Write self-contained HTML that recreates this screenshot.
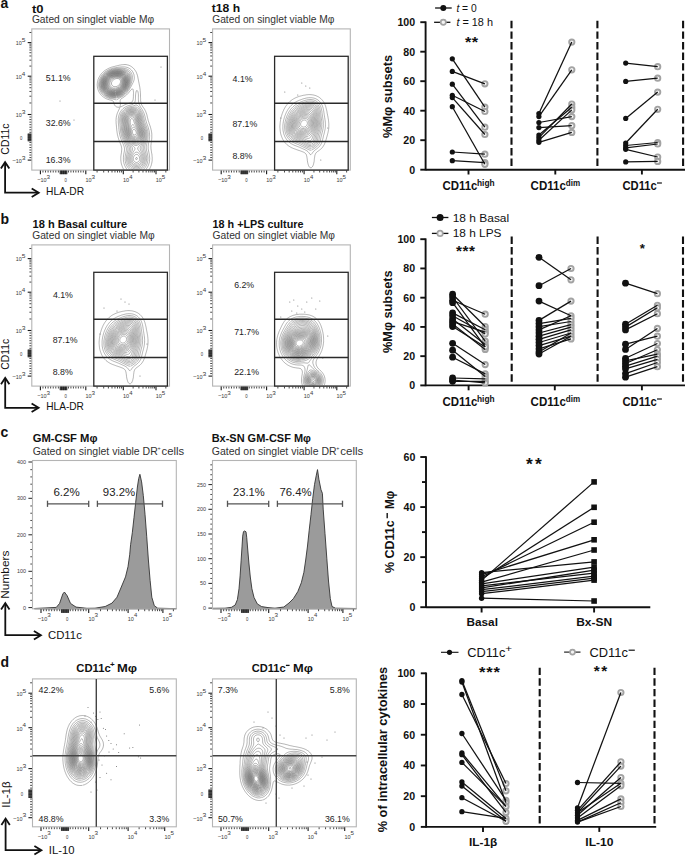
<!DOCTYPE html>
<html><head><meta charset="utf-8"><style>
html,body{margin:0;padding:0;background:#fff;}
body{width:685px;height:856px;overflow:hidden;}
svg{display:block;font-family:"Liberation Sans",sans-serif;}
</style></head><body>
<svg width="685" height="856" viewBox="0 0 685 856">
<rect width="685" height="856" fill="#fff"/>
<line x1="425.6" y1="21.4" x2="425.6" y2="170.5" stroke="#111" stroke-width="1.9"/>
<line x1="420.3" y1="22.2" x2="425.6" y2="22.2" stroke="#111" stroke-width="1.9"/>
<text x="397.41" y="26.2" font-size="11.2" font-weight="bold" fill="#111" textLength="17.75" lengthAdjust="spacingAndGlyphs">100</text>
<line x1="420.3" y1="51.7" x2="425.6" y2="51.7" stroke="#111" stroke-width="1.9"/>
<text x="403.3" y="55.7" font-size="11.2" font-weight="bold" fill="#111" textLength="11.83" lengthAdjust="spacingAndGlyphs">80</text>
<line x1="420.3" y1="81.2" x2="425.6" y2="81.2" stroke="#111" stroke-width="1.9"/>
<text x="403.3" y="85.2" font-size="11.2" font-weight="bold" fill="#111" textLength="11.83" lengthAdjust="spacingAndGlyphs">60</text>
<line x1="420.3" y1="110.7" x2="425.6" y2="110.7" stroke="#111" stroke-width="1.9"/>
<text x="403.3" y="114.7" font-size="11.2" font-weight="bold" fill="#111" textLength="11.83" lengthAdjust="spacingAndGlyphs">40</text>
<line x1="420.3" y1="140.2" x2="425.6" y2="140.2" stroke="#111" stroke-width="1.9"/>
<text x="403.3" y="144.2" font-size="11.2" font-weight="bold" fill="#111" textLength="11.83" lengthAdjust="spacingAndGlyphs">20</text>
<line x1="420.3" y1="169.7" x2="425.6" y2="169.7" stroke="#111" stroke-width="1.9"/>
<text x="409.24" y="173.7" font-size="11.2" font-weight="bold" fill="#111" textLength="5.92" lengthAdjust="spacingAndGlyphs">0</text>
<line x1="425.6" y1="169.7" x2="685" y2="169.7" stroke="#111" stroke-width="1.9"/>
<line x1="468.5" y1="169.7" x2="468.5" y2="174.5" stroke="#111" stroke-width="1.9"/>
<line x1="555.3" y1="169.7" x2="555.3" y2="174.5" stroke="#111" stroke-width="1.9"/>
<line x1="641.9" y1="169.7" x2="641.9" y2="174.5" stroke="#111" stroke-width="1.9"/>
<line x1="511.5" y1="20.8" x2="511.5" y2="169.7" stroke="#111" stroke-width="2.1" stroke-dasharray="7.4 3.2"/>
<line x1="597.4" y1="20.8" x2="597.4" y2="169.7" stroke="#111" stroke-width="2.1" stroke-dasharray="7.4 3.2"/>
<line x1="683.1" y1="20.8" x2="683.1" y2="169.7" stroke="#111" stroke-width="2.1" stroke-dasharray="7.4 3.2"/>
<circle cx="484.9" cy="83.8" r="2.65" fill="#f4f4f4" stroke="#a3a3a3" stroke-width="1.9"/>
<circle cx="484.9" cy="107.1" r="2.65" fill="#f4f4f4" stroke="#a3a3a3" stroke-width="1.9"/>
<circle cx="484.9" cy="111.5" r="2.65" fill="#f4f4f4" stroke="#a3a3a3" stroke-width="1.9"/>
<circle cx="484.9" cy="127.2" r="2.65" fill="#f4f4f4" stroke="#a3a3a3" stroke-width="1.9"/>
<circle cx="484.9" cy="134.5" r="2.65" fill="#f4f4f4" stroke="#a3a3a3" stroke-width="1.9"/>
<circle cx="484.9" cy="154.2" r="2.65" fill="#f4f4f4" stroke="#a3a3a3" stroke-width="1.9"/>
<circle cx="484.9" cy="162.7" r="2.65" fill="#f4f4f4" stroke="#a3a3a3" stroke-width="1.9"/>
<circle cx="484.9" cy="164.3" r="2.65" fill="#f4f4f4" stroke="#a3a3a3" stroke-width="1.9"/>
<line x1="452.3" y1="58.8" x2="484.9" y2="107.1" stroke="#111" stroke-width="1.25"/>
<line x1="452.3" y1="71.4" x2="484.9" y2="83.8" stroke="#111" stroke-width="1.25"/>
<line x1="452.3" y1="84.2" x2="484.9" y2="127.2" stroke="#111" stroke-width="1.25"/>
<line x1="452.3" y1="95.3" x2="484.9" y2="111.5" stroke="#111" stroke-width="1.25"/>
<line x1="452.3" y1="97.6" x2="484.9" y2="134.5" stroke="#111" stroke-width="1.25"/>
<line x1="452.3" y1="106.7" x2="484.9" y2="164.3" stroke="#111" stroke-width="1.25"/>
<line x1="452.3" y1="152" x2="484.9" y2="154.2" stroke="#111" stroke-width="1.25"/>
<line x1="452.3" y1="160.7" x2="484.9" y2="162.7" stroke="#111" stroke-width="1.25"/>
<circle cx="452.3" cy="58.8" r="2.6" fill="#111"/>
<circle cx="452.3" cy="71.4" r="2.6" fill="#111"/>
<circle cx="452.3" cy="84.2" r="2.6" fill="#111"/>
<circle cx="452.3" cy="95.3" r="2.6" fill="#111"/>
<circle cx="452.3" cy="97.6" r="2.6" fill="#111"/>
<circle cx="452.3" cy="106.7" r="2.6" fill="#111"/>
<circle cx="452.3" cy="152" r="2.6" fill="#111"/>
<circle cx="452.3" cy="160.7" r="2.6" fill="#111"/>
<circle cx="571.8" cy="42.1" r="2.65" fill="#f4f4f4" stroke="#a3a3a3" stroke-width="1.9"/>
<circle cx="571.8" cy="69.8" r="2.65" fill="#f4f4f4" stroke="#a3a3a3" stroke-width="1.9"/>
<circle cx="571.8" cy="104" r="2.65" fill="#f4f4f4" stroke="#a3a3a3" stroke-width="1.9"/>
<circle cx="571.8" cy="107.2" r="2.65" fill="#f4f4f4" stroke="#a3a3a3" stroke-width="1.9"/>
<circle cx="571.8" cy="109.9" r="2.65" fill="#f4f4f4" stroke="#a3a3a3" stroke-width="1.9"/>
<circle cx="571.8" cy="116.6" r="2.65" fill="#f4f4f4" stroke="#a3a3a3" stroke-width="1.9"/>
<circle cx="571.8" cy="125.7" r="2.65" fill="#f4f4f4" stroke="#a3a3a3" stroke-width="1.9"/>
<circle cx="571.8" cy="132.4" r="2.65" fill="#f4f4f4" stroke="#a3a3a3" stroke-width="1.9"/>
<line x1="538.9" y1="113.5" x2="571.8" y2="42.1" stroke="#111" stroke-width="1.25"/>
<line x1="538.9" y1="116.6" x2="571.8" y2="69.8" stroke="#111" stroke-width="1.25"/>
<line x1="538.9" y1="122.5" x2="571.8" y2="116.6" stroke="#111" stroke-width="1.25"/>
<line x1="538.9" y1="127.6" x2="571.8" y2="125.7" stroke="#111" stroke-width="1.25"/>
<line x1="538.9" y1="135.1" x2="571.8" y2="107.2" stroke="#111" stroke-width="1.25"/>
<line x1="538.9" y1="137.6" x2="571.8" y2="104" stroke="#111" stroke-width="1.25"/>
<line x1="538.9" y1="140.2" x2="571.8" y2="109.9" stroke="#111" stroke-width="1.25"/>
<line x1="538.9" y1="142.3" x2="571.8" y2="132.4" stroke="#111" stroke-width="1.25"/>
<circle cx="538.9" cy="113.5" r="2.6" fill="#111"/>
<circle cx="538.9" cy="116.6" r="2.6" fill="#111"/>
<circle cx="538.9" cy="122.5" r="2.6" fill="#111"/>
<circle cx="538.9" cy="127.6" r="2.6" fill="#111"/>
<circle cx="538.9" cy="135.1" r="2.6" fill="#111"/>
<circle cx="538.9" cy="137.6" r="2.6" fill="#111"/>
<circle cx="538.9" cy="140.2" r="2.6" fill="#111"/>
<circle cx="538.9" cy="142.3" r="2.6" fill="#111"/>
<circle cx="657.7" cy="66.7" r="2.65" fill="#f4f4f4" stroke="#a3a3a3" stroke-width="1.9"/>
<circle cx="657.7" cy="78.2" r="2.65" fill="#f4f4f4" stroke="#a3a3a3" stroke-width="1.9"/>
<circle cx="657.7" cy="92.1" r="2.65" fill="#f4f4f4" stroke="#a3a3a3" stroke-width="1.9"/>
<circle cx="657.7" cy="109.3" r="2.65" fill="#f4f4f4" stroke="#a3a3a3" stroke-width="1.9"/>
<circle cx="657.7" cy="142.5" r="2.65" fill="#f4f4f4" stroke="#a3a3a3" stroke-width="1.9"/>
<circle cx="657.7" cy="144" r="2.65" fill="#f4f4f4" stroke="#a3a3a3" stroke-width="1.9"/>
<circle cx="657.7" cy="157" r="2.65" fill="#f4f4f4" stroke="#a3a3a3" stroke-width="1.9"/>
<circle cx="657.7" cy="161.4" r="2.65" fill="#f4f4f4" stroke="#a3a3a3" stroke-width="1.9"/>
<line x1="625.7" y1="63.1" x2="657.7" y2="66.7" stroke="#111" stroke-width="1.25"/>
<line x1="625.7" y1="81.4" x2="657.7" y2="78.2" stroke="#111" stroke-width="1.25"/>
<line x1="625.7" y1="118.4" x2="657.7" y2="92.1" stroke="#111" stroke-width="1.25"/>
<line x1="625.7" y1="143" x2="657.7" y2="109.3" stroke="#111" stroke-width="1.25"/>
<line x1="625.7" y1="145.5" x2="657.7" y2="142.5" stroke="#111" stroke-width="1.25"/>
<line x1="625.7" y1="147.8" x2="657.7" y2="144" stroke="#111" stroke-width="1.25"/>
<line x1="625.7" y1="149.3" x2="657.7" y2="157" stroke="#111" stroke-width="1.25"/>
<line x1="625.7" y1="161.9" x2="657.7" y2="161.4" stroke="#111" stroke-width="1.25"/>
<circle cx="625.7" cy="63.1" r="2.6" fill="#111"/>
<circle cx="625.7" cy="81.4" r="2.6" fill="#111"/>
<circle cx="625.7" cy="118.4" r="2.6" fill="#111"/>
<circle cx="625.7" cy="143" r="2.6" fill="#111"/>
<circle cx="625.7" cy="145.5" r="2.6" fill="#111"/>
<circle cx="625.7" cy="147.8" r="2.6" fill="#111"/>
<circle cx="625.7" cy="149.3" r="2.6" fill="#111"/>
<circle cx="625.7" cy="161.9" r="2.6" fill="#111"/>
<text x="442.42" y="190" font-size="11.9" font-weight="bold" fill="#111" textLength="35.05" lengthAdjust="spacingAndGlyphs">CD11c</text>
<text x="477.02" y="186.4" font-size="8.6" font-weight="bold" fill="#111" textLength="17.56" lengthAdjust="spacingAndGlyphs">high</text>
<text x="530.62" y="190" font-size="11.9" font-weight="bold" fill="#111" textLength="35.26" lengthAdjust="spacingAndGlyphs">CD11c</text>
<text x="565.87" y="186.4" font-size="8.6" font-weight="bold" fill="#111" textLength="14.33" lengthAdjust="spacingAndGlyphs">dim</text>
<text x="622.43" y="190" font-size="11.9" font-weight="bold" fill="#111" textLength="34.34" lengthAdjust="spacingAndGlyphs">CD11c</text>
<line x1="657" y1="183" x2="661.9" y2="183" stroke="#111" stroke-width="1.2"/>
<text transform="translate(391.7 137.7) rotate(-90)" x="-0.31" y="0" font-size="12.2" font-weight="bold" fill="#111" textLength="83.12" lengthAdjust="spacingAndGlyphs">%Mφ subsets</text>
<line x1="435.1" y1="8" x2="451.7" y2="8" stroke="#111" stroke-width="1.3"/>
<circle cx="443.3" cy="8" r="3" fill="#111"/>
<line x1="434.1" y1="22.3" x2="450.4" y2="22.3" stroke="#111" stroke-width="1.3"/>
<circle cx="443.3" cy="22.3" r="2.6" fill="#f4f4f4" stroke="#a3a3a3" stroke-width="1.7"/>
<text x="456.4" y="12.1" font-size="10.8" fill="#111" textLength="20.3" lengthAdjust="spacingAndGlyphs"><tspan font-style="italic">t</tspan> = 0</text>
<text x="456.4" y="25.9" font-size="11.1" fill="#111" textLength="36.6" lengthAdjust="spacingAndGlyphs"><tspan font-style="italic">t</tspan> = 18 h</text>
<text x="464.95" y="46.55" font-size="15.03" font-weight="bold" fill="#111" textLength="6.33" lengthAdjust="spacingAndGlyphs">*</text>
<text x="471.67" y="46.55" font-size="15.03" font-weight="bold" fill="#111" textLength="6.33" lengthAdjust="spacingAndGlyphs">*</text>
<clipPath id="c0_0"><rect x="31.8" y="28.9" width="137.7" height="141.2"/></clipPath>
<path d="M123.9 169.7 L123.4 168.9 L123.0 168.1 L122.6 167.3 L122.3 166.5 L122.0 165.7 L121.7 164.9 L121.4 163.8 L121.2 162.9 L121.0 161.8 L120.9 160.9 L120.8 159.7 L120.8 158.5 L120.8 157.3 L120.9 156.1 L121.0 155.3 L121.2 154.1 L121.4 152.9 L121.5 152.1 L121.6 150.9 L121.7 149.7 L121.7 148.5 L121.5 147.3 L121.4 146.5 L121.0 145.3 L120.7 144.5 L120.4 143.7 L120.1 142.9 L119.8 142.1 L119.4 141.1 L119.0 140.1 L118.7 139.3 L118.5 138.5 L118.2 137.6 L117.9 136.5 L117.7 135.7 L117.4 134.5 L117.3 133.7 L117.1 132.5 L117.0 131.7 L116.8 130.5 L116.7 129.3 L116.6 128.2 L116.5 127.3 L116.4 126.1 L116.3 124.9 L116.2 124.0 L116.1 122.9 L116.1 121.7 L116.0 120.5 L116.1 119.3 L116.2 118.1 L116.3 117.3 L116.5 116.1 L116.7 115.3 L117.0 114.2 L117.3 113.3 L117.6 112.5 L118.0 111.7 L118.3 110.9 L118.7 110.1 L119.1 109.3 L119.4 108.5 L119.8 107.4 L120.4 106.9 L121.4 106.6 L122.2 106.2 L123.0 105.8 L123.8 105.4 L124.6 104.9 L125.4 104.6 L126.2 104.2 L127.0 103.9 L127.8 103.6 L128.9 103.3 L129.8 103.0 L130.6 102.8 L131.4 102.4 L132.2 101.7 L132.6 101.1 L133.0 100.1 L133.2 99.3 L133.3 98.1 L133.4 96.9 L133.4 96.1 L133.4 94.9 L133.5 93.7 L133.5 92.5 L133.4 91.3 L133.3 90.5 L133.0 89.3 L132.6 88.9 L131.8 89.1 L131.2 89.7 L130.6 90.3 L130.1 90.9 L129.5 91.7 L129.0 92.3 L128.5 92.9 L127.8 93.7 L127.4 94.1 L126.6 94.9 L126.1 95.3 L125.4 95.9 L124.6 96.5 L124.1 96.9 L123.4 97.4 L122.6 97.9 L121.8 98.4 L121.1 98.9 L120.6 99.5 L120.2 100.4 L120.1 101.3 L120.2 102.1 L120.3 103.3 L120.4 104.5 L120.2 105.7 L120.0 106.5 L119.4 107.2 L118.2 107.2 L117.0 107.1 L116.2 106.7 L115.4 106.1 L115.0 105.7 L114.5 104.9 L114.2 104.1 L113.8 102.9 L113.6 102.1 L113.2 101.3 L112.6 100.7 L111.8 100.4 L110.8 100.1 L109.8 99.9 L109.0 99.7 L107.8 99.3 L107.0 99.0 L106.2 98.7 L105.4 98.3 L104.6 97.8 L103.8 97.3 L103.3 96.9 L102.6 96.4 L101.8 95.7 L101.4 95.3 L100.7 94.5 L100.2 93.8 L99.8 93.3 L99.3 92.5 L98.9 91.7 L98.5 90.9 L98.2 90.1 L97.8 88.9 L97.6 88.1 L97.4 87.0 L97.3 86.1 L97.2 84.9 L97.3 83.7 L97.4 82.5 L97.5 81.7 L97.8 80.6 L98.0 79.7 L98.3 78.9 L98.7 78.1 L99.0 77.3 L99.5 76.5 L100.0 75.7 L100.5 74.9 L101.0 74.2 L101.4 73.7 L102.2 72.9 L102.6 72.5 L103.4 71.7 L103.9 71.3 L104.6 70.7 L105.4 70.2 L106.1 69.7 L106.8 69.3 L107.5 68.9 L108.3 68.5 L109.2 68.1 L110.2 67.7 L111.0 67.4 L111.8 67.1 L112.6 66.9 L113.8 66.6 L114.6 66.4 L115.7 66.1 L116.6 65.9 L117.4 65.7 L118.6 65.4 L119.4 65.2 L120.6 65.0 L121.4 64.8 L122.6 64.7 L123.8 64.6 L125.0 64.5 L126.2 64.6 L127.4 64.9 L128.2 65.1 L129.0 65.3 L129.8 65.7 L130.6 66.1 L131.4 66.6 L132.2 67.2 L132.8 67.7 L133.4 68.2 L134.0 68.9 L134.6 69.6 L135.0 70.2 L135.5 70.9 L136.0 71.7 L136.4 72.5 L136.7 73.3 L137.0 74.1 L137.4 75.3 L137.6 76.1 L137.8 77.0 L138.0 78.1 L138.2 79.1 L138.4 80.1 L138.6 81.2 L138.8 82.1 L139.0 83.2 L139.2 84.1 L139.4 85.2 L139.6 86.1 L139.8 87.3 L139.9 88.1 L140.1 89.3 L140.2 90.4 L140.3 91.3 L140.4 92.5 L140.5 93.7 L140.5 94.9 L140.5 96.1 L140.5 97.3 L140.6 98.5 L140.6 99.7 L140.6 100.5 L140.8 101.7 L141.0 102.9 L141.2 103.7 L141.5 104.5 L141.9 105.3 L142.4 106.1 L142.9 106.9 L143.4 107.6 L143.8 108.2 L144.3 108.9 L144.8 109.7 L145.2 110.5 L145.6 111.3 L145.9 112.1 L146.2 112.9 L146.6 114.0 L146.9 114.9 L147.1 115.7 L147.3 116.9 L147.5 117.7 L147.8 118.8 L148.0 119.7 L148.2 120.5 L148.6 121.7 L148.9 122.5 L149.1 123.3 L149.4 124.1 L149.8 125.2 L150.1 126.1 L150.4 126.9 L150.6 127.7 L150.9 128.9 L151.1 129.7 L151.4 130.9 L151.5 131.7 L151.7 132.9 L151.8 134.1 L151.8 134.9 L151.8 136.1 L151.8 137.3 L151.8 138.1 L151.7 139.3 L151.6 140.5 L151.4 141.7 L151.3 142.5 L151.1 143.7 L151.0 144.9 L150.9 145.7 L150.9 146.9 L151.0 148.1 L151.0 148.9 L151.2 150.1 L151.4 151.3 L151.5 152.1 L151.7 153.3 L151.9 154.1 L152.0 155.3 L152.1 156.5 L152.2 157.3 L152.2 158.5 L152.2 159.7 L152.2 160.5 L152.0 161.7 L151.8 162.9 L151.6 163.7 L151.4 164.6 L151.1 165.7 L150.7 166.5 L150.4 167.3 L150.0 168.1 L149.6 168.9 L149.1 169.7 M116.6 99.8 L115.6 99.7 L114.6 99.5 L113.8 99.3 L112.6 99.0 L111.8 98.9 L110.6 98.7 L109.8 98.5 L108.6 98.2 L107.8 97.9 L107.0 97.5 L106.2 97.2 L105.4 96.7 L104.6 96.2 L103.9 95.7 L103.4 95.3 L102.6 94.5 L102.2 94.1 L101.5 93.3 L101.0 92.6 L100.6 91.9 L100.2 91.2 L99.8 90.4 L99.4 89.4 L99.1 88.5 L98.9 87.7 L98.7 86.5 L98.6 85.3 L98.6 84.5 L98.6 83.7 L98.8 82.5 L99.0 81.3 L99.2 80.5 L99.5 79.7 L99.8 78.8 L100.2 77.9 L100.6 77.2 L101.0 76.5 L101.5 75.7 L102.1 74.9 L102.6 74.3 L103.2 73.7 L103.8 73.1 L104.4 72.5 L105.0 72.0 L105.8 71.4 L106.6 70.9 L107.3 70.5 L108.0 70.1 L108.8 69.7 L109.7 69.3 L110.6 68.9 L111.4 68.7 L112.2 68.4 L113.4 68.1 L114.2 67.9 L115.3 67.7 L116.2 67.5 L117.4 67.4 L118.2 67.2 L119.4 67.1 L120.6 67.0 L121.8 66.9 L122.6 66.9 L123.8 66.9 L124.6 66.9 L125.8 67.1 L126.7 67.3 L127.8 67.6 L128.6 68.0 L129.4 68.4 L130.1 68.9 L130.6 69.3 L131.4 70.0 L131.8 70.5 L132.4 71.3 L132.9 72.1 L133.3 72.9 L133.6 73.7 L133.9 74.5 L134.1 75.7 L134.2 76.5 L134.3 77.7 L134.2 78.8 L134.1 79.7 L133.8 80.7 L133.5 81.7 L133.1 82.5 L132.7 83.3 L132.3 84.1 L131.9 84.9 L131.5 85.7 L131.1 86.5 L130.6 87.3 L130.2 88.0 L129.8 88.7 L129.4 89.4 L128.9 90.1 L128.4 90.9 L127.8 91.6 L127.4 92.1 L126.7 92.9 L126.2 93.4 L125.5 94.1 L125.0 94.5 L124.2 95.2 L123.5 95.7 L122.9 96.1 L122.2 96.6 L121.4 97.0 L120.6 97.5 L119.8 97.9 L119.0 98.4 L118.2 98.9 L117.7 99.3 L117.0 99.7 M127.3 169.7 L126.7 168.9 L126.2 168.2 L125.8 167.6 L125.4 166.9 L125.0 166.1 L124.6 165.3 L124.2 164.1 L123.9 163.3 L123.8 162.5 L123.5 161.3 L123.4 160.1 L123.4 159.3 L123.4 158.1 L123.4 157.3 L123.5 156.1 L123.7 154.9 L123.8 154.1 L124.0 152.9 L124.2 152.1 L124.4 150.9 L124.5 149.7 L124.5 148.5 L124.3 147.3 L124.1 146.5 L123.8 145.6 L123.4 144.6 L123.0 143.7 L122.7 142.9 L122.3 142.1 L121.9 141.3 L121.6 140.5 L121.3 139.7 L121.0 138.9 L120.6 137.9 L120.3 136.9 L120.1 136.1 L119.8 134.9 L119.6 134.1 L119.4 132.9 L119.3 132.1 L119.1 130.9 L119.0 129.7 L118.9 128.9 L118.8 127.7 L118.7 126.5 L118.6 125.6 L118.5 124.5 L118.4 123.3 L118.3 122.1 L118.3 120.9 L118.3 119.7 L118.3 118.5 L118.5 117.3 L118.6 116.5 L118.9 115.3 L119.2 114.5 L119.5 113.7 L119.9 112.9 L120.3 112.1 L120.8 111.3 L121.3 110.5 L121.8 109.9 L122.4 109.3 L123.0 108.7 L123.7 108.1 L124.3 107.7 L125.0 107.2 L125.8 106.8 L126.6 106.4 L127.4 106.0 L128.3 105.7 L129.4 105.4 L130.2 105.2 L131.3 104.9 L132.2 104.6 L133.0 104.2 L133.7 103.7 L134.2 103.2 L134.7 102.5 L135.0 101.7 L135.3 100.5 L135.4 99.7 L135.5 98.5 L135.5 97.3 L135.5 96.1 L135.6 94.9 L135.7 93.7 L135.8 92.9 L136.1 91.7 L136.3 90.9 L137.0 90.3 L137.6 90.9 L137.9 91.7 L138.2 92.9 L138.3 93.7 L138.4 94.9 L138.4 96.1 L138.4 97.3 L138.4 98.5 L138.4 99.7 L138.5 100.9 L138.6 101.9 L138.8 102.9 L139.0 103.7 L139.4 104.8 L139.8 105.6 L140.2 106.4 L140.6 107.1 L141.0 107.8 L141.5 108.5 L142.0 109.3 L142.5 110.1 L142.9 110.9 L143.3 111.7 L143.7 112.5 L144.0 113.3 L144.3 114.1 L144.6 115.1 L144.9 116.1 L145.1 116.9 L145.3 118.1 L145.5 118.9 L145.8 120.1 L146.0 120.9 L146.3 121.7 L146.6 122.8 L146.9 123.7 L147.2 124.5 L147.5 125.3 L147.8 126.2 L148.2 127.3 L148.4 128.1 L148.6 128.9 L148.9 130.1 L149.1 130.9 L149.3 132.1 L149.4 132.9 L149.5 134.1 L149.6 135.3 L149.6 136.5 L149.5 137.7 L149.4 138.5 L149.3 139.7 L149.1 140.9 L148.9 141.7 L148.7 142.9 L148.5 143.7 L148.3 144.9 L148.2 146.1 L148.2 146.9 L148.2 148.1 L148.2 148.9 L148.4 150.1 L148.6 151.1 L148.8 152.1 L149.0 153.0 L149.2 154.1 L149.4 155.2 L149.5 156.1 L149.6 157.3 L149.7 158.5 L149.6 159.7 L149.5 160.9 L149.4 161.7 L149.2 162.9 L148.9 163.7 L148.6 164.7 L148.2 165.7 L147.8 166.5 L147.4 167.3 L147.0 167.9 L146.6 168.5 L146.0 169.3 M116.2 98.2 L115.0 98.2 L113.8 98.2 L112.8 98.1 L111.8 98.0 L110.6 97.8 L109.8 97.6 L108.8 97.3 L107.8 96.9 L107.0 96.6 L106.2 96.1 L105.5 95.7 L104.9 95.3 L104.2 94.8 L103.5 94.1 L103.0 93.6 L102.4 92.9 L101.8 92.1 L101.4 91.5 L101.0 90.8 L100.6 90.0 L100.2 89.0 L99.9 88.1 L99.7 87.3 L99.6 86.1 L99.5 84.9 L99.5 83.7 L99.6 82.5 L99.8 81.7 L100.1 80.5 L100.4 79.7 L100.7 78.9 L101.1 78.1 L101.5 77.3 L102.0 76.5 L102.6 75.7 L103.0 75.2 L103.6 74.5 L104.2 73.8 L104.8 73.3 L105.4 72.8 L106.2 72.2 L106.9 71.7 L107.5 71.3 L108.3 70.9 L109.1 70.5 L110.0 70.1 L111.0 69.7 L111.8 69.4 L112.6 69.2 L113.8 68.9 L114.6 68.7 L115.8 68.5 L116.6 68.4 L117.8 68.3 L119.0 68.2 L120.2 68.2 L121.4 68.1 L122.6 68.2 L123.8 68.3 L125.0 68.5 L125.8 68.7 L126.6 68.9 L127.5 69.3 L128.2 69.7 L129.0 70.2 L129.8 70.9 L130.2 71.3 L130.8 72.1 L131.3 72.9 L131.7 73.7 L132.0 74.5 L132.2 75.4 L132.4 76.5 L132.4 77.7 L132.3 78.9 L132.2 79.8 L132.0 80.9 L131.8 81.7 L131.4 82.8 L131.1 83.7 L130.8 84.5 L130.5 85.3 L130.1 86.1 L129.7 86.9 L129.3 87.7 L128.9 88.5 L128.4 89.3 L127.8 90.1 L127.4 90.7 L127.0 91.3 L126.3 92.1 L125.8 92.6 L125.1 93.3 L124.6 93.8 L123.8 94.4 L123.2 94.9 L122.6 95.3 L121.8 95.8 L121.0 96.3 L120.2 96.7 L119.4 97.1 L118.6 97.4 L117.8 97.7 L116.6 98.1 M130.0 169.7 L129.4 169.2 L128.7 168.5 L128.2 167.9 L127.7 167.3 L127.2 166.5 L126.7 165.7 L126.3 164.9 L126.0 164.1 L125.7 163.3 L125.4 162.1 L125.3 161.3 L125.1 160.1 L125.1 158.9 L125.1 157.7 L125.2 156.5 L125.4 155.3 L125.5 154.5 L125.8 153.3 L125.9 152.5 L126.2 151.3 L126.3 150.5 L126.4 149.3 L126.3 148.1 L126.2 147.3 L125.8 146.1 L125.5 145.3 L125.1 144.5 L124.7 143.7 L124.3 142.9 L123.9 142.1 L123.5 141.3 L123.2 140.5 L122.8 139.7 L122.5 138.9 L122.2 138.1 L121.8 137.0 L121.5 136.1 L121.3 135.3 L121.1 134.1 L120.9 133.3 L120.7 132.1 L120.6 131.1 L120.5 130.1 L120.4 128.9 L120.3 127.7 L120.2 126.9 L120.0 125.7 L119.9 124.5 L119.8 123.3 L119.7 122.5 L119.7 121.3 L119.7 120.1 L119.7 118.9 L119.8 118.0 L120.0 116.9 L120.2 116.0 L120.5 114.9 L120.8 114.1 L121.2 113.3 L121.7 112.5 L122.2 111.7 L122.6 111.2 L123.2 110.5 L123.8 109.9 L124.5 109.3 L125.0 108.9 L125.8 108.3 L126.6 107.9 L127.4 107.5 L128.2 107.2 L129.1 106.9 L130.2 106.6 L131.0 106.5 L132.2 106.2 L133.0 106.0 L134.0 105.7 L135.0 105.3 L135.8 105.0 L137.0 105.1 L137.7 105.7 L138.2 106.2 L138.7 106.9 L139.3 107.7 L139.8 108.5 L140.2 109.1 L140.6 109.7 L141.1 110.5 L141.6 111.3 L142.0 112.1 L142.3 112.9 L142.7 113.7 L143.0 114.7 L143.3 115.7 L143.5 116.5 L143.8 117.7 L144.0 118.5 L144.2 119.5 L144.4 120.5 L144.6 121.3 L145.0 122.5 L145.3 123.3 L145.6 124.1 L145.8 124.9 L146.2 125.9 L146.6 126.9 L146.8 127.7 L147.1 128.5 L147.4 129.7 L147.6 130.5 L147.8 131.6 L147.9 132.5 L148.1 133.7 L148.1 134.9 L148.1 136.1 L148.0 137.3 L147.9 138.5 L147.8 139.3 L147.5 140.5 L147.4 141.3 L147.1 142.5 L146.9 143.3 L146.6 144.5 L146.5 145.3 L146.3 146.5 L146.3 147.7 L146.3 148.9 L146.5 150.1 L146.7 150.9 L147.0 152.1 L147.2 152.9 L147.4 153.9 L147.6 154.9 L147.8 156.1 L147.9 156.9 L148.0 158.1 L147.9 159.3 L147.9 160.5 L147.7 161.3 L147.5 162.5 L147.3 163.3 L147.0 164.1 L146.6 165.0 L146.2 165.8 L145.8 166.5 L145.3 167.3 L144.6 168.1 L144.2 168.6 L143.5 169.3 L143.0 169.7 M116.2 97.3 L115.0 97.4 L113.8 97.5 L112.6 97.4 L111.8 97.3 L110.6 97.1 L109.8 96.9 L108.6 96.5 L107.8 96.2 L107.0 95.8 L106.2 95.3 L105.5 94.9 L105.0 94.5 L104.2 93.8 L103.7 93.3 L103.0 92.5 L102.6 92.0 L102.1 91.3 L101.6 90.5 L101.2 89.7 L100.9 88.9 L100.6 87.8 L100.4 86.9 L100.2 85.7 L100.2 84.9 L100.2 84.0 L100.3 82.9 L100.5 81.7 L100.7 80.9 L101.0 80.0 L101.4 79.0 L101.8 78.2 L102.2 77.4 L102.6 76.8 L103.1 76.1 L103.7 75.3 L104.2 74.8 L104.9 74.1 L105.4 73.6 L106.2 73.0 L106.9 72.5 L107.5 72.1 L108.2 71.7 L109.0 71.3 L109.8 70.9 L110.7 70.5 L111.8 70.1 L112.6 69.9 L113.4 69.7 L114.6 69.4 L115.5 69.3 L116.6 69.2 L117.8 69.1 L119.0 69.0 L120.2 69.0 L121.4 69.0 L122.6 69.1 L123.6 69.3 L124.6 69.5 L125.4 69.8 L126.3 70.1 L127.1 70.5 L127.8 70.9 L128.6 71.6 L129.1 72.1 L129.8 72.9 L130.2 73.6 L130.6 74.5 L130.9 75.3 L131.1 76.1 L131.2 77.3 L131.2 78.5 L131.1 79.7 L131.0 80.5 L130.8 81.7 L130.6 82.5 L130.2 83.7 L129.9 84.5 L129.6 85.3 L129.3 86.1 L128.9 86.9 L128.5 87.7 L128.1 88.5 L127.6 89.3 L127.0 90.1 L126.6 90.7 L126.1 91.3 L125.4 92.1 L125.0 92.5 L124.2 93.3 L123.7 93.7 L123.0 94.2 L122.2 94.8 L121.4 95.3 L120.6 95.7 L119.8 96.1 L119.0 96.5 L118.2 96.8 L117.4 97.0 L116.2 97.3 M132.9 169.7 L132.1 169.3 L131.4 168.9 L130.6 168.3 L130.0 167.7 L129.4 167.1 L128.9 166.5 L128.4 165.7 L127.9 164.9 L127.5 164.1 L127.2 163.3 L126.9 162.5 L126.7 161.3 L126.5 160.5 L126.4 159.3 L126.4 158.1 L126.5 156.9 L126.6 156.1 L126.8 154.9 L127.0 154.1 L127.3 152.9 L127.5 152.1 L127.8 150.9 L127.9 150.1 L128.0 148.9 L127.8 147.7 L127.6 146.9 L127.3 146.1 L127.0 145.3 L126.6 144.5 L126.1 143.7 L125.7 142.9 L125.2 142.1 L124.8 141.3 L124.4 140.5 L124.0 139.7 L123.7 138.9 L123.3 138.1 L123.0 137.2 L122.7 136.1 L122.4 135.3 L122.2 134.2 L122.0 133.3 L121.8 132.1 L121.7 131.3 L121.6 130.1 L121.5 128.9 L121.4 128.1 L121.3 126.9 L121.2 125.7 L121.0 124.5 L121.0 123.7 L120.9 122.5 L120.8 121.3 L120.8 120.1 L120.8 118.9 L120.9 117.7 L121.1 116.9 L121.4 115.7 L121.7 114.9 L122.0 114.1 L122.5 113.3 L123.0 112.5 L123.4 111.9 L123.9 111.3 L124.6 110.6 L125.2 110.1 L125.8 109.6 L126.6 109.1 L127.4 108.7 L128.2 108.3 L129.0 108.1 L130.2 107.7 L131.0 107.6 L132.2 107.4 L133.0 107.3 L134.2 107.1 L135.4 107.0 L136.6 107.2 L137.4 107.6 L137.9 108.1 L138.6 108.8 L139.0 109.3 L139.6 110.1 L140.1 110.9 L140.6 111.7 L141.0 112.5 L141.3 113.3 L141.7 114.1 L141.9 114.9 L142.2 115.8 L142.5 116.9 L142.7 117.7 L142.9 118.9 L143.1 119.7 L143.4 120.9 L143.6 121.7 L143.8 122.5 L144.2 123.6 L144.5 124.5 L144.8 125.3 L145.1 126.1 L145.4 126.9 L145.8 128.0 L146.1 128.9 L146.3 129.7 L146.6 130.9 L146.7 131.7 L146.9 132.9 L147.0 134.1 L147.0 134.9 L147.0 135.7 L146.9 136.9 L146.8 138.1 L146.6 139.2 L146.4 140.1 L146.2 140.9 L145.9 142.1 L145.6 142.9 L145.4 143.7 L145.1 144.9 L144.9 145.7 L144.7 146.9 L144.7 148.1 L144.8 149.3 L145.0 150.2 L145.3 151.3 L145.5 152.1 L145.8 153.3 L146.0 154.1 L146.2 154.9 L146.4 156.1 L146.6 157.3 L146.6 158.3 L146.6 158.9 L146.5 160.1 L146.4 161.3 L146.2 162.1 L145.8 163.3 L145.5 164.1 L145.1 164.9 L144.6 165.7 L144.2 166.3 L143.8 166.9 L143.0 167.7 L142.6 168.1 L141.8 168.7 L141.0 169.2 L140.2 169.6 M116.6 96.6 L115.4 96.8 L114.2 96.9 L113.0 96.8 L111.8 96.7 L110.7 96.5 L109.8 96.3 L109.0 96.0 L108.2 95.7 L107.3 95.3 L106.6 94.9 L105.8 94.4 L105.0 93.7 L104.5 93.3 L103.8 92.6 L103.4 92.1 L102.8 91.3 L102.3 90.5 L101.9 89.7 L101.6 88.9 L101.3 88.1 L101.0 86.9 L100.9 86.1 L100.8 84.9 L100.8 83.7 L100.9 82.5 L101.1 81.7 L101.4 80.6 L101.7 79.7 L102.1 78.9 L102.5 78.1 L102.9 77.3 L103.4 76.6 L103.8 76.1 L104.5 75.3 L105.0 74.8 L105.7 74.1 L106.2 73.7 L107.0 73.1 L107.8 72.6 L108.6 72.1 L109.3 71.7 L110.2 71.3 L111.0 71.0 L111.8 70.7 L112.6 70.5 L113.8 70.2 L114.6 70.0 L115.8 69.8 L117.0 69.7 L117.8 69.7 L119.0 69.6 L120.2 69.7 L121.0 69.7 L122.2 69.9 L123.4 70.1 L124.2 70.3 L125.0 70.6 L125.8 70.9 L126.6 71.3 L127.4 71.9 L128.1 72.5 L128.6 73.1 L129.0 73.7 L129.5 74.5 L129.8 75.3 L130.2 76.5 L130.3 77.3 L130.4 78.5 L130.3 79.7 L130.2 80.6 L130.0 81.7 L129.8 82.6 L129.5 83.7 L129.2 84.5 L128.9 85.3 L128.6 86.1 L128.2 87.0 L127.8 87.8 L127.4 88.5 L126.9 89.3 L126.3 90.1 L125.8 90.8 L125.4 91.3 L124.6 92.1 L124.2 92.5 L123.4 93.2 L122.8 93.7 L122.2 94.1 L121.4 94.6 L120.6 95.1 L119.8 95.5 L119.0 95.8 L118.2 96.1 L117.0 96.5 M138.2 168.9 L137.0 169.1 L135.8 169.1 L134.8 168.9 L133.8 168.6 L133.0 168.3 L132.2 167.8 L131.5 167.3 L131.0 166.9 L130.2 166.1 L129.8 165.6 L129.3 164.9 L128.9 164.1 L128.5 163.3 L128.2 162.5 L127.9 161.3 L127.7 160.5 L127.6 159.3 L127.6 158.1 L127.7 156.9 L127.8 156.1 L128.1 154.9 L128.3 154.1 L128.6 153.0 L128.9 152.1 L129.1 151.3 L129.3 150.1 L129.4 149.3 L129.4 148.5 L129.2 147.3 L128.9 146.5 L128.5 145.7 L128.1 144.9 L127.6 144.1 L127.1 143.3 L126.6 142.5 L126.2 141.8 L125.8 141.1 L125.4 140.4 L125.0 139.6 L124.6 138.8 L124.2 137.8 L123.9 136.9 L123.6 136.1 L123.4 135.3 L123.1 134.1 L122.9 133.3 L122.7 132.1 L122.6 130.9 L122.5 130.1 L122.4 128.9 L122.3 127.7 L122.2 126.6 L122.1 125.7 L122.0 124.5 L121.9 123.3 L121.8 122.5 L121.7 121.3 L121.7 120.1 L121.7 118.9 L121.8 118.1 L122.0 116.9 L122.3 116.1 L122.6 115.1 L123.0 114.2 L123.4 113.5 L123.8 112.9 L124.4 112.1 L125.0 111.5 L125.7 110.9 L126.2 110.5 L127.0 109.9 L127.8 109.5 L128.6 109.2 L129.4 108.9 L130.6 108.6 L131.4 108.5 L132.6 108.3 L133.8 108.2 L135.0 108.2 L136.2 108.5 L137.0 108.9 L137.5 109.3 L138.2 110.0 L138.7 110.5 L139.2 111.3 L139.7 112.1 L140.1 112.9 L140.5 113.7 L140.8 114.5 L141.1 115.3 L141.4 116.3 L141.6 117.3 L141.8 118.1 L142.1 119.3 L142.2 120.1 L142.5 121.3 L142.8 122.1 L143.0 122.9 L143.4 124.1 L143.7 124.9 L144.0 125.7 L144.3 126.5 L144.6 127.3 L145.0 128.5 L145.2 129.3 L145.5 130.1 L145.7 131.3 L145.9 132.1 L146.0 133.3 L146.1 134.5 L146.1 135.7 L146.0 136.9 L145.8 138.1 L145.7 138.9 L145.4 140.0 L145.1 140.9 L144.9 141.7 L144.6 142.5 L144.2 143.7 L143.9 144.5 L143.7 145.3 L143.4 146.4 L143.3 147.3 L143.3 148.5 L143.4 149.4 L143.7 150.5 L143.9 151.3 L144.2 152.3 L144.5 153.3 L144.8 154.1 L145.0 155.1 L145.2 156.1 L145.4 157.3 L145.4 158.1 L145.4 159.3 L145.3 160.1 L145.1 161.3 L144.9 162.1 L144.6 163.1 L144.2 164.0 L143.8 164.7 L143.4 165.3 L142.8 166.1 L142.2 166.7 L141.5 167.3 L141.0 167.7 L140.2 168.2 L139.4 168.5 L138.2 168.9 M116.2 96.1 L115.0 96.3 L113.8 96.3 L112.6 96.3 L111.4 96.1 L110.6 96.0 L109.7 95.7 L108.6 95.3 L107.8 95.0 L107.0 94.5 L106.4 94.1 L105.8 93.7 L105.0 93.0 L104.5 92.5 L103.8 91.7 L103.4 91.2 L102.9 90.5 L102.5 89.7 L102.1 88.9 L101.8 87.9 L101.5 86.9 L101.4 86.0 L101.3 84.9 L101.3 83.7 L101.4 82.9 L101.6 81.7 L101.8 80.9 L102.2 79.9 L102.6 79.0 L103.0 78.2 L103.4 77.5 L103.8 76.9 L104.4 76.1 L105.0 75.5 L105.6 74.9 L106.2 74.3 L107.0 73.7 L107.6 73.3 L108.2 72.9 L109.0 72.4 L109.8 72.0 L110.6 71.7 L111.6 71.3 L112.6 71.0 L113.4 70.8 L114.6 70.5 L115.4 70.4 L116.6 70.3 L117.8 70.2 L119.0 70.2 L120.2 70.3 L121.4 70.4 L122.2 70.5 L123.4 70.8 L124.2 71.1 L125.0 71.4 L125.8 71.8 L126.6 72.3 L127.3 72.9 L127.8 73.5 L128.3 74.1 L128.8 74.9 L129.1 75.7 L129.4 76.8 L129.6 77.7 L129.6 78.9 L129.6 80.1 L129.5 81.3 L129.3 82.1 L129.0 83.3 L128.8 84.1 L128.5 84.9 L128.2 85.7 L127.8 86.6 L127.4 87.4 L127.0 88.1 L126.5 88.9 L126.0 89.7 L125.4 90.5 L125.0 91.0 L124.3 91.7 L123.8 92.2 L123.0 92.9 L122.5 93.3 L121.8 93.8 L121.0 94.3 L120.2 94.7 L119.4 95.1 L118.6 95.4 L117.8 95.7 L116.6 96.0 M137.8 167.7 L136.6 167.8 L135.4 167.7 L134.6 167.6 L133.8 167.3 L133.0 166.9 L132.2 166.3 L131.5 165.7 L131.0 165.2 L130.4 164.5 L129.9 163.7 L129.5 162.9 L129.2 162.1 L129.0 161.3 L128.8 160.1 L128.7 158.9 L128.7 157.7 L128.9 156.5 L129.0 155.7 L129.4 154.5 L129.6 153.7 L129.9 152.9 L130.2 152.0 L130.6 150.9 L130.8 150.1 L130.9 148.9 L130.7 147.7 L130.4 146.9 L130.1 146.1 L129.6 145.3 L129.0 144.5 L128.6 143.9 L128.2 143.3 L127.7 142.5 L127.1 141.7 L126.6 140.9 L126.2 140.2 L125.8 139.4 L125.4 138.6 L125.0 137.7 L124.7 136.9 L124.4 136.1 L124.2 135.3 L123.9 134.1 L123.7 133.3 L123.5 132.1 L123.4 130.9 L123.3 130.1 L123.2 128.9 L123.1 127.7 L123.0 126.5 L122.9 125.7 L122.8 124.5 L122.7 123.3 L122.6 122.4 L122.5 121.3 L122.5 120.1 L122.6 118.9 L122.6 118.1 L122.9 116.9 L123.1 116.1 L123.4 115.3 L123.8 114.5 L124.3 113.7 L124.8 112.9 L125.4 112.3 L126.0 111.7 L126.6 111.2 L127.4 110.7 L128.2 110.2 L129.0 109.9 L129.8 109.6 L131.0 109.4 L131.8 109.3 L133.0 109.2 L134.2 109.2 L135.0 109.3 L136.2 109.7 L136.9 110.1 L137.4 110.5 L138.2 111.3 L138.6 111.9 L139.0 112.5 L139.4 113.3 L139.8 114.1 L140.2 115.1 L140.5 116.1 L140.7 116.9 L141.0 118.1 L141.2 118.9 L141.4 120.0 L141.6 120.9 L141.8 121.7 L142.1 122.9 L142.4 123.7 L142.7 124.5 L143.0 125.3 L143.4 126.3 L143.8 127.3 L144.0 128.1 L144.3 128.9 L144.6 129.9 L144.8 130.9 L145.0 131.7 L145.2 132.9 L145.3 134.1 L145.3 135.3 L145.2 136.5 L145.0 137.7 L144.9 138.5 L144.6 139.6 L144.3 140.5 L144.0 141.3 L143.7 142.1 L143.4 142.9 L143.0 143.8 L142.6 144.8 L142.3 145.7 L142.0 146.5 L141.8 147.7 L141.9 148.9 L142.1 150.1 L142.4 150.9 L142.7 151.7 L143.0 152.5 L143.4 153.6 L143.7 154.5 L143.9 155.3 L144.2 156.5 L144.3 157.3 L144.3 158.5 L144.3 159.7 L144.2 160.5 L143.9 161.7 L143.6 162.5 L143.3 163.3 L142.8 164.1 L142.3 164.9 L141.8 165.4 L141.1 166.1 L140.6 166.5 L139.8 167.0 L139.0 167.4 L137.8 167.7 M115.8 95.7 L114.6 95.8 L113.4 95.9 L112.2 95.8 L111.4 95.6 L110.2 95.4 L109.4 95.1 L108.6 94.8 L107.8 94.4 L107.0 93.9 L106.2 93.4 L105.6 92.9 L105.0 92.3 L104.4 91.7 L103.8 90.9 L103.4 90.3 L103.0 89.6 L102.6 88.7 L102.2 87.7 L102.0 86.9 L101.8 85.7 L101.8 84.9 L101.8 83.9 L101.9 82.9 L102.1 81.7 L102.3 80.9 L102.6 80.1 L103.0 79.2 L103.4 78.4 L103.8 77.7 L104.4 76.9 L105.0 76.2 L105.4 75.7 L106.2 74.9 L106.7 74.5 L107.4 74.0 L108.2 73.4 L109.0 72.9 L109.8 72.5 L110.6 72.2 L111.4 71.8 L112.2 71.6 L113.2 71.3 L114.2 71.1 L115.3 70.9 L116.2 70.8 L117.4 70.7 L118.6 70.7 L119.8 70.8 L121.0 70.9 L121.8 71.0 L122.9 71.3 L123.8 71.6 L124.6 71.9 L125.4 72.4 L126.2 72.9 L126.6 73.3 L127.4 74.1 L127.8 74.7 L128.2 75.4 L128.6 76.4 L128.8 77.3 L129.0 78.5 L129.0 79.3 L129.0 80.2 L128.9 81.3 L128.7 82.5 L128.5 83.3 L128.2 84.3 L127.8 85.3 L127.5 86.1 L127.1 86.9 L126.7 87.7 L126.3 88.5 L125.8 89.2 L125.4 89.7 L124.8 90.5 L124.2 91.2 L123.7 91.7 L123.0 92.3 L122.3 92.9 L121.7 93.3 L121.0 93.8 L120.2 94.2 L119.4 94.6 L118.6 95.0 L117.6 95.3 L116.6 95.6 L115.8 95.7 M137.4 166.5 L136.2 166.6 L135.4 166.5 L134.2 166.1 L133.4 165.7 L132.8 165.3 L132.2 164.8 L131.5 164.1 L131.0 163.3 L130.6 162.6 L130.2 161.7 L130.0 160.9 L129.8 159.7 L129.8 158.9 L129.8 157.7 L129.9 156.9 L130.1 155.7 L130.4 154.9 L130.7 154.1 L131.0 153.3 L131.4 152.4 L131.8 151.5 L132.2 150.5 L132.4 149.7 L132.5 148.5 L132.2 147.4 L131.8 146.6 L131.4 146.0 L130.9 145.3 L130.3 144.5 L129.8 143.9 L129.3 143.3 L128.7 142.5 L128.2 141.9 L127.8 141.3 L127.3 140.5 L126.8 139.7 L126.4 138.9 L126.0 138.1 L125.6 137.3 L125.3 136.5 L125.0 135.5 L124.7 134.5 L124.5 133.7 L124.3 132.5 L124.2 131.6 L124.1 130.5 L124.0 129.3 L123.9 128.1 L123.8 126.9 L123.7 126.1 L123.6 124.9 L123.5 123.7 L123.4 122.9 L123.3 121.7 L123.3 120.5 L123.3 119.3 L123.4 118.1 L123.6 117.3 L123.8 116.4 L124.2 115.4 L124.6 114.6 L125.0 113.9 L125.5 113.3 L126.2 112.5 L126.7 112.1 L127.4 111.6 L128.2 111.1 L129.0 110.7 L129.8 110.4 L131.0 110.2 L131.8 110.1 L133.0 110.0 L134.1 110.1 L135.0 110.3 L135.8 110.6 L136.6 111.0 L137.4 111.7 L137.8 112.2 L138.3 112.9 L138.8 113.7 L139.2 114.5 L139.5 115.3 L139.8 116.3 L140.1 117.3 L140.2 118.1 L140.5 119.3 L140.6 120.1 L140.9 121.3 L141.1 122.1 L141.4 123.0 L141.8 124.1 L142.1 124.9 L142.4 125.7 L142.7 126.5 L143.0 127.3 L143.4 128.4 L143.7 129.3 L143.9 130.1 L144.2 131.3 L144.3 132.1 L144.5 133.3 L144.5 134.5 L144.5 135.7 L144.4 136.9 L144.2 137.9 L144.0 138.9 L143.7 139.7 L143.4 140.6 L143.0 141.5 L142.6 142.4 L142.2 143.2 L141.8 143.9 L141.4 144.7 L141.0 145.5 L140.6 146.4 L140.3 147.3 L140.2 148.1 L140.2 148.9 L140.6 150.1 L140.9 150.9 L141.3 151.7 L141.7 152.5 L142.0 153.3 L142.4 154.1 L142.7 154.9 L143.0 156.1 L143.1 156.9 L143.3 158.1 L143.3 159.3 L143.1 160.5 L142.9 161.3 L142.6 162.1 L142.2 163.0 L141.8 163.7 L141.1 164.5 L140.6 165.0 L139.8 165.6 L139.0 166.1 L138.2 166.4 L137.4 166.5 M115.4 95.3 L114.2 95.4 L113.0 95.4 L112.0 95.3 L111.0 95.1 L110.2 94.9 L109.0 94.5 L108.2 94.1 L107.5 93.7 L106.8 93.3 L106.2 92.8 L105.4 92.1 L105.0 91.7 L104.4 90.9 L103.8 90.1 L103.4 89.3 L103.0 88.5 L102.7 87.7 L102.5 86.9 L102.3 85.7 L102.2 84.5 L102.3 83.3 L102.5 82.1 L102.7 81.3 L103.0 80.3 L103.4 79.4 L103.8 78.6 L104.2 77.9 L104.6 77.3 L105.3 76.5 L105.8 75.9 L106.4 75.3 L107.0 74.8 L107.8 74.2 L108.5 73.7 L109.2 73.3 L110.0 72.9 L110.9 72.5 L111.8 72.2 L112.6 71.9 L113.4 71.7 L114.6 71.4 L115.6 71.3 L116.6 71.2 L117.8 71.2 L119.0 71.2 L120.2 71.3 L121.0 71.4 L122.2 71.7 L123.0 71.9 L123.8 72.2 L124.6 72.6 L125.4 73.1 L126.1 73.7 L126.6 74.2 L127.2 74.9 L127.6 75.7 L128.0 76.5 L128.2 77.3 L128.4 78.5 L128.5 79.7 L128.4 80.9 L128.3 82.1 L128.1 82.9 L127.8 84.0 L127.5 84.9 L127.2 85.7 L126.8 86.5 L126.4 87.3 L126.0 88.1 L125.5 88.9 L125.0 89.6 L124.6 90.1 L123.9 90.9 L123.4 91.4 L122.6 92.1 L122.1 92.5 L121.4 93.0 L120.6 93.5 L119.8 94.0 L119.0 94.3 L118.2 94.6 L117.4 94.9 L116.2 95.2 L115.4 95.3 M137.0 165.4 L135.8 165.3 L135.0 165.1 L134.2 164.8 L133.4 164.3 L132.7 163.7 L132.2 163.1 L131.8 162.5 L131.4 161.7 L131.0 160.5 L130.9 159.7 L130.8 158.5 L130.9 157.3 L131.1 156.5 L131.4 155.4 L131.8 154.5 L132.1 153.7 L132.6 152.9 L133.0 152.3 L133.4 151.7 L133.9 150.9 L134.5 150.1 L134.9 149.3 L135.0 148.5 L134.7 147.7 L134.2 147.1 L133.6 146.5 L133.0 145.9 L132.4 145.3 L131.8 144.7 L131.2 144.1 L130.6 143.5 L130.0 142.9 L129.4 142.2 L129.0 141.7 L128.4 140.9 L127.8 140.1 L127.4 139.4 L127.0 138.7 L126.6 137.9 L126.2 137.0 L125.9 136.1 L125.6 135.3 L125.4 134.5 L125.1 133.3 L125.0 132.5 L124.8 131.3 L124.7 130.1 L124.6 128.9 L124.6 128.1 L124.5 126.9 L124.4 125.7 L124.3 124.5 L124.2 123.7 L124.1 122.5 L124.0 121.3 L124.0 120.1 L124.0 118.9 L124.2 117.7 L124.4 116.9 L124.7 116.1 L125.0 115.3 L125.5 114.5 L126.1 113.7 L126.6 113.1 L127.3 112.5 L127.9 112.1 L128.6 111.7 L129.5 111.3 L130.6 111.0 L131.4 110.9 L132.6 110.8 L133.8 110.9 L134.6 111.0 L135.4 111.3 L136.2 111.8 L137.0 112.5 L137.4 112.9 L137.9 113.7 L138.4 114.5 L138.7 115.3 L139.0 116.1 L139.3 117.3 L139.5 118.1 L139.8 119.3 L139.9 120.1 L140.2 121.3 L140.4 122.1 L140.6 122.9 L141.0 124.0 L141.3 124.9 L141.6 125.7 L142.0 126.5 L142.3 127.3 L142.6 128.1 L143.0 129.3 L143.2 130.1 L143.4 130.9 L143.7 132.1 L143.8 133.3 L143.8 134.1 L143.8 135.3 L143.8 136.1 L143.6 137.3 L143.4 138.1 L143.1 139.3 L142.8 140.1 L142.4 140.9 L142.0 141.7 L141.5 142.5 L141.0 143.3 L140.6 143.9 L140.2 144.5 L139.6 145.3 L139.0 146.0 L138.6 146.6 L138.1 147.3 L137.7 148.1 L137.8 149.1 L138.2 149.8 L138.7 150.5 L139.3 151.3 L139.8 152.0 L140.2 152.5 L140.7 153.3 L141.1 154.1 L141.5 154.9 L141.8 155.9 L142.0 156.9 L142.2 158.1 L142.2 158.9 L142.1 159.7 L141.9 160.9 L141.6 161.7 L141.2 162.5 L140.6 163.3 L140.2 163.8 L139.4 164.5 L138.6 164.9 L137.8 165.2 L137.0 165.4 M115.4 94.9 L114.2 95.0 L113.0 95.0 L112.2 94.9 L111.0 94.7 L110.2 94.5 L109.2 94.1 L108.3 93.7 L107.6 93.3 L107.0 92.9 L106.2 92.2 L105.6 91.7 L105.0 91.0 L104.6 90.5 L104.1 89.7 L103.7 88.9 L103.3 88.1 L103.0 87.1 L102.8 86.1 L102.7 84.9 L102.7 83.7 L102.8 82.5 L103.0 81.7 L103.4 80.5 L103.7 79.7 L104.1 78.9 L104.6 78.1 L105.0 77.5 L105.5 76.9 L106.2 76.1 L106.6 75.7 L107.4 75.0 L108.1 74.5 L108.6 74.1 L109.4 73.6 L110.2 73.2 L111.0 72.9 L112.0 72.5 L113.0 72.2 L113.8 72.0 L115.0 71.8 L115.8 71.7 L117.0 71.6 L118.2 71.6 L119.4 71.6 L120.2 71.7 L121.4 72.0 L122.2 72.2 L123.2 72.5 L124.0 72.9 L124.7 73.3 L125.4 73.8 L126.1 74.5 L126.6 75.1 L127.0 75.8 L127.4 76.6 L127.7 77.7 L127.9 78.5 L128.0 79.7 L128.0 80.9 L127.8 82.1 L127.6 82.9 L127.4 83.8 L127.1 84.9 L126.7 85.7 L126.4 86.5 L126.0 87.3 L125.5 88.1 L125.0 88.9 L124.6 89.4 L124.1 90.1 L123.4 90.8 L122.9 91.3 L122.2 91.9 L121.4 92.5 L120.8 92.9 L120.2 93.3 L119.4 93.7 L118.5 94.1 L117.4 94.5 L116.6 94.7 L115.4 94.9 M137.0 145.4 L135.8 145.5 L134.8 145.3 L133.9 144.9 L133.2 144.5 L132.6 144.1 L131.8 143.5 L131.2 142.9 L130.6 142.4 L130.0 141.7 L129.4 141.1 L129.0 140.5 L128.4 139.7 L127.9 138.9 L127.4 138.1 L127.0 137.3 L126.7 136.5 L126.4 135.7 L126.1 134.9 L125.8 133.7 L125.7 132.9 L125.5 131.7 L125.4 130.5 L125.3 129.7 L125.3 128.5 L125.2 127.3 L125.1 126.1 L125.0 124.9 L124.9 124.1 L124.8 122.9 L124.7 121.7 L124.6 120.5 L124.7 119.3 L124.8 118.1 L125.0 117.3 L125.4 116.1 L125.8 115.3 L126.2 114.7 L126.6 114.1 L127.4 113.3 L128.0 112.9 L128.6 112.5 L129.4 112.1 L130.6 111.7 L131.4 111.6 L132.6 111.5 L133.8 111.7 L134.6 111.9 L135.4 112.3 L136.2 112.8 L136.7 113.3 L137.3 114.1 L137.8 114.9 L138.1 115.7 L138.4 116.5 L138.6 117.3 L138.9 118.5 L139.1 119.3 L139.3 120.5 L139.5 121.3 L139.8 122.5 L140.1 123.3 L140.3 124.1 L140.6 124.9 L141.0 125.8 L141.4 126.8 L141.8 127.7 L142.1 128.5 L142.3 129.3 L142.6 130.2 L142.9 131.3 L143.0 132.1 L143.2 133.3 L143.2 134.5 L143.1 135.7 L143.0 136.8 L142.8 137.7 L142.6 138.5 L142.2 139.5 L141.8 140.4 L141.4 141.1 L141.0 141.8 L140.5 142.5 L139.8 143.3 L139.4 143.7 L138.6 144.4 L137.9 144.9 L137.1 145.3 M137.8 163.8 L136.6 164.0 L135.4 163.9 L134.6 163.6 L133.8 163.0 L133.3 162.5 L132.7 161.7 L132.4 160.9 L132.1 160.1 L132.0 158.9 L132.0 157.7 L132.2 156.8 L132.6 155.7 L133.0 154.9 L133.4 154.2 L133.8 153.7 L134.6 152.9 L135.2 152.5 L136.2 152.1 L137.4 152.3 L138.2 152.7 L138.9 153.3 L139.4 153.9 L139.8 154.5 L140.3 155.3 L140.6 156.1 L140.9 157.3 L141.0 158.1 L141.0 159.3 L140.9 160.1 L140.6 161.0 L140.2 161.8 L139.7 162.5 L139.0 163.2 L138.2 163.7 M115.4 94.5 L114.2 94.6 L113.0 94.6 L112.2 94.5 L111.0 94.3 L110.2 94.0 L109.3 93.7 L108.5 93.3 L107.8 92.9 L107.0 92.4 L106.2 91.7 L105.8 91.3 L105.1 90.5 L104.6 89.7 L104.2 89.0 L103.8 88.1 L103.5 87.3 L103.3 86.5 L103.1 85.3 L103.1 84.1 L103.2 82.9 L103.4 81.8 L103.7 80.9 L104.0 80.1 L104.3 79.3 L104.8 78.5 L105.3 77.7 L105.8 77.1 L106.3 76.5 L107.0 75.8 L107.6 75.3 L108.2 74.9 L109.0 74.3 L109.8 73.9 L110.6 73.5 L111.4 73.1 L112.2 72.8 L113.4 72.5 L114.2 72.3 L115.4 72.1 L116.2 72.0 L117.4 72.0 L118.6 72.0 L119.7 72.1 L120.6 72.2 L121.7 72.5 L122.6 72.8 L123.4 73.1 L124.2 73.6 L124.9 74.1 L125.4 74.5 L126.1 75.3 L126.6 76.1 L127.0 76.9 L127.2 77.7 L127.4 78.5 L127.5 79.7 L127.5 80.9 L127.4 81.8 L127.2 82.9 L127.0 83.7 L126.6 84.9 L126.3 85.7 L125.9 86.5 L125.5 87.3 L125.1 88.1 L124.6 88.8 L124.2 89.3 L123.5 90.1 L123.0 90.7 L122.3 91.3 L121.8 91.7 L121.0 92.3 L120.2 92.8 L119.4 93.3 L118.6 93.6 L117.8 93.9 L117.0 94.2 L115.8 94.4 M137.4 143.8 L136.2 144.1 L135.0 144.0 L134.0 143.7 L133.2 143.3 L132.5 142.9 L131.8 142.4 L131.0 141.7 L130.6 141.3 L129.8 140.5 L129.4 140.0 L128.9 139.3 L128.4 138.5 L127.9 137.7 L127.5 136.9 L127.2 136.1 L126.9 135.3 L126.6 134.3 L126.4 133.3 L126.2 132.2 L126.1 131.3 L126.0 130.1 L125.9 128.9 L125.9 127.7 L125.8 126.5 L125.7 125.7 L125.6 124.5 L125.5 123.3 L125.4 122.2 L125.3 121.3 L125.3 120.1 L125.4 118.9 L125.5 118.1 L125.8 117.0 L126.2 116.1 L126.6 115.3 L127.0 114.8 L127.6 114.1 L128.2 113.6 L129.0 113.1 L129.8 112.7 L130.6 112.4 L131.8 112.3 L133.0 112.3 L133.9 112.5 L134.9 112.9 L135.5 113.3 L136.2 113.9 L136.7 114.5 L137.2 115.3 L137.6 116.1 L137.8 116.9 L138.2 118.1 L138.3 118.9 L138.6 120.1 L138.7 120.9 L139.0 122.0 L139.2 122.9 L139.5 123.7 L139.8 124.5 L140.2 125.5 L140.6 126.5 L141.0 127.3 L141.3 128.1 L141.6 128.9 L141.8 129.7 L142.2 130.9 L142.3 131.7 L142.5 132.9 L142.6 134.1 L142.6 135.3 L142.4 136.5 L142.2 137.4 L141.9 138.5 L141.5 139.3 L141.1 140.1 L140.6 140.9 L140.2 141.5 L139.7 142.1 L139.0 142.7 L138.3 143.3 L137.5 143.7 M137.8 162.1 L136.6 162.5 L135.4 162.2 L134.6 161.7 L134.2 161.3 L133.7 160.5 L133.4 159.6 L133.3 158.5 L133.4 157.7 L133.8 156.5 L134.2 155.8 L134.6 155.3 L135.4 154.7 L136.2 154.4 L137.2 154.5 L138.0 154.9 L138.6 155.5 L139.0 156.1 L139.4 156.9 L139.7 158.1 L139.7 159.3 L139.4 160.3 L139.0 161.1 L138.4 161.7 L137.8 162.1 M115.4 94.1 L114.2 94.2 L113.0 94.2 L112.2 94.1 L111.0 93.9 L110.2 93.6 L109.4 93.3 L108.6 92.9 L107.8 92.4 L107.0 91.8 L106.4 91.3 L105.8 90.7 L105.4 90.1 L104.8 89.3 L104.4 88.5 L104.1 87.7 L103.8 86.8 L103.6 85.7 L103.5 84.5 L103.5 83.3 L103.7 82.1 L104.0 81.3 L104.2 80.5 L104.6 79.7 L105.0 78.9 L105.5 78.1 L106.1 77.3 L106.6 76.8 L107.3 76.1 L107.8 75.7 L108.6 75.0 L109.4 74.5 L110.2 74.1 L111.0 73.7 L111.8 73.4 L112.6 73.1 L113.4 72.9 L114.6 72.6 L115.5 72.5 L116.6 72.4 L117.8 72.4 L119.0 72.4 L119.8 72.5 L121.0 72.8 L121.8 73.0 L122.6 73.3 L123.4 73.7 L124.2 74.2 L125.0 74.9 L125.4 75.3 L126.0 76.1 L126.4 76.9 L126.7 77.7 L127.0 78.9 L127.1 79.7 L127.1 80.9 L127.0 81.7 L126.8 82.9 L126.6 83.7 L126.2 84.9 L125.9 85.7 L125.5 86.5 L125.1 87.3 L124.6 88.1 L124.2 88.7 L123.7 89.3 L123.0 90.1 L122.6 90.5 L121.8 91.3 L121.2 91.7 L120.6 92.1 L119.8 92.6 L119.0 93.0 L118.2 93.4 L117.3 93.7 L116.2 94.0 L115.4 94.1 M136.2 142.9 L135.0 142.9 L134.2 142.7 L133.4 142.4 L132.6 142.0 L131.8 141.4 L131.2 140.9 L130.6 140.4 L130.0 139.7 L129.4 139.0 L129.0 138.4 L128.6 137.7 L128.2 136.9 L127.8 136.1 L127.4 135.0 L127.2 134.1 L127.0 133.3 L126.8 132.1 L126.6 130.9 L126.6 130.1 L126.5 128.9 L126.5 127.7 L126.4 126.5 L126.4 125.3 L126.3 124.1 L126.2 123.3 L126.1 122.1 L126.0 120.9 L126.0 119.7 L126.1 118.5 L126.3 117.7 L126.6 116.8 L127.0 116.0 L127.5 115.3 L128.2 114.5 L128.7 114.1 L129.4 113.7 L130.2 113.3 L131.4 113.0 L132.6 113.0 L133.8 113.3 L134.6 113.6 L135.3 114.1 L135.8 114.6 L136.3 115.3 L136.8 116.1 L137.1 116.9 L137.4 117.8 L137.7 118.9 L137.8 119.7 L138.1 120.9 L138.2 121.7 L138.6 122.9 L138.8 123.7 L139.1 124.5 L139.4 125.3 L139.8 126.1 L140.2 127.1 L140.6 128.0 L141.0 128.9 L141.2 129.7 L141.5 130.5 L141.8 131.7 L141.9 132.5 L142.0 133.7 L142.0 134.9 L141.8 136.1 L141.7 136.9 L141.4 137.8 L141.0 138.8 L140.6 139.6 L140.2 140.2 L139.6 140.9 L139.0 141.6 L138.3 142.1 L137.6 142.5 L136.6 142.9 M136.6 159.7 L135.8 159.3 L135.6 158.5 L136.0 157.7 L137.0 157.6 L137.4 158.4 L137.4 158.9 L136.7 159.7 M115.4 93.7 L114.2 93.8 L113.0 93.8 L112.1 93.7 L111.0 93.5 L110.2 93.2 L109.4 92.9 L108.6 92.5 L107.8 91.9 L107.0 91.3 L106.6 90.9 L105.9 90.1 L105.4 89.4 L105.0 88.8 L104.6 87.9 L104.2 86.9 L104.1 86.1 L103.9 84.9 L103.9 83.7 L104.1 82.5 L104.2 81.7 L104.6 80.6 L105.0 79.7 L105.4 79.0 L105.8 78.4 L106.3 77.7 L107.0 76.9 L107.4 76.5 L108.2 75.8 L108.9 75.3 L109.5 74.9 L110.2 74.5 L111.0 74.1 L112.0 73.7 L113.0 73.4 L113.8 73.2 L115.0 72.9 L115.8 72.8 L117.0 72.8 L118.2 72.8 L119.4 72.9 L120.2 73.0 L121.4 73.3 L122.2 73.6 L123.0 74.0 L123.8 74.5 L124.4 74.9 L125.0 75.6 L125.4 76.1 L125.9 76.9 L126.2 77.7 L126.5 78.9 L126.6 79.7 L126.6 80.9 L126.6 81.7 L126.4 82.9 L126.2 83.7 L125.8 84.9 L125.5 85.7 L125.1 86.5 L124.7 87.3 L124.2 88.0 L123.8 88.6 L123.2 89.3 L122.6 90.0 L122.1 90.5 L121.4 91.1 L120.6 91.7 L120.0 92.1 L119.3 92.5 L118.4 92.9 L117.4 93.3 L116.6 93.5 L115.6 93.7 M137.0 141.8 L135.8 142.0 L134.6 141.9 L133.8 141.7 L133.0 141.3 L132.2 140.8 L131.4 140.2 L130.9 139.7 L130.2 139.0 L129.8 138.5 L129.3 137.7 L128.8 136.9 L128.4 136.1 L128.1 135.3 L127.8 134.3 L127.6 133.3 L127.4 132.4 L127.3 131.3 L127.2 130.1 L127.1 128.9 L127.1 127.7 L127.1 126.5 L127.0 125.3 L127.0 124.5 L126.9 123.3 L126.7 122.1 L126.7 120.9 L126.7 119.7 L126.8 118.5 L127.0 117.7 L127.4 116.7 L127.8 116.0 L128.4 115.3 L129.0 114.8 L129.8 114.3 L130.6 114.0 L131.8 113.8 L133.0 113.9 L133.8 114.1 L134.6 114.6 L135.4 115.3 L135.8 115.9 L136.2 116.6 L136.6 117.6 L136.9 118.5 L137.1 119.3 L137.3 120.5 L137.5 121.3 L137.8 122.5 L138.0 123.3 L138.3 124.1 L138.6 124.9 L139.0 125.8 L139.4 126.7 L139.8 127.6 L140.2 128.5 L140.5 129.3 L140.8 130.1 L141.0 130.9 L141.2 132.1 L141.4 133.3 L141.4 134.1 L141.4 134.9 L141.2 136.1 L141.0 136.9 L140.6 138.0 L140.2 138.8 L139.8 139.5 L139.3 140.1 L138.6 140.8 L137.9 141.3 L137.1 141.7 M115.4 93.3 L114.2 93.4 L113.0 93.4 L112.1 93.3 L111.0 93.1 L110.2 92.8 L109.4 92.4 L108.6 92.0 L107.8 91.4 L107.2 90.9 L106.6 90.3 L106.1 89.7 L105.5 88.9 L105.1 88.1 L104.8 87.3 L104.6 86.5 L104.3 85.3 L104.3 84.1 L104.4 82.9 L104.6 81.9 L104.9 80.9 L105.2 80.1 L105.7 79.3 L106.2 78.5 L106.6 77.9 L107.1 77.3 L107.8 76.6 L108.4 76.1 L109.0 75.7 L109.8 75.1 L110.6 74.7 L111.4 74.3 L112.2 74.0 L113.2 73.7 L114.2 73.4 L115.0 73.3 L116.2 73.2 L117.4 73.1 L118.6 73.2 L119.6 73.3 L120.6 73.5 L121.4 73.7 L122.3 74.1 L123.0 74.5 L123.8 75.0 L124.5 75.7 L125.0 76.3 L125.4 77.0 L125.8 77.9 L126.1 78.9 L126.2 79.7 L126.2 80.9 L126.2 81.7 L126.0 82.9 L125.8 83.7 L125.4 84.9 L125.1 85.7 L124.7 86.5 L124.2 87.3 L123.8 88.0 L123.4 88.5 L122.8 89.3 L122.2 89.9 L121.6 90.5 L121.0 91.0 L120.2 91.5 L119.4 92.0 L118.6 92.4 L117.8 92.7 L117.0 93.0 L115.8 93.3 M136.6 141.0 L135.4 141.1 L134.2 141.0 L133.4 140.7 L132.6 140.2 L131.9 139.7 L131.4 139.3 L130.6 138.5 L130.2 138.0 L129.7 137.3 L129.3 136.5 L128.9 135.7 L128.6 134.9 L128.2 133.7 L128.1 132.9 L127.9 131.7 L127.8 130.5 L127.8 129.7 L127.8 128.5 L127.8 127.3 L127.8 126.1 L127.7 124.9 L127.6 123.7 L127.5 122.5 L127.4 121.5 L127.4 120.5 L127.4 119.6 L127.6 118.5 L127.8 117.7 L128.2 116.8 L128.7 116.1 L129.4 115.5 L130.2 115.0 L131.0 114.7 L132.2 114.6 L133.4 114.9 L134.1 115.3 L134.6 115.7 L135.3 116.5 L135.7 117.3 L136.0 118.1 L136.2 118.9 L136.5 120.1 L136.7 120.9 L136.9 122.1 L137.2 122.9 L137.4 123.7 L137.8 124.7 L138.2 125.6 L138.6 126.4 L139.0 127.3 L139.4 128.1 L139.7 128.9 L140.0 129.7 L140.3 130.5 L140.6 131.7 L140.7 132.5 L140.8 133.7 L140.8 134.9 L140.6 136.0 L140.3 136.9 L140.0 137.7 L139.6 138.5 L139.0 139.3 L138.6 139.8 L137.8 140.4 L137.0 140.8 M115.4 93.0 L114.2 93.1 L113.0 93.0 L112.1 92.9 L111.0 92.6 L110.2 92.4 L109.4 92.0 L108.6 91.5 L107.8 90.9 L107.3 90.5 L106.6 89.7 L106.2 89.2 L105.8 88.5 L105.4 87.7 L105.0 86.6 L104.8 85.7 L104.7 84.5 L104.7 83.3 L105.0 82.1 L105.2 81.3 L105.5 80.5 L105.9 79.7 L106.4 78.9 L106.9 78.1 L107.4 77.6 L108.1 76.9 L108.6 76.4 L109.4 75.8 L110.2 75.3 L111.0 74.9 L111.8 74.6 L112.6 74.3 L113.4 74.0 L114.6 73.7 L115.4 73.6 L116.6 73.5 L117.8 73.5 L119.0 73.6 L119.8 73.7 L121.0 74.0 L121.8 74.3 L122.6 74.7 L123.4 75.3 L123.9 75.7 L124.6 76.5 L125.0 77.2 L125.4 78.1 L125.6 78.9 L125.8 79.9 L125.8 80.9 L125.8 81.7 L125.6 82.9 L125.4 83.7 L125.0 84.9 L124.7 85.7 L124.3 86.5 L123.8 87.3 L123.4 87.9 L123.0 88.5 L122.3 89.3 L121.8 89.8 L121.0 90.5 L120.5 90.9 L119.8 91.3 L119.0 91.8 L118.2 92.2 L117.3 92.5 L116.2 92.8 L115.4 93.0 M136.2 140.2 L135.0 140.2 L134.2 140.1 L133.2 139.7 L132.5 139.3 L131.8 138.8 L131.1 138.1 L130.6 137.5 L130.2 136.9 L129.7 136.1 L129.4 135.3 L129.0 134.3 L128.7 133.3 L128.6 132.5 L128.5 131.3 L128.4 130.1 L128.4 128.9 L128.4 127.7 L128.5 126.5 L128.5 125.3 L128.4 124.1 L128.3 122.9 L128.2 121.8 L128.2 120.9 L128.2 119.7 L128.3 118.9 L128.6 117.9 L129.0 117.2 L129.6 116.5 L130.2 116.0 L131.0 115.7 L132.2 115.6 L133.0 115.8 L133.8 116.2 L134.4 116.9 L134.9 117.7 L135.3 118.5 L135.5 119.3 L135.8 120.5 L136.0 121.3 L136.2 122.3 L136.5 123.3 L136.8 124.1 L137.1 124.9 L137.5 125.7 L137.9 126.5 L138.3 127.3 L138.7 128.1 L139.1 128.9 L139.4 129.7 L139.8 130.9 L140.0 131.7 L140.2 132.9 L140.2 133.7 L140.2 134.5 L140.0 135.7 L139.8 136.5 L139.4 137.4 L139.0 138.1 L138.4 138.9 L137.8 139.4 L137.0 139.9 L136.2 140.2 M115.8 92.5 L114.6 92.7 L113.4 92.7 L112.2 92.5 L111.4 92.3 L110.6 92.1 L109.7 91.7 L109.0 91.3 L108.2 90.7 L107.5 90.1 L107.0 89.5 L106.5 88.9 L106.0 88.1 L105.7 87.3 L105.4 86.5 L105.2 85.3 L105.1 84.1 L105.2 82.9 L105.4 82.0 L105.8 80.9 L106.1 80.1 L106.6 79.3 L107.0 78.7 L107.4 78.1 L108.2 77.3 L108.6 76.9 L109.4 76.3 L110.2 75.8 L111.0 75.3 L111.8 75.0 L112.6 74.7 L113.4 74.4 L114.6 74.1 L115.4 74.0 L116.6 73.9 L117.8 73.9 L119.0 74.0 L119.8 74.1 L121.0 74.5 L121.8 74.8 L122.6 75.2 L123.2 75.7 L123.8 76.3 L124.3 76.9 L124.8 77.7 L125.1 78.5 L125.4 79.7 L125.4 80.5 L125.4 81.5 L125.3 82.5 L125.0 83.7 L124.7 84.5 L124.4 85.3 L124.1 86.1 L123.6 86.9 L123.1 87.7 L122.6 88.3 L122.1 88.9 L121.4 89.6 L120.9 90.1 L120.2 90.6 L119.4 91.1 L118.6 91.6 L117.8 91.9 L117.0 92.2 L115.8 92.5 M135.8 139.4 L134.6 139.4 L133.8 139.1 L133.0 138.8 L132.2 138.2 L131.6 137.7 L131.0 136.9 L130.6 136.4 L130.2 135.7 L129.8 134.8 L129.5 133.7 L129.3 132.9 L129.1 131.7 L129.0 130.5 L129.1 129.3 L129.1 128.1 L129.2 126.9 L129.3 125.7 L129.3 124.5 L129.2 123.3 L129.1 122.1 L129.1 120.9 L129.1 119.7 L129.4 118.6 L129.8 117.9 L130.3 117.3 L131.0 116.9 L132.2 116.8 L133.0 117.1 L133.7 117.7 L134.2 118.5 L134.5 119.3 L134.8 120.1 L135.0 121.1 L135.2 122.1 L135.5 122.9 L135.8 123.8 L136.2 124.7 L136.6 125.5 L137.0 126.2 L137.4 127.0 L137.8 127.7 L138.2 128.5 L138.6 129.3 L139.0 130.4 L139.3 131.3 L139.5 132.1 L139.6 133.3 L139.5 134.5 L139.4 135.4 L139.1 136.5 L138.6 137.3 L138.2 137.9 L137.6 138.5 L137.0 138.9 L136.0 139.3 M115.8 92.1 L114.6 92.3 L113.4 92.3 L112.2 92.1 L111.4 91.9 L110.6 91.6 L109.8 91.3 L109.0 90.8 L108.2 90.2 L107.7 89.7 L107.0 88.9 L106.6 88.2 L106.2 87.4 L105.9 86.5 L105.7 85.7 L105.5 84.5 L105.6 83.3 L105.8 82.1 L106.0 81.3 L106.4 80.5 L106.8 79.7 L107.3 78.9 L107.8 78.3 L108.4 77.7 L109.0 77.1 L109.8 76.5 L110.4 76.1 L111.1 75.7 L112.0 75.3 L113.0 74.9 L113.8 74.7 L114.6 74.5 L115.8 74.3 L117.0 74.2 L118.2 74.3 L119.4 74.4 L120.2 74.6 L121.0 74.9 L121.8 75.3 L122.6 75.8 L123.4 76.5 L123.8 77.0 L124.3 77.7 L124.6 78.5 L124.9 79.7 L125.0 80.5 L125.0 81.4 L124.9 82.5 L124.6 83.7 L124.3 84.5 L124.0 85.3 L123.6 86.1 L123.2 86.9 L122.6 87.7 L122.2 88.2 L121.6 88.9 L121.0 89.5 L120.3 90.1 L119.7 90.5 L119.0 90.9 L118.2 91.3 L117.3 91.7 L116.2 92.0 M135.4 138.5 L134.6 138.5 L133.4 138.1 L132.8 137.7 L132.2 137.2 L131.5 136.5 L131.0 135.8 L130.6 135.0 L130.2 134.1 L130.0 133.3 L129.8 132.2 L129.7 131.3 L129.7 130.1 L129.8 128.9 L129.9 128.1 L130.1 126.9 L130.2 125.8 L130.3 124.9 L130.4 123.7 L130.3 122.5 L130.3 121.3 L130.4 120.1 L130.7 119.3 L131.4 118.6 L132.6 118.8 L133.0 119.3 L133.4 120.1 L133.8 121.3 L134.0 122.1 L134.3 122.9 L134.6 123.7 L135.0 124.5 L135.5 125.3 L136.0 126.1 L136.5 126.9 L137.0 127.7 L137.4 128.4 L137.8 129.1 L138.2 130.0 L138.5 130.9 L138.7 131.7 L138.9 132.9 L138.9 134.1 L138.7 135.3 L138.4 136.1 L138.0 136.9 L137.4 137.6 L136.7 138.1 L135.8 138.4 M115.4 91.8 L114.2 91.9 L113.0 91.8 L112.2 91.7 L111.0 91.3 L110.2 91.0 L109.4 90.5 L108.8 90.1 L108.2 89.6 L107.6 88.9 L107.0 88.1 L106.6 87.3 L106.3 86.5 L106.1 85.7 L106.0 84.5 L106.0 83.3 L106.2 82.3 L106.5 81.3 L106.8 80.5 L107.3 79.7 L107.8 79.0 L108.2 78.5 L108.9 77.7 L109.4 77.3 L110.2 76.7 L111.0 76.2 L111.8 75.8 L112.6 75.5 L113.4 75.2 L114.6 74.9 L115.4 74.8 L116.6 74.6 L117.8 74.7 L119.0 74.8 L119.8 75.0 L120.8 75.3 L121.7 75.7 L122.3 76.1 L123.0 76.7 L123.5 77.3 L124.0 78.1 L124.3 78.9 L124.5 80.1 L124.6 81.3 L124.5 82.5 L124.2 83.6 L123.9 84.5 L123.6 85.3 L123.2 86.1 L122.7 86.9 L122.2 87.6 L121.8 88.1 L121.0 88.9 L120.6 89.3 L119.8 89.9 L119.0 90.5 L118.2 90.9 L117.4 91.2 L116.6 91.5 L115.7 91.7 M135.8 137.4 L134.6 137.5 L133.7 137.3 L133.0 136.9 L132.2 136.2 L131.8 135.7 L131.3 134.9 L131.0 134.1 L130.6 132.9 L130.5 132.1 L130.4 130.9 L130.5 129.7 L130.6 128.9 L130.9 127.7 L131.1 126.9 L131.4 126.1 L131.8 125.3 L132.6 124.6 L133.4 124.9 L134.2 125.6 L134.7 126.1 L135.4 126.9 L135.8 127.4 L136.3 128.1 L136.8 128.9 L137.3 129.7 L137.6 130.5 L137.9 131.3 L138.2 132.5 L138.2 133.3 L138.2 134.1 L137.9 135.3 L137.5 136.1 L137.0 136.7 L136.2 137.3 M115.4 91.3 L114.2 91.4 L113.0 91.3 L112.2 91.2 L111.2 90.9 L110.3 90.5 L109.6 90.1 L109.0 89.6 L108.2 88.9 L107.8 88.4 L107.4 87.7 L107.0 86.9 L106.6 85.7 L106.5 84.9 L106.4 83.7 L106.6 82.5 L106.8 81.7 L107.1 80.9 L107.6 80.1 L108.1 79.3 L108.6 78.7 L109.1 78.1 L109.8 77.5 L110.6 76.9 L111.3 76.5 L112.1 76.1 L113.0 75.8 L113.8 75.5 L114.6 75.3 L115.8 75.1 L117.0 75.0 L118.2 75.1 L119.4 75.3 L120.2 75.5 L121.0 75.8 L121.8 76.3 L122.5 76.9 L123.0 77.4 L123.4 78.1 L123.8 78.9 L124.1 80.1 L124.2 81.3 L124.0 82.5 L123.8 83.5 L123.5 84.5 L123.1 85.3 L122.7 86.1 L122.2 86.9 L121.8 87.4 L121.2 88.1 L120.6 88.7 L119.9 89.3 L119.4 89.7 L118.6 90.2 L117.8 90.6 L117.0 90.9 L115.8 91.2 M135.8 136.3 L134.6 136.5 L133.6 136.1 L133.0 135.7 L132.3 134.9 L131.8 134.1 L131.5 133.3 L131.4 132.5 L131.3 131.3 L131.4 130.1 L131.6 129.3 L131.9 128.5 L132.5 127.7 L133.3 127.3 L133.8 127.4 L134.6 127.8 L135.4 128.5 L135.8 129.0 L136.3 129.7 L136.8 130.5 L137.1 131.3 L137.3 132.5 L137.4 133.7 L137.1 134.9 L136.6 135.6 L136.1 136.1 M114.6 90.9 L113.4 90.9 L112.6 90.8 L111.5 90.5 L110.6 90.1 L109.9 89.7 L109.4 89.3 L108.6 88.6 L108.2 88.1 L107.7 87.3 L107.4 86.5 L107.0 85.3 L106.9 84.5 L107.0 83.3 L107.1 82.5 L107.4 81.5 L107.8 80.6 L108.2 80.0 L108.7 79.3 L109.4 78.5 L109.8 78.1 L110.6 77.5 L111.4 77.0 L112.2 76.6 L113.0 76.2 L113.8 76.0 L114.8 75.7 L115.8 75.5 L117.0 75.5 L118.2 75.5 L119.2 75.7 L120.2 76.0 L121.0 76.4 L121.8 76.9 L122.2 77.3 L122.9 78.1 L123.3 78.9 L123.6 79.7 L123.7 80.9 L123.7 82.1 L123.4 83.3 L123.2 84.1 L122.8 84.9 L122.4 85.7 L121.9 86.5 L121.4 87.2 L121.0 87.7 L120.2 88.5 L119.7 88.9 L119.0 89.4 L118.2 89.9 L117.4 90.3 L116.6 90.6 L115.4 90.8 L114.6 90.9 M135.0 135.0 L134.0 134.9 L133.4 134.5 L132.8 133.7 L132.5 132.9 L132.4 131.7 L132.6 130.5 L133.0 129.8 L133.8 129.4 L134.7 129.7 L135.4 130.4 L135.8 131.0 L136.2 132.0 L136.3 132.9 L136.2 133.8 L135.8 134.5 L135.0 135.0 M116.2 90.1 L115.0 90.4 L113.8 90.4 L112.6 90.2 L111.8 90.0 L111.0 89.7 L110.2 89.2 L109.4 88.6 L108.9 88.1 L108.4 87.3 L108.0 86.5 L107.7 85.7 L107.5 84.5 L107.5 83.3 L107.8 82.1 L108.1 81.3 L108.5 80.5 L109.0 79.7 L109.4 79.2 L110.1 78.5 L110.6 78.1 L111.4 77.5 L112.2 77.1 L113.0 76.7 L113.8 76.4 L115.0 76.1 L115.8 76.0 L117.0 75.9 L118.2 76.0 L119.0 76.1 L120.2 76.5 L120.9 76.9 L121.5 77.3 L122.2 78.0 L122.6 78.6 L123.0 79.6 L123.2 80.5 L123.2 81.7 L123.0 82.9 L122.8 83.7 L122.5 84.5 L122.1 85.3 L121.6 86.1 L121.1 86.9 L120.6 87.4 L119.9 88.1 L119.4 88.5 L118.6 89.1 L117.8 89.5 L117.0 89.9 L116.2 90.1 M115.4 89.7 L114.2 89.8 L113.0 89.7 L112.2 89.5 L111.4 89.2 L110.6 88.7 L109.8 88.1 L109.4 87.6 L108.9 86.9 L108.5 86.1 L108.2 85.1 L108.1 84.1 L108.2 82.9 L108.4 82.1 L108.7 81.3 L109.2 80.5 L109.7 79.7 L110.2 79.2 L111.0 78.5 L111.5 78.1 L112.2 77.7 L113.0 77.3 L114.0 76.9 L115.0 76.6 L115.8 76.5 L117.0 76.4 L118.2 76.5 L119.0 76.7 L119.8 76.9 L120.6 77.3 L121.4 77.9 L121.9 78.5 L122.3 79.3 L122.6 80.2 L122.7 81.3 L122.6 82.5 L122.4 83.3 L122.1 84.1 L121.8 84.9 L121.3 85.7 L120.7 86.5 L120.2 87.1 L119.6 87.7 L119.0 88.2 L118.2 88.7 L117.4 89.1 L116.6 89.4 L115.6 89.7 M115.8 89.0 L114.6 89.1 L113.4 89.0 L112.6 88.9 L111.7 88.5 L111.0 88.1 L110.2 87.4 L109.8 86.9 L109.3 86.1 L109.0 85.2 L108.9 84.1 L109.0 82.9 L109.2 82.1 L109.5 81.3 L110.0 80.5 L110.6 79.7 L111.0 79.3 L111.8 78.7 L112.6 78.2 L113.4 77.8 L114.2 77.5 L115.0 77.2 L116.2 77.0 L117.4 77.0 L118.6 77.1 L119.4 77.4 L120.2 77.8 L121.0 78.4 L121.4 78.9 L121.8 79.7 L122.1 80.9 L122.1 82.1 L121.8 83.3 L121.5 84.1 L121.1 84.9 L120.6 85.7 L120.2 86.2 L119.5 86.9 L119.0 87.4 L118.2 87.9 L117.4 88.4 L116.6 88.7 L115.8 89.0 M115.4 88.1 L114.2 88.2 L113.4 88.1 L112.3 87.7 L111.6 87.3 L111.0 86.8 L110.5 86.1 L110.1 85.3 L109.8 84.1 L109.9 82.9 L110.2 82.0 L110.6 81.2 L111.1 80.5 L111.8 79.7 L112.3 79.3 L113.0 78.8 L113.8 78.4 L114.6 78.1 L115.8 77.8 L116.6 77.7 L117.8 77.7 L118.6 77.8 L119.4 78.1 L120.2 78.6 L120.8 79.3 L121.2 80.1 L121.4 80.9 L121.4 82.0 L121.2 82.9 L120.9 83.7 L120.5 84.5 L120.0 85.3 L119.4 86.0 L118.8 86.5 L118.2 87.0 L117.4 87.5 L116.6 87.8 L115.6 88.1 M116.2 86.6 L115.0 86.7 L113.8 86.6 L113.0 86.2 L112.4 85.7 L111.8 84.9 L111.5 84.1 L111.5 82.9 L111.8 81.9 L112.2 81.2 L112.7 80.5 L113.4 79.9 L114.2 79.4 L115.0 79.0 L115.8 78.7 L117.0 78.5 L118.2 78.6 L119.0 78.9 L119.8 79.5 L120.2 80.1 L120.5 81.3 L120.4 82.5 L120.1 83.3 L119.7 84.1 L119.0 84.9 L118.6 85.3 L117.8 85.9 L117.0 86.3 L116.2 86.6" fill="none" stroke="#5a5a5a" stroke-width="0.45" stroke-linejoin="round" clip-path="url(#c0_0)"/>
<circle cx="60" cy="101" r="0.5" fill="#666"/>
<circle cx="74" cy="120" r="0.5" fill="#666"/>
<circle cx="161" cy="67" r="0.5" fill="#666"/>
<circle cx="155" cy="100" r="0.5" fill="#666"/>
<rect x="31.8" y="28.9" width="137.7" height="141.2" fill="none" stroke="#b4b4b4" stroke-width="1.1"/>
<line x1="27.7" y1="160.1" x2="31.3" y2="160.1" stroke="#1a1a1a" stroke-width="1.1"/>
<line x1="27.7" y1="114.5" x2="31.3" y2="114.5" stroke="#1a1a1a" stroke-width="1.1"/>
<line x1="27.7" y1="76.2" x2="31.3" y2="76.2" stroke="#1a1a1a" stroke-width="1.1"/>
<line x1="27.7" y1="42.6" x2="31.3" y2="42.6" stroke="#1a1a1a" stroke-width="1.1"/>
<line x1="29.4" y1="102.97" x2="31.3" y2="102.97" stroke="#1a1a1a" stroke-width="0.8"/>
<line x1="29.4" y1="96.23" x2="31.3" y2="96.23" stroke="#1a1a1a" stroke-width="0.8"/>
<line x1="29.4" y1="91.44" x2="31.3" y2="91.44" stroke="#1a1a1a" stroke-width="0.8"/>
<line x1="29.4" y1="87.73" x2="31.3" y2="87.73" stroke="#1a1a1a" stroke-width="0.8"/>
<line x1="29.4" y1="84.7" x2="31.3" y2="84.7" stroke="#1a1a1a" stroke-width="0.8"/>
<line x1="29.4" y1="82.13" x2="31.3" y2="82.13" stroke="#1a1a1a" stroke-width="0.8"/>
<line x1="29.4" y1="79.91" x2="31.3" y2="79.91" stroke="#1a1a1a" stroke-width="0.8"/>
<line x1="29.4" y1="77.95" x2="31.3" y2="77.95" stroke="#1a1a1a" stroke-width="0.8"/>
<line x1="29.4" y1="66.09" x2="31.3" y2="66.09" stroke="#1a1a1a" stroke-width="0.8"/>
<line x1="29.4" y1="60.17" x2="31.3" y2="60.17" stroke="#1a1a1a" stroke-width="0.8"/>
<line x1="29.4" y1="55.97" x2="31.3" y2="55.97" stroke="#1a1a1a" stroke-width="0.8"/>
<line x1="29.4" y1="52.71" x2="31.3" y2="52.71" stroke="#1a1a1a" stroke-width="0.8"/>
<line x1="29.4" y1="50.05" x2="31.3" y2="50.05" stroke="#1a1a1a" stroke-width="0.8"/>
<line x1="29.4" y1="47.8" x2="31.3" y2="47.8" stroke="#1a1a1a" stroke-width="0.8"/>
<line x1="29.4" y1="45.86" x2="31.3" y2="45.86" stroke="#1a1a1a" stroke-width="0.8"/>
<line x1="29.4" y1="44.14" x2="31.3" y2="44.14" stroke="#1a1a1a" stroke-width="0.8"/>
<line x1="29.4" y1="32.49" x2="31.3" y2="32.49" stroke="#1a1a1a" stroke-width="0.8"/>
<line x1="29.4" y1="117.04" x2="31.3" y2="117.04" stroke="#1a1a1a" stroke-width="0.8"/>
<line x1="29.4" y1="119.59" x2="31.3" y2="119.59" stroke="#1a1a1a" stroke-width="0.8"/>
<line x1="29.4" y1="122.13" x2="31.3" y2="122.13" stroke="#1a1a1a" stroke-width="0.8"/>
<line x1="29.4" y1="124.68" x2="31.3" y2="124.68" stroke="#1a1a1a" stroke-width="0.8"/>
<line x1="29.4" y1="127.22" x2="31.3" y2="127.22" stroke="#1a1a1a" stroke-width="0.8"/>
<line x1="29.4" y1="129.77" x2="31.3" y2="129.77" stroke="#1a1a1a" stroke-width="0.8"/>
<line x1="29.4" y1="132.31" x2="31.3" y2="132.31" stroke="#1a1a1a" stroke-width="0.8"/>
<line x1="29.4" y1="157.58" x2="31.3" y2="157.58" stroke="#1a1a1a" stroke-width="0.8"/>
<line x1="29.4" y1="155.06" x2="31.3" y2="155.06" stroke="#1a1a1a" stroke-width="0.8"/>
<line x1="29.4" y1="152.53" x2="31.3" y2="152.53" stroke="#1a1a1a" stroke-width="0.8"/>
<line x1="29.4" y1="150.01" x2="31.3" y2="150.01" stroke="#1a1a1a" stroke-width="0.8"/>
<line x1="29.4" y1="147.49" x2="31.3" y2="147.49" stroke="#1a1a1a" stroke-width="0.8"/>
<line x1="29.4" y1="144.97" x2="31.3" y2="144.97" stroke="#1a1a1a" stroke-width="0.8"/>
<line x1="29.4" y1="142.44" x2="31.3" y2="142.44" stroke="#1a1a1a" stroke-width="0.8"/>
<line x1="27.7" y1="140.84" x2="31.3" y2="140.84" stroke="#1a1a1a" stroke-width="0.9"/>
<line x1="27.7" y1="140.15" x2="31.3" y2="140.15" stroke="#1a1a1a" stroke-width="0.9"/>
<line x1="27.7" y1="139.46" x2="31.3" y2="139.46" stroke="#1a1a1a" stroke-width="0.9"/>
<line x1="27.7" y1="138.77" x2="31.3" y2="138.77" stroke="#1a1a1a" stroke-width="0.9"/>
<line x1="27.7" y1="138.09" x2="31.3" y2="138.09" stroke="#1a1a1a" stroke-width="0.9"/>
<line x1="27.7" y1="137.4" x2="31.3" y2="137.4" stroke="#1a1a1a" stroke-width="0.9"/>
<line x1="27.7" y1="136.71" x2="31.3" y2="136.71" stroke="#1a1a1a" stroke-width="0.9"/>
<line x1="27.7" y1="136.03" x2="31.3" y2="136.03" stroke="#1a1a1a" stroke-width="0.9"/>
<line x1="27.7" y1="135.34" x2="31.3" y2="135.34" stroke="#1a1a1a" stroke-width="0.9"/>
<line x1="27.7" y1="134.65" x2="31.3" y2="134.65" stroke="#1a1a1a" stroke-width="0.9"/>
<line x1="27.7" y1="133.97" x2="31.3" y2="133.97" stroke="#1a1a1a" stroke-width="0.9"/>
<line x1="40.4" y1="170.6" x2="40.4" y2="174.2" stroke="#1a1a1a" stroke-width="1.1"/>
<line x1="85.8" y1="170.6" x2="85.8" y2="174.2" stroke="#1a1a1a" stroke-width="1.1"/>
<line x1="123.3" y1="170.6" x2="123.3" y2="174.2" stroke="#1a1a1a" stroke-width="1.1"/>
<line x1="156" y1="170.6" x2="156" y2="174.2" stroke="#1a1a1a" stroke-width="1.1"/>
<line x1="97.09" y1="170.6" x2="97.09" y2="172.5" stroke="#1a1a1a" stroke-width="0.8"/>
<line x1="103.69" y1="170.6" x2="103.69" y2="172.5" stroke="#1a1a1a" stroke-width="0.8"/>
<line x1="108.38" y1="170.6" x2="108.38" y2="172.5" stroke="#1a1a1a" stroke-width="0.8"/>
<line x1="112.01" y1="170.6" x2="112.01" y2="172.5" stroke="#1a1a1a" stroke-width="0.8"/>
<line x1="114.98" y1="170.6" x2="114.98" y2="172.5" stroke="#1a1a1a" stroke-width="0.8"/>
<line x1="117.49" y1="170.6" x2="117.49" y2="172.5" stroke="#1a1a1a" stroke-width="0.8"/>
<line x1="119.67" y1="170.6" x2="119.67" y2="172.5" stroke="#1a1a1a" stroke-width="0.8"/>
<line x1="121.58" y1="170.6" x2="121.58" y2="172.5" stroke="#1a1a1a" stroke-width="0.8"/>
<line x1="133.14" y1="170.6" x2="133.14" y2="172.5" stroke="#1a1a1a" stroke-width="0.8"/>
<line x1="138.9" y1="170.6" x2="138.9" y2="172.5" stroke="#1a1a1a" stroke-width="0.8"/>
<line x1="142.99" y1="170.6" x2="142.99" y2="172.5" stroke="#1a1a1a" stroke-width="0.8"/>
<line x1="146.16" y1="170.6" x2="146.16" y2="172.5" stroke="#1a1a1a" stroke-width="0.8"/>
<line x1="148.75" y1="170.6" x2="148.75" y2="172.5" stroke="#1a1a1a" stroke-width="0.8"/>
<line x1="150.93" y1="170.6" x2="150.93" y2="172.5" stroke="#1a1a1a" stroke-width="0.8"/>
<line x1="152.83" y1="170.6" x2="152.83" y2="172.5" stroke="#1a1a1a" stroke-width="0.8"/>
<line x1="154.5" y1="170.6" x2="154.5" y2="172.5" stroke="#1a1a1a" stroke-width="0.8"/>
<line x1="165.84" y1="170.6" x2="165.84" y2="172.5" stroke="#1a1a1a" stroke-width="0.8"/>
<line x1="83.32" y1="170.6" x2="83.32" y2="172.5" stroke="#1a1a1a" stroke-width="0.8"/>
<line x1="80.84" y1="170.6" x2="80.84" y2="172.5" stroke="#1a1a1a" stroke-width="0.8"/>
<line x1="78.37" y1="170.6" x2="78.37" y2="172.5" stroke="#1a1a1a" stroke-width="0.8"/>
<line x1="75.89" y1="170.6" x2="75.89" y2="172.5" stroke="#1a1a1a" stroke-width="0.8"/>
<line x1="73.41" y1="170.6" x2="73.41" y2="172.5" stroke="#1a1a1a" stroke-width="0.8"/>
<line x1="70.93" y1="170.6" x2="70.93" y2="172.5" stroke="#1a1a1a" stroke-width="0.8"/>
<line x1="68.46" y1="170.6" x2="68.46" y2="172.5" stroke="#1a1a1a" stroke-width="0.8"/>
<line x1="42.97" y1="170.6" x2="42.97" y2="172.5" stroke="#1a1a1a" stroke-width="0.8"/>
<line x1="45.53" y1="170.6" x2="45.53" y2="172.5" stroke="#1a1a1a" stroke-width="0.8"/>
<line x1="48.1" y1="170.6" x2="48.1" y2="172.5" stroke="#1a1a1a" stroke-width="0.8"/>
<line x1="50.67" y1="170.6" x2="50.67" y2="172.5" stroke="#1a1a1a" stroke-width="0.8"/>
<line x1="53.23" y1="170.6" x2="53.23" y2="172.5" stroke="#1a1a1a" stroke-width="0.8"/>
<line x1="55.8" y1="170.6" x2="55.8" y2="172.5" stroke="#1a1a1a" stroke-width="0.8"/>
<line x1="58.37" y1="170.6" x2="58.37" y2="172.5" stroke="#1a1a1a" stroke-width="0.8"/>
<line x1="60.16" y1="170.6" x2="60.16" y2="174.2" stroke="#1a1a1a" stroke-width="0.9"/>
<line x1="60.82" y1="170.6" x2="60.82" y2="174.2" stroke="#1a1a1a" stroke-width="0.9"/>
<line x1="61.49" y1="170.6" x2="61.49" y2="174.2" stroke="#1a1a1a" stroke-width="0.9"/>
<line x1="62.16" y1="170.6" x2="62.16" y2="174.2" stroke="#1a1a1a" stroke-width="0.9"/>
<line x1="62.83" y1="170.6" x2="62.83" y2="174.2" stroke="#1a1a1a" stroke-width="0.9"/>
<line x1="63.5" y1="170.6" x2="63.5" y2="174.2" stroke="#1a1a1a" stroke-width="0.9"/>
<line x1="64.17" y1="170.6" x2="64.17" y2="174.2" stroke="#1a1a1a" stroke-width="0.9"/>
<line x1="64.84" y1="170.6" x2="64.84" y2="174.2" stroke="#1a1a1a" stroke-width="0.9"/>
<line x1="65.51" y1="170.6" x2="65.51" y2="174.2" stroke="#1a1a1a" stroke-width="0.9"/>
<line x1="66.18" y1="170.6" x2="66.18" y2="174.2" stroke="#1a1a1a" stroke-width="0.9"/>
<line x1="66.84" y1="170.6" x2="66.84" y2="174.2" stroke="#1a1a1a" stroke-width="0.9"/>
<text x="15.81" y="45.4" font-size="6.2" fill="#3a3a3a" textLength="6.01" lengthAdjust="spacingAndGlyphs">10</text>
<text x="21.74" y="42" font-size="5.2" fill="#3a3a3a" textLength="3.7" lengthAdjust="spacingAndGlyphs">5</text>
<text x="15.81" y="79" font-size="6.2" fill="#3a3a3a" textLength="6.01" lengthAdjust="spacingAndGlyphs">10</text>
<text x="21.88" y="75.6" font-size="5.2" fill="#3a3a3a" textLength="3.49" lengthAdjust="spacingAndGlyphs">4</text>
<text x="15.81" y="117.3" font-size="6.2" fill="#3a3a3a" textLength="6.01" lengthAdjust="spacingAndGlyphs">10</text>
<text x="21.74" y="113.9" font-size="5.2" fill="#3a3a3a" textLength="3.78" lengthAdjust="spacingAndGlyphs">3</text>
<text x="20.02" y="139.6" font-size="6" fill="#3a3a3a" textLength="2.34" lengthAdjust="spacingAndGlyphs">0</text>
<text x="12.5" y="162.9" font-size="6.2" fill="#3a3a3a" textLength="3.62" lengthAdjust="spacingAndGlyphs">−</text>
<text x="15.81" y="162.9" font-size="6.2" fill="#3a3a3a" textLength="6.01" lengthAdjust="spacingAndGlyphs">10</text>
<text x="21.74" y="159.5" font-size="5.2" fill="#3a3a3a" textLength="3.78" lengthAdjust="spacingAndGlyphs">3</text>
<text x="85.5" y="182.1" font-size="6.2" fill="#3a3a3a" textLength="6.12" lengthAdjust="spacingAndGlyphs">10</text>
<text x="91.56" y="178.6" font-size="5.2" fill="#3a3a3a" textLength="3.54" lengthAdjust="spacingAndGlyphs">3</text>
<text x="123" y="182.1" font-size="6.2" fill="#3a3a3a" textLength="6.12" lengthAdjust="spacingAndGlyphs">10</text>
<text x="129.19" y="178.6" font-size="5.2" fill="#3a3a3a" textLength="3.27" lengthAdjust="spacingAndGlyphs">4</text>
<text x="155.7" y="182.1" font-size="6.2" fill="#3a3a3a" textLength="6.12" lengthAdjust="spacingAndGlyphs">10</text>
<text x="161.76" y="178.6" font-size="5.2" fill="#3a3a3a" textLength="3.47" lengthAdjust="spacingAndGlyphs">5</text>
<text x="64.52" y="181.9" font-size="6" fill="#3a3a3a" textLength="2.34" lengthAdjust="spacingAndGlyphs">0</text>
<text x="37.52" y="182.1" font-size="6.2" fill="#3a3a3a" textLength="3.38" lengthAdjust="spacingAndGlyphs">−</text>
<text x="40.5" y="182.1" font-size="6.2" fill="#3a3a3a" textLength="6.12" lengthAdjust="spacingAndGlyphs">10</text>
<text x="46.56" y="178.6" font-size="5.2" fill="#3a3a3a" textLength="3.54" lengthAdjust="spacingAndGlyphs">3</text>
<rect x="93.8" y="56.3" width="73.6" height="113.8" fill="none" stroke="#2a2a2a" stroke-width="1.3"/>
<line x1="93.8" y1="103.3" x2="167.4" y2="103.3" stroke="#2a2a2a" stroke-width="1.5"/>
<line x1="93.8" y1="141.6" x2="167.4" y2="141.6" stroke="#2a2a2a" stroke-width="1.5"/>
<text x="45.77" y="81" font-size="9.2" fill="#222" textLength="24.91" lengthAdjust="spacingAndGlyphs">51.1%</text>
<text x="45.77" y="125.8" font-size="9.2" fill="#222" textLength="24.91" lengthAdjust="spacingAndGlyphs">32.6%</text>
<text x="45.63" y="162.7" font-size="9.2" fill="#222" textLength="24.91" lengthAdjust="spacingAndGlyphs">16.3%</text>
<text x="31.92" y="12.6" font-size="11" font-weight="bold" fill="#111" textLength="11.55" lengthAdjust="spacingAndGlyphs">t0</text>
<text x="31.9" y="22.5" font-size="10.2" fill="#333" textLength="122.21" lengthAdjust="spacingAndGlyphs">Gated on singlet viable Mφ</text>
<clipPath id="c180_0"><rect x="212.6" y="28.9" width="137.7" height="141.2"/></clipPath>
<path d="M311.4 167.7 L310.2 167.7 L309.6 167.3 L309.0 166.5 L308.6 165.7 L308.3 164.9 L308.1 164.1 L307.8 163.1 L307.6 162.1 L307.4 160.9 L307.3 160.1 L307.2 158.9 L307.0 157.7 L306.9 156.9 L306.6 155.7 L306.4 154.9 L306.0 154.1 L305.4 153.4 L304.8 152.9 L304.2 152.5 L303.4 152.1 L302.4 151.7 L301.4 151.3 L300.6 151.0 L299.8 150.7 L299.0 150.5 L298.0 150.1 L297.0 149.8 L296.2 149.5 L295.4 149.2 L294.6 148.9 L293.5 148.5 L292.6 148.1 L291.8 147.8 L291.0 147.4 L290.2 146.9 L289.5 146.5 L288.9 146.1 L288.2 145.6 L287.4 145.0 L286.8 144.5 L286.2 143.9 L285.6 143.3 L285.0 142.6 L284.6 142.1 L284.0 141.3 L283.5 140.5 L283.0 139.7 L282.6 138.9 L282.2 138.1 L281.9 137.3 L281.6 136.5 L281.3 135.7 L281.0 134.8 L280.7 133.7 L280.5 132.9 L280.3 131.7 L280.2 130.9 L280.1 129.7 L280.0 128.5 L279.9 127.3 L279.9 126.1 L280.0 124.9 L280.1 123.7 L280.2 122.5 L280.3 121.7 L280.5 120.5 L280.6 119.7 L280.9 118.5 L281.0 117.7 L281.3 116.5 L281.6 115.7 L281.8 114.9 L282.2 113.7 L282.5 112.9 L282.8 112.1 L283.1 111.3 L283.5 110.5 L283.8 109.7 L284.2 108.9 L284.7 108.1 L285.1 107.3 L285.6 106.5 L286.2 105.7 L286.6 105.1 L287.1 104.5 L287.7 103.7 L288.2 103.2 L288.9 102.5 L289.4 102.0 L290.1 101.3 L290.6 100.9 L291.4 100.3 L292.2 99.7 L292.8 99.3 L293.5 98.9 L294.2 98.5 L295.0 98.1 L295.8 97.7 L296.7 97.3 L297.8 96.9 L298.6 96.6 L299.4 96.3 L300.2 96.1 L301.4 95.8 L302.2 95.6 L303.4 95.3 L304.2 95.2 L305.4 95.0 L306.2 94.8 L307.4 94.7 L308.6 94.6 L309.8 94.6 L311.0 94.7 L312.2 94.8 L313.0 94.9 L314.2 95.2 L315.0 95.4 L315.9 95.7 L316.9 96.1 L317.7 96.5 L318.5 96.9 L319.1 97.3 L319.8 97.8 L320.6 98.4 L321.1 98.9 L321.8 99.6 L322.3 100.1 L322.9 100.9 L323.4 101.6 L323.8 102.3 L324.2 103.0 L324.6 103.8 L325.0 104.7 L325.4 105.7 L325.7 106.5 L325.9 107.3 L326.2 108.4 L326.4 109.3 L326.6 110.1 L326.9 111.3 L327.0 112.1 L327.2 113.3 L327.4 114.1 L327.6 115.3 L327.8 116.2 L328.0 117.3 L328.2 118.4 L328.4 119.3 L328.5 120.5 L328.6 121.3 L328.7 122.5 L328.8 123.7 L328.8 124.9 L328.8 126.1 L328.8 127.3 L328.7 128.5 L328.6 129.3 L328.4 130.5 L328.2 131.6 L328.0 132.5 L327.8 133.4 L327.5 134.5 L327.3 135.3 L327.0 136.4 L326.7 137.3 L326.5 138.1 L326.2 139.2 L325.9 140.1 L325.7 140.9 L325.4 141.7 L325.0 142.8 L324.6 143.7 L324.3 144.5 L323.8 145.3 L323.4 146.0 L323.0 146.6 L322.5 147.3 L321.8 148.1 L321.4 148.5 L320.6 149.3 L320.1 149.7 L319.4 150.2 L318.6 150.8 L317.9 151.3 L317.3 151.7 L316.6 152.3 L316.1 152.9 L315.5 153.7 L315.2 154.5 L314.9 155.3 L314.7 156.5 L314.6 157.3 L314.4 158.5 L314.3 159.7 L314.2 160.7 L314.1 161.7 L313.8 162.9 L313.6 163.7 L313.4 164.6 L313.0 165.6 L312.6 166.4 L312.2 167.0 L311.4 167.7 M311.0 154.8 L310.2 154.5 L309.6 153.7 L309.0 152.9 L308.6 152.4 L308.0 151.7 L307.4 151.2 L306.6 150.6 L305.8 150.2 L305.0 149.7 L304.2 149.4 L303.4 149.0 L302.6 148.7 L301.8 148.3 L301.0 147.9 L300.2 147.6 L299.4 147.2 L298.6 146.9 L297.6 146.5 L296.6 146.1 L295.8 145.8 L295.0 145.5 L294.2 145.2 L293.4 144.8 L292.6 144.4 L291.8 144.0 L291.0 143.5 L290.2 143.0 L289.5 142.5 L289.0 142.1 L288.2 141.3 L287.8 140.9 L287.1 140.1 L286.6 139.5 L286.2 138.9 L285.7 138.1 L285.2 137.3 L284.8 136.5 L284.5 135.7 L284.1 134.9 L283.8 133.8 L283.5 132.9 L283.4 132.1 L283.1 130.9 L283.0 129.8 L282.9 128.9 L282.9 127.7 L282.9 126.5 L282.9 125.3 L283.0 124.3 L283.1 123.3 L283.3 122.1 L283.4 121.3 L283.7 120.1 L283.9 119.3 L284.2 118.1 L284.4 117.3 L284.7 116.5 L285.0 115.6 L285.4 114.6 L285.8 113.7 L286.1 112.9 L286.5 112.1 L286.9 111.3 L287.4 110.5 L287.8 109.8 L288.2 109.2 L288.7 108.5 L289.3 107.7 L289.8 107.0 L290.2 106.5 L291.0 105.7 L291.4 105.3 L292.2 104.6 L292.7 104.1 L293.4 103.6 L294.2 103.0 L295.0 102.5 L295.6 102.1 L296.3 101.7 L297.1 101.3 L297.9 100.9 L298.8 100.5 L299.7 100.1 L300.6 99.8 L301.4 99.5 L302.2 99.2 L303.1 98.9 L304.2 98.6 L305.0 98.4 L306.1 98.1 L307.0 97.9 L308.2 97.8 L309.0 97.7 L310.2 97.7 L311.3 97.7 L312.2 97.8 L313.4 98.0 L314.2 98.2 L315.1 98.5 L316.0 98.9 L316.8 99.3 L317.5 99.7 L318.2 100.2 L319.0 100.9 L319.4 101.3 L320.2 102.1 L320.6 102.7 L321.0 103.3 L321.5 104.1 L321.9 104.9 L322.3 105.7 L322.6 106.5 L323.0 107.7 L323.2 108.5 L323.4 109.4 L323.6 110.5 L323.8 111.7 L323.9 112.5 L324.1 113.7 L324.2 114.5 L324.4 115.7 L324.6 116.9 L324.7 117.7 L324.9 118.9 L325.0 119.7 L325.2 120.9 L325.3 122.1 L325.4 123.3 L325.4 124.5 L325.4 124.9 L325.4 126.1 L325.3 127.3 L325.2 128.5 L325.0 129.5 L324.8 130.5 L324.6 131.5 L324.4 132.5 L324.2 133.3 L323.9 134.5 L323.6 135.3 L323.4 136.3 L323.2 137.3 L323.0 138.1 L322.7 139.3 L322.5 140.1 L322.2 141.2 L321.9 142.1 L321.6 142.9 L321.3 143.7 L320.8 144.5 L320.3 145.3 L319.8 146.0 L319.4 146.5 L318.6 147.3 L318.1 147.7 L317.4 148.3 L316.6 148.9 L316.1 149.3 L315.4 149.8 L314.6 150.5 L314.1 150.9 L313.4 151.6 L313.0 152.1 L312.4 152.9 L311.9 153.7 L311.4 154.4 M311.0 150.2 L309.9 150.1 L309.0 149.8 L308.2 149.4 L307.4 149.0 L306.6 148.6 L305.8 148.2 L305.0 147.8 L304.2 147.5 L303.4 147.1 L302.6 146.7 L301.8 146.3 L301.0 145.9 L300.2 145.5 L299.4 145.1 L298.6 144.7 L297.8 144.4 L297.0 144.1 L296.1 143.7 L295.1 143.3 L294.2 142.9 L293.4 142.5 L292.6 142.1 L291.9 141.7 L291.3 141.3 L290.6 140.8 L289.8 140.1 L289.3 139.7 L288.6 138.9 L288.2 138.4 L287.7 137.7 L287.1 136.9 L286.7 136.1 L286.3 135.3 L285.9 134.5 L285.7 133.7 L285.4 132.9 L285.1 131.7 L284.9 130.9 L284.8 129.7 L284.7 128.5 L284.6 127.3 L284.7 126.1 L284.7 124.9 L284.9 123.7 L285.0 122.9 L285.2 121.7 L285.4 120.9 L285.7 119.7 L285.9 118.9 L286.2 118.0 L286.6 116.9 L286.9 116.1 L287.2 115.3 L287.6 114.5 L288.0 113.7 L288.4 112.9 L288.8 112.1 L289.3 111.3 L289.8 110.6 L290.2 110.0 L290.7 109.3 L291.4 108.5 L291.8 108.1 L292.5 107.3 L293.0 106.8 L293.8 106.1 L294.3 105.7 L295.0 105.2 L295.8 104.6 L296.6 104.1 L297.3 103.7 L298.0 103.3 L298.8 102.9 L299.6 102.5 L300.5 102.1 L301.4 101.7 L302.2 101.4 L303.0 101.1 L303.8 100.8 L304.7 100.5 L305.8 100.2 L306.6 100.0 L307.8 99.7 L308.6 99.6 L309.8 99.5 L311.0 99.5 L312.2 99.7 L313.0 99.8 L314.1 100.1 L315.0 100.5 L315.8 100.8 L316.5 101.3 L317.1 101.7 L317.8 102.3 L318.4 102.9 L319.0 103.6 L319.4 104.1 L319.9 104.9 L320.3 105.7 L320.7 106.5 L321.0 107.4 L321.3 108.5 L321.5 109.3 L321.7 110.5 L321.9 111.3 L322.0 112.5 L322.2 113.7 L322.3 114.5 L322.5 115.7 L322.6 116.7 L322.7 117.7 L322.9 118.9 L323.0 119.7 L323.2 120.9 L323.3 122.1 L323.3 123.3 L323.4 124.5 L323.3 125.7 L323.3 126.9 L323.1 128.1 L323.0 128.9 L322.8 130.1 L322.6 130.9 L322.3 132.1 L322.1 132.9 L321.8 133.9 L321.6 134.9 L321.4 135.7 L321.1 136.9 L320.9 137.7 L320.7 138.9 L320.5 139.7 L320.3 140.9 L320.0 141.7 L319.7 142.5 L319.4 143.3 L318.9 144.1 L318.4 144.9 L317.8 145.6 L317.3 146.1 L316.6 146.8 L315.9 147.3 L315.4 147.7 L314.6 148.3 L313.8 148.8 L313.0 149.3 L312.3 149.7 L311.4 150.1 M311.4 148.2 L310.2 148.3 L309.2 148.1 L308.2 147.8 L307.4 147.4 L306.6 147.1 L305.8 146.7 L305.0 146.3 L304.2 145.9 L303.4 145.5 L302.6 145.0 L301.8 144.6 L301.0 144.2 L300.2 143.8 L299.4 143.4 L298.6 143.0 L297.8 142.7 L297.0 142.4 L296.2 142.1 L295.3 141.7 L294.4 141.3 L293.6 140.9 L292.9 140.5 L292.2 140.1 L291.4 139.5 L290.7 138.9 L290.2 138.4 L289.5 137.7 L289.0 137.0 L288.6 136.5 L288.1 135.7 L287.7 134.9 L287.3 134.1 L287.0 133.3 L286.6 132.1 L286.4 131.3 L286.2 130.1 L286.1 129.3 L286.0 128.1 L286.0 126.9 L286.0 125.7 L286.1 124.5 L286.2 123.7 L286.5 122.5 L286.6 121.7 L286.9 120.5 L287.1 119.7 L287.4 118.9 L287.8 117.8 L288.1 116.9 L288.5 116.1 L288.9 115.3 L289.3 114.5 L289.7 113.7 L290.2 112.9 L290.6 112.2 L291.0 111.6 L291.5 110.9 L292.2 110.1 L292.6 109.6 L293.3 108.9 L293.8 108.4 L294.5 107.7 L295.0 107.3 L295.8 106.7 L296.6 106.1 L297.2 105.7 L297.9 105.3 L298.6 104.9 L299.4 104.4 L300.2 104.0 L301.0 103.6 L301.8 103.3 L302.7 102.9 L303.6 102.5 L304.6 102.1 L305.4 101.9 L306.2 101.6 L307.4 101.3 L308.2 101.2 L309.4 101.0 L310.6 101.0 L311.8 101.1 L313.0 101.3 L313.8 101.6 L314.6 101.9 L315.4 102.3 L316.2 102.8 L316.8 103.3 L317.4 103.9 L317.9 104.5 L318.4 105.3 L318.9 106.1 L319.3 106.9 L319.6 107.7 L319.8 108.5 L320.1 109.7 L320.3 110.5 L320.5 111.7 L320.6 112.5 L320.7 113.7 L320.9 114.9 L321.0 115.8 L321.1 116.9 L321.3 118.1 L321.4 118.9 L321.6 120.1 L321.7 121.3 L321.8 122.5 L321.8 123.3 L321.8 124.5 L321.8 125.5 L321.7 126.5 L321.6 127.7 L321.4 128.8 L321.2 129.7 L321.0 130.6 L320.7 131.7 L320.5 132.5 L320.2 133.6 L320.0 134.5 L319.8 135.3 L319.5 136.5 L319.4 137.3 L319.2 138.5 L319.0 139.4 L318.8 140.5 L318.5 141.3 L318.2 142.2 L317.8 143.1 L317.4 143.7 L316.8 144.5 L316.2 145.2 L315.7 145.7 L315.0 146.3 L314.2 146.9 L313.5 147.3 L312.8 147.7 L311.8 148.1 M311.8 146.6 L310.6 146.8 L309.4 146.7 L308.5 146.5 L307.4 146.1 L306.6 145.7 L305.8 145.3 L305.0 144.9 L304.3 144.5 L303.6 144.1 L302.9 143.7 L302.2 143.3 L301.4 142.9 L300.6 142.4 L299.8 142.1 L298.9 141.7 L297.9 141.3 L297.0 140.9 L296.2 140.6 L295.4 140.3 L294.6 139.9 L293.8 139.5 L293.0 139.0 L292.3 138.5 L291.8 138.1 L291.0 137.4 L290.5 136.9 L289.9 136.1 L289.4 135.4 L289.0 134.8 L288.6 134.0 L288.2 133.1 L287.8 132.1 L287.6 131.3 L287.4 130.3 L287.2 129.3 L287.1 128.1 L287.1 126.9 L287.2 125.7 L287.3 124.5 L287.4 123.7 L287.6 122.5 L287.8 121.7 L288.1 120.5 L288.4 119.7 L288.7 118.9 L289.0 118.0 L289.4 117.0 L289.8 116.2 L290.2 115.4 L290.6 114.6 L291.0 114.0 L291.4 113.3 L292.0 112.5 L292.6 111.7 L293.0 111.2 L293.6 110.5 L294.2 109.9 L294.8 109.3 L295.4 108.7 L296.2 108.1 L296.7 107.7 L297.4 107.2 L298.2 106.7 L299.0 106.2 L299.8 105.8 L300.6 105.3 L301.4 104.9 L302.2 104.6 L303.0 104.2 L303.8 103.8 L304.6 103.5 L305.4 103.2 L306.4 102.9 L307.4 102.6 L308.2 102.5 L309.4 102.3 L310.6 102.3 L311.8 102.4 L312.6 102.5 L313.7 102.9 L314.5 103.3 L315.2 103.7 L315.8 104.2 L316.6 104.9 L317.0 105.4 L317.5 106.1 L317.9 106.9 L318.3 107.7 L318.6 108.6 L318.9 109.7 L319.1 110.5 L319.3 111.7 L319.4 112.7 L319.5 113.7 L319.7 114.9 L319.8 116.0 L319.9 116.9 L320.1 118.1 L320.2 119.1 L320.3 120.1 L320.4 121.3 L320.5 122.5 L320.6 123.7 L320.6 124.9 L320.5 126.1 L320.3 127.3 L320.2 128.2 L320.0 129.3 L319.8 130.1 L319.4 131.3 L319.2 132.1 L319.0 132.9 L318.6 134.1 L318.4 134.9 L318.2 135.9 L318.0 136.9 L317.8 138.1 L317.7 138.9 L317.5 140.1 L317.2 140.9 L317.0 141.7 L316.6 142.5 L316.1 143.3 L315.5 144.1 L315.0 144.6 L314.2 145.3 L313.7 145.7 L313.0 146.1 L312.2 146.5 M311.4 145.4 L310.2 145.5 L309.0 145.4 L308.2 145.1 L307.4 144.8 L306.6 144.4 L305.8 144.0 L305.0 143.6 L304.2 143.1 L303.4 142.6 L302.6 142.1 L301.9 141.7 L301.1 141.3 L300.2 140.9 L299.4 140.6 L298.6 140.3 L297.8 140.0 L297.0 139.7 L296.1 139.3 L295.2 138.9 L294.4 138.5 L293.7 138.1 L293.0 137.6 L292.2 137.0 L291.7 136.5 L291.0 135.7 L290.6 135.2 L290.1 134.5 L289.6 133.7 L289.3 132.9 L289.0 132.1 L288.6 130.9 L288.4 130.1 L288.2 128.9 L288.2 128.1 L288.1 126.9 L288.2 125.7 L288.2 124.9 L288.4 123.7 L288.6 122.7 L288.8 121.7 L289.1 120.9 L289.4 119.9 L289.8 118.9 L290.1 118.1 L290.4 117.3 L290.8 116.5 L291.3 115.7 L291.7 114.9 L292.2 114.1 L292.6 113.5 L293.1 112.9 L293.7 112.1 L294.2 111.5 L294.8 110.9 L295.4 110.3 L296.1 109.7 L296.6 109.3 L297.4 108.7 L298.2 108.1 L298.9 107.7 L299.5 107.3 L300.2 106.9 L301.0 106.5 L301.8 106.1 L302.6 105.7 L303.4 105.3 L304.3 104.9 L305.3 104.5 L306.2 104.2 L307.0 103.9 L307.9 103.7 L309.0 103.5 L310.2 103.4 L311.4 103.5 L312.3 103.7 L313.4 104.1 L314.2 104.5 L314.8 104.9 L315.4 105.4 L316.0 106.1 L316.6 106.9 L317.0 107.7 L317.4 108.5 L317.6 109.3 L317.8 110.1 L318.1 111.3 L318.2 112.1 L318.4 113.3 L318.5 114.5 L318.6 115.3 L318.8 116.5 L318.9 117.7 L319.0 118.5 L319.2 119.7 L319.3 120.9 L319.4 121.9 L319.5 122.9 L319.5 124.1 L319.4 125.3 L319.4 126.1 L319.2 127.3 L319.0 128.4 L318.8 129.3 L318.6 130.1 L318.2 131.3 L318.0 132.1 L317.7 132.9 L317.4 133.9 L317.1 134.9 L316.9 135.7 L316.7 136.9 L316.6 137.7 L316.4 138.9 L316.2 139.8 L315.9 140.9 L315.6 141.7 L315.1 142.5 L314.6 143.3 L314.2 143.7 L313.4 144.4 L312.6 144.9 L311.8 145.3 M311.0 144.1 L309.8 144.2 L309.0 144.1 L307.8 143.7 L307.0 143.3 L306.2 142.9 L305.5 142.5 L304.9 142.1 L304.2 141.7 L303.4 141.2 L302.6 140.7 L301.8 140.3 L301.0 140.0 L300.2 139.7 L299.2 139.3 L298.2 138.9 L297.4 138.6 L296.6 138.3 L295.8 138.0 L295.0 137.6 L294.2 137.1 L293.4 136.6 L292.8 136.1 L292.2 135.5 L291.7 134.9 L291.1 134.1 L290.6 133.4 L290.2 132.6 L289.8 131.7 L289.6 130.9 L289.4 130.1 L289.2 128.9 L289.1 127.7 L289.1 126.5 L289.1 125.3 L289.3 124.1 L289.4 123.3 L289.7 122.1 L289.9 121.3 L290.2 120.4 L290.6 119.3 L290.9 118.5 L291.3 117.7 L291.7 116.9 L292.1 116.1 L292.6 115.3 L293.0 114.7 L293.4 114.1 L294.1 113.3 L294.6 112.7 L295.1 112.1 L295.8 111.4 L296.3 110.9 L297.0 110.3 L297.8 109.7 L298.4 109.3 L299.0 108.9 L299.8 108.4 L300.6 107.9 L301.4 107.5 L302.2 107.1 L303.0 106.7 L303.8 106.3 L304.6 105.9 L305.4 105.6 L306.3 105.3 L307.4 105.0 L308.2 104.8 L309.4 104.6 L310.6 104.6 L311.8 104.8 L312.6 105.0 L313.4 105.4 L314.2 105.9 L314.8 106.5 L315.4 107.2 L315.8 107.8 L316.2 108.6 L316.6 109.6 L316.8 110.5 L317.0 111.3 L317.2 112.5 L317.4 113.7 L317.5 114.5 L317.7 115.7 L317.8 116.7 L317.9 117.7 L318.1 118.9 L318.2 119.7 L318.3 120.9 L318.4 122.1 L318.5 123.3 L318.5 124.5 L318.4 125.7 L318.2 126.9 L318.1 127.7 L317.8 128.9 L317.6 129.7 L317.4 130.5 L317.0 131.5 L316.7 132.5 L316.4 133.3 L316.1 134.1 L315.8 135.2 L315.6 136.1 L315.4 137.1 L315.2 138.1 L315.0 139.3 L314.8 140.1 L314.5 140.9 L314.1 141.7 L313.6 142.5 L313.0 143.1 L312.2 143.7 L311.4 144.0 M311.0 142.5 L309.8 142.7 L308.6 142.5 L307.8 142.2 L307.0 141.9 L306.2 141.4 L305.4 140.9 L304.7 140.5 L304.0 140.1 L303.2 139.7 L302.3 139.3 L301.4 138.9 L300.6 138.6 L299.8 138.4 L299.0 138.1 L297.8 137.7 L297.0 137.4 L296.2 137.1 L295.4 136.7 L294.6 136.2 L293.9 135.7 L293.4 135.3 L292.6 134.5 L292.2 134.0 L291.7 133.3 L291.2 132.5 L290.8 131.7 L290.5 130.9 L290.2 129.7 L290.1 128.9 L289.9 127.7 L289.9 126.5 L290.0 125.3 L290.1 124.1 L290.3 123.3 L290.6 122.1 L290.8 121.3 L291.1 120.5 L291.4 119.7 L291.8 118.7 L292.2 117.9 L292.6 117.1 L293.0 116.4 L293.5 115.7 L294.0 114.9 L294.6 114.1 L295.0 113.6 L295.7 112.9 L296.2 112.4 L296.9 111.7 L297.4 111.3 L298.2 110.7 L299.0 110.1 L299.6 109.7 L300.2 109.3 L301.0 108.9 L301.8 108.4 L302.6 108.0 L303.4 107.6 L304.2 107.3 L305.0 106.9 L306.0 106.5 L307.0 106.2 L307.8 106.0 L309.0 105.8 L310.2 105.7 L311.4 105.9 L312.2 106.1 L313.0 106.5 L313.8 107.1 L314.3 107.7 L314.9 108.5 L315.3 109.3 L315.6 110.1 L315.9 110.9 L316.1 112.1 L316.3 112.9 L316.5 114.1 L316.6 114.9 L316.8 116.1 L316.9 117.3 L317.1 118.1 L317.2 119.3 L317.4 120.5 L317.5 121.3 L317.5 122.5 L317.6 123.7 L317.5 124.9 L317.4 126.1 L317.3 126.9 L317.0 128.1 L316.8 128.9 L316.6 129.7 L316.2 130.8 L315.9 131.7 L315.5 132.5 L315.2 133.3 L314.9 134.1 L314.6 135.1 L314.3 136.1 L314.1 136.9 L313.9 138.1 L313.7 138.9 L313.4 139.8 L313.0 140.7 L312.6 141.4 L311.8 142.1 L311.1 142.5 M310.6 140.6 L309.4 140.8 L308.2 140.6 L307.4 140.3 L306.6 139.9 L305.8 139.5 L305.0 139.2 L304.2 138.8 L303.4 138.5 L302.4 138.1 L301.4 137.8 L300.6 137.5 L299.8 137.3 L298.6 136.9 L297.8 136.7 L297.0 136.3 L296.2 136.0 L295.4 135.5 L294.6 135.0 L294.0 134.5 L293.4 134.0 L292.8 133.3 L292.3 132.5 L291.8 131.7 L291.5 130.9 L291.2 130.1 L291.0 129.2 L290.8 128.1 L290.8 126.9 L290.8 125.7 L290.9 124.5 L291.1 123.7 L291.3 122.5 L291.6 121.7 L291.8 120.9 L292.2 119.9 L292.6 119.0 L293.0 118.2 L293.4 117.4 L293.8 116.8 L294.2 116.1 L294.8 115.3 L295.4 114.5 L295.8 114.1 L296.5 113.3 L297.0 112.9 L297.8 112.1 L298.4 111.7 L299.0 111.2 L299.8 110.7 L300.6 110.2 L301.4 109.7 L302.2 109.3 L303.0 108.9 L303.8 108.5 L304.6 108.2 L305.4 107.8 L306.2 107.5 L307.0 107.3 L308.2 107.0 L309.0 106.9 L310.2 106.9 L311.0 107.0 L311.8 107.3 L312.6 107.7 L313.4 108.5 L313.8 109.0 L314.3 109.7 L314.6 110.5 L315.0 111.7 L315.2 112.5 L315.4 113.5 L315.6 114.5 L315.8 115.7 L315.9 116.5 L316.1 117.7 L316.2 118.5 L316.4 119.7 L316.6 120.9 L316.6 121.7 L316.7 122.9 L316.7 124.1 L316.6 125.3 L316.5 126.1 L316.3 127.3 L316.1 128.1 L315.8 129.1 L315.4 130.1 L315.1 130.9 L314.8 131.7 L314.4 132.5 L314.1 133.3 L313.7 134.1 L313.4 134.9 L313.0 135.9 L312.7 136.9 L312.4 137.7 L312.1 138.5 L311.8 139.3 L311.2 140.1 L310.6 140.6 M309.4 138.2 L308.2 138.4 L307.0 138.2 L306.2 138.0 L305.1 137.7 L304.2 137.4 L303.4 137.2 L302.2 136.9 L301.4 136.7 L300.6 136.5 L299.4 136.2 L298.6 135.9 L297.8 135.6 L297.0 135.3 L296.2 134.9 L295.4 134.4 L294.6 133.8 L294.1 133.3 L293.4 132.5 L293.0 131.9 L292.6 131.2 L292.2 130.3 L291.9 129.3 L291.7 128.5 L291.6 127.3 L291.6 126.1 L291.7 124.9 L291.8 124.1 L292.0 122.9 L292.3 122.1 L292.6 121.1 L293.0 120.1 L293.3 119.3 L293.7 118.5 L294.2 117.7 L294.6 117.0 L295.0 116.4 L295.5 115.7 L296.2 114.9 L296.6 114.5 L297.4 113.7 L297.8 113.3 L298.6 112.6 L299.3 112.1 L299.9 111.7 L300.6 111.3 L301.4 110.8 L302.2 110.4 L303.0 110.0 L303.8 109.6 L304.6 109.3 L305.5 108.9 L306.6 108.5 L307.4 108.3 L308.6 108.1 L309.4 108.1 L310.2 108.2 L311.3 108.5 L312.0 108.9 L312.6 109.5 L313.1 110.1 L313.5 110.9 L313.9 111.7 L314.2 112.7 L314.4 113.7 L314.6 114.5 L314.9 115.7 L315.0 116.5 L315.2 117.7 L315.4 118.6 L315.6 119.7 L315.7 120.9 L315.8 121.7 L315.9 122.9 L315.9 124.1 L315.8 125.0 L315.7 126.1 L315.4 127.3 L315.2 128.1 L314.9 128.9 L314.6 129.8 L314.2 130.7 L313.8 131.5 L313.4 132.3 L313.0 133.0 L312.6 133.7 L312.2 134.5 L311.7 135.3 L311.2 136.1 L310.7 136.9 L310.2 137.6 L309.5 138.1 M308.2 136.2 L307.0 136.4 L305.8 136.4 L304.6 136.2 L303.7 136.1 L302.6 135.9 L301.5 135.7 L300.6 135.5 L299.8 135.3 L298.6 134.9 L297.8 134.6 L297.0 134.3 L296.2 133.8 L295.4 133.3 L295.0 132.9 L294.2 132.1 L293.8 131.5 L293.4 130.8 L293.0 129.9 L292.7 128.9 L292.5 128.1 L292.4 126.9 L292.4 125.7 L292.5 124.5 L292.7 123.7 L293.0 122.5 L293.2 121.7 L293.5 120.9 L293.8 120.1 L294.2 119.3 L294.6 118.5 L295.1 117.7 L295.7 116.9 L296.2 116.2 L296.6 115.7 L297.3 114.9 L297.8 114.5 L298.6 113.7 L299.2 113.3 L299.8 112.8 L300.6 112.3 L301.4 111.8 L302.2 111.4 L303.0 111.0 L303.8 110.7 L304.6 110.3 L305.4 110.0 L306.5 109.7 L307.4 109.5 L308.6 109.4 L309.8 109.5 L310.6 109.7 L311.4 110.2 L312.1 110.9 L312.6 111.7 L313.0 112.5 L313.3 113.3 L313.5 114.1 L313.8 115.2 L314.0 116.1 L314.2 116.9 L314.5 118.1 L314.6 118.9 L314.8 120.1 L315.0 121.3 L315.0 122.1 L315.1 123.3 L315.0 124.5 L314.9 125.3 L314.7 126.5 L314.6 127.3 L314.2 128.4 L313.8 129.3 L313.5 130.1 L313.0 130.9 L312.6 131.7 L312.2 132.3 L311.8 132.9 L311.2 133.7 L310.6 134.4 L310.2 134.9 L309.4 135.6 L308.6 136.0 M306.6 135.0 L305.4 135.1 L304.2 135.0 L303.0 134.9 L302.2 134.8 L301.0 134.6 L300.2 134.4 L299.0 134.1 L298.2 133.8 L297.4 133.4 L296.6 133.0 L295.9 132.5 L295.4 132.0 L294.8 131.3 L294.3 130.5 L293.9 129.7 L293.6 128.9 L293.4 128.1 L293.2 126.9 L293.2 125.7 L293.3 124.5 L293.5 123.7 L293.8 122.5 L294.0 121.7 L294.3 120.9 L294.7 120.1 L295.1 119.3 L295.6 118.5 L296.1 117.7 L296.6 117.0 L297.0 116.5 L297.7 115.7 L298.2 115.2 L299.0 114.5 L299.5 114.1 L300.2 113.6 L301.0 113.1 L301.8 112.6 L302.6 112.2 L303.4 111.9 L304.2 111.5 L305.0 111.3 L306.2 110.9 L307.0 110.8 L308.2 110.7 L309.4 110.8 L310.2 111.2 L310.9 111.7 L311.4 112.3 L311.8 112.9 L312.2 113.7 L312.6 114.6 L313.0 115.7 L313.2 116.5 L313.4 117.3 L313.7 118.5 L313.8 119.3 L314.1 120.5 L314.2 121.7 L314.3 122.5 L314.3 123.7 L314.2 124.7 L314.1 125.7 L313.8 126.9 L313.6 127.7 L313.2 128.5 L312.9 129.3 L312.4 130.1 L312.0 130.9 L311.4 131.7 L311.0 132.2 L310.3 132.9 L309.8 133.4 L309.0 134.0 L308.2 134.5 L307.4 134.8 L306.6 135.0 M306.2 133.8 L305.0 133.9 L303.8 133.9 L302.6 133.9 L301.4 133.7 L300.6 133.6 L299.6 133.3 L298.6 133.0 L297.8 132.6 L297.0 132.1 L296.5 131.7 L295.8 131.0 L295.4 130.5 L294.9 129.7 L294.5 128.9 L294.2 127.7 L294.1 126.9 L294.0 125.7 L294.1 124.5 L294.3 123.7 L294.6 122.5 L294.9 121.7 L295.2 120.9 L295.6 120.1 L296.0 119.3 L296.5 118.5 L297.0 117.8 L297.4 117.3 L298.1 116.5 L298.6 116.0 L299.4 115.3 L299.9 114.9 L300.6 114.4 L301.4 113.9 L302.2 113.4 L303.0 113.1 L303.8 112.7 L304.6 112.5 L305.8 112.2 L306.6 112.0 L307.8 112.0 L308.6 112.1 L309.5 112.5 L310.2 113.0 L310.8 113.7 L311.3 114.5 L311.7 115.3 L312.1 116.1 L312.3 116.9 L312.6 117.7 L312.9 118.9 L313.1 119.7 L313.3 120.9 L313.4 121.8 L313.5 122.9 L313.4 124.1 L313.4 124.9 L313.1 126.1 L312.9 126.9 L312.6 127.8 L312.2 128.7 L311.8 129.4 L311.4 130.1 L310.8 130.9 L310.2 131.5 L309.6 132.1 L309.0 132.6 L308.2 133.1 L307.4 133.4 L306.5 133.7 M304.2 132.9 L303.0 132.9 L302.2 132.9 L301.0 132.7 L300.2 132.5 L299.1 132.1 L298.2 131.7 L297.6 131.3 L297.0 130.9 L296.3 130.1 L295.8 129.4 L295.4 128.6 L295.1 127.7 L295.0 126.9 L294.9 125.7 L295.0 124.5 L295.1 123.7 L295.4 122.6 L295.7 121.7 L296.1 120.9 L296.5 120.1 L296.9 119.3 L297.4 118.6 L297.8 118.1 L298.5 117.3 L299.0 116.7 L299.7 116.1 L300.2 115.7 L301.0 115.2 L301.8 114.7 L302.6 114.3 L303.4 113.9 L304.2 113.7 L305.4 113.4 L306.2 113.3 L307.4 113.3 L308.2 113.5 L309.0 113.9 L309.8 114.5 L310.2 115.0 L310.7 115.7 L311.1 116.5 L311.5 117.3 L311.8 118.2 L312.1 119.3 L312.3 120.1 L312.5 121.3 L312.6 122.1 L312.7 123.3 L312.6 124.3 L312.5 125.3 L312.2 126.4 L311.9 127.3 L311.5 128.1 L311.1 128.9 L310.6 129.6 L310.2 130.1 L309.4 130.9 L308.9 131.3 L308.2 131.8 L307.4 132.2 L306.6 132.5 L305.4 132.8 L304.4 132.9 M305.4 131.7 L304.2 131.9 L303.0 131.9 L301.8 131.8 L301.0 131.7 L299.8 131.3 L299.0 131.0 L298.2 130.5 L297.7 130.1 L297.0 129.3 L296.6 128.7 L296.2 127.9 L295.9 126.9 L295.8 125.7 L295.9 124.5 L296.1 123.3 L296.3 122.5 L296.6 121.7 L297.0 120.8 L297.4 120.1 L297.9 119.3 L298.5 118.5 L299.0 118.0 L299.7 117.3 L300.2 116.8 L301.0 116.2 L301.8 115.7 L302.6 115.3 L303.4 115.0 L304.2 114.8 L305.4 114.5 L306.2 114.5 L307.0 114.6 L308.0 114.9 L308.7 115.3 L309.4 115.9 L309.9 116.5 L310.3 117.3 L310.7 118.1 L311.1 118.9 L311.4 120.0 L311.6 120.9 L311.8 122.1 L311.8 122.9 L311.8 123.7 L311.7 124.9 L311.4 126.0 L311.1 126.9 L310.7 127.7 L310.2 128.5 L309.8 129.1 L309.2 129.7 L308.6 130.2 L307.8 130.8 L307.0 131.2 L306.2 131.5 L305.4 131.7 M303.4 130.9 L302.6 130.9 L301.4 130.7 L300.6 130.5 L299.6 130.1 L299.0 129.7 L298.2 129.1 L297.7 128.5 L297.3 127.7 L297.0 126.9 L296.8 125.7 L296.8 124.5 L297.0 123.4 L297.3 122.5 L297.6 121.7 L298.0 120.9 L298.4 120.1 L299.0 119.3 L299.4 118.8 L300.1 118.1 L300.6 117.7 L301.4 117.1 L302.2 116.6 L303.0 116.3 L303.8 116.0 L305.0 115.7 L306.2 115.7 L307.4 116.1 L308.1 116.5 L308.6 116.9 L309.3 117.7 L309.8 118.5 L310.2 119.3 L310.4 120.1 L310.7 120.9 L310.9 122.1 L310.9 123.3 L310.8 124.5 L310.6 125.5 L310.3 126.5 L309.8 127.3 L309.4 128.0 L309.0 128.5 L308.2 129.2 L307.6 129.7 L306.9 130.1 L305.9 130.5 L305.0 130.7 L303.8 130.9 M304.6 129.7 L303.4 129.8 L302.2 129.7 L301.4 129.6 L300.6 129.3 L299.8 128.8 L299.0 128.2 L298.6 127.6 L298.2 126.9 L297.9 125.7 L297.9 124.5 L298.0 123.3 L298.3 122.5 L298.6 121.7 L299.1 120.9 L299.6 120.1 L300.2 119.4 L300.7 118.9 L301.4 118.3 L302.2 117.8 L303.0 117.4 L303.8 117.2 L305.0 117.0 L306.2 117.1 L307.0 117.4 L307.8 117.9 L308.4 118.5 L308.9 119.3 L309.3 120.1 L309.6 120.9 L309.8 121.7 L309.9 122.9 L309.9 124.1 L309.7 124.9 L309.4 125.9 L309.0 126.7 L308.6 127.3 L307.9 128.1 L307.4 128.5 L306.6 129.0 L305.8 129.4 L304.6 129.7 M304.2 128.5 L303.0 128.6 L302.2 128.5 L301.2 128.1 L300.5 127.7 L299.8 127.0 L299.4 126.3 L299.1 125.3 L299.1 124.1 L299.3 122.9 L299.7 122.1 L300.1 121.3 L300.6 120.6 L301.1 120.1 L301.8 119.4 L302.6 118.9 L303.4 118.6 L304.2 118.4 L305.4 118.4 L306.2 118.6 L307.0 119.1 L307.7 119.7 L308.2 120.5 L308.5 121.3 L308.7 122.1 L308.8 123.3 L308.7 124.5 L308.4 125.3 L308.0 126.1 L307.4 126.9 L307.0 127.3 L306.2 127.9 L305.4 128.2 L304.4 128.5 M304.6 126.9 L303.4 127.1 L302.5 126.9 L301.7 126.5 L301.0 125.7 L300.7 124.9 L300.6 124.1 L300.7 123.3 L301.0 122.5 L301.5 121.7 L302.2 120.9 L302.8 120.5 L303.7 120.1 L304.6 120.0 L305.4 120.1 L306.2 120.6 L306.9 121.3 L307.2 122.1 L307.4 123.2 L307.4 123.7 L307.0 124.9 L306.6 125.6 L306.1 126.1 L305.4 126.6 L304.6 126.9" fill="none" stroke="#5a5a5a" stroke-width="0.45" stroke-linejoin="round" clip-path="url(#c180_0)"/>
<circle cx="301.8" cy="83" r="0.5" fill="#666"/>
<circle cx="305.8" cy="86" r="0.5" fill="#666"/>
<circle cx="309.8" cy="88" r="0.5" fill="#666"/>
<circle cx="284.8" cy="92" r="0.5" fill="#666"/>
<circle cx="297.8" cy="95" r="0.5" fill="#666"/>
<circle cx="327.8" cy="128" r="0.5" fill="#666"/>
<circle cx="320.8" cy="160" r="0.5" fill="#666"/>
<circle cx="280.8" cy="118" r="0.5" fill="#666"/>
<rect x="212.6" y="28.9" width="137.7" height="141.2" fill="none" stroke="#b4b4b4" stroke-width="1.1"/>
<line x1="208.5" y1="160.1" x2="212.1" y2="160.1" stroke="#1a1a1a" stroke-width="1.1"/>
<line x1="208.5" y1="114.5" x2="212.1" y2="114.5" stroke="#1a1a1a" stroke-width="1.1"/>
<line x1="208.5" y1="76.2" x2="212.1" y2="76.2" stroke="#1a1a1a" stroke-width="1.1"/>
<line x1="208.5" y1="42.6" x2="212.1" y2="42.6" stroke="#1a1a1a" stroke-width="1.1"/>
<line x1="210.2" y1="102.97" x2="212.1" y2="102.97" stroke="#1a1a1a" stroke-width="0.8"/>
<line x1="210.2" y1="96.23" x2="212.1" y2="96.23" stroke="#1a1a1a" stroke-width="0.8"/>
<line x1="210.2" y1="91.44" x2="212.1" y2="91.44" stroke="#1a1a1a" stroke-width="0.8"/>
<line x1="210.2" y1="87.73" x2="212.1" y2="87.73" stroke="#1a1a1a" stroke-width="0.8"/>
<line x1="210.2" y1="84.7" x2="212.1" y2="84.7" stroke="#1a1a1a" stroke-width="0.8"/>
<line x1="210.2" y1="82.13" x2="212.1" y2="82.13" stroke="#1a1a1a" stroke-width="0.8"/>
<line x1="210.2" y1="79.91" x2="212.1" y2="79.91" stroke="#1a1a1a" stroke-width="0.8"/>
<line x1="210.2" y1="77.95" x2="212.1" y2="77.95" stroke="#1a1a1a" stroke-width="0.8"/>
<line x1="210.2" y1="66.09" x2="212.1" y2="66.09" stroke="#1a1a1a" stroke-width="0.8"/>
<line x1="210.2" y1="60.17" x2="212.1" y2="60.17" stroke="#1a1a1a" stroke-width="0.8"/>
<line x1="210.2" y1="55.97" x2="212.1" y2="55.97" stroke="#1a1a1a" stroke-width="0.8"/>
<line x1="210.2" y1="52.71" x2="212.1" y2="52.71" stroke="#1a1a1a" stroke-width="0.8"/>
<line x1="210.2" y1="50.05" x2="212.1" y2="50.05" stroke="#1a1a1a" stroke-width="0.8"/>
<line x1="210.2" y1="47.8" x2="212.1" y2="47.8" stroke="#1a1a1a" stroke-width="0.8"/>
<line x1="210.2" y1="45.86" x2="212.1" y2="45.86" stroke="#1a1a1a" stroke-width="0.8"/>
<line x1="210.2" y1="44.14" x2="212.1" y2="44.14" stroke="#1a1a1a" stroke-width="0.8"/>
<line x1="210.2" y1="32.49" x2="212.1" y2="32.49" stroke="#1a1a1a" stroke-width="0.8"/>
<line x1="210.2" y1="117.04" x2="212.1" y2="117.04" stroke="#1a1a1a" stroke-width="0.8"/>
<line x1="210.2" y1="119.59" x2="212.1" y2="119.59" stroke="#1a1a1a" stroke-width="0.8"/>
<line x1="210.2" y1="122.13" x2="212.1" y2="122.13" stroke="#1a1a1a" stroke-width="0.8"/>
<line x1="210.2" y1="124.68" x2="212.1" y2="124.68" stroke="#1a1a1a" stroke-width="0.8"/>
<line x1="210.2" y1="127.22" x2="212.1" y2="127.22" stroke="#1a1a1a" stroke-width="0.8"/>
<line x1="210.2" y1="129.77" x2="212.1" y2="129.77" stroke="#1a1a1a" stroke-width="0.8"/>
<line x1="210.2" y1="132.31" x2="212.1" y2="132.31" stroke="#1a1a1a" stroke-width="0.8"/>
<line x1="210.2" y1="157.58" x2="212.1" y2="157.58" stroke="#1a1a1a" stroke-width="0.8"/>
<line x1="210.2" y1="155.06" x2="212.1" y2="155.06" stroke="#1a1a1a" stroke-width="0.8"/>
<line x1="210.2" y1="152.53" x2="212.1" y2="152.53" stroke="#1a1a1a" stroke-width="0.8"/>
<line x1="210.2" y1="150.01" x2="212.1" y2="150.01" stroke="#1a1a1a" stroke-width="0.8"/>
<line x1="210.2" y1="147.49" x2="212.1" y2="147.49" stroke="#1a1a1a" stroke-width="0.8"/>
<line x1="210.2" y1="144.97" x2="212.1" y2="144.97" stroke="#1a1a1a" stroke-width="0.8"/>
<line x1="210.2" y1="142.44" x2="212.1" y2="142.44" stroke="#1a1a1a" stroke-width="0.8"/>
<line x1="208.5" y1="140.84" x2="212.1" y2="140.84" stroke="#1a1a1a" stroke-width="0.9"/>
<line x1="208.5" y1="140.15" x2="212.1" y2="140.15" stroke="#1a1a1a" stroke-width="0.9"/>
<line x1="208.5" y1="139.46" x2="212.1" y2="139.46" stroke="#1a1a1a" stroke-width="0.9"/>
<line x1="208.5" y1="138.77" x2="212.1" y2="138.77" stroke="#1a1a1a" stroke-width="0.9"/>
<line x1="208.5" y1="138.09" x2="212.1" y2="138.09" stroke="#1a1a1a" stroke-width="0.9"/>
<line x1="208.5" y1="137.4" x2="212.1" y2="137.4" stroke="#1a1a1a" stroke-width="0.9"/>
<line x1="208.5" y1="136.71" x2="212.1" y2="136.71" stroke="#1a1a1a" stroke-width="0.9"/>
<line x1="208.5" y1="136.03" x2="212.1" y2="136.03" stroke="#1a1a1a" stroke-width="0.9"/>
<line x1="208.5" y1="135.34" x2="212.1" y2="135.34" stroke="#1a1a1a" stroke-width="0.9"/>
<line x1="208.5" y1="134.65" x2="212.1" y2="134.65" stroke="#1a1a1a" stroke-width="0.9"/>
<line x1="208.5" y1="133.97" x2="212.1" y2="133.97" stroke="#1a1a1a" stroke-width="0.9"/>
<line x1="221.2" y1="170.6" x2="221.2" y2="174.2" stroke="#1a1a1a" stroke-width="1.1"/>
<line x1="266.6" y1="170.6" x2="266.6" y2="174.2" stroke="#1a1a1a" stroke-width="1.1"/>
<line x1="304.1" y1="170.6" x2="304.1" y2="174.2" stroke="#1a1a1a" stroke-width="1.1"/>
<line x1="336.8" y1="170.6" x2="336.8" y2="174.2" stroke="#1a1a1a" stroke-width="1.1"/>
<line x1="277.89" y1="170.6" x2="277.89" y2="172.5" stroke="#1a1a1a" stroke-width="0.8"/>
<line x1="284.49" y1="170.6" x2="284.49" y2="172.5" stroke="#1a1a1a" stroke-width="0.8"/>
<line x1="289.18" y1="170.6" x2="289.18" y2="172.5" stroke="#1a1a1a" stroke-width="0.8"/>
<line x1="292.81" y1="170.6" x2="292.81" y2="172.5" stroke="#1a1a1a" stroke-width="0.8"/>
<line x1="295.78" y1="170.6" x2="295.78" y2="172.5" stroke="#1a1a1a" stroke-width="0.8"/>
<line x1="298.29" y1="170.6" x2="298.29" y2="172.5" stroke="#1a1a1a" stroke-width="0.8"/>
<line x1="300.47" y1="170.6" x2="300.47" y2="172.5" stroke="#1a1a1a" stroke-width="0.8"/>
<line x1="302.38" y1="170.6" x2="302.38" y2="172.5" stroke="#1a1a1a" stroke-width="0.8"/>
<line x1="313.94" y1="170.6" x2="313.94" y2="172.5" stroke="#1a1a1a" stroke-width="0.8"/>
<line x1="319.7" y1="170.6" x2="319.7" y2="172.5" stroke="#1a1a1a" stroke-width="0.8"/>
<line x1="323.79" y1="170.6" x2="323.79" y2="172.5" stroke="#1a1a1a" stroke-width="0.8"/>
<line x1="326.96" y1="170.6" x2="326.96" y2="172.5" stroke="#1a1a1a" stroke-width="0.8"/>
<line x1="329.55" y1="170.6" x2="329.55" y2="172.5" stroke="#1a1a1a" stroke-width="0.8"/>
<line x1="331.73" y1="170.6" x2="331.73" y2="172.5" stroke="#1a1a1a" stroke-width="0.8"/>
<line x1="333.63" y1="170.6" x2="333.63" y2="172.5" stroke="#1a1a1a" stroke-width="0.8"/>
<line x1="335.3" y1="170.6" x2="335.3" y2="172.5" stroke="#1a1a1a" stroke-width="0.8"/>
<line x1="346.64" y1="170.6" x2="346.64" y2="172.5" stroke="#1a1a1a" stroke-width="0.8"/>
<line x1="264.12" y1="170.6" x2="264.12" y2="172.5" stroke="#1a1a1a" stroke-width="0.8"/>
<line x1="261.64" y1="170.6" x2="261.64" y2="172.5" stroke="#1a1a1a" stroke-width="0.8"/>
<line x1="259.17" y1="170.6" x2="259.17" y2="172.5" stroke="#1a1a1a" stroke-width="0.8"/>
<line x1="256.69" y1="170.6" x2="256.69" y2="172.5" stroke="#1a1a1a" stroke-width="0.8"/>
<line x1="254.21" y1="170.6" x2="254.21" y2="172.5" stroke="#1a1a1a" stroke-width="0.8"/>
<line x1="251.73" y1="170.6" x2="251.73" y2="172.5" stroke="#1a1a1a" stroke-width="0.8"/>
<line x1="249.26" y1="170.6" x2="249.26" y2="172.5" stroke="#1a1a1a" stroke-width="0.8"/>
<line x1="223.77" y1="170.6" x2="223.77" y2="172.5" stroke="#1a1a1a" stroke-width="0.8"/>
<line x1="226.33" y1="170.6" x2="226.33" y2="172.5" stroke="#1a1a1a" stroke-width="0.8"/>
<line x1="228.9" y1="170.6" x2="228.9" y2="172.5" stroke="#1a1a1a" stroke-width="0.8"/>
<line x1="231.47" y1="170.6" x2="231.47" y2="172.5" stroke="#1a1a1a" stroke-width="0.8"/>
<line x1="234.03" y1="170.6" x2="234.03" y2="172.5" stroke="#1a1a1a" stroke-width="0.8"/>
<line x1="236.6" y1="170.6" x2="236.6" y2="172.5" stroke="#1a1a1a" stroke-width="0.8"/>
<line x1="239.17" y1="170.6" x2="239.17" y2="172.5" stroke="#1a1a1a" stroke-width="0.8"/>
<line x1="240.96" y1="170.6" x2="240.96" y2="174.2" stroke="#1a1a1a" stroke-width="0.9"/>
<line x1="241.62" y1="170.6" x2="241.62" y2="174.2" stroke="#1a1a1a" stroke-width="0.9"/>
<line x1="242.29" y1="170.6" x2="242.29" y2="174.2" stroke="#1a1a1a" stroke-width="0.9"/>
<line x1="242.96" y1="170.6" x2="242.96" y2="174.2" stroke="#1a1a1a" stroke-width="0.9"/>
<line x1="243.63" y1="170.6" x2="243.63" y2="174.2" stroke="#1a1a1a" stroke-width="0.9"/>
<line x1="244.3" y1="170.6" x2="244.3" y2="174.2" stroke="#1a1a1a" stroke-width="0.9"/>
<line x1="244.97" y1="170.6" x2="244.97" y2="174.2" stroke="#1a1a1a" stroke-width="0.9"/>
<line x1="245.64" y1="170.6" x2="245.64" y2="174.2" stroke="#1a1a1a" stroke-width="0.9"/>
<line x1="246.31" y1="170.6" x2="246.31" y2="174.2" stroke="#1a1a1a" stroke-width="0.9"/>
<line x1="246.98" y1="170.6" x2="246.98" y2="174.2" stroke="#1a1a1a" stroke-width="0.9"/>
<line x1="247.65" y1="170.6" x2="247.65" y2="174.2" stroke="#1a1a1a" stroke-width="0.9"/>
<text x="196.61" y="45.4" font-size="6.2" fill="#3a3a3a" textLength="6.01" lengthAdjust="spacingAndGlyphs">10</text>
<text x="202.54" y="42" font-size="5.2" fill="#3a3a3a" textLength="3.7" lengthAdjust="spacingAndGlyphs">5</text>
<text x="196.61" y="79" font-size="6.2" fill="#3a3a3a" textLength="6.01" lengthAdjust="spacingAndGlyphs">10</text>
<text x="202.68" y="75.6" font-size="5.2" fill="#3a3a3a" textLength="3.49" lengthAdjust="spacingAndGlyphs">4</text>
<text x="196.61" y="117.3" font-size="6.2" fill="#3a3a3a" textLength="6.01" lengthAdjust="spacingAndGlyphs">10</text>
<text x="202.54" y="113.9" font-size="5.2" fill="#3a3a3a" textLength="3.78" lengthAdjust="spacingAndGlyphs">3</text>
<text x="200.82" y="139.6" font-size="6" fill="#3a3a3a" textLength="2.34" lengthAdjust="spacingAndGlyphs">0</text>
<text x="193.3" y="162.9" font-size="6.2" fill="#3a3a3a" textLength="3.62" lengthAdjust="spacingAndGlyphs">−</text>
<text x="196.61" y="162.9" font-size="6.2" fill="#3a3a3a" textLength="6.01" lengthAdjust="spacingAndGlyphs">10</text>
<text x="202.54" y="159.5" font-size="5.2" fill="#3a3a3a" textLength="3.78" lengthAdjust="spacingAndGlyphs">3</text>
<text x="266.3" y="182.1" font-size="6.2" fill="#3a3a3a" textLength="6.12" lengthAdjust="spacingAndGlyphs">10</text>
<text x="272.36" y="178.6" font-size="5.2" fill="#3a3a3a" textLength="3.54" lengthAdjust="spacingAndGlyphs">3</text>
<text x="303.8" y="182.1" font-size="6.2" fill="#3a3a3a" textLength="6.12" lengthAdjust="spacingAndGlyphs">10</text>
<text x="309.99" y="178.6" font-size="5.2" fill="#3a3a3a" textLength="3.27" lengthAdjust="spacingAndGlyphs">4</text>
<text x="336.5" y="182.1" font-size="6.2" fill="#3a3a3a" textLength="6.12" lengthAdjust="spacingAndGlyphs">10</text>
<text x="342.56" y="178.6" font-size="5.2" fill="#3a3a3a" textLength="3.47" lengthAdjust="spacingAndGlyphs">5</text>
<text x="245.32" y="181.9" font-size="6" fill="#3a3a3a" textLength="2.34" lengthAdjust="spacingAndGlyphs">0</text>
<text x="218.32" y="182.1" font-size="6.2" fill="#3a3a3a" textLength="3.38" lengthAdjust="spacingAndGlyphs">−</text>
<text x="221.3" y="182.1" font-size="6.2" fill="#3a3a3a" textLength="6.12" lengthAdjust="spacingAndGlyphs">10</text>
<text x="227.36" y="178.6" font-size="5.2" fill="#3a3a3a" textLength="3.54" lengthAdjust="spacingAndGlyphs">3</text>
<rect x="274.6" y="56.3" width="73.6" height="113.8" fill="none" stroke="#2a2a2a" stroke-width="1.3"/>
<line x1="274.6" y1="103.3" x2="348.2" y2="103.3" stroke="#2a2a2a" stroke-width="1.5"/>
<line x1="274.6" y1="141.6" x2="348.2" y2="141.6" stroke="#2a2a2a" stroke-width="1.5"/>
<text x="232.61" y="81.7" font-size="9.2" fill="#222" textLength="20.03" lengthAdjust="spacingAndGlyphs">4.1%</text>
<text x="232.42" y="127.2" font-size="9.2" fill="#222" textLength="24.91" lengthAdjust="spacingAndGlyphs">87.1%</text>
<text x="232.42" y="158.9" font-size="9.2" fill="#222" textLength="20.03" lengthAdjust="spacingAndGlyphs">8.8%</text>
<text x="211.83" y="12.3" font-size="11" font-weight="bold" fill="#111" textLength="28.31" lengthAdjust="spacingAndGlyphs">t18 h</text>
<text x="212.2" y="22.6" font-size="10.2" fill="#333" textLength="122.21" lengthAdjust="spacingAndGlyphs">Gated on singlet viable Mφ</text>
<clipPath id="c0_216"><rect x="31.8" y="244.9" width="137.7" height="141.2"/></clipPath>
<path d="M130.6 383.7 L129.4 383.7 L128.8 383.3 L128.2 382.5 L127.8 381.7 L127.5 380.9 L127.3 380.1 L127.0 379.1 L126.8 378.1 L126.6 376.9 L126.5 376.1 L126.4 374.9 L126.2 373.7 L126.1 372.9 L125.8 371.7 L125.6 370.9 L125.2 370.1 L124.6 369.4 L124.0 368.9 L123.4 368.5 L122.6 368.1 L121.6 367.7 L120.6 367.3 L119.8 367.0 L119.0 366.7 L118.2 366.5 L117.2 366.1 L116.2 365.8 L115.4 365.5 L114.6 365.2 L113.8 364.9 L112.7 364.5 L111.8 364.1 L111.0 363.8 L110.2 363.4 L109.4 362.9 L108.7 362.5 L108.1 362.1 L107.4 361.6 L106.6 361.0 L106.0 360.5 L105.4 359.9 L104.8 359.3 L104.2 358.6 L103.8 358.1 L103.2 357.3 L102.7 356.5 L102.2 355.7 L101.8 354.9 L101.4 354.1 L101.1 353.3 L100.8 352.5 L100.5 351.7 L100.2 350.8 L99.9 349.7 L99.7 348.9 L99.5 347.7 L99.4 346.9 L99.3 345.7 L99.2 344.5 L99.1 343.3 L99.1 342.1 L99.2 340.9 L99.3 339.7 L99.4 338.5 L99.5 337.7 L99.7 336.5 L99.8 335.7 L100.1 334.5 L100.2 333.7 L100.5 332.5 L100.8 331.7 L101.0 330.9 L101.4 329.7 L101.7 328.9 L102.0 328.1 L102.3 327.3 L102.7 326.5 L103.0 325.7 L103.4 324.9 L103.9 324.1 L104.3 323.3 L104.8 322.5 L105.4 321.7 L105.8 321.1 L106.3 320.5 L106.9 319.7 L107.4 319.2 L108.1 318.5 L108.6 318.0 L109.3 317.3 L109.8 316.9 L110.6 316.3 L111.4 315.7 L112.0 315.3 L112.7 314.9 L113.4 314.5 L114.2 314.1 L115.0 313.7 L115.9 313.3 L117.0 312.9 L117.8 312.6 L118.6 312.3 L119.4 312.1 L120.6 311.8 L121.4 311.6 L122.6 311.3 L123.4 311.2 L124.6 311.0 L125.4 310.8 L126.6 310.7 L127.8 310.6 L129.0 310.6 L130.2 310.7 L131.4 310.8 L132.2 310.9 L133.4 311.2 L134.2 311.4 L135.1 311.7 L136.1 312.1 L136.9 312.5 L137.7 312.9 L138.3 313.3 L139.0 313.8 L139.8 314.4 L140.3 314.9 L141.0 315.6 L141.5 316.1 L142.1 316.9 L142.6 317.6 L143.0 318.3 L143.4 319.0 L143.8 319.8 L144.2 320.7 L144.6 321.7 L144.9 322.5 L145.1 323.3 L145.4 324.4 L145.6 325.3 L145.8 326.1 L146.1 327.3 L146.2 328.1 L146.4 329.3 L146.6 330.1 L146.8 331.3 L147.0 332.2 L147.2 333.3 L147.4 334.4 L147.6 335.3 L147.7 336.5 L147.8 337.3 L147.9 338.5 L148.0 339.7 L148.0 340.9 L148.0 342.1 L148.0 343.3 L147.9 344.5 L147.8 345.3 L147.6 346.5 L147.4 347.6 L147.2 348.5 L147.0 349.4 L146.7 350.5 L146.5 351.3 L146.2 352.4 L145.9 353.3 L145.7 354.1 L145.4 355.2 L145.1 356.1 L144.9 356.9 L144.6 357.7 L144.2 358.8 L143.8 359.7 L143.5 360.5 L143.0 361.3 L142.6 362.0 L142.2 362.6 L141.7 363.3 L141.0 364.1 L140.6 364.5 L139.8 365.3 L139.3 365.7 L138.6 366.2 L137.8 366.8 L137.1 367.3 L136.5 367.7 L135.8 368.3 L135.3 368.9 L134.7 369.7 L134.4 370.5 L134.1 371.3 L133.9 372.5 L133.8 373.3 L133.6 374.5 L133.5 375.7 L133.4 376.7 L133.3 377.7 L133.0 378.9 L132.8 379.7 L132.6 380.6 L132.2 381.6 L131.8 382.4 L131.4 383.0 L130.6 383.7 M130.2 370.8 L129.4 370.5 L128.8 369.7 L128.2 368.9 L127.8 368.4 L127.2 367.7 L126.6 367.2 L125.8 366.6 L125.0 366.2 L124.2 365.7 L123.4 365.4 L122.6 365.0 L121.8 364.7 L121.0 364.3 L120.2 363.9 L119.4 363.6 L118.6 363.2 L117.8 362.9 L116.8 362.5 L115.8 362.1 L115.0 361.8 L114.2 361.5 L113.4 361.2 L112.6 360.8 L111.8 360.4 L111.0 360.0 L110.2 359.5 L109.4 359.0 L108.7 358.5 L108.2 358.1 L107.4 357.3 L107.0 356.9 L106.3 356.1 L105.8 355.5 L105.4 354.9 L104.9 354.1 L104.4 353.3 L104.0 352.5 L103.7 351.7 L103.3 350.9 L103.0 349.8 L102.7 348.9 L102.6 348.1 L102.3 346.9 L102.2 345.8 L102.1 344.9 L102.1 343.7 L102.1 342.5 L102.1 341.3 L102.2 340.3 L102.3 339.3 L102.5 338.1 L102.6 337.3 L102.9 336.1 L103.1 335.3 L103.4 334.1 L103.6 333.3 L103.9 332.5 L104.2 331.6 L104.6 330.6 L105.0 329.7 L105.3 328.9 L105.7 328.1 L106.1 327.3 L106.6 326.5 L107.0 325.8 L107.4 325.2 L107.9 324.5 L108.5 323.7 L109.0 323.0 L109.4 322.5 L110.2 321.7 L110.6 321.3 L111.4 320.6 L111.9 320.1 L112.6 319.6 L113.4 319.0 L114.2 318.5 L114.8 318.1 L115.5 317.7 L116.3 317.3 L117.1 316.9 L118.0 316.5 L118.9 316.1 L119.8 315.8 L120.6 315.5 L121.4 315.2 L122.3 314.9 L123.4 314.6 L124.2 314.4 L125.3 314.1 L126.2 313.9 L127.4 313.8 L128.2 313.7 L129.4 313.7 L130.5 313.7 L131.4 313.8 L132.6 314.0 L133.4 314.2 L134.3 314.5 L135.2 314.9 L136.0 315.3 L136.7 315.7 L137.4 316.2 L138.2 316.9 L138.6 317.3 L139.4 318.1 L139.8 318.7 L140.2 319.3 L140.7 320.1 L141.1 320.9 L141.5 321.7 L141.8 322.5 L142.2 323.7 L142.4 324.5 L142.6 325.4 L142.8 326.5 L143.0 327.7 L143.1 328.5 L143.3 329.7 L143.4 330.5 L143.6 331.7 L143.8 332.9 L143.9 333.7 L144.1 334.9 L144.2 335.7 L144.4 336.9 L144.5 338.1 L144.6 339.3 L144.6 340.5 L144.6 340.9 L144.6 342.1 L144.5 343.3 L144.4 344.5 L144.2 345.5 L144.0 346.5 L143.8 347.5 L143.6 348.5 L143.4 349.3 L143.1 350.5 L142.8 351.3 L142.6 352.3 L142.4 353.3 L142.2 354.1 L141.9 355.3 L141.7 356.1 L141.4 357.2 L141.1 358.1 L140.8 358.9 L140.5 359.7 L140.0 360.5 L139.5 361.3 L139.0 362.0 L138.6 362.5 L137.8 363.3 L137.3 363.7 L136.6 364.3 L135.8 364.9 L135.3 365.3 L134.6 365.8 L133.8 366.5 L133.3 366.9 L132.6 367.6 L132.2 368.1 L131.6 368.9 L131.1 369.7 L130.6 370.4 M130.2 366.2 L129.1 366.1 L128.2 365.8 L127.4 365.4 L126.6 365.0 L125.8 364.6 L125.0 364.2 L124.2 363.8 L123.4 363.5 L122.6 363.1 L121.8 362.7 L121.0 362.3 L120.2 361.9 L119.4 361.5 L118.6 361.1 L117.8 360.7 L117.0 360.4 L116.2 360.1 L115.3 359.7 L114.3 359.3 L113.4 358.9 L112.6 358.5 L111.8 358.1 L111.1 357.7 L110.5 357.3 L109.8 356.8 L109.0 356.1 L108.5 355.7 L107.8 354.9 L107.4 354.4 L106.9 353.7 L106.3 352.9 L105.9 352.1 L105.5 351.3 L105.1 350.5 L104.9 349.7 L104.6 348.9 L104.3 347.7 L104.1 346.9 L104.0 345.7 L103.9 344.5 L103.8 343.3 L103.9 342.1 L103.9 340.9 L104.1 339.7 L104.2 338.9 L104.4 337.7 L104.6 336.9 L104.9 335.7 L105.1 334.9 L105.4 334.0 L105.8 332.9 L106.1 332.1 L106.4 331.3 L106.8 330.5 L107.2 329.7 L107.6 328.9 L108.0 328.1 L108.5 327.3 L109.0 326.6 L109.4 326.0 L109.9 325.3 L110.6 324.5 L111.0 324.1 L111.7 323.3 L112.2 322.8 L113.0 322.1 L113.5 321.7 L114.2 321.2 L115.0 320.6 L115.8 320.1 L116.5 319.7 L117.2 319.3 L118.0 318.9 L118.8 318.5 L119.7 318.1 L120.6 317.7 L121.4 317.4 L122.2 317.1 L123.0 316.8 L123.9 316.5 L125.0 316.2 L125.8 316.0 L127.0 315.7 L127.8 315.6 L129.0 315.5 L130.2 315.5 L131.4 315.7 L132.2 315.8 L133.3 316.1 L134.2 316.5 L135.0 316.8 L135.7 317.3 L136.3 317.7 L137.0 318.3 L137.6 318.9 L138.2 319.6 L138.6 320.1 L139.1 320.9 L139.5 321.7 L139.9 322.5 L140.2 323.4 L140.5 324.5 L140.7 325.3 L140.9 326.5 L141.1 327.3 L141.2 328.5 L141.4 329.7 L141.5 330.5 L141.7 331.7 L141.8 332.7 L141.9 333.7 L142.1 334.9 L142.2 335.7 L142.4 336.9 L142.5 338.1 L142.5 339.3 L142.6 340.5 L142.5 341.7 L142.5 342.9 L142.3 344.1 L142.2 344.9 L142.0 346.1 L141.8 346.9 L141.5 348.1 L141.3 348.9 L141.0 349.9 L140.8 350.9 L140.6 351.7 L140.3 352.9 L140.1 353.7 L139.9 354.9 L139.7 355.7 L139.5 356.9 L139.2 357.7 L138.9 358.5 L138.6 359.3 L138.1 360.1 L137.6 360.9 L137.0 361.6 L136.5 362.1 L135.8 362.8 L135.1 363.3 L134.6 363.7 L133.8 364.3 L133.0 364.8 L132.2 365.3 L131.5 365.7 L130.6 366.1 M130.6 364.2 L129.4 364.3 L128.4 364.1 L127.4 363.8 L126.6 363.4 L125.8 363.1 L125.0 362.7 L124.2 362.3 L123.4 361.9 L122.6 361.5 L121.8 361.0 L121.0 360.6 L120.2 360.2 L119.4 359.8 L118.6 359.4 L117.8 359.0 L117.0 358.7 L116.2 358.4 L115.4 358.1 L114.5 357.7 L113.6 357.3 L112.8 356.9 L112.1 356.5 L111.4 356.1 L110.6 355.5 L109.9 354.9 L109.4 354.4 L108.7 353.7 L108.2 353.0 L107.8 352.5 L107.3 351.7 L106.9 350.9 L106.5 350.1 L106.2 349.3 L105.8 348.1 L105.6 347.3 L105.4 346.1 L105.3 345.3 L105.2 344.1 L105.2 342.9 L105.2 341.7 L105.3 340.5 L105.4 339.7 L105.7 338.5 L105.8 337.7 L106.1 336.5 L106.3 335.7 L106.6 334.9 L107.0 333.8 L107.3 332.9 L107.7 332.1 L108.1 331.3 L108.5 330.5 L108.9 329.7 L109.4 328.9 L109.8 328.2 L110.2 327.6 L110.7 326.9 L111.4 326.1 L111.8 325.6 L112.5 324.9 L113.0 324.4 L113.7 323.7 L114.2 323.3 L115.0 322.7 L115.8 322.1 L116.4 321.7 L117.1 321.3 L117.8 320.9 L118.6 320.4 L119.4 320.0 L120.2 319.6 L121.0 319.3 L121.9 318.9 L122.8 318.5 L123.8 318.1 L124.6 317.9 L125.4 317.6 L126.6 317.3 L127.4 317.2 L128.6 317.0 L129.8 317.0 L131.0 317.1 L132.2 317.3 L133.0 317.6 L133.8 317.9 L134.6 318.3 L135.4 318.8 L136.0 319.3 L136.6 319.9 L137.1 320.5 L137.6 321.3 L138.1 322.1 L138.5 322.9 L138.8 323.7 L139.0 324.5 L139.3 325.7 L139.5 326.5 L139.7 327.7 L139.8 328.5 L139.9 329.7 L140.1 330.9 L140.2 331.8 L140.3 332.9 L140.5 334.1 L140.6 334.9 L140.8 336.1 L140.9 337.3 L141.0 338.5 L141.0 339.3 L141.0 340.5 L141.0 341.5 L140.9 342.5 L140.8 343.7 L140.6 344.8 L140.4 345.7 L140.2 346.6 L139.9 347.7 L139.7 348.5 L139.4 349.6 L139.2 350.5 L139.0 351.3 L138.7 352.5 L138.6 353.3 L138.4 354.5 L138.2 355.4 L138.0 356.5 L137.7 357.3 L137.4 358.2 L137.0 359.1 L136.6 359.7 L136.0 360.5 L135.4 361.2 L134.9 361.7 L134.2 362.3 L133.4 362.9 L132.7 363.3 L132.0 363.7 L131.0 364.1 M131.0 362.6 L129.8 362.8 L128.6 362.7 L127.7 362.5 L126.6 362.1 L125.8 361.7 L125.0 361.3 L124.2 360.9 L123.5 360.5 L122.8 360.1 L122.1 359.7 L121.4 359.3 L120.6 358.9 L119.8 358.4 L119.0 358.1 L118.1 357.7 L117.1 357.3 L116.2 356.9 L115.4 356.6 L114.6 356.3 L113.8 355.9 L113.0 355.5 L112.2 355.0 L111.5 354.5 L111.0 354.1 L110.2 353.4 L109.7 352.9 L109.1 352.1 L108.6 351.4 L108.2 350.8 L107.8 350.0 L107.4 349.1 L107.0 348.1 L106.8 347.3 L106.6 346.3 L106.4 345.3 L106.3 344.1 L106.3 342.9 L106.4 341.7 L106.5 340.5 L106.6 339.7 L106.8 338.5 L107.0 337.7 L107.3 336.5 L107.6 335.7 L107.9 334.9 L108.2 334.0 L108.6 333.0 L109.0 332.2 L109.4 331.4 L109.8 330.6 L110.2 330.0 L110.6 329.3 L111.2 328.5 L111.8 327.7 L112.2 327.2 L112.8 326.5 L113.4 325.9 L114.0 325.3 L114.6 324.7 L115.4 324.1 L115.9 323.7 L116.6 323.2 L117.4 322.7 L118.2 322.2 L119.0 321.8 L119.8 321.3 L120.6 320.9 L121.4 320.6 L122.2 320.2 L123.0 319.8 L123.8 319.5 L124.6 319.2 L125.6 318.9 L126.6 318.6 L127.4 318.5 L128.6 318.3 L129.8 318.3 L131.0 318.4 L131.8 318.5 L132.9 318.9 L133.7 319.3 L134.4 319.7 L135.0 320.2 L135.8 320.9 L136.2 321.4 L136.7 322.1 L137.1 322.9 L137.5 323.7 L137.8 324.6 L138.1 325.7 L138.3 326.5 L138.5 327.7 L138.6 328.7 L138.7 329.7 L138.9 330.9 L139.0 332.0 L139.1 332.9 L139.3 334.1 L139.4 335.1 L139.5 336.1 L139.6 337.3 L139.7 338.5 L139.8 339.7 L139.8 340.9 L139.7 342.1 L139.5 343.3 L139.4 344.2 L139.2 345.3 L139.0 346.1 L138.6 347.3 L138.4 348.1 L138.2 348.9 L137.8 350.1 L137.6 350.9 L137.4 351.9 L137.2 352.9 L137.0 354.1 L136.9 354.9 L136.7 356.1 L136.4 356.9 L136.2 357.7 L135.8 358.5 L135.3 359.3 L134.7 360.1 L134.2 360.6 L133.4 361.3 L132.9 361.7 L132.2 362.1 L131.4 362.5 M130.6 361.4 L129.4 361.5 L128.2 361.4 L127.4 361.1 L126.6 360.8 L125.8 360.4 L125.0 360.0 L124.2 359.6 L123.4 359.1 L122.6 358.6 L121.8 358.1 L121.1 357.7 L120.3 357.3 L119.4 356.9 L118.6 356.6 L117.8 356.3 L117.0 356.0 L116.2 355.7 L115.3 355.3 L114.4 354.9 L113.6 354.5 L112.9 354.1 L112.2 353.6 L111.4 353.0 L110.9 352.5 L110.2 351.7 L109.8 351.2 L109.3 350.5 L108.8 349.7 L108.5 348.9 L108.2 348.1 L107.8 346.9 L107.6 346.1 L107.4 344.9 L107.4 344.1 L107.3 342.9 L107.4 341.7 L107.4 340.9 L107.6 339.7 L107.8 338.7 L108.0 337.7 L108.3 336.9 L108.6 335.9 L109.0 334.9 L109.3 334.1 L109.6 333.3 L110.0 332.5 L110.5 331.7 L110.9 330.9 L111.4 330.1 L111.8 329.5 L112.3 328.9 L112.9 328.1 L113.4 327.5 L114.0 326.9 L114.6 326.3 L115.3 325.7 L115.8 325.3 L116.6 324.7 L117.4 324.1 L118.1 323.7 L118.7 323.3 L119.4 322.9 L120.2 322.5 L121.0 322.1 L121.8 321.7 L122.6 321.3 L123.5 320.9 L124.5 320.5 L125.4 320.2 L126.2 319.9 L127.1 319.7 L128.2 319.5 L129.4 319.4 L130.6 319.5 L131.5 319.7 L132.6 320.1 L133.4 320.5 L134.0 320.9 L134.6 321.4 L135.2 322.1 L135.8 322.9 L136.2 323.7 L136.6 324.5 L136.8 325.3 L137.0 326.1 L137.3 327.3 L137.4 328.1 L137.6 329.3 L137.7 330.5 L137.8 331.3 L138.0 332.5 L138.1 333.7 L138.2 334.5 L138.4 335.7 L138.5 336.9 L138.6 337.9 L138.7 338.9 L138.7 340.1 L138.6 341.3 L138.6 342.1 L138.4 343.3 L138.2 344.4 L138.0 345.3 L137.8 346.1 L137.4 347.3 L137.2 348.1 L136.9 348.9 L136.6 349.9 L136.3 350.9 L136.1 351.7 L135.9 352.9 L135.8 353.7 L135.6 354.9 L135.4 355.8 L135.1 356.9 L134.8 357.7 L134.3 358.5 L133.8 359.3 L133.4 359.7 L132.6 360.4 L131.8 360.9 L131.0 361.3 M130.2 360.1 L129.0 360.2 L128.2 360.1 L127.0 359.7 L126.2 359.3 L125.4 358.9 L124.7 358.5 L124.1 358.1 L123.4 357.7 L122.6 357.2 L121.8 356.7 L121.0 356.3 L120.2 356.0 L119.4 355.7 L118.4 355.3 L117.4 354.9 L116.6 354.6 L115.8 354.3 L115.0 354.0 L114.2 353.6 L113.4 353.1 L112.6 352.6 L112.0 352.1 L111.4 351.5 L110.9 350.9 L110.3 350.1 L109.8 349.4 L109.4 348.6 L109.0 347.7 L108.8 346.9 L108.6 346.1 L108.4 344.9 L108.3 343.7 L108.3 342.5 L108.3 341.3 L108.5 340.1 L108.6 339.3 L108.9 338.1 L109.1 337.3 L109.4 336.4 L109.8 335.3 L110.1 334.5 L110.5 333.7 L110.9 332.9 L111.3 332.1 L111.8 331.3 L112.2 330.7 L112.6 330.1 L113.3 329.3 L113.8 328.7 L114.3 328.1 L115.0 327.4 L115.5 326.9 L116.2 326.3 L117.0 325.7 L117.6 325.3 L118.2 324.9 L119.0 324.4 L119.8 323.9 L120.6 323.5 L121.4 323.1 L122.2 322.7 L123.0 322.3 L123.8 321.9 L124.6 321.6 L125.5 321.3 L126.6 321.0 L127.4 320.8 L128.6 320.6 L129.8 320.6 L131.0 320.8 L131.8 321.0 L132.6 321.4 L133.4 321.9 L134.0 322.5 L134.6 323.2 L135.0 323.8 L135.4 324.6 L135.8 325.6 L136.0 326.5 L136.2 327.3 L136.4 328.5 L136.6 329.7 L136.7 330.5 L136.9 331.7 L137.0 332.7 L137.1 333.7 L137.3 334.9 L137.4 335.7 L137.5 336.9 L137.6 338.1 L137.7 339.3 L137.7 340.5 L137.6 341.7 L137.4 342.9 L137.3 343.7 L137.0 344.9 L136.8 345.7 L136.6 346.5 L136.2 347.5 L135.9 348.5 L135.6 349.3 L135.3 350.1 L135.0 351.2 L134.8 352.1 L134.6 353.1 L134.4 354.1 L134.2 355.3 L134.0 356.1 L133.7 356.9 L133.3 357.7 L132.8 358.5 L132.2 359.1 L131.4 359.7 L130.6 360.0 M130.2 358.5 L129.0 358.7 L127.8 358.5 L127.0 358.2 L126.2 357.9 L125.4 357.4 L124.6 356.9 L123.9 356.5 L123.2 356.1 L122.4 355.7 L121.5 355.3 L120.6 354.9 L119.8 354.6 L119.0 354.4 L118.2 354.1 L117.0 353.7 L116.2 353.4 L115.4 353.1 L114.6 352.7 L113.8 352.2 L113.1 351.7 L112.6 351.3 L111.8 350.5 L111.4 350.0 L110.9 349.3 L110.4 348.5 L110.0 347.7 L109.7 346.9 L109.4 345.7 L109.3 344.9 L109.1 343.7 L109.1 342.5 L109.2 341.3 L109.3 340.1 L109.5 339.3 L109.8 338.1 L110.0 337.3 L110.3 336.5 L110.6 335.7 L111.0 334.7 L111.4 333.9 L111.8 333.1 L112.2 332.4 L112.7 331.7 L113.2 330.9 L113.8 330.1 L114.2 329.6 L114.9 328.9 L115.4 328.4 L116.1 327.7 L116.6 327.3 L117.4 326.7 L118.2 326.1 L118.8 325.7 L119.4 325.3 L120.2 324.9 L121.0 324.4 L121.8 324.0 L122.6 323.6 L123.4 323.3 L124.2 322.9 L125.2 322.5 L126.2 322.2 L127.0 322.0 L128.2 321.8 L129.4 321.7 L130.6 321.9 L131.4 322.1 L132.2 322.5 L133.0 323.1 L133.5 323.7 L134.1 324.5 L134.5 325.3 L134.8 326.1 L135.1 326.9 L135.3 328.1 L135.5 328.9 L135.7 330.1 L135.8 330.9 L136.0 332.1 L136.1 333.3 L136.3 334.1 L136.4 335.3 L136.6 336.5 L136.7 337.3 L136.7 338.5 L136.8 339.7 L136.7 340.9 L136.6 342.1 L136.5 342.9 L136.2 344.1 L136.0 344.9 L135.8 345.7 L135.4 346.8 L135.1 347.7 L134.7 348.5 L134.4 349.3 L134.1 350.1 L133.8 351.1 L133.5 352.1 L133.3 352.9 L133.1 354.1 L132.9 354.9 L132.6 355.8 L132.2 356.7 L131.8 357.4 L131.0 358.1 L130.3 358.5 M129.8 356.6 L128.6 356.8 L127.4 356.6 L126.6 356.3 L125.8 355.9 L125.0 355.5 L124.2 355.2 L123.4 354.8 L122.6 354.5 L121.6 354.1 L120.6 353.8 L119.8 353.5 L119.0 353.3 L117.8 352.9 L117.0 352.7 L116.2 352.3 L115.4 352.0 L114.6 351.5 L113.8 351.0 L113.2 350.5 L112.6 350.0 L112.0 349.3 L111.5 348.5 L111.0 347.7 L110.7 346.9 L110.4 346.1 L110.2 345.2 L110.0 344.1 L110.0 342.9 L110.0 341.7 L110.1 340.5 L110.3 339.7 L110.5 338.5 L110.8 337.7 L111.0 336.9 L111.4 335.9 L111.8 335.0 L112.2 334.2 L112.6 333.4 L113.0 332.8 L113.4 332.1 L114.0 331.3 L114.6 330.5 L115.0 330.1 L115.7 329.3 L116.2 328.9 L117.0 328.1 L117.6 327.7 L118.2 327.2 L119.0 326.7 L119.8 326.2 L120.6 325.7 L121.4 325.3 L122.2 324.9 L123.0 324.5 L123.8 324.2 L124.6 323.8 L125.4 323.5 L126.2 323.3 L127.4 323.0 L128.2 322.9 L129.4 322.9 L130.2 323.0 L131.0 323.3 L131.8 323.7 L132.6 324.5 L133.0 325.0 L133.5 325.7 L133.8 326.5 L134.2 327.7 L134.4 328.5 L134.6 329.5 L134.8 330.5 L135.0 331.7 L135.1 332.5 L135.3 333.7 L135.4 334.5 L135.6 335.7 L135.8 336.9 L135.8 337.7 L135.9 338.9 L135.9 340.1 L135.8 341.3 L135.7 342.1 L135.5 343.3 L135.3 344.1 L135.0 345.1 L134.6 346.1 L134.3 346.9 L134.0 347.7 L133.6 348.5 L133.3 349.3 L132.9 350.1 L132.6 350.9 L132.2 351.9 L131.9 352.9 L131.6 353.7 L131.3 354.5 L131.0 355.3 L130.4 356.1 L129.8 356.6 M128.6 354.2 L127.4 354.4 L126.2 354.2 L125.4 354.0 L124.3 353.7 L123.4 353.4 L122.6 353.2 L121.4 352.9 L120.6 352.7 L119.8 352.5 L118.6 352.2 L117.8 351.9 L117.0 351.6 L116.2 351.3 L115.4 350.9 L114.6 350.4 L113.8 349.8 L113.3 349.3 L112.6 348.5 L112.2 347.9 L111.8 347.2 L111.4 346.3 L111.1 345.3 L110.9 344.5 L110.8 343.3 L110.8 342.1 L110.9 340.9 L111.0 340.1 L111.2 338.9 L111.5 338.1 L111.8 337.1 L112.2 336.1 L112.5 335.3 L112.9 334.5 L113.4 333.7 L113.8 333.0 L114.2 332.4 L114.7 331.7 L115.4 330.9 L115.8 330.5 L116.6 329.7 L117.0 329.3 L117.8 328.6 L118.5 328.1 L119.1 327.7 L119.8 327.3 L120.6 326.8 L121.4 326.4 L122.2 326.0 L123.0 325.6 L123.8 325.3 L124.7 324.9 L125.8 324.5 L126.6 324.3 L127.8 324.1 L128.6 324.1 L129.4 324.2 L130.5 324.5 L131.2 324.9 L131.8 325.5 L132.3 326.1 L132.7 326.9 L133.1 327.7 L133.4 328.7 L133.6 329.7 L133.8 330.5 L134.1 331.7 L134.2 332.5 L134.4 333.7 L134.6 334.6 L134.8 335.7 L134.9 336.9 L135.0 337.7 L135.1 338.9 L135.1 340.1 L135.0 341.0 L134.9 342.1 L134.6 343.3 L134.4 344.1 L134.1 344.9 L133.8 345.8 L133.4 346.7 L133.0 347.5 L132.6 348.3 L132.2 349.0 L131.8 349.7 L131.4 350.5 L130.9 351.3 L130.4 352.1 L129.9 352.9 L129.4 353.6 L128.7 354.1 M127.4 352.2 L126.2 352.4 L125.0 352.4 L123.8 352.2 L122.9 352.1 L121.8 351.9 L120.7 351.7 L119.8 351.5 L119.0 351.3 L117.8 350.9 L117.0 350.6 L116.2 350.3 L115.4 349.8 L114.6 349.3 L114.2 348.9 L113.4 348.1 L113.0 347.5 L112.6 346.8 L112.2 345.9 L111.9 344.9 L111.7 344.1 L111.6 342.9 L111.6 341.7 L111.7 340.5 L111.9 339.7 L112.2 338.5 L112.4 337.7 L112.7 336.9 L113.0 336.1 L113.4 335.3 L113.8 334.5 L114.3 333.7 L114.9 332.9 L115.4 332.2 L115.8 331.7 L116.5 330.9 L117.0 330.5 L117.8 329.7 L118.4 329.3 L119.0 328.8 L119.8 328.3 L120.6 327.8 L121.4 327.4 L122.2 327.0 L123.0 326.7 L123.8 326.3 L124.6 326.0 L125.7 325.7 L126.6 325.5 L127.8 325.4 L129.0 325.5 L129.8 325.7 L130.6 326.2 L131.3 326.9 L131.8 327.7 L132.2 328.5 L132.5 329.3 L132.7 330.1 L133.0 331.2 L133.2 332.1 L133.4 332.9 L133.7 334.1 L133.8 334.9 L134.0 336.1 L134.2 337.3 L134.2 338.1 L134.3 339.3 L134.2 340.5 L134.1 341.3 L133.9 342.5 L133.8 343.3 L133.4 344.4 L133.0 345.3 L132.7 346.1 L132.2 346.9 L131.8 347.7 L131.4 348.3 L131.0 348.9 L130.4 349.7 L129.8 350.4 L129.4 350.9 L128.6 351.6 L127.8 352.0 M125.8 351.0 L124.6 351.1 L123.4 351.0 L122.2 350.9 L121.4 350.8 L120.2 350.6 L119.4 350.4 L118.2 350.1 L117.4 349.8 L116.6 349.4 L115.8 349.0 L115.1 348.5 L114.6 348.0 L114.0 347.3 L113.5 346.5 L113.1 345.7 L112.8 344.9 L112.6 344.1 L112.4 342.9 L112.4 341.7 L112.5 340.5 L112.7 339.7 L113.0 338.5 L113.2 337.7 L113.5 336.9 L113.9 336.1 L114.3 335.3 L114.8 334.5 L115.3 333.7 L115.8 333.0 L116.2 332.5 L116.9 331.7 L117.4 331.2 L118.2 330.5 L118.7 330.1 L119.4 329.6 L120.2 329.1 L121.0 328.6 L121.8 328.2 L122.6 327.9 L123.4 327.5 L124.2 327.3 L125.4 326.9 L126.2 326.8 L127.4 326.7 L128.6 326.8 L129.4 327.2 L130.1 327.7 L130.6 328.3 L131.0 328.9 L131.4 329.7 L131.8 330.6 L132.2 331.7 L132.4 332.5 L132.6 333.3 L132.9 334.5 L133.0 335.3 L133.3 336.5 L133.4 337.7 L133.5 338.5 L133.5 339.7 L133.4 340.7 L133.3 341.7 L133.0 342.9 L132.8 343.7 L132.4 344.5 L132.1 345.3 L131.6 346.1 L131.2 346.9 L130.6 347.7 L130.2 348.2 L129.5 348.9 L129.0 349.4 L128.2 350.0 L127.4 350.5 L126.6 350.8 L125.8 351.0 M125.4 349.8 L124.2 349.9 L123.0 349.9 L121.8 349.9 L120.6 349.7 L119.8 349.6 L118.8 349.3 L117.8 349.0 L117.0 348.6 L116.2 348.1 L115.7 347.7 L115.0 347.0 L114.6 346.5 L114.1 345.7 L113.7 344.9 L113.4 343.7 L113.3 342.9 L113.2 341.7 L113.3 340.5 L113.5 339.7 L113.8 338.5 L114.1 337.7 L114.4 336.9 L114.8 336.1 L115.2 335.3 L115.7 334.5 L116.2 333.8 L116.6 333.3 L117.3 332.5 L117.8 332.0 L118.6 331.3 L119.1 330.9 L119.8 330.4 L120.6 329.9 L121.4 329.4 L122.2 329.1 L123.0 328.7 L123.8 328.5 L125.0 328.2 L125.8 328.0 L127.0 328.0 L127.8 328.1 L128.7 328.5 L129.4 329.0 L130.0 329.7 L130.5 330.5 L130.9 331.3 L131.3 332.1 L131.5 332.9 L131.8 333.7 L132.1 334.9 L132.3 335.7 L132.5 336.9 L132.6 337.8 L132.7 338.9 L132.6 340.1 L132.6 340.9 L132.3 342.1 L132.1 342.9 L131.8 343.8 L131.4 344.7 L131.0 345.4 L130.6 346.1 L130.0 346.9 L129.4 347.5 L128.8 348.1 L128.2 348.6 L127.4 349.1 L126.6 349.4 L125.7 349.7 M123.4 348.9 L122.2 348.9 L121.4 348.9 L120.2 348.7 L119.4 348.5 L118.3 348.1 L117.4 347.7 L116.8 347.3 L116.2 346.9 L115.5 346.1 L115.0 345.4 L114.6 344.6 L114.3 343.7 L114.2 342.9 L114.1 341.7 L114.2 340.5 L114.3 339.7 L114.6 338.6 L114.9 337.7 L115.3 336.9 L115.7 336.1 L116.1 335.3 L116.6 334.6 L117.0 334.1 L117.7 333.3 L118.2 332.7 L118.9 332.1 L119.4 331.7 L120.2 331.2 L121.0 330.7 L121.8 330.3 L122.6 329.9 L123.4 329.7 L124.6 329.4 L125.4 329.3 L126.6 329.3 L127.4 329.5 L128.2 329.9 L129.0 330.5 L129.4 331.0 L129.9 331.7 L130.3 332.5 L130.7 333.3 L131.0 334.2 L131.3 335.3 L131.5 336.1 L131.7 337.3 L131.8 338.1 L131.9 339.3 L131.8 340.3 L131.7 341.3 L131.4 342.4 L131.1 343.3 L130.7 344.1 L130.3 344.9 L129.8 345.6 L129.4 346.1 L128.6 346.9 L128.1 347.3 L127.4 347.8 L126.6 348.2 L125.8 348.5 L124.6 348.8 L123.6 348.9 M124.6 347.7 L123.4 347.9 L122.2 347.9 L121.0 347.8 L120.2 347.7 L119.0 347.3 L118.2 347.0 L117.4 346.5 L116.9 346.1 L116.2 345.3 L115.8 344.7 L115.4 343.9 L115.1 342.9 L115.0 341.7 L115.1 340.5 L115.3 339.3 L115.5 338.5 L115.8 337.7 L116.2 336.8 L116.6 336.1 L117.1 335.3 L117.7 334.5 L118.2 334.0 L118.9 333.3 L119.4 332.8 L120.2 332.2 L121.0 331.7 L121.8 331.3 L122.6 331.0 L123.4 330.8 L124.6 330.5 L125.4 330.5 L126.2 330.6 L127.2 330.9 L127.9 331.3 L128.6 331.9 L129.1 332.5 L129.5 333.3 L129.9 334.1 L130.3 334.9 L130.6 336.0 L130.8 336.9 L131.0 338.1 L131.0 338.9 L131.0 339.7 L130.9 340.9 L130.6 342.0 L130.3 342.9 L129.9 343.7 L129.4 344.5 L129.0 345.1 L128.4 345.7 L127.8 346.2 L127.0 346.8 L126.2 347.2 L125.4 347.5 L124.6 347.7 M122.6 346.9 L121.8 346.9 L120.6 346.7 L119.8 346.5 L118.8 346.1 L118.2 345.7 L117.4 345.1 L116.9 344.5 L116.5 343.7 L116.2 342.9 L116.0 341.7 L116.0 340.5 L116.2 339.4 L116.5 338.5 L116.8 337.7 L117.2 336.9 L117.6 336.1 L118.2 335.3 L118.6 334.8 L119.3 334.1 L119.8 333.7 L120.6 333.1 L121.4 332.6 L122.2 332.3 L123.0 332.0 L124.2 331.7 L125.4 331.7 L126.6 332.1 L127.3 332.5 L127.8 332.9 L128.5 333.7 L129.0 334.5 L129.4 335.3 L129.6 336.1 L129.9 336.9 L130.1 338.1 L130.1 339.3 L130.0 340.5 L129.8 341.5 L129.5 342.5 L129.0 343.3 L128.6 344.0 L128.2 344.5 L127.4 345.2 L126.8 345.7 L126.1 346.1 L125.1 346.5 L124.2 346.7 L123.0 346.9 M123.8 345.7 L122.6 345.8 L121.4 345.7 L120.6 345.6 L119.8 345.3 L119.0 344.8 L118.2 344.2 L117.8 343.6 L117.4 342.9 L117.1 341.7 L117.1 340.5 L117.2 339.3 L117.5 338.5 L117.8 337.7 L118.3 336.9 L118.8 336.1 L119.4 335.4 L119.9 334.9 L120.6 334.3 L121.4 333.8 L122.2 333.4 L123.0 333.2 L124.2 333.0 L125.4 333.1 L126.2 333.4 L127.0 333.9 L127.6 334.5 L128.1 335.3 L128.5 336.1 L128.8 336.9 L129.0 337.7 L129.1 338.9 L129.1 340.1 L128.9 340.9 L128.6 341.9 L128.2 342.7 L127.8 343.3 L127.1 344.1 L126.6 344.5 L125.8 345.0 L125.0 345.4 L123.8 345.7 M123.4 344.5 L122.2 344.6 L121.4 344.5 L120.4 344.1 L119.7 343.7 L119.0 343.0 L118.6 342.3 L118.3 341.3 L118.3 340.1 L118.5 338.9 L118.9 338.1 L119.3 337.3 L119.8 336.6 L120.3 336.1 L121.0 335.4 L121.8 334.9 L122.6 334.6 L123.4 334.4 L124.6 334.4 L125.4 334.6 L126.2 335.1 L126.9 335.7 L127.4 336.5 L127.7 337.3 L127.9 338.1 L128.0 339.3 L127.9 340.5 L127.6 341.3 L127.2 342.1 L126.6 342.9 L126.2 343.3 L125.4 343.9 L124.6 344.2 L123.6 344.5 M123.8 342.9 L122.6 343.1 L121.7 342.9 L120.9 342.5 L120.2 341.7 L119.9 340.9 L119.8 340.1 L119.9 339.3 L120.2 338.5 L120.7 337.7 L121.4 336.9 L122.0 336.5 L122.9 336.1 L123.8 336.0 L124.6 336.1 L125.4 336.6 L126.1 337.3 L126.4 338.1 L126.6 339.2 L126.6 339.7 L126.2 340.9 L125.8 341.6 L125.3 342.1 L124.6 342.6 L123.8 342.9" fill="none" stroke="#5a5a5a" stroke-width="0.45" stroke-linejoin="round" clip-path="url(#c0_216)"/>
<circle cx="121" cy="299" r="0.5" fill="#666"/>
<circle cx="125" cy="302" r="0.5" fill="#666"/>
<circle cx="129" cy="304" r="0.5" fill="#666"/>
<circle cx="104" cy="308" r="0.5" fill="#666"/>
<circle cx="117" cy="311" r="0.5" fill="#666"/>
<circle cx="147" cy="344" r="0.5" fill="#666"/>
<circle cx="140" cy="376" r="0.5" fill="#666"/>
<circle cx="100" cy="334" r="0.5" fill="#666"/>
<rect x="31.8" y="244.9" width="137.7" height="141.2" fill="none" stroke="#b4b4b4" stroke-width="1.1"/>
<line x1="27.7" y1="376.1" x2="31.3" y2="376.1" stroke="#1a1a1a" stroke-width="1.1"/>
<line x1="27.7" y1="330.5" x2="31.3" y2="330.5" stroke="#1a1a1a" stroke-width="1.1"/>
<line x1="27.7" y1="292.2" x2="31.3" y2="292.2" stroke="#1a1a1a" stroke-width="1.1"/>
<line x1="27.7" y1="258.6" x2="31.3" y2="258.6" stroke="#1a1a1a" stroke-width="1.1"/>
<line x1="29.4" y1="318.97" x2="31.3" y2="318.97" stroke="#1a1a1a" stroke-width="0.8"/>
<line x1="29.4" y1="312.23" x2="31.3" y2="312.23" stroke="#1a1a1a" stroke-width="0.8"/>
<line x1="29.4" y1="307.44" x2="31.3" y2="307.44" stroke="#1a1a1a" stroke-width="0.8"/>
<line x1="29.4" y1="303.73" x2="31.3" y2="303.73" stroke="#1a1a1a" stroke-width="0.8"/>
<line x1="29.4" y1="300.7" x2="31.3" y2="300.7" stroke="#1a1a1a" stroke-width="0.8"/>
<line x1="29.4" y1="298.13" x2="31.3" y2="298.13" stroke="#1a1a1a" stroke-width="0.8"/>
<line x1="29.4" y1="295.91" x2="31.3" y2="295.91" stroke="#1a1a1a" stroke-width="0.8"/>
<line x1="29.4" y1="293.95" x2="31.3" y2="293.95" stroke="#1a1a1a" stroke-width="0.8"/>
<line x1="29.4" y1="282.09" x2="31.3" y2="282.09" stroke="#1a1a1a" stroke-width="0.8"/>
<line x1="29.4" y1="276.17" x2="31.3" y2="276.17" stroke="#1a1a1a" stroke-width="0.8"/>
<line x1="29.4" y1="271.97" x2="31.3" y2="271.97" stroke="#1a1a1a" stroke-width="0.8"/>
<line x1="29.4" y1="268.71" x2="31.3" y2="268.71" stroke="#1a1a1a" stroke-width="0.8"/>
<line x1="29.4" y1="266.05" x2="31.3" y2="266.05" stroke="#1a1a1a" stroke-width="0.8"/>
<line x1="29.4" y1="263.8" x2="31.3" y2="263.8" stroke="#1a1a1a" stroke-width="0.8"/>
<line x1="29.4" y1="261.86" x2="31.3" y2="261.86" stroke="#1a1a1a" stroke-width="0.8"/>
<line x1="29.4" y1="260.14" x2="31.3" y2="260.14" stroke="#1a1a1a" stroke-width="0.8"/>
<line x1="29.4" y1="248.49" x2="31.3" y2="248.49" stroke="#1a1a1a" stroke-width="0.8"/>
<line x1="29.4" y1="333.04" x2="31.3" y2="333.04" stroke="#1a1a1a" stroke-width="0.8"/>
<line x1="29.4" y1="335.59" x2="31.3" y2="335.59" stroke="#1a1a1a" stroke-width="0.8"/>
<line x1="29.4" y1="338.13" x2="31.3" y2="338.13" stroke="#1a1a1a" stroke-width="0.8"/>
<line x1="29.4" y1="340.68" x2="31.3" y2="340.68" stroke="#1a1a1a" stroke-width="0.8"/>
<line x1="29.4" y1="343.22" x2="31.3" y2="343.22" stroke="#1a1a1a" stroke-width="0.8"/>
<line x1="29.4" y1="345.77" x2="31.3" y2="345.77" stroke="#1a1a1a" stroke-width="0.8"/>
<line x1="29.4" y1="348.31" x2="31.3" y2="348.31" stroke="#1a1a1a" stroke-width="0.8"/>
<line x1="29.4" y1="373.58" x2="31.3" y2="373.58" stroke="#1a1a1a" stroke-width="0.8"/>
<line x1="29.4" y1="371.06" x2="31.3" y2="371.06" stroke="#1a1a1a" stroke-width="0.8"/>
<line x1="29.4" y1="368.53" x2="31.3" y2="368.53" stroke="#1a1a1a" stroke-width="0.8"/>
<line x1="29.4" y1="366.01" x2="31.3" y2="366.01" stroke="#1a1a1a" stroke-width="0.8"/>
<line x1="29.4" y1="363.49" x2="31.3" y2="363.49" stroke="#1a1a1a" stroke-width="0.8"/>
<line x1="29.4" y1="360.97" x2="31.3" y2="360.97" stroke="#1a1a1a" stroke-width="0.8"/>
<line x1="29.4" y1="358.44" x2="31.3" y2="358.44" stroke="#1a1a1a" stroke-width="0.8"/>
<line x1="27.7" y1="356.83" x2="31.3" y2="356.83" stroke="#1a1a1a" stroke-width="0.9"/>
<line x1="27.7" y1="356.15" x2="31.3" y2="356.15" stroke="#1a1a1a" stroke-width="0.9"/>
<line x1="27.7" y1="355.46" x2="31.3" y2="355.46" stroke="#1a1a1a" stroke-width="0.9"/>
<line x1="27.7" y1="354.77" x2="31.3" y2="354.77" stroke="#1a1a1a" stroke-width="0.9"/>
<line x1="27.7" y1="354.09" x2="31.3" y2="354.09" stroke="#1a1a1a" stroke-width="0.9"/>
<line x1="27.7" y1="353.4" x2="31.3" y2="353.4" stroke="#1a1a1a" stroke-width="0.9"/>
<line x1="27.7" y1="352.71" x2="31.3" y2="352.71" stroke="#1a1a1a" stroke-width="0.9"/>
<line x1="27.7" y1="352.03" x2="31.3" y2="352.03" stroke="#1a1a1a" stroke-width="0.9"/>
<line x1="27.7" y1="351.34" x2="31.3" y2="351.34" stroke="#1a1a1a" stroke-width="0.9"/>
<line x1="27.7" y1="350.65" x2="31.3" y2="350.65" stroke="#1a1a1a" stroke-width="0.9"/>
<line x1="27.7" y1="349.96" x2="31.3" y2="349.96" stroke="#1a1a1a" stroke-width="0.9"/>
<line x1="40.4" y1="386.6" x2="40.4" y2="390.2" stroke="#1a1a1a" stroke-width="1.1"/>
<line x1="85.8" y1="386.6" x2="85.8" y2="390.2" stroke="#1a1a1a" stroke-width="1.1"/>
<line x1="123.3" y1="386.6" x2="123.3" y2="390.2" stroke="#1a1a1a" stroke-width="1.1"/>
<line x1="156" y1="386.6" x2="156" y2="390.2" stroke="#1a1a1a" stroke-width="1.1"/>
<line x1="97.09" y1="386.6" x2="97.09" y2="388.5" stroke="#1a1a1a" stroke-width="0.8"/>
<line x1="103.69" y1="386.6" x2="103.69" y2="388.5" stroke="#1a1a1a" stroke-width="0.8"/>
<line x1="108.38" y1="386.6" x2="108.38" y2="388.5" stroke="#1a1a1a" stroke-width="0.8"/>
<line x1="112.01" y1="386.6" x2="112.01" y2="388.5" stroke="#1a1a1a" stroke-width="0.8"/>
<line x1="114.98" y1="386.6" x2="114.98" y2="388.5" stroke="#1a1a1a" stroke-width="0.8"/>
<line x1="117.49" y1="386.6" x2="117.49" y2="388.5" stroke="#1a1a1a" stroke-width="0.8"/>
<line x1="119.67" y1="386.6" x2="119.67" y2="388.5" stroke="#1a1a1a" stroke-width="0.8"/>
<line x1="121.58" y1="386.6" x2="121.58" y2="388.5" stroke="#1a1a1a" stroke-width="0.8"/>
<line x1="133.14" y1="386.6" x2="133.14" y2="388.5" stroke="#1a1a1a" stroke-width="0.8"/>
<line x1="138.9" y1="386.6" x2="138.9" y2="388.5" stroke="#1a1a1a" stroke-width="0.8"/>
<line x1="142.99" y1="386.6" x2="142.99" y2="388.5" stroke="#1a1a1a" stroke-width="0.8"/>
<line x1="146.16" y1="386.6" x2="146.16" y2="388.5" stroke="#1a1a1a" stroke-width="0.8"/>
<line x1="148.75" y1="386.6" x2="148.75" y2="388.5" stroke="#1a1a1a" stroke-width="0.8"/>
<line x1="150.93" y1="386.6" x2="150.93" y2="388.5" stroke="#1a1a1a" stroke-width="0.8"/>
<line x1="152.83" y1="386.6" x2="152.83" y2="388.5" stroke="#1a1a1a" stroke-width="0.8"/>
<line x1="154.5" y1="386.6" x2="154.5" y2="388.5" stroke="#1a1a1a" stroke-width="0.8"/>
<line x1="165.84" y1="386.6" x2="165.84" y2="388.5" stroke="#1a1a1a" stroke-width="0.8"/>
<line x1="83.32" y1="386.6" x2="83.32" y2="388.5" stroke="#1a1a1a" stroke-width="0.8"/>
<line x1="80.84" y1="386.6" x2="80.84" y2="388.5" stroke="#1a1a1a" stroke-width="0.8"/>
<line x1="78.37" y1="386.6" x2="78.37" y2="388.5" stroke="#1a1a1a" stroke-width="0.8"/>
<line x1="75.89" y1="386.6" x2="75.89" y2="388.5" stroke="#1a1a1a" stroke-width="0.8"/>
<line x1="73.41" y1="386.6" x2="73.41" y2="388.5" stroke="#1a1a1a" stroke-width="0.8"/>
<line x1="70.93" y1="386.6" x2="70.93" y2="388.5" stroke="#1a1a1a" stroke-width="0.8"/>
<line x1="68.46" y1="386.6" x2="68.46" y2="388.5" stroke="#1a1a1a" stroke-width="0.8"/>
<line x1="42.97" y1="386.6" x2="42.97" y2="388.5" stroke="#1a1a1a" stroke-width="0.8"/>
<line x1="45.53" y1="386.6" x2="45.53" y2="388.5" stroke="#1a1a1a" stroke-width="0.8"/>
<line x1="48.1" y1="386.6" x2="48.1" y2="388.5" stroke="#1a1a1a" stroke-width="0.8"/>
<line x1="50.67" y1="386.6" x2="50.67" y2="388.5" stroke="#1a1a1a" stroke-width="0.8"/>
<line x1="53.23" y1="386.6" x2="53.23" y2="388.5" stroke="#1a1a1a" stroke-width="0.8"/>
<line x1="55.8" y1="386.6" x2="55.8" y2="388.5" stroke="#1a1a1a" stroke-width="0.8"/>
<line x1="58.37" y1="386.6" x2="58.37" y2="388.5" stroke="#1a1a1a" stroke-width="0.8"/>
<line x1="60.16" y1="386.6" x2="60.16" y2="390.2" stroke="#1a1a1a" stroke-width="0.9"/>
<line x1="60.82" y1="386.6" x2="60.82" y2="390.2" stroke="#1a1a1a" stroke-width="0.9"/>
<line x1="61.49" y1="386.6" x2="61.49" y2="390.2" stroke="#1a1a1a" stroke-width="0.9"/>
<line x1="62.16" y1="386.6" x2="62.16" y2="390.2" stroke="#1a1a1a" stroke-width="0.9"/>
<line x1="62.83" y1="386.6" x2="62.83" y2="390.2" stroke="#1a1a1a" stroke-width="0.9"/>
<line x1="63.5" y1="386.6" x2="63.5" y2="390.2" stroke="#1a1a1a" stroke-width="0.9"/>
<line x1="64.17" y1="386.6" x2="64.17" y2="390.2" stroke="#1a1a1a" stroke-width="0.9"/>
<line x1="64.84" y1="386.6" x2="64.84" y2="390.2" stroke="#1a1a1a" stroke-width="0.9"/>
<line x1="65.51" y1="386.6" x2="65.51" y2="390.2" stroke="#1a1a1a" stroke-width="0.9"/>
<line x1="66.18" y1="386.6" x2="66.18" y2="390.2" stroke="#1a1a1a" stroke-width="0.9"/>
<line x1="66.84" y1="386.6" x2="66.84" y2="390.2" stroke="#1a1a1a" stroke-width="0.9"/>
<text x="15.81" y="261.4" font-size="6.2" fill="#3a3a3a" textLength="6.01" lengthAdjust="spacingAndGlyphs">10</text>
<text x="21.74" y="258" font-size="5.2" fill="#3a3a3a" textLength="3.7" lengthAdjust="spacingAndGlyphs">5</text>
<text x="15.81" y="295" font-size="6.2" fill="#3a3a3a" textLength="6.01" lengthAdjust="spacingAndGlyphs">10</text>
<text x="21.88" y="291.6" font-size="5.2" fill="#3a3a3a" textLength="3.49" lengthAdjust="spacingAndGlyphs">4</text>
<text x="15.81" y="333.3" font-size="6.2" fill="#3a3a3a" textLength="6.01" lengthAdjust="spacingAndGlyphs">10</text>
<text x="21.74" y="329.9" font-size="5.2" fill="#3a3a3a" textLength="3.78" lengthAdjust="spacingAndGlyphs">3</text>
<text x="20.02" y="355.6" font-size="6" fill="#3a3a3a" textLength="2.34" lengthAdjust="spacingAndGlyphs">0</text>
<text x="12.5" y="378.9" font-size="6.2" fill="#3a3a3a" textLength="3.62" lengthAdjust="spacingAndGlyphs">−</text>
<text x="15.81" y="378.9" font-size="6.2" fill="#3a3a3a" textLength="6.01" lengthAdjust="spacingAndGlyphs">10</text>
<text x="21.74" y="375.5" font-size="5.2" fill="#3a3a3a" textLength="3.78" lengthAdjust="spacingAndGlyphs">3</text>
<text x="85.5" y="398.1" font-size="6.2" fill="#3a3a3a" textLength="6.12" lengthAdjust="spacingAndGlyphs">10</text>
<text x="91.56" y="394.6" font-size="5.2" fill="#3a3a3a" textLength="3.54" lengthAdjust="spacingAndGlyphs">3</text>
<text x="123" y="398.1" font-size="6.2" fill="#3a3a3a" textLength="6.12" lengthAdjust="spacingAndGlyphs">10</text>
<text x="129.19" y="394.6" font-size="5.2" fill="#3a3a3a" textLength="3.27" lengthAdjust="spacingAndGlyphs">4</text>
<text x="155.7" y="398.1" font-size="6.2" fill="#3a3a3a" textLength="6.12" lengthAdjust="spacingAndGlyphs">10</text>
<text x="161.76" y="394.6" font-size="5.2" fill="#3a3a3a" textLength="3.47" lengthAdjust="spacingAndGlyphs">5</text>
<text x="64.52" y="397.9" font-size="6" fill="#3a3a3a" textLength="2.34" lengthAdjust="spacingAndGlyphs">0</text>
<text x="37.52" y="398.1" font-size="6.2" fill="#3a3a3a" textLength="3.38" lengthAdjust="spacingAndGlyphs">−</text>
<text x="40.5" y="398.1" font-size="6.2" fill="#3a3a3a" textLength="6.12" lengthAdjust="spacingAndGlyphs">10</text>
<text x="46.56" y="394.6" font-size="5.2" fill="#3a3a3a" textLength="3.54" lengthAdjust="spacingAndGlyphs">3</text>
<rect x="93.8" y="272.3" width="73.6" height="113.8" fill="none" stroke="#2a2a2a" stroke-width="1.3"/>
<line x1="93.8" y1="319.3" x2="167.4" y2="319.3" stroke="#2a2a2a" stroke-width="1.5"/>
<line x1="93.8" y1="357.6" x2="167.4" y2="357.6" stroke="#2a2a2a" stroke-width="1.5"/>
<text x="52.91" y="297.8" font-size="9.2" fill="#222" textLength="20.03" lengthAdjust="spacingAndGlyphs">4.1%</text>
<text x="52.72" y="343.3" font-size="9.2" fill="#222" textLength="24.91" lengthAdjust="spacingAndGlyphs">87.1%</text>
<text x="52.72" y="374.8" font-size="9.2" fill="#222" textLength="20.03" lengthAdjust="spacingAndGlyphs">8.8%</text>
<text x="32.6" y="228.4" font-size="11" font-weight="bold" fill="#111" textLength="94.56" lengthAdjust="spacingAndGlyphs">18 h Basal culture</text>
<text x="32.2" y="238.7" font-size="10.2" fill="#333" textLength="122.42" lengthAdjust="spacingAndGlyphs">Gated on singlet viable Mφ</text>
<clipPath id="c180_216"><rect x="212.6" y="244.9" width="137.7" height="141.2"/></clipPath>
<path d="M302.6 385.7 L302.3 384.9 L302.0 384.1 L301.8 383.3 L301.6 382.1 L301.5 380.9 L301.5 379.7 L301.5 378.5 L301.7 377.3 L301.8 376.5 L302.0 375.3 L302.2 374.4 L302.3 373.3 L302.4 372.1 L302.2 370.9 L301.9 370.1 L301.4 369.3 L301.0 368.9 L300.2 368.5 L299.0 368.2 L298.2 368.1 L297.0 368.0 L295.8 367.8 L295.0 367.7 L293.8 367.5 L293.0 367.3 L291.8 366.9 L291.0 366.6 L290.2 366.3 L289.4 365.9 L288.6 365.5 L287.8 365.1 L287.0 364.5 L286.4 364.1 L285.8 363.7 L285.0 363.0 L284.4 362.5 L283.8 361.9 L283.2 361.3 L282.6 360.6 L282.2 360.1 L281.6 359.3 L281.0 358.5 L280.6 357.8 L280.2 357.2 L279.8 356.5 L279.4 355.7 L279.0 354.9 L278.6 353.9 L278.2 352.9 L277.9 352.1 L277.7 351.3 L277.4 350.3 L277.2 349.3 L277.0 348.4 L276.8 347.3 L276.7 346.1 L276.6 344.9 L276.6 344.1 L276.6 342.9 L276.6 342.1 L276.7 340.9 L276.8 339.7 L277.0 338.6 L277.2 337.7 L277.4 336.7 L277.7 335.7 L277.9 334.9 L278.2 334.0 L278.6 332.9 L278.9 332.1 L279.2 331.3 L279.6 330.5 L279.9 329.7 L280.3 328.9 L280.7 328.1 L281.0 327.3 L281.4 326.5 L281.8 325.7 L282.2 324.9 L282.6 324.1 L283.1 323.3 L283.6 322.5 L284.1 321.7 L284.6 321.1 L285.1 320.5 L285.8 319.8 L286.3 319.3 L287.0 318.7 L287.7 318.1 L288.3 317.7 L289.0 317.3 L289.8 316.8 L290.6 316.4 L291.4 316.1 L292.3 315.7 L293.4 315.3 L294.2 315.1 L295.0 314.9 L296.2 314.6 L297.1 314.5 L298.2 314.4 L299.4 314.2 L300.6 314.2 L301.8 314.2 L303.0 314.2 L304.2 314.2 L305.4 314.3 L306.6 314.5 L307.4 314.6 L308.6 314.8 L309.4 315.0 L310.3 315.3 L311.4 315.7 L312.2 316.0 L313.0 316.4 L313.8 316.8 L314.6 317.3 L315.1 317.7 L315.8 318.2 L316.6 318.9 L317.0 319.3 L317.7 320.1 L318.2 320.7 L318.6 321.3 L319.2 322.1 L319.6 322.9 L320.1 323.7 L320.4 324.5 L320.8 325.3 L321.1 326.1 L321.4 327.0 L321.8 328.1 L322.0 328.9 L322.2 329.7 L322.5 330.9 L322.7 331.7 L323.0 332.9 L323.1 333.7 L323.3 334.9 L323.4 335.7 L323.5 336.9 L323.6 338.1 L323.6 339.3 L323.6 340.5 L323.6 341.7 L323.5 342.9 L323.4 343.7 L323.2 344.9 L323.0 346.1 L322.8 346.9 L322.6 347.8 L322.3 348.9 L322.0 349.7 L321.8 350.5 L321.4 351.4 L321.0 352.4 L320.6 353.2 L320.2 354.0 L319.8 354.7 L319.4 355.4 L319.0 356.1 L318.5 356.9 L317.9 357.7 L317.4 358.5 L317.0 359.2 L316.6 360.0 L316.3 360.9 L316.1 361.7 L316.0 362.9 L316.1 364.1 L316.3 364.9 L316.6 365.8 L317.0 366.6 L317.4 367.3 L318.0 368.1 L318.6 368.8 L319.2 369.3 L319.8 369.9 L320.4 370.5 L321.0 371.1 L321.6 371.7 L322.2 372.4 L322.6 372.9 L323.1 373.7 L323.6 374.5 L324.0 375.3 L324.3 376.1 L324.6 377.0 L324.9 378.1 L325.0 379.0 L325.1 380.1 L325.1 381.3 L325.0 382.1 L324.8 383.3 L324.6 384.1 L324.2 385.2 M304.6 385.7 L304.2 384.9 L303.8 383.9 L303.5 382.9 L303.3 382.1 L303.2 380.9 L303.2 379.7 L303.3 378.5 L303.4 377.7 L303.7 376.5 L303.9 375.7 L304.2 374.6 L304.5 373.7 L304.7 372.9 L304.9 371.7 L305.0 370.9 L305.0 369.7 L305.0 368.9 L304.7 367.7 L304.4 366.9 L303.8 366.1 L303.3 365.7 L302.3 365.3 L301.4 365.1 L300.2 365.0 L299.0 365.0 L297.8 365.0 L296.7 364.9 L295.8 364.8 L294.6 364.6 L293.8 364.4 L292.7 364.1 L291.8 363.8 L291.0 363.5 L290.2 363.1 L289.4 362.6 L288.6 362.2 L287.9 361.7 L287.4 361.3 L286.6 360.7 L286.0 360.1 L285.4 359.5 L284.8 358.9 L284.2 358.2 L283.8 357.7 L283.2 356.9 L282.7 356.1 L282.2 355.3 L281.8 354.5 L281.4 353.7 L281.0 352.9 L280.7 352.1 L280.4 351.3 L280.2 350.5 L279.8 349.3 L279.7 348.5 L279.4 347.3 L279.3 346.5 L279.2 345.3 L279.2 344.1 L279.2 342.9 L279.2 341.7 L279.3 340.5 L279.4 339.7 L279.7 338.5 L279.8 337.7 L280.2 336.5 L280.4 335.7 L280.7 334.9 L281.0 334.1 L281.4 333.1 L281.8 332.2 L282.2 331.3 L282.6 330.5 L283.0 329.7 L283.4 329.0 L283.8 328.2 L284.2 327.5 L284.6 326.7 L285.0 326.0 L285.4 325.3 L285.8 324.5 L286.3 323.7 L286.9 322.9 L287.4 322.3 L287.9 321.7 L288.6 321.0 L289.1 320.5 L289.8 319.9 L290.6 319.4 L291.3 318.9 L292.1 318.5 L292.9 318.1 L293.8 317.7 L294.6 317.5 L295.4 317.2 L296.6 316.9 L297.4 316.8 L298.6 316.6 L299.7 316.5 L300.6 316.4 L301.8 316.4 L303.0 316.4 L303.8 316.5 L305.0 316.6 L306.2 316.8 L307.0 316.9 L308.2 317.2 L309.0 317.5 L309.8 317.7 L310.7 318.1 L311.5 318.5 L312.3 318.9 L313.0 319.4 L313.8 320.0 L314.4 320.5 L315.0 321.0 L315.6 321.7 L316.2 322.4 L316.6 322.9 L317.1 323.7 L317.6 324.5 L318.0 325.3 L318.4 326.1 L318.8 326.9 L319.1 327.7 L319.4 328.5 L319.8 329.6 L320.1 330.5 L320.3 331.3 L320.6 332.3 L320.8 333.3 L321.0 334.2 L321.2 335.3 L321.4 336.5 L321.4 337.3 L321.5 338.5 L321.5 339.7 L321.5 340.9 L321.4 342.1 L321.3 342.9 L321.2 344.1 L321.0 345.0 L320.8 346.1 L320.6 346.9 L320.2 348.1 L319.9 348.9 L319.6 349.7 L319.3 350.5 L318.9 351.3 L318.5 352.1 L318.1 352.9 L317.6 353.7 L317.1 354.5 L316.6 355.2 L316.2 355.8 L315.6 356.5 L315.0 357.3 L314.6 357.9 L314.2 358.5 L313.7 359.3 L313.2 360.1 L313.0 360.9 L312.8 362.1 L312.9 363.3 L313.2 364.1 L313.4 364.9 L313.8 365.8 L314.2 366.7 L314.6 367.4 L315.1 368.1 L315.8 368.9 L316.2 369.3 L317.0 370.0 L317.6 370.5 L318.2 371.0 L319.0 371.6 L319.5 372.1 L320.2 372.8 L320.7 373.3 L321.3 374.1 L321.8 374.9 L322.2 375.6 L322.6 376.5 L322.9 377.3 L323.1 378.1 L323.3 379.3 L323.4 380.5 L323.3 381.7 L323.1 382.9 L322.9 383.7 L322.6 384.5 L322.2 385.3 M308.2 363.1 L307.0 363.1 L305.8 363.0 L305.0 362.9 L303.8 362.8 L302.6 362.9 L301.8 362.9 L300.6 363.0 L299.4 363.1 L298.2 363.1 L297.0 363.0 L295.8 362.9 L295.0 362.8 L293.8 362.5 L293.0 362.3 L292.2 362.0 L291.4 361.6 L290.6 361.2 L289.8 360.8 L289.0 360.2 L288.3 359.7 L287.8 359.3 L287.0 358.6 L286.5 358.1 L285.8 357.4 L285.4 356.9 L284.8 356.1 L284.2 355.3 L283.8 354.6 L283.4 353.9 L283.0 353.2 L282.6 352.3 L282.2 351.3 L281.9 350.5 L281.7 349.7 L281.4 348.7 L281.2 347.7 L281.0 346.6 L280.9 345.7 L280.8 344.5 L280.8 343.3 L280.8 342.1 L280.9 340.9 L281.0 340.1 L281.3 338.9 L281.4 338.1 L281.8 336.9 L282.0 336.1 L282.3 335.3 L282.6 334.5 L283.0 333.6 L283.4 332.8 L283.8 332.0 L284.2 331.3 L284.6 330.5 L285.1 329.7 L285.5 328.9 L286.0 328.1 L286.5 327.3 L286.9 326.5 L287.4 325.7 L287.8 325.1 L288.2 324.5 L288.8 323.7 L289.4 322.9 L289.8 322.5 L290.6 321.7 L291.1 321.3 L291.8 320.7 L292.6 320.2 L293.4 319.8 L294.2 319.4 L295.0 319.1 L295.8 318.8 L296.9 318.5 L297.8 318.3 L299.0 318.1 L299.8 318.0 L301.0 318.0 L302.2 318.0 L303.4 318.0 L304.2 318.1 L305.4 318.3 L306.6 318.5 L307.4 318.7 L308.2 318.9 L309.2 319.3 L310.1 319.7 L310.9 320.1 L311.5 320.5 L312.2 321.0 L313.0 321.6 L313.6 322.1 L314.2 322.7 L314.7 323.3 L315.3 324.1 L315.8 324.8 L316.2 325.5 L316.6 326.2 L317.0 326.9 L317.4 327.8 L317.8 328.7 L318.2 329.6 L318.5 330.5 L318.8 331.3 L319.0 332.1 L319.4 333.3 L319.6 334.1 L319.8 335.3 L319.9 336.1 L320.1 337.3 L320.1 338.5 L320.2 339.7 L320.1 340.9 L320.0 342.1 L319.9 343.3 L319.8 344.1 L319.5 345.3 L319.3 346.1 L319.0 347.2 L318.7 348.1 L318.4 348.9 L318.1 349.7 L317.7 350.5 L317.3 351.3 L316.8 352.1 L316.3 352.9 L315.8 353.6 L315.4 354.1 L314.8 354.9 L314.2 355.6 L313.8 356.1 L313.1 356.9 L312.6 357.4 L312.0 358.1 L311.4 358.8 L311.0 359.3 L310.4 360.1 L309.8 360.9 L309.4 361.5 L309.0 362.1 L308.4 362.9 M305.9 385.7 L305.4 384.9 L305.1 384.1 L304.8 383.3 L304.6 382.5 L304.4 381.3 L304.3 380.1 L304.4 378.9 L304.6 377.7 L304.8 376.9 L305.0 376.1 L305.4 375.0 L305.8 374.1 L306.1 373.3 L306.4 372.5 L306.6 371.7 L307.0 370.5 L307.2 369.7 L307.4 368.8 L307.6 367.7 L307.8 366.7 L308.1 365.7 L308.5 364.9 L309.4 364.9 L310.0 365.3 L310.6 365.8 L311.2 366.5 L311.8 367.2 L312.2 367.7 L312.9 368.5 L313.4 368.9 L314.2 369.6 L314.8 370.1 L315.4 370.5 L316.2 371.0 L317.0 371.6 L317.7 372.1 L318.2 372.5 L319.0 373.2 L319.5 373.7 L320.2 374.5 L320.6 375.1 L321.0 375.8 L321.4 376.6 L321.8 377.7 L322.0 378.5 L322.2 379.7 L322.2 380.5 L322.2 381.3 L322.0 382.5 L321.8 383.3 L321.4 384.4 L321.0 385.2 M301.8 361.3 L300.6 361.5 L299.4 361.6 L298.2 361.6 L297.0 361.6 L295.8 361.5 L294.9 361.3 L293.8 361.0 L293.0 360.8 L292.2 360.4 L291.4 360.1 L290.6 359.6 L289.8 359.1 L289.0 358.6 L288.4 358.1 L287.8 357.5 L287.2 356.9 L286.6 356.3 L286.1 355.7 L285.5 354.9 L285.0 354.1 L284.6 353.4 L284.2 352.7 L283.8 351.9 L283.4 350.9 L283.1 350.1 L282.8 349.3 L282.6 348.4 L282.4 347.3 L282.2 346.2 L282.1 345.3 L282.0 344.1 L282.0 342.9 L282.1 341.7 L282.2 340.8 L282.4 339.7 L282.6 338.6 L282.8 337.7 L283.1 336.9 L283.4 336.0 L283.8 335.0 L284.2 334.1 L284.6 333.3 L285.0 332.6 L285.4 331.9 L285.8 331.2 L286.2 330.5 L286.7 329.7 L287.2 328.9 L287.7 328.1 L288.2 327.4 L288.6 326.8 L289.0 326.1 L289.6 325.3 L290.2 324.5 L290.6 324.0 L291.2 323.3 L291.8 322.7 L292.5 322.1 L293.1 321.7 L293.8 321.2 L294.6 320.8 L295.4 320.4 L296.3 320.1 L297.4 319.8 L298.2 319.6 L299.4 319.4 L300.5 319.3 L301.4 319.3 L302.6 319.3 L303.4 319.3 L304.6 319.5 L305.8 319.7 L306.6 319.9 L307.4 320.1 L308.4 320.5 L309.3 320.9 L310.1 321.3 L310.8 321.7 L311.4 322.1 L312.2 322.8 L312.7 323.3 L313.4 324.0 L313.8 324.5 L314.5 325.3 L315.0 326.1 L315.4 326.7 L315.8 327.4 L316.2 328.2 L316.6 329.0 L317.0 329.9 L317.4 330.9 L317.7 331.7 L318.0 332.5 L318.2 333.3 L318.5 334.5 L318.7 335.3 L318.9 336.5 L319.0 337.5 L319.1 338.5 L319.1 339.7 L319.1 340.9 L319.0 341.9 L318.9 342.9 L318.7 344.1 L318.5 344.9 L318.2 346.1 L318.0 346.9 L317.7 347.7 L317.4 348.5 L317.0 349.3 L316.6 350.1 L316.2 350.9 L315.7 351.7 L315.1 352.5 L314.6 353.2 L314.2 353.7 L313.5 354.5 L313.0 355.0 L312.3 355.7 L311.8 356.2 L311.1 356.9 L310.6 357.3 L309.8 358.0 L309.2 358.5 L308.6 359.0 L307.8 359.5 L307.0 359.9 L306.2 360.3 L305.4 360.6 L304.2 360.9 L303.4 361.1 L302.2 361.3 M307.0 385.7 L306.4 384.9 L306.0 384.1 L305.7 383.3 L305.4 382.2 L305.3 381.3 L305.2 380.1 L305.3 378.9 L305.4 378.1 L305.7 376.9 L306.0 376.1 L306.3 375.3 L306.7 374.5 L307.1 373.7 L307.6 372.9 L308.1 372.1 L308.6 371.3 L309.0 370.9 L309.8 370.2 L310.6 370.0 L311.7 370.1 L312.6 370.4 L313.4 370.8 L314.2 371.1 L315.0 371.6 L315.8 372.0 L316.6 372.5 L317.2 372.9 L317.8 373.4 L318.6 374.1 L319.0 374.5 L319.6 375.3 L320.2 376.1 L320.6 376.9 L320.9 377.7 L321.1 378.5 L321.3 379.7 L321.3 380.9 L321.2 382.1 L321.0 382.9 L320.6 384.0 L320.2 384.8 L319.8 385.4 M301.4 360.2 L300.2 360.3 L299.0 360.4 L297.8 360.5 L296.6 360.4 L295.4 360.2 L294.6 360.0 L293.5 359.7 L292.6 359.4 L291.8 359.0 L291.0 358.5 L290.3 358.1 L289.7 357.7 L289.0 357.1 L288.3 356.5 L287.8 356.0 L287.2 355.3 L286.6 354.5 L286.2 354.0 L285.8 353.3 L285.3 352.5 L284.9 351.7 L284.5 350.9 L284.2 350.1 L283.8 348.9 L283.6 348.1 L283.4 347.2 L283.2 346.1 L283.1 344.9 L283.0 343.7 L283.1 342.5 L283.2 341.3 L283.3 340.1 L283.5 339.3 L283.8 338.1 L284.0 337.3 L284.3 336.5 L284.7 335.7 L285.0 334.9 L285.4 334.1 L285.8 333.3 L286.3 332.5 L286.8 331.7 L287.3 330.9 L287.8 330.2 L288.2 329.6 L288.7 328.9 L289.3 328.1 L289.8 327.4 L290.2 326.8 L290.7 326.1 L291.3 325.3 L291.8 324.7 L292.4 324.1 L293.0 323.5 L293.7 322.9 L294.3 322.5 L295.0 322.1 L295.8 321.7 L296.7 321.3 L297.8 320.9 L298.6 320.8 L299.8 320.6 L300.6 320.5 L301.8 320.4 L303.0 320.5 L303.8 320.6 L305.0 320.8 L305.8 320.9 L307.0 321.3 L307.8 321.6 L308.6 321.9 L309.4 322.4 L310.2 322.9 L310.8 323.3 L311.4 323.8 L312.2 324.5 L312.6 325.0 L313.2 325.7 L313.8 326.4 L314.2 327.0 L314.7 327.7 L315.1 328.5 L315.6 329.3 L316.0 330.1 L316.3 330.9 L316.7 331.7 L317.0 332.6 L317.4 333.7 L317.6 334.5 L317.8 335.5 L318.0 336.5 L318.1 337.7 L318.2 338.9 L318.2 339.7 L318.2 340.6 L318.1 341.7 L318.0 342.9 L317.8 344.0 L317.6 344.9 L317.4 345.7 L317.0 346.9 L316.7 347.7 L316.3 348.5 L315.9 349.3 L315.5 350.1 L315.0 350.9 L314.6 351.5 L314.2 352.1 L313.5 352.9 L313.0 353.5 L312.4 354.1 L311.8 354.7 L311.2 355.3 L310.6 355.8 L309.8 356.4 L309.2 356.9 L308.6 357.3 L307.8 357.8 L307.0 358.3 L306.2 358.7 L305.4 359.0 L304.6 359.3 L303.4 359.7 L302.6 359.9 L301.7 360.1 M308.0 385.7 L307.4 385.0 L307.0 384.3 L306.6 383.5 L306.2 382.5 L306.1 381.7 L305.9 380.5 L306.0 379.3 L306.2 378.1 L306.4 377.3 L306.7 376.5 L307.1 375.7 L307.5 374.9 L308.0 374.1 L308.6 373.3 L309.0 372.9 L309.8 372.2 L310.6 371.8 L311.4 371.7 L312.2 371.7 L313.4 372.0 L314.2 372.2 L315.0 372.6 L315.8 373.0 L316.6 373.5 L317.4 374.0 L317.9 374.5 L318.6 375.2 L319.0 375.7 L319.5 376.5 L319.9 377.3 L320.2 378.1 L320.5 379.3 L320.6 380.5 L320.5 381.7 L320.2 382.9 L319.9 383.7 L319.5 384.5 L319.0 385.2 M300.2 359.3 L299.0 359.4 L297.8 359.4 L296.6 359.4 L295.8 359.3 L294.6 359.0 L293.8 358.7 L293.0 358.4 L292.2 358.1 L291.4 357.6 L290.6 357.1 L289.8 356.5 L289.3 356.1 L288.6 355.4 L288.1 354.9 L287.4 354.1 L287.0 353.5 L286.6 352.9 L286.1 352.1 L285.7 351.3 L285.3 350.5 L285.0 349.6 L284.6 348.5 L284.4 347.7 L284.2 346.6 L284.1 345.7 L284.0 344.5 L283.9 343.3 L284.0 342.1 L284.1 340.9 L284.2 340.1 L284.5 338.9 L284.7 338.1 L285.0 337.3 L285.4 336.3 L285.8 335.4 L286.2 334.6 L286.6 333.9 L287.0 333.2 L287.5 332.5 L288.0 331.7 L288.6 330.9 L289.0 330.4 L289.5 329.7 L290.1 328.9 L290.6 328.3 L291.1 327.7 L291.7 326.9 L292.2 326.3 L292.7 325.7 L293.4 325.0 L293.9 324.5 L294.6 323.9 L295.4 323.3 L296.2 322.9 L297.0 322.5 L297.8 322.2 L298.6 322.0 L299.8 321.7 L300.6 321.7 L301.8 321.6 L303.0 321.6 L303.8 321.7 L305.0 321.9 L305.8 322.2 L306.9 322.5 L307.8 322.9 L308.6 323.3 L309.3 323.7 L309.9 324.1 L310.6 324.7 L311.3 325.3 L311.8 325.8 L312.5 326.5 L313.0 327.2 L313.4 327.7 L314.0 328.5 L314.5 329.3 L314.9 330.1 L315.3 330.9 L315.7 331.7 L316.0 332.5 L316.3 333.3 L316.6 334.1 L316.9 335.3 L317.1 336.1 L317.3 337.3 L317.4 338.5 L317.4 339.3 L317.4 340.5 L317.4 341.3 L317.3 342.5 L317.1 343.7 L316.9 344.5 L316.6 345.5 L316.3 346.5 L316.0 347.3 L315.6 348.1 L315.2 348.9 L314.7 349.7 L314.2 350.5 L313.8 351.1 L313.3 351.7 L312.7 352.5 L312.2 353.0 L311.5 353.7 L311.0 354.2 L310.2 354.8 L309.6 355.3 L309.0 355.8 L308.2 356.3 L307.4 356.8 L306.6 357.3 L305.8 357.7 L305.0 358.0 L304.2 358.3 L303.4 358.6 L302.3 358.9 L301.4 359.1 L300.3 359.3 M308.9 385.7 L308.2 384.9 L307.8 384.4 L307.4 383.7 L307.0 382.7 L306.7 381.7 L306.6 380.5 L306.7 379.3 L306.9 378.1 L307.2 377.3 L307.5 376.5 L307.9 375.7 L308.5 374.9 L309.0 374.3 L309.6 373.7 L310.2 373.3 L311.2 372.9 L312.2 372.8 L313.4 372.9 L314.2 373.1 L315.0 373.4 L315.8 373.8 L316.6 374.3 L317.3 374.9 L317.8 375.3 L318.5 376.1 L319.0 376.9 L319.4 377.7 L319.7 378.5 L319.8 379.3 L319.9 380.5 L319.8 381.7 L319.6 382.5 L319.4 383.3 L319.0 384.1 L318.4 384.9 L317.8 385.6 M299.0 358.5 L297.8 358.5 L297.0 358.5 L295.8 358.3 L294.8 358.1 L293.8 357.8 L293.0 357.5 L292.2 357.1 L291.4 356.6 L290.7 356.1 L290.2 355.7 L289.4 355.0 L288.9 354.5 L288.2 353.7 L287.8 353.2 L287.3 352.5 L286.8 351.7 L286.4 350.9 L286.1 350.1 L285.7 349.3 L285.4 348.3 L285.1 347.3 L285.0 346.5 L284.8 345.3 L284.7 344.1 L284.7 342.9 L284.8 341.7 L285.0 340.5 L285.1 339.7 L285.4 338.7 L285.7 337.7 L286.0 336.9 L286.4 336.1 L286.8 335.3 L287.2 334.5 L287.7 333.7 L288.2 333.0 L288.6 332.4 L289.1 331.7 L289.8 330.9 L290.2 330.4 L290.8 329.7 L291.4 329.0 L291.9 328.5 L292.6 327.7 L293.0 327.2 L293.7 326.5 L294.2 326.0 L295.0 325.3 L295.5 324.9 L296.2 324.4 L297.0 323.9 L297.8 323.6 L298.6 323.3 L299.8 323.0 L300.6 322.9 L301.8 322.8 L303.0 322.8 L303.8 322.9 L305.0 323.2 L305.8 323.4 L306.7 323.7 L307.6 324.1 L308.3 324.5 L309.0 324.9 L309.8 325.5 L310.6 326.1 L311.0 326.5 L311.8 327.3 L312.2 327.8 L312.8 328.5 L313.4 329.3 L313.8 329.9 L314.2 330.6 L314.6 331.3 L315.0 332.1 L315.4 333.0 L315.8 334.1 L316.0 334.9 L316.3 335.7 L316.5 336.9 L316.6 337.7 L316.7 338.9 L316.7 340.1 L316.7 341.3 L316.6 342.1 L316.4 343.3 L316.2 344.2 L315.9 345.3 L315.6 346.1 L315.3 346.9 L315.0 347.7 L314.5 348.5 L314.1 349.3 L313.5 350.1 L313.0 350.8 L312.6 351.3 L311.9 352.1 L311.4 352.6 L310.7 353.3 L310.2 353.7 L309.4 354.4 L308.7 354.9 L308.1 355.3 L307.4 355.7 L306.6 356.2 L305.8 356.6 L305.0 357.0 L304.2 357.3 L303.1 357.7 L302.2 358.0 L301.4 358.2 L300.2 358.4 L299.2 358.5 M310.0 385.7 L309.4 385.3 L308.7 384.5 L308.2 383.8 L307.8 383.0 L307.5 382.1 L307.3 381.3 L307.2 380.1 L307.4 378.9 L307.6 378.1 L307.9 377.3 L308.3 376.5 L308.8 375.7 L309.4 375.0 L310.0 374.5 L310.6 374.1 L311.8 373.7 L312.6 373.6 L313.4 373.7 L314.6 374.0 L315.4 374.4 L316.2 374.8 L316.8 375.3 L317.4 375.8 L318.0 376.5 L318.5 377.3 L318.9 378.1 L319.1 378.9 L319.3 380.1 L319.3 381.3 L319.0 382.5 L318.7 383.3 L318.2 384.1 L317.8 384.6 L317.1 385.3 M298.6 357.7 L297.7 357.7 L296.6 357.6 L295.4 357.4 L294.6 357.2 L293.8 356.9 L292.9 356.5 L292.2 356.1 L291.4 355.6 L290.6 355.0 L290.0 354.5 L289.4 353.9 L288.9 353.3 L288.3 352.5 L287.8 351.8 L287.4 351.1 L287.0 350.4 L286.6 349.5 L286.2 348.5 L286.0 347.7 L285.8 346.8 L285.6 345.7 L285.5 344.5 L285.5 343.3 L285.5 342.1 L285.7 340.9 L285.8 340.1 L286.1 338.9 L286.4 338.1 L286.7 337.3 L287.0 336.5 L287.4 335.7 L287.9 334.9 L288.4 334.1 L289.0 333.3 L289.4 332.7 L289.9 332.1 L290.6 331.3 L291.0 330.9 L291.7 330.1 L292.2 329.6 L292.9 328.9 L293.4 328.4 L294.2 327.7 L294.6 327.3 L295.4 326.6 L296.1 326.1 L296.7 325.7 L297.4 325.3 L298.2 324.9 L299.2 324.5 L300.2 324.3 L301.4 324.1 L302.2 324.1 L303.0 324.1 L304.2 324.3 L305.1 324.5 L306.2 324.8 L307.0 325.2 L307.8 325.6 L308.6 326.0 L309.3 326.5 L309.8 326.9 L310.6 327.5 L311.2 328.1 L311.8 328.8 L312.3 329.3 L312.9 330.1 L313.4 330.8 L313.8 331.5 L314.2 332.2 L314.6 333.0 L315.0 334.0 L315.3 334.9 L315.5 335.7 L315.8 336.9 L315.9 337.7 L316.0 338.9 L316.1 340.1 L316.0 341.3 L315.9 342.5 L315.7 343.3 L315.4 344.5 L315.2 345.3 L314.9 346.1 L314.6 346.9 L314.2 347.7 L313.7 348.5 L313.2 349.3 L312.6 350.1 L312.2 350.7 L311.6 351.3 L311.0 352.0 L310.4 352.5 L309.8 353.0 L309.0 353.7 L308.4 354.1 L307.8 354.5 L307.0 355.0 L306.2 355.5 L305.4 355.9 L304.6 356.3 L303.8 356.6 L302.9 356.9 L301.8 357.2 L301.0 357.4 L299.8 357.6 L298.6 357.7 M311.2 385.7 L310.5 385.3 L309.8 384.8 L309.1 384.1 L308.6 383.3 L308.2 382.5 L308.0 381.7 L307.8 380.5 L307.9 379.3 L308.2 378.1 L308.6 377.3 L309.0 376.5 L309.4 376.0 L310.2 375.3 L310.8 374.9 L311.8 374.5 L312.6 374.4 L313.8 374.5 L314.6 374.7 L315.4 375.1 L316.2 375.6 L316.8 376.1 L317.4 376.7 L317.8 377.3 L318.2 378.1 L318.6 379.3 L318.7 380.1 L318.7 381.3 L318.5 382.1 L318.2 382.9 L317.8 383.7 L317.1 384.5 L316.6 385.0 L315.8 385.5 M299.0 356.9 L297.8 356.9 L297.0 356.9 L295.8 356.7 L295.0 356.5 L293.9 356.1 L293.0 355.7 L292.3 355.3 L291.7 354.9 L291.0 354.4 L290.2 353.7 L289.8 353.2 L289.2 352.5 L288.6 351.7 L288.2 351.1 L287.8 350.4 L287.4 349.6 L287.0 348.6 L286.7 347.7 L286.5 346.9 L286.3 345.7 L286.2 344.9 L286.1 343.7 L286.2 342.5 L286.2 341.7 L286.4 340.5 L286.6 339.7 L287.0 338.5 L287.3 337.7 L287.6 336.9 L288.0 336.1 L288.5 335.3 L289.0 334.5 L289.4 334.0 L289.9 333.3 L290.6 332.5 L291.0 332.1 L291.8 331.3 L292.2 330.9 L293.0 330.2 L293.5 329.7 L294.2 329.1 L295.0 328.5 L295.5 328.1 L296.2 327.6 L297.0 327.1 L297.8 326.6 L298.6 326.3 L299.4 325.9 L300.3 325.7 L301.4 325.5 L302.6 325.5 L303.8 325.6 L304.6 325.7 L305.8 326.1 L306.6 326.3 L307.4 326.7 L308.2 327.1 L309.0 327.6 L309.7 328.1 L310.2 328.5 L311.0 329.2 L311.4 329.7 L312.1 330.5 L312.6 331.1 L313.0 331.7 L313.5 332.5 L313.9 333.3 L314.3 334.1 L314.6 334.9 L314.9 336.1 L315.1 336.9 L315.3 338.1 L315.4 339.1 L315.4 340.1 L315.4 340.9 L315.3 342.1 L315.1 343.3 L314.9 344.1 L314.6 345.0 L314.2 346.1 L313.8 346.9 L313.4 347.7 L313.0 348.4 L312.6 349.0 L312.1 349.7 L311.4 350.5 L311.0 350.9 L310.2 351.7 L309.8 352.1 L309.0 352.8 L308.3 353.3 L307.7 353.7 L307.0 354.1 L306.2 354.6 L305.4 355.0 L304.6 355.4 L303.8 355.8 L302.9 356.1 L301.8 356.4 L301.0 356.6 L299.8 356.8 L299.0 356.9 M314.6 385.3 L313.4 385.5 L312.2 385.4 L311.4 385.1 L310.6 384.7 L309.9 384.1 L309.4 383.5 L309.0 382.8 L308.6 381.8 L308.4 380.9 L308.4 379.7 L308.6 378.9 L309.0 377.8 L309.4 377.1 L309.9 376.5 L310.6 375.8 L311.4 375.4 L312.2 375.2 L313.4 375.1 L314.2 375.3 L315.2 375.7 L315.9 376.1 L316.6 376.7 L317.1 377.3 L317.6 378.1 L317.9 378.9 L318.1 380.1 L318.1 381.3 L317.8 382.3 L317.4 383.2 L317.0 383.7 L316.2 384.5 L315.6 384.9 L314.7 385.3 M299.8 356.1 L298.6 356.2 L297.4 356.2 L296.6 356.1 L295.4 355.8 L294.6 355.6 L293.8 355.3 L293.0 354.9 L292.2 354.4 L291.4 353.8 L290.8 353.3 L290.2 352.7 L289.7 352.1 L289.1 351.3 L288.6 350.5 L288.2 349.7 L287.8 348.9 L287.5 348.1 L287.3 347.3 L287.0 346.1 L286.9 345.3 L286.8 344.1 L286.8 342.9 L286.9 341.7 L287.0 340.9 L287.3 339.7 L287.5 338.9 L287.8 338.1 L288.2 337.2 L288.6 336.4 L289.0 335.7 L289.6 334.9 L290.2 334.1 L290.6 333.6 L291.3 332.9 L291.8 332.4 L292.5 331.7 L293.0 331.3 L293.8 330.6 L294.5 330.1 L295.1 329.7 L295.8 329.3 L296.6 328.8 L297.4 328.3 L298.2 327.9 L299.0 327.6 L300.0 327.3 L301.0 327.1 L302.2 327.0 L303.4 327.0 L304.6 327.1 L305.4 327.3 L306.6 327.7 L307.4 328.0 L308.2 328.4 L309.0 328.9 L309.6 329.3 L310.2 329.7 L311.0 330.5 L311.4 330.9 L312.1 331.7 L312.6 332.4 L313.0 333.1 L313.4 333.8 L313.8 334.7 L314.2 335.7 L314.4 336.5 L314.6 337.5 L314.7 338.5 L314.8 339.7 L314.8 340.9 L314.7 342.1 L314.5 342.9 L314.2 344.1 L314.0 344.9 L313.7 345.7 L313.3 346.5 L312.9 347.3 L312.4 348.1 L311.9 348.9 L311.4 349.5 L310.9 350.1 L310.2 350.8 L309.7 351.3 L309.0 351.9 L308.2 352.5 L307.6 352.9 L307.0 353.3 L306.2 353.8 L305.4 354.2 L304.6 354.6 L303.8 355.0 L303.0 355.3 L301.8 355.7 L301.0 355.9 L299.8 356.1 M313.4 384.9 L312.6 384.9 L311.5 384.5 L310.8 384.1 L310.2 383.5 L309.7 382.9 L309.3 382.1 L309.0 380.9 L309.0 380.2 L309.1 379.3 L309.4 378.4 L309.8 377.6 L310.4 376.9 L311.0 376.4 L311.8 376.0 L313.0 375.8 L314.2 376.0 L315.0 376.3 L315.8 376.8 L316.3 377.3 L316.9 378.1 L317.3 378.9 L317.5 379.7 L317.5 380.9 L317.4 381.7 L317.0 382.7 L316.6 383.3 L315.8 384.1 L315.1 384.5 L314.2 384.8 L313.4 384.9 M300.2 355.3 L299.0 355.5 L297.8 355.5 L296.6 355.4 L295.8 355.2 L294.7 354.9 L293.8 354.5 L293.0 354.1 L292.4 353.7 L291.8 353.3 L291.0 352.5 L290.6 352.1 L289.9 351.3 L289.4 350.5 L289.0 349.9 L288.6 349.1 L288.2 348.1 L287.9 347.3 L287.7 346.5 L287.5 345.3 L287.4 344.1 L287.4 343.3 L287.4 342.5 L287.6 341.3 L287.8 340.2 L288.0 339.3 L288.3 338.5 L288.7 337.7 L289.1 336.9 L289.6 336.1 L290.1 335.3 L290.6 334.7 L291.1 334.1 L291.8 333.4 L292.3 332.9 L293.0 332.3 L293.8 331.7 L294.3 331.3 L295.0 330.9 L295.8 330.4 L296.6 330.0 L297.4 329.6 L298.2 329.3 L299.3 328.9 L300.2 328.6 L301.0 328.5 L302.2 328.4 L303.4 328.3 L304.6 328.4 L305.4 328.6 L306.6 328.9 L307.4 329.2 L308.2 329.6 L309.0 330.0 L309.7 330.5 L310.2 330.9 L311.0 331.6 L311.4 332.1 L312.0 332.9 L312.6 333.7 L313.0 334.5 L313.3 335.3 L313.6 336.1 L313.8 336.9 L314.1 338.1 L314.2 339.3 L314.2 340.1 L314.2 340.9 L314.1 342.1 L313.8 343.3 L313.6 344.1 L313.3 344.9 L313.0 345.8 L312.6 346.6 L312.2 347.3 L311.7 348.1 L311.1 348.9 L310.6 349.5 L310.0 350.1 L309.4 350.7 L308.7 351.3 L308.2 351.7 L307.4 352.3 L306.6 352.8 L305.8 353.3 L305.0 353.7 L304.2 354.1 L303.4 354.4 L302.6 354.7 L301.8 355.0 L300.6 355.3 M314.2 384.2 L313.0 384.3 L312.2 384.1 L311.4 383.7 L310.6 383.0 L310.2 382.5 L309.8 381.6 L309.6 380.5 L309.7 379.3 L310.0 378.5 L310.5 377.7 L311.0 377.2 L311.8 376.7 L312.6 376.5 L313.5 376.5 L314.6 376.8 L315.4 377.3 L315.8 377.7 L316.4 378.5 L316.8 379.3 L316.9 380.5 L316.7 381.7 L316.4 382.5 L315.8 383.2 L315.2 383.7 L314.4 384.1 M301.0 354.5 L299.8 354.7 L298.6 354.8 L297.4 354.8 L296.2 354.6 L295.4 354.4 L294.5 354.1 L293.7 353.7 L293.0 353.3 L292.2 352.7 L291.5 352.1 L291.0 351.6 L290.4 350.9 L289.9 350.1 L289.4 349.3 L289.0 348.5 L288.7 347.7 L288.4 346.9 L288.2 345.8 L288.1 344.9 L288.0 343.7 L288.0 342.5 L288.2 341.3 L288.3 340.5 L288.6 339.6 L289.0 338.5 L289.4 337.7 L289.8 336.9 L290.2 336.3 L290.6 335.7 L291.3 334.9 L291.8 334.3 L292.4 333.7 L293.0 333.2 L293.8 332.6 L294.6 332.1 L295.2 331.7 L296.0 331.3 L296.8 330.9 L297.8 330.5 L298.6 330.2 L299.4 330.0 L300.6 329.8 L301.4 329.6 L302.6 329.6 L303.8 329.5 L305.0 329.7 L305.8 329.8 L306.9 330.1 L307.8 330.4 L308.6 330.8 L309.3 331.3 L309.9 331.7 L310.6 332.4 L311.1 332.9 L311.7 333.7 L312.2 334.5 L312.6 335.3 L312.9 336.1 L313.2 336.9 L313.4 337.8 L313.6 338.9 L313.6 340.1 L313.6 341.3 L313.4 342.5 L313.2 343.3 L313.0 344.1 L312.6 345.2 L312.2 346.0 L311.8 346.8 L311.4 347.4 L310.9 348.1 L310.3 348.9 L309.8 349.4 L309.1 350.1 L308.6 350.5 L307.8 351.2 L307.1 351.7 L306.5 352.1 L305.8 352.5 L305.0 353.0 L304.2 353.4 L303.4 353.7 L302.4 354.1 L301.4 354.4 M314.2 383.4 L313.0 383.6 L312.1 383.3 L311.4 382.9 L310.7 382.1 L310.4 381.3 L310.3 380.1 L310.6 378.9 L311.0 378.3 L311.6 377.7 L312.4 377.3 L313.4 377.2 L314.2 377.4 L315.0 377.9 L315.6 378.5 L316.1 379.3 L316.3 380.1 L316.2 381.2 L315.8 382.1 L315.4 382.7 L314.6 383.3 M299.4 354.1 L298.2 354.2 L297.0 354.1 L296.2 354.0 L295.3 353.7 L294.3 353.3 L293.6 352.9 L292.9 352.5 L292.2 351.9 L291.6 351.3 L291.0 350.7 L290.6 350.1 L290.1 349.3 L289.7 348.5 L289.3 347.7 L289.0 346.7 L288.8 345.7 L288.6 344.5 L288.6 343.7 L288.6 342.6 L288.7 341.7 L288.9 340.5 L289.2 339.7 L289.5 338.9 L289.8 338.1 L290.3 337.3 L290.8 336.5 L291.4 335.7 L291.8 335.2 L292.5 334.5 L293.0 334.1 L293.8 333.5 L294.6 332.9 L295.4 332.5 L296.2 332.1 L297.0 331.8 L297.8 331.5 L298.6 331.2 L299.8 330.9 L300.6 330.8 L301.8 330.7 L303.0 330.6 L304.2 330.6 L305.4 330.8 L306.2 330.9 L307.4 331.3 L308.2 331.6 L309.0 332.1 L309.6 332.5 L310.2 333.0 L310.8 333.7 L311.4 334.5 L311.8 335.2 L312.2 336.0 L312.5 336.9 L312.8 337.7 L313.0 338.9 L313.0 339.7 L313.0 340.9 L312.9 341.7 L312.7 342.9 L312.5 343.7 L312.2 344.6 L311.8 345.5 L311.4 346.3 L311.0 346.9 L310.5 347.7 L309.8 348.5 L309.4 348.9 L308.6 349.7 L308.2 350.1 L307.4 350.7 L306.6 351.3 L305.9 351.7 L305.3 352.1 L304.5 352.5 L303.7 352.9 L302.8 353.3 L301.8 353.6 L301.0 353.9 L299.8 354.1 M314.2 382.6 L313.0 382.8 L312.2 382.5 L311.4 381.7 L311.1 380.9 L311.1 379.7 L311.5 378.9 L312.2 378.3 L313.0 378.1 L313.8 378.1 L314.6 378.6 L315.2 379.3 L315.5 380.1 L315.4 381.1 L315.0 381.9 L314.3 382.5 M300.6 353.3 L299.4 353.5 L298.2 353.6 L297.0 353.5 L296.2 353.3 L295.0 352.9 L294.2 352.5 L293.5 352.1 L292.9 351.7 L292.2 351.1 L291.7 350.5 L291.0 349.7 L290.6 349.0 L290.2 348.3 L289.8 347.3 L289.5 346.5 L289.4 345.7 L289.2 344.5 L289.1 343.3 L289.2 342.1 L289.4 341.1 L289.7 340.1 L289.9 339.3 L290.3 338.5 L290.7 337.7 L291.2 336.9 L291.8 336.2 L292.2 335.7 L293.0 335.0 L293.6 334.5 L294.2 334.0 L295.0 333.5 L295.8 333.1 L296.6 332.7 L297.4 332.4 L298.6 332.1 L299.4 331.9 L300.6 331.7 L301.4 331.6 L302.6 331.6 L303.8 331.6 L305.0 331.6 L305.8 331.8 L307.0 332.1 L307.8 332.4 L308.6 332.8 L309.3 333.3 L309.8 333.7 L310.5 334.5 L311.0 335.2 L311.4 335.9 L311.8 336.7 L312.1 337.7 L312.3 338.5 L312.4 339.7 L312.4 340.9 L312.3 342.1 L312.1 342.9 L311.8 344.0 L311.4 344.9 L311.0 345.7 L310.6 346.4 L310.2 347.0 L309.7 347.7 L309.0 348.5 L308.6 348.9 L307.8 349.6 L307.2 350.1 L306.6 350.5 L305.8 351.1 L305.0 351.6 L304.2 352.0 L303.4 352.4 L302.6 352.7 L301.8 353.0 L300.6 353.3 M313.8 381.5 L312.6 381.3 L312.2 380.7 L312.2 380.1 L312.9 379.3 L313.5 379.3 L314.2 379.8 L314.3 380.9 L313.8 381.5 M299.0 352.9 L297.8 352.9 L297.0 352.8 L295.8 352.5 L295.0 352.2 L294.2 351.8 L293.4 351.3 L292.9 350.9 L292.2 350.2 L291.8 349.7 L291.2 348.9 L290.8 348.1 L290.4 347.3 L290.1 346.5 L289.9 345.3 L289.8 344.5 L289.7 343.3 L289.8 342.1 L289.9 341.3 L290.2 340.3 L290.6 339.3 L290.9 338.5 L291.4 337.7 L291.8 337.2 L292.3 336.5 L293.0 335.8 L293.6 335.3 L294.2 334.8 L295.0 334.3 L295.8 333.9 L296.6 333.5 L297.4 333.2 L298.6 332.9 L299.4 332.7 L300.6 332.6 L301.4 332.5 L302.6 332.4 L303.8 332.4 L304.7 332.5 L305.8 332.7 L306.7 332.9 L307.7 333.3 L308.5 333.7 L309.0 334.1 L309.8 334.8 L310.2 335.3 L310.7 336.1 L311.1 336.9 L311.4 337.7 L311.7 338.9 L311.8 339.7 L311.8 340.9 L311.7 341.7 L311.5 342.9 L311.3 343.7 L311.0 344.5 L310.6 345.3 L310.1 346.1 L309.5 346.9 L309.0 347.6 L308.5 348.1 L307.8 348.8 L307.2 349.3 L306.6 349.8 L305.8 350.3 L305.0 350.9 L304.2 351.3 L303.4 351.7 L302.6 352.0 L301.8 352.3 L301.0 352.6 L299.8 352.8 L299.0 352.9 M300.2 352.1 L299.0 352.3 L297.8 352.3 L296.6 352.1 L295.8 351.9 L295.0 351.5 L294.2 351.1 L293.4 350.5 L293.0 350.1 L292.2 349.3 L291.8 348.7 L291.4 348.0 L291.0 347.2 L290.6 346.1 L290.4 345.3 L290.3 344.1 L290.3 342.9 L290.4 341.7 L290.6 340.9 L291.0 339.8 L291.4 338.9 L291.8 338.2 L292.2 337.6 L292.8 336.9 L293.4 336.3 L294.1 335.7 L294.6 335.3 L295.4 334.8 L296.2 334.4 L297.1 334.1 L298.2 333.8 L299.0 333.6 L300.2 333.4 L301.0 333.3 L302.2 333.2 L303.4 333.2 L304.3 333.3 L305.4 333.4 L306.4 333.7 L307.4 334.1 L308.2 334.5 L308.7 334.9 L309.4 335.5 L309.9 336.1 L310.4 336.9 L310.7 337.7 L311.0 338.7 L311.2 339.7 L311.2 340.9 L311.0 342.1 L310.9 342.9 L310.6 343.7 L310.2 344.7 L309.8 345.4 L309.4 346.1 L308.8 346.9 L308.2 347.5 L307.6 348.1 L307.0 348.7 L306.2 349.3 L305.7 349.7 L305.0 350.1 L304.2 350.6 L303.4 351.0 L302.6 351.4 L301.8 351.7 L300.6 352.0 M300.6 351.4 L299.4 351.6 L298.2 351.7 L297.0 351.5 L296.1 351.3 L295.2 350.9 L294.5 350.5 L293.8 350.0 L293.0 349.3 L292.6 348.8 L292.1 348.1 L291.7 347.3 L291.4 346.5 L291.0 345.3 L290.9 344.5 L290.9 343.3 L291.0 342.1 L291.1 341.3 L291.4 340.4 L291.8 339.4 L292.2 338.7 L292.6 338.1 L293.3 337.3 L293.8 336.8 L294.6 336.1 L295.2 335.7 L296.0 335.3 L296.9 334.9 L297.8 334.6 L298.6 334.4 L299.8 334.2 L300.6 334.1 L301.8 334.0 L303.0 334.0 L304.2 334.1 L305.0 334.2 L306.2 334.5 L307.0 334.8 L307.8 335.2 L308.4 335.7 L309.0 336.3 L309.5 336.9 L309.9 337.7 L310.2 338.5 L310.5 339.7 L310.5 340.9 L310.4 342.1 L310.2 342.9 L309.8 344.0 L309.4 344.8 L309.0 345.5 L308.6 346.1 L307.9 346.9 L307.4 347.5 L306.7 348.1 L306.2 348.5 L305.4 349.1 L304.6 349.7 L303.9 350.1 L303.1 350.5 L302.2 350.9 L301.4 351.2 L300.6 351.4 M299.8 350.9 L298.6 351.0 L297.4 350.9 L296.6 350.8 L295.8 350.5 L295.0 350.1 L294.2 349.5 L293.5 348.9 L293.0 348.3 L292.6 347.7 L292.2 346.9 L291.8 345.9 L291.6 344.9 L291.4 343.7 L291.5 342.5 L291.7 341.3 L292.0 340.5 L292.3 339.7 L292.8 338.9 L293.4 338.1 L293.8 337.6 L294.6 336.9 L295.2 336.5 L295.8 336.1 L296.7 335.7 L297.8 335.3 L298.6 335.1 L299.8 334.9 L300.6 334.8 L301.8 334.8 L303.0 334.8 L304.2 334.9 L305.0 335.0 L306.0 335.3 L306.9 335.7 L307.6 336.1 L308.2 336.6 L308.8 337.3 L309.2 338.1 L309.6 338.9 L309.8 340.1 L309.8 340.9 L309.8 341.7 L309.5 342.9 L309.2 343.7 L308.8 344.5 L308.3 345.3 L307.8 346.1 L307.4 346.5 L306.7 347.3 L306.2 347.7 L305.4 348.4 L304.6 348.9 L304.0 349.3 L303.3 349.7 L302.5 350.1 L301.5 350.5 L300.6 350.8 L299.8 350.9 M300.2 350.2 L299.0 350.3 L297.8 350.3 L296.7 350.1 L295.8 349.8 L295.0 349.3 L294.5 348.9 L293.8 348.2 L293.4 347.7 L292.9 346.9 L292.5 346.1 L292.2 345.0 L292.1 344.1 L292.1 342.9 L292.2 342.0 L292.5 340.9 L292.8 340.1 L293.3 339.3 L293.8 338.6 L294.2 338.1 L295.0 337.4 L295.8 336.9 L296.5 336.5 L297.4 336.2 L298.2 335.9 L299.2 335.7 L300.2 335.6 L301.4 335.5 L302.6 335.5 L303.8 335.7 L304.6 335.8 L305.6 336.1 L306.5 336.5 L307.2 336.9 L307.8 337.5 L308.3 338.1 L308.7 338.9 L309.0 340.1 L309.0 340.9 L309.0 341.7 L308.7 342.9 L308.4 343.7 L308.0 344.5 L307.5 345.3 L307.0 346.0 L306.5 346.5 L305.8 347.2 L305.2 347.7 L304.6 348.2 L303.8 348.7 L303.0 349.1 L302.2 349.5 L301.4 349.8 L300.6 350.1 M300.6 349.4 L299.4 349.6 L298.2 349.7 L297.0 349.5 L296.2 349.2 L295.4 348.7 L294.6 348.1 L294.2 347.7 L293.6 346.9 L293.2 346.1 L292.9 345.3 L292.7 344.1 L292.7 342.9 L292.9 341.7 L293.2 340.9 L293.6 340.1 L294.1 339.3 L294.6 338.7 L295.2 338.1 L295.8 337.7 L296.6 337.2 L297.4 336.9 L298.6 336.5 L299.4 336.4 L300.6 336.3 L301.8 336.3 L303.0 336.4 L303.8 336.5 L305.0 336.8 L305.8 337.2 L306.6 337.7 L307.1 338.1 L307.7 338.9 L308.0 339.7 L308.2 340.9 L308.2 341.3 L308.0 342.5 L307.8 343.3 L307.4 344.1 L306.9 344.9 L306.3 345.7 L305.8 346.2 L305.1 346.9 L304.6 347.3 L303.8 347.9 L303.0 348.4 L302.2 348.8 L301.4 349.1 L300.6 349.4 M299.4 348.9 L298.2 348.9 L297.4 348.8 L296.5 348.5 L295.8 348.1 L295.0 347.5 L294.5 346.9 L294.0 346.1 L293.7 345.3 L293.4 344.1 L293.4 343.3 L293.4 342.5 L293.8 341.3 L294.1 340.5 L294.6 339.8 L295.0 339.3 L295.8 338.6 L296.5 338.1 L297.4 337.7 L298.2 337.4 L299.0 337.2 L300.2 337.1 L301.4 337.1 L302.6 337.2 L303.4 337.3 L304.6 337.7 L305.4 338.1 L306.0 338.5 L306.6 339.2 L307.0 339.9 L307.2 340.9 L307.2 342.1 L307.0 342.9 L306.6 343.8 L306.2 344.5 L305.6 345.3 L305.0 346.0 L304.4 346.5 L303.8 347.0 L303.0 347.6 L302.2 348.0 L301.4 348.4 L300.6 348.7 L299.4 348.9 M299.4 348.1 L298.2 348.1 L297.4 348.0 L296.6 347.6 L295.8 347.1 L295.2 346.5 L294.7 345.7 L294.4 344.9 L294.2 344.1 L294.2 342.9 L294.3 342.1 L294.6 341.3 L295.0 340.5 L295.7 339.7 L296.2 339.2 L297.0 338.7 L297.8 338.4 L298.7 338.1 L299.8 337.9 L301.0 337.9 L302.2 338.0 L303.0 338.2 L303.9 338.5 L304.7 338.9 L305.4 339.5 L305.8 340.1 L306.2 341.3 L306.1 342.5 L305.8 343.3 L305.4 344.1 L304.8 344.9 L304.2 345.6 L303.7 346.1 L303.0 346.6 L302.2 347.1 L301.4 347.6 L300.6 347.9 L299.5 348.1 M300.6 346.9 L299.4 347.2 L298.2 347.2 L297.2 346.9 L296.5 346.5 L295.8 345.8 L295.4 345.2 L295.1 344.1 L295.0 343.3 L295.1 342.5 L295.4 341.6 L295.8 340.9 L296.5 340.1 L297.1 339.7 L297.9 339.3 L299.0 339.0 L299.8 338.8 L301.0 338.9 L301.8 339.0 L302.9 339.3 L303.6 339.7 L304.2 340.2 L304.7 340.9 L304.9 342.1 L304.6 343.3 L304.2 344.1 L303.8 344.6 L303.2 345.3 L302.6 345.8 L301.8 346.4 L301.0 346.8 M299.4 346.1 L298.3 346.1 L297.4 345.7 L296.9 345.3 L296.3 344.5 L296.1 343.7 L296.2 342.5 L296.6 341.7 L297.0 341.1 L297.8 340.5 L298.6 340.2 L299.4 340.0 L300.6 340.0 L301.4 340.1 L302.2 340.5 L303.0 341.2 L303.3 342.1 L303.2 343.3 L302.7 344.1 L302.2 344.7 L301.5 345.3 L300.8 345.7 L299.8 346.1" fill="none" stroke="#5a5a5a" stroke-width="0.45" stroke-linejoin="round" clip-path="url(#c180_216)"/>
<circle cx="289.8" cy="302" r="0.5" fill="#666"/>
<circle cx="293.8" cy="300" r="0.5" fill="#666"/>
<circle cx="297.8" cy="306" r="0.5" fill="#666"/>
<circle cx="301.8" cy="309" r="0.5" fill="#666"/>
<circle cx="306.8" cy="302" r="0.5" fill="#666"/>
<circle cx="311.8" cy="298" r="0.5" fill="#666"/>
<circle cx="304.8" cy="312" r="0.5" fill="#666"/>
<circle cx="315.8" cy="309" r="0.5" fill="#666"/>
<circle cx="319.8" cy="301" r="0.5" fill="#666"/>
<circle cx="291.8" cy="311" r="0.5" fill="#666"/>
<circle cx="296.8" cy="313" r="0.5" fill="#666"/>
<circle cx="280.8" cy="317" r="0.5" fill="#666"/>
<circle cx="327.8" cy="336" r="0.5" fill="#666"/>
<circle cx="322.8" cy="358" r="0.5" fill="#666"/>
<rect x="212.6" y="244.9" width="137.7" height="141.2" fill="none" stroke="#b4b4b4" stroke-width="1.1"/>
<line x1="208.5" y1="376.1" x2="212.1" y2="376.1" stroke="#1a1a1a" stroke-width="1.1"/>
<line x1="208.5" y1="330.5" x2="212.1" y2="330.5" stroke="#1a1a1a" stroke-width="1.1"/>
<line x1="208.5" y1="292.2" x2="212.1" y2="292.2" stroke="#1a1a1a" stroke-width="1.1"/>
<line x1="208.5" y1="258.6" x2="212.1" y2="258.6" stroke="#1a1a1a" stroke-width="1.1"/>
<line x1="210.2" y1="318.97" x2="212.1" y2="318.97" stroke="#1a1a1a" stroke-width="0.8"/>
<line x1="210.2" y1="312.23" x2="212.1" y2="312.23" stroke="#1a1a1a" stroke-width="0.8"/>
<line x1="210.2" y1="307.44" x2="212.1" y2="307.44" stroke="#1a1a1a" stroke-width="0.8"/>
<line x1="210.2" y1="303.73" x2="212.1" y2="303.73" stroke="#1a1a1a" stroke-width="0.8"/>
<line x1="210.2" y1="300.7" x2="212.1" y2="300.7" stroke="#1a1a1a" stroke-width="0.8"/>
<line x1="210.2" y1="298.13" x2="212.1" y2="298.13" stroke="#1a1a1a" stroke-width="0.8"/>
<line x1="210.2" y1="295.91" x2="212.1" y2="295.91" stroke="#1a1a1a" stroke-width="0.8"/>
<line x1="210.2" y1="293.95" x2="212.1" y2="293.95" stroke="#1a1a1a" stroke-width="0.8"/>
<line x1="210.2" y1="282.09" x2="212.1" y2="282.09" stroke="#1a1a1a" stroke-width="0.8"/>
<line x1="210.2" y1="276.17" x2="212.1" y2="276.17" stroke="#1a1a1a" stroke-width="0.8"/>
<line x1="210.2" y1="271.97" x2="212.1" y2="271.97" stroke="#1a1a1a" stroke-width="0.8"/>
<line x1="210.2" y1="268.71" x2="212.1" y2="268.71" stroke="#1a1a1a" stroke-width="0.8"/>
<line x1="210.2" y1="266.05" x2="212.1" y2="266.05" stroke="#1a1a1a" stroke-width="0.8"/>
<line x1="210.2" y1="263.8" x2="212.1" y2="263.8" stroke="#1a1a1a" stroke-width="0.8"/>
<line x1="210.2" y1="261.86" x2="212.1" y2="261.86" stroke="#1a1a1a" stroke-width="0.8"/>
<line x1="210.2" y1="260.14" x2="212.1" y2="260.14" stroke="#1a1a1a" stroke-width="0.8"/>
<line x1="210.2" y1="248.49" x2="212.1" y2="248.49" stroke="#1a1a1a" stroke-width="0.8"/>
<line x1="210.2" y1="333.04" x2="212.1" y2="333.04" stroke="#1a1a1a" stroke-width="0.8"/>
<line x1="210.2" y1="335.59" x2="212.1" y2="335.59" stroke="#1a1a1a" stroke-width="0.8"/>
<line x1="210.2" y1="338.13" x2="212.1" y2="338.13" stroke="#1a1a1a" stroke-width="0.8"/>
<line x1="210.2" y1="340.68" x2="212.1" y2="340.68" stroke="#1a1a1a" stroke-width="0.8"/>
<line x1="210.2" y1="343.22" x2="212.1" y2="343.22" stroke="#1a1a1a" stroke-width="0.8"/>
<line x1="210.2" y1="345.77" x2="212.1" y2="345.77" stroke="#1a1a1a" stroke-width="0.8"/>
<line x1="210.2" y1="348.31" x2="212.1" y2="348.31" stroke="#1a1a1a" stroke-width="0.8"/>
<line x1="210.2" y1="373.58" x2="212.1" y2="373.58" stroke="#1a1a1a" stroke-width="0.8"/>
<line x1="210.2" y1="371.06" x2="212.1" y2="371.06" stroke="#1a1a1a" stroke-width="0.8"/>
<line x1="210.2" y1="368.53" x2="212.1" y2="368.53" stroke="#1a1a1a" stroke-width="0.8"/>
<line x1="210.2" y1="366.01" x2="212.1" y2="366.01" stroke="#1a1a1a" stroke-width="0.8"/>
<line x1="210.2" y1="363.49" x2="212.1" y2="363.49" stroke="#1a1a1a" stroke-width="0.8"/>
<line x1="210.2" y1="360.97" x2="212.1" y2="360.97" stroke="#1a1a1a" stroke-width="0.8"/>
<line x1="210.2" y1="358.44" x2="212.1" y2="358.44" stroke="#1a1a1a" stroke-width="0.8"/>
<line x1="208.5" y1="356.83" x2="212.1" y2="356.83" stroke="#1a1a1a" stroke-width="0.9"/>
<line x1="208.5" y1="356.15" x2="212.1" y2="356.15" stroke="#1a1a1a" stroke-width="0.9"/>
<line x1="208.5" y1="355.46" x2="212.1" y2="355.46" stroke="#1a1a1a" stroke-width="0.9"/>
<line x1="208.5" y1="354.77" x2="212.1" y2="354.77" stroke="#1a1a1a" stroke-width="0.9"/>
<line x1="208.5" y1="354.09" x2="212.1" y2="354.09" stroke="#1a1a1a" stroke-width="0.9"/>
<line x1="208.5" y1="353.4" x2="212.1" y2="353.4" stroke="#1a1a1a" stroke-width="0.9"/>
<line x1="208.5" y1="352.71" x2="212.1" y2="352.71" stroke="#1a1a1a" stroke-width="0.9"/>
<line x1="208.5" y1="352.03" x2="212.1" y2="352.03" stroke="#1a1a1a" stroke-width="0.9"/>
<line x1="208.5" y1="351.34" x2="212.1" y2="351.34" stroke="#1a1a1a" stroke-width="0.9"/>
<line x1="208.5" y1="350.65" x2="212.1" y2="350.65" stroke="#1a1a1a" stroke-width="0.9"/>
<line x1="208.5" y1="349.96" x2="212.1" y2="349.96" stroke="#1a1a1a" stroke-width="0.9"/>
<line x1="221.2" y1="386.6" x2="221.2" y2="390.2" stroke="#1a1a1a" stroke-width="1.1"/>
<line x1="266.6" y1="386.6" x2="266.6" y2="390.2" stroke="#1a1a1a" stroke-width="1.1"/>
<line x1="304.1" y1="386.6" x2="304.1" y2="390.2" stroke="#1a1a1a" stroke-width="1.1"/>
<line x1="336.8" y1="386.6" x2="336.8" y2="390.2" stroke="#1a1a1a" stroke-width="1.1"/>
<line x1="277.89" y1="386.6" x2="277.89" y2="388.5" stroke="#1a1a1a" stroke-width="0.8"/>
<line x1="284.49" y1="386.6" x2="284.49" y2="388.5" stroke="#1a1a1a" stroke-width="0.8"/>
<line x1="289.18" y1="386.6" x2="289.18" y2="388.5" stroke="#1a1a1a" stroke-width="0.8"/>
<line x1="292.81" y1="386.6" x2="292.81" y2="388.5" stroke="#1a1a1a" stroke-width="0.8"/>
<line x1="295.78" y1="386.6" x2="295.78" y2="388.5" stroke="#1a1a1a" stroke-width="0.8"/>
<line x1="298.29" y1="386.6" x2="298.29" y2="388.5" stroke="#1a1a1a" stroke-width="0.8"/>
<line x1="300.47" y1="386.6" x2="300.47" y2="388.5" stroke="#1a1a1a" stroke-width="0.8"/>
<line x1="302.38" y1="386.6" x2="302.38" y2="388.5" stroke="#1a1a1a" stroke-width="0.8"/>
<line x1="313.94" y1="386.6" x2="313.94" y2="388.5" stroke="#1a1a1a" stroke-width="0.8"/>
<line x1="319.7" y1="386.6" x2="319.7" y2="388.5" stroke="#1a1a1a" stroke-width="0.8"/>
<line x1="323.79" y1="386.6" x2="323.79" y2="388.5" stroke="#1a1a1a" stroke-width="0.8"/>
<line x1="326.96" y1="386.6" x2="326.96" y2="388.5" stroke="#1a1a1a" stroke-width="0.8"/>
<line x1="329.55" y1="386.6" x2="329.55" y2="388.5" stroke="#1a1a1a" stroke-width="0.8"/>
<line x1="331.73" y1="386.6" x2="331.73" y2="388.5" stroke="#1a1a1a" stroke-width="0.8"/>
<line x1="333.63" y1="386.6" x2="333.63" y2="388.5" stroke="#1a1a1a" stroke-width="0.8"/>
<line x1="335.3" y1="386.6" x2="335.3" y2="388.5" stroke="#1a1a1a" stroke-width="0.8"/>
<line x1="346.64" y1="386.6" x2="346.64" y2="388.5" stroke="#1a1a1a" stroke-width="0.8"/>
<line x1="264.12" y1="386.6" x2="264.12" y2="388.5" stroke="#1a1a1a" stroke-width="0.8"/>
<line x1="261.64" y1="386.6" x2="261.64" y2="388.5" stroke="#1a1a1a" stroke-width="0.8"/>
<line x1="259.17" y1="386.6" x2="259.17" y2="388.5" stroke="#1a1a1a" stroke-width="0.8"/>
<line x1="256.69" y1="386.6" x2="256.69" y2="388.5" stroke="#1a1a1a" stroke-width="0.8"/>
<line x1="254.21" y1="386.6" x2="254.21" y2="388.5" stroke="#1a1a1a" stroke-width="0.8"/>
<line x1="251.73" y1="386.6" x2="251.73" y2="388.5" stroke="#1a1a1a" stroke-width="0.8"/>
<line x1="249.26" y1="386.6" x2="249.26" y2="388.5" stroke="#1a1a1a" stroke-width="0.8"/>
<line x1="223.77" y1="386.6" x2="223.77" y2="388.5" stroke="#1a1a1a" stroke-width="0.8"/>
<line x1="226.33" y1="386.6" x2="226.33" y2="388.5" stroke="#1a1a1a" stroke-width="0.8"/>
<line x1="228.9" y1="386.6" x2="228.9" y2="388.5" stroke="#1a1a1a" stroke-width="0.8"/>
<line x1="231.47" y1="386.6" x2="231.47" y2="388.5" stroke="#1a1a1a" stroke-width="0.8"/>
<line x1="234.03" y1="386.6" x2="234.03" y2="388.5" stroke="#1a1a1a" stroke-width="0.8"/>
<line x1="236.6" y1="386.6" x2="236.6" y2="388.5" stroke="#1a1a1a" stroke-width="0.8"/>
<line x1="239.17" y1="386.6" x2="239.17" y2="388.5" stroke="#1a1a1a" stroke-width="0.8"/>
<line x1="240.96" y1="386.6" x2="240.96" y2="390.2" stroke="#1a1a1a" stroke-width="0.9"/>
<line x1="241.62" y1="386.6" x2="241.62" y2="390.2" stroke="#1a1a1a" stroke-width="0.9"/>
<line x1="242.29" y1="386.6" x2="242.29" y2="390.2" stroke="#1a1a1a" stroke-width="0.9"/>
<line x1="242.96" y1="386.6" x2="242.96" y2="390.2" stroke="#1a1a1a" stroke-width="0.9"/>
<line x1="243.63" y1="386.6" x2="243.63" y2="390.2" stroke="#1a1a1a" stroke-width="0.9"/>
<line x1="244.3" y1="386.6" x2="244.3" y2="390.2" stroke="#1a1a1a" stroke-width="0.9"/>
<line x1="244.97" y1="386.6" x2="244.97" y2="390.2" stroke="#1a1a1a" stroke-width="0.9"/>
<line x1="245.64" y1="386.6" x2="245.64" y2="390.2" stroke="#1a1a1a" stroke-width="0.9"/>
<line x1="246.31" y1="386.6" x2="246.31" y2="390.2" stroke="#1a1a1a" stroke-width="0.9"/>
<line x1="246.98" y1="386.6" x2="246.98" y2="390.2" stroke="#1a1a1a" stroke-width="0.9"/>
<line x1="247.65" y1="386.6" x2="247.65" y2="390.2" stroke="#1a1a1a" stroke-width="0.9"/>
<text x="196.61" y="261.4" font-size="6.2" fill="#3a3a3a" textLength="6.01" lengthAdjust="spacingAndGlyphs">10</text>
<text x="202.54" y="258" font-size="5.2" fill="#3a3a3a" textLength="3.7" lengthAdjust="spacingAndGlyphs">5</text>
<text x="196.61" y="295" font-size="6.2" fill="#3a3a3a" textLength="6.01" lengthAdjust="spacingAndGlyphs">10</text>
<text x="202.68" y="291.6" font-size="5.2" fill="#3a3a3a" textLength="3.49" lengthAdjust="spacingAndGlyphs">4</text>
<text x="196.61" y="333.3" font-size="6.2" fill="#3a3a3a" textLength="6.01" lengthAdjust="spacingAndGlyphs">10</text>
<text x="202.54" y="329.9" font-size="5.2" fill="#3a3a3a" textLength="3.78" lengthAdjust="spacingAndGlyphs">3</text>
<text x="200.82" y="355.6" font-size="6" fill="#3a3a3a" textLength="2.34" lengthAdjust="spacingAndGlyphs">0</text>
<text x="193.3" y="378.9" font-size="6.2" fill="#3a3a3a" textLength="3.62" lengthAdjust="spacingAndGlyphs">−</text>
<text x="196.61" y="378.9" font-size="6.2" fill="#3a3a3a" textLength="6.01" lengthAdjust="spacingAndGlyphs">10</text>
<text x="202.54" y="375.5" font-size="5.2" fill="#3a3a3a" textLength="3.78" lengthAdjust="spacingAndGlyphs">3</text>
<text x="266.3" y="398.1" font-size="6.2" fill="#3a3a3a" textLength="6.12" lengthAdjust="spacingAndGlyphs">10</text>
<text x="272.36" y="394.6" font-size="5.2" fill="#3a3a3a" textLength="3.54" lengthAdjust="spacingAndGlyphs">3</text>
<text x="303.8" y="398.1" font-size="6.2" fill="#3a3a3a" textLength="6.12" lengthAdjust="spacingAndGlyphs">10</text>
<text x="309.99" y="394.6" font-size="5.2" fill="#3a3a3a" textLength="3.27" lengthAdjust="spacingAndGlyphs">4</text>
<text x="336.5" y="398.1" font-size="6.2" fill="#3a3a3a" textLength="6.12" lengthAdjust="spacingAndGlyphs">10</text>
<text x="342.56" y="394.6" font-size="5.2" fill="#3a3a3a" textLength="3.47" lengthAdjust="spacingAndGlyphs">5</text>
<text x="245.32" y="397.9" font-size="6" fill="#3a3a3a" textLength="2.34" lengthAdjust="spacingAndGlyphs">0</text>
<text x="218.32" y="398.1" font-size="6.2" fill="#3a3a3a" textLength="3.38" lengthAdjust="spacingAndGlyphs">−</text>
<text x="221.3" y="398.1" font-size="6.2" fill="#3a3a3a" textLength="6.12" lengthAdjust="spacingAndGlyphs">10</text>
<text x="227.36" y="394.6" font-size="5.2" fill="#3a3a3a" textLength="3.54" lengthAdjust="spacingAndGlyphs">3</text>
<rect x="274.6" y="272.3" width="73.6" height="113.8" fill="none" stroke="#2a2a2a" stroke-width="1.3"/>
<line x1="274.6" y1="319.3" x2="348.2" y2="319.3" stroke="#2a2a2a" stroke-width="1.5"/>
<line x1="274.6" y1="357.6" x2="348.2" y2="357.6" stroke="#2a2a2a" stroke-width="1.5"/>
<text x="234.17" y="287.9" font-size="9.2" fill="#222" textLength="20.03" lengthAdjust="spacingAndGlyphs">6.2%</text>
<text x="234.17" y="334.6" font-size="9.2" fill="#222" textLength="24.91" lengthAdjust="spacingAndGlyphs">71.7%</text>
<text x="234.17" y="375" font-size="9.2" fill="#222" textLength="24.91" lengthAdjust="spacingAndGlyphs">22.1%</text>
<text x="212.61" y="228.4" font-size="11" font-weight="bold" fill="#111" textLength="90.85" lengthAdjust="spacingAndGlyphs">18 h +LPS culture</text>
<text x="212.6" y="238.7" font-size="10.2" fill="#333" textLength="122.42" lengthAdjust="spacingAndGlyphs">Gated on singlet viable Mφ</text>
<clipPath id="q0"><rect x="32.5" y="678.9" width="143.8" height="147.9"/></clipPath>
<path d="M82.1 785.4 L80.9 785.5 L79.7 785.5 L78.5 785.4 L77.7 785.3 L76.5 785.0 L75.7 784.7 L74.9 784.3 L74.1 783.9 L73.3 783.4 L72.6 782.9 L72.1 782.5 L71.3 781.8 L70.8 781.3 L70.1 780.6 L69.7 780.1 L69.1 779.3 L68.5 778.5 L68.1 777.9 L67.7 777.3 L67.2 776.5 L66.8 775.7 L66.4 774.9 L66.0 774.1 L65.7 773.3 L65.3 772.3 L64.9 771.3 L64.7 770.5 L64.4 769.7 L64.1 768.5 L63.9 767.7 L63.7 766.6 L63.5 765.7 L63.3 764.5 L63.2 763.7 L63.1 762.5 L63.0 761.3 L62.9 760.1 L62.9 758.9 L62.9 758.1 L62.9 757.3 L62.9 756.1 L63.0 754.9 L63.1 753.7 L63.3 752.5 L63.4 751.7 L63.5 750.5 L63.7 749.4 L63.9 748.5 L64.1 747.3 L64.2 746.5 L64.5 745.3 L64.6 744.5 L64.8 743.3 L65.0 742.5 L65.2 741.3 L65.3 740.5 L65.5 739.3 L65.6 738.1 L65.8 737.3 L65.9 736.1 L66.1 735.0 L66.2 734.1 L66.5 732.9 L66.6 732.1 L66.9 730.9 L67.1 730.1 L67.3 729.3 L67.7 728.1 L68.0 727.3 L68.3 726.5 L68.7 725.7 L69.0 724.9 L69.5 724.1 L69.9 723.3 L70.5 722.5 L70.9 721.9 L71.4 721.3 L72.0 720.5 L72.5 720.0 L73.2 719.3 L73.7 718.9 L74.5 718.3 L75.3 717.7 L76.0 717.3 L76.7 716.9 L77.6 716.5 L78.5 716.2 L79.3 715.9 L80.4 715.7 L81.3 715.6 L82.5 715.5 L83.7 715.6 L84.6 715.7 L85.7 715.9 L86.5 716.2 L87.4 716.5 L88.2 716.9 L89.0 717.3 L89.7 717.7 L90.5 718.3 L91.3 718.9 L91.7 719.3 L92.5 720.1 L92.9 720.5 L93.6 721.3 L94.1 722.0 L94.5 722.6 L95.0 723.3 L95.4 724.1 L95.8 724.9 L96.2 725.7 L96.6 726.5 L96.9 727.4 L97.3 728.5 L97.5 729.3 L97.8 730.1 L98.1 731.2 L98.4 732.1 L98.6 732.9 L98.9 733.7 L99.3 734.7 L99.7 735.6 L100.1 736.3 L100.5 737.0 L100.9 737.7 L101.4 738.5 L101.9 739.3 L102.3 740.1 L102.7 740.9 L103.0 741.7 L103.3 742.9 L103.4 743.7 L103.5 744.9 L103.4 746.1 L103.2 746.9 L102.9 748.0 L102.5 748.9 L102.1 749.7 L101.7 750.3 L101.3 750.9 L100.7 751.7 L100.1 752.4 L99.7 753.0 L99.3 753.7 L98.9 754.5 L98.5 755.5 L98.3 756.5 L98.1 757.5 L98.0 758.5 L97.9 759.7 L97.8 760.9 L97.7 761.7 L97.6 762.9 L97.5 764.1 L97.3 765.1 L97.2 766.1 L96.9 767.3 L96.7 768.1 L96.5 769.1 L96.2 770.1 L96.0 770.9 L95.7 771.7 L95.3 772.8 L94.9 773.7 L94.6 774.5 L94.2 775.3 L93.8 776.1 L93.3 776.9 L92.9 777.5 L92.5 778.1 L91.9 778.9 L91.3 779.7 L90.9 780.1 L90.2 780.9 L89.7 781.3 L88.9 782.0 L88.3 782.5 L87.7 782.9 L86.9 783.5 L86.1 783.9 L85.3 784.3 L84.5 784.7 L83.7 784.9 L82.5 785.3 M81.7 782.1 L80.5 782.3 L79.3 782.2 L78.3 782.1 L77.3 781.9 L76.5 781.6 L75.7 781.3 L74.9 780.9 L74.1 780.4 L73.3 779.8 L72.7 779.3 L72.1 778.7 L71.5 778.1 L70.9 777.4 L70.5 776.9 L69.9 776.1 L69.4 775.3 L68.9 774.5 L68.5 773.8 L68.1 773.0 L67.7 772.2 L67.3 771.3 L67.0 770.5 L66.7 769.7 L66.5 768.9 L66.1 767.7 L65.9 766.9 L65.7 765.8 L65.5 764.9 L65.3 763.7 L65.2 762.9 L65.1 761.7 L65.0 760.5 L65.0 759.3 L65.0 758.1 L65.0 756.9 L65.0 755.7 L65.1 754.5 L65.3 753.3 L65.4 752.5 L65.5 751.3 L65.7 750.4 L65.9 749.3 L66.1 748.2 L66.3 747.3 L66.5 746.3 L66.7 745.3 L66.9 744.4 L67.1 743.3 L67.3 742.3 L67.5 741.3 L67.7 740.1 L67.8 739.3 L68.0 738.1 L68.1 737.3 L68.3 736.1 L68.5 734.9 L68.6 734.1 L68.9 732.9 L69.1 732.1 L69.3 731.1 L69.6 730.1 L69.9 729.3 L70.2 728.5 L70.5 727.7 L70.9 726.8 L71.3 726.1 L71.7 725.3 L72.3 724.5 L72.8 723.7 L73.3 723.1 L73.9 722.5 L74.5 721.9 L75.2 721.3 L75.7 720.9 L76.5 720.3 L77.3 719.9 L78.1 719.5 L78.9 719.2 L79.8 718.9 L80.9 718.7 L82.1 718.6 L83.3 718.6 L84.5 718.8 L85.3 718.9 L86.4 719.3 L87.3 719.7 L88.0 720.1 L88.7 720.5 L89.3 720.9 L90.1 721.6 L90.6 722.1 L91.3 722.8 L91.7 723.3 L92.3 724.1 L92.9 724.9 L93.3 725.6 L93.7 726.3 L94.1 727.2 L94.5 728.1 L94.8 728.9 L95.1 729.7 L95.3 730.5 L95.6 731.7 L95.8 732.5 L96.1 733.7 L96.3 734.5 L96.5 735.3 L96.9 736.5 L97.1 737.3 L97.5 738.1 L97.8 738.9 L98.3 739.7 L98.7 740.5 L99.1 741.3 L99.4 742.1 L99.7 742.9 L99.9 744.1 L99.9 745.3 L99.7 746.4 L99.4 747.3 L98.9 748.1 L98.5 748.8 L98.1 749.4 L97.7 750.1 L97.3 750.9 L96.9 752.0 L96.7 752.9 L96.5 753.7 L96.4 754.9 L96.3 756.1 L96.2 757.3 L96.1 758.5 L96.1 759.4 L96.0 760.5 L96.0 761.7 L95.8 762.9 L95.7 764.0 L95.6 764.9 L95.3 766.1 L95.2 766.9 L94.9 768.0 L94.6 768.9 L94.4 769.7 L94.1 770.5 L93.7 771.5 L93.3 772.4 L92.9 773.2 L92.5 774.0 L92.1 774.6 L91.7 775.3 L91.1 776.1 L90.5 776.8 L90.1 777.3 L89.3 778.1 L88.9 778.5 L88.1 779.2 L87.4 779.7 L86.8 780.1 L86.1 780.5 L85.3 781.0 L84.5 781.3 L83.5 781.7 L82.5 782.0 L81.7 782.1 M81.3 780.1 L80.1 780.2 L78.9 780.1 L78.1 780.0 L77.1 779.7 L76.1 779.3 L75.3 778.9 L74.7 778.5 L74.1 778.1 L73.3 777.4 L72.7 776.9 L72.1 776.3 L71.6 775.7 L71.0 774.9 L70.5 774.2 L70.1 773.5 L69.7 772.8 L69.3 772.1 L68.9 771.3 L68.5 770.3 L68.1 769.3 L67.8 768.5 L67.6 767.7 L67.3 766.7 L67.1 765.7 L66.9 764.9 L66.7 763.7 L66.5 762.5 L66.4 761.7 L66.3 760.5 L66.3 759.3 L66.3 758.1 L66.3 756.9 L66.4 755.7 L66.5 754.5 L66.5 753.7 L66.7 752.5 L66.9 751.3 L67.0 750.5 L67.3 749.3 L67.4 748.5 L67.7 747.3 L67.9 746.5 L68.1 745.6 L68.3 744.5 L68.5 743.7 L68.8 742.5 L68.9 741.7 L69.1 740.5 L69.3 739.4 L69.4 738.5 L69.6 737.3 L69.8 736.5 L70.0 735.3 L70.1 734.5 L70.4 733.3 L70.5 732.5 L70.9 731.3 L71.1 730.5 L71.4 729.7 L71.7 728.9 L72.1 728.1 L72.5 727.3 L73.0 726.5 L73.5 725.7 L74.1 724.9 L74.5 724.4 L75.2 723.7 L75.7 723.2 L76.5 722.6 L77.2 722.1 L77.9 721.7 L78.8 721.3 L79.7 721.0 L80.5 720.8 L81.7 720.6 L82.9 720.6 L84.1 720.7 L85.0 720.9 L86.1 721.3 L86.9 721.6 L87.7 722.1 L88.3 722.5 L88.9 723.0 L89.7 723.7 L90.1 724.1 L90.8 724.9 L91.3 725.6 L91.7 726.2 L92.1 726.9 L92.5 727.7 L92.9 728.5 L93.3 729.6 L93.6 730.5 L93.8 731.3 L94.1 732.4 L94.3 733.3 L94.5 734.3 L94.7 735.3 L94.9 736.5 L95.0 737.3 L95.3 738.5 L95.5 739.3 L95.7 740.3 L96.0 741.3 L96.2 742.1 L96.4 743.3 L96.5 744.5 L96.4 745.7 L96.1 746.9 L95.9 747.7 L95.7 748.5 L95.4 749.7 L95.3 750.6 L95.2 751.7 L95.1 752.9 L95.1 754.1 L95.1 755.3 L95.0 756.5 L95.0 757.7 L95.0 758.9 L95.0 760.1 L94.9 761.2 L94.8 762.1 L94.7 763.3 L94.5 764.5 L94.4 765.3 L94.1 766.5 L93.9 767.3 L93.7 768.1 L93.3 769.2 L92.9 770.1 L92.6 770.9 L92.2 771.7 L91.8 772.5 L91.3 773.3 L90.9 773.9 L90.5 774.5 L89.8 775.3 L89.3 775.9 L88.6 776.5 L88.1 777.0 L87.3 777.6 L86.6 778.1 L85.9 778.5 L85.2 778.9 L84.3 779.3 L83.3 779.7 L82.5 779.9 L81.5 780.1 M81.7 778.5 L80.5 778.6 L79.3 778.6 L78.5 778.5 L77.3 778.2 L76.5 777.9 L75.7 777.4 L74.9 776.9 L74.3 776.5 L73.7 776.0 L73.0 775.3 L72.5 774.8 L72.0 774.1 L71.4 773.3 L70.9 772.6 L70.5 771.9 L70.1 771.2 L69.7 770.3 L69.3 769.4 L69.0 768.5 L68.7 767.7 L68.4 766.9 L68.1 765.7 L67.9 764.9 L67.7 763.7 L67.6 762.9 L67.4 761.7 L67.3 760.5 L67.3 759.7 L67.3 758.5 L67.3 757.3 L67.3 756.5 L67.4 755.3 L67.5 754.1 L67.7 752.9 L67.8 752.1 L68.0 750.9 L68.2 750.1 L68.4 748.9 L68.6 748.1 L68.9 746.9 L69.1 746.1 L69.3 745.2 L69.6 744.1 L69.7 743.3 L70.0 742.1 L70.1 741.3 L70.4 740.1 L70.5 739.3 L70.7 738.1 L70.9 736.9 L71.0 736.1 L71.2 734.9 L71.4 734.1 L71.7 732.9 L71.9 732.1 L72.2 731.3 L72.5 730.3 L72.9 729.4 L73.3 728.6 L73.7 727.8 L74.1 727.2 L74.6 726.5 L75.2 725.7 L75.7 725.2 L76.4 724.5 L76.9 724.1 L77.7 723.5 L78.5 723.1 L79.3 722.7 L80.1 722.4 L81.3 722.2 L82.5 722.1 L83.7 722.2 L84.9 722.5 L85.7 722.8 L86.5 723.1 L87.3 723.6 L88.0 724.1 L88.5 724.5 L89.3 725.3 L89.7 725.8 L90.3 726.5 L90.8 727.3 L91.3 728.1 L91.6 728.9 L92.0 729.7 L92.3 730.5 L92.5 731.3 L92.8 732.5 L93.0 733.3 L93.2 734.5 L93.3 735.3 L93.5 736.5 L93.6 737.7 L93.7 738.5 L93.8 739.7 L93.9 740.9 L94.0 742.1 L94.1 743.3 L94.1 744.5 L94.1 745.7 L94.0 746.9 L94.0 748.1 L94.0 749.3 L94.0 750.5 L94.0 751.7 L94.0 752.9 L94.1 754.1 L94.1 754.9 L94.2 756.1 L94.2 757.3 L94.2 758.5 L94.2 759.7 L94.1 760.8 L94.0 761.7 L93.9 762.9 L93.7 764.1 L93.6 764.9 L93.3 766.1 L93.1 766.9 L92.8 767.7 L92.5 768.6 L92.1 769.6 L91.7 770.5 L91.3 771.3 L90.9 771.9 L90.5 772.5 L90.0 773.3 L89.3 774.1 L88.9 774.5 L88.1 775.3 L87.6 775.7 L86.9 776.3 L86.1 776.8 L85.3 777.3 L84.5 777.7 L83.7 778.0 L82.9 778.2 L81.8 778.5 M80.9 777.3 L79.7 777.3 L78.9 777.3 L77.7 777.0 L76.9 776.7 L76.1 776.3 L75.3 775.8 L74.6 775.3 L74.1 774.9 L73.3 774.1 L72.9 773.6 L72.3 772.9 L71.8 772.1 L71.3 771.4 L70.9 770.7 L70.5 769.9 L70.1 769.0 L69.8 768.1 L69.5 767.3 L69.2 766.5 L68.9 765.3 L68.7 764.5 L68.5 763.4 L68.4 762.5 L68.2 761.3 L68.1 760.1 L68.1 759.3 L68.1 758.1 L68.1 757.0 L68.1 756.1 L68.2 754.9 L68.4 753.7 L68.5 752.9 L68.7 751.7 L68.9 750.7 L69.1 749.7 L69.3 748.9 L69.6 747.7 L69.8 746.9 L70.1 745.8 L70.3 744.9 L70.5 744.1 L70.8 742.9 L71.0 742.1 L71.2 740.9 L71.4 740.1 L71.6 738.9 L71.7 738.0 L71.9 736.9 L72.1 735.7 L72.3 734.9 L72.5 733.9 L72.7 732.9 L73.0 732.1 L73.3 731.2 L73.7 730.2 L74.1 729.4 L74.5 728.7 L74.9 728.0 L75.4 727.3 L76.1 726.5 L76.5 726.1 L77.3 725.3 L77.9 724.9 L78.5 724.5 L79.4 724.1 L80.5 723.7 L81.3 723.5 L82.5 723.4 L83.7 723.5 L84.5 723.7 L85.5 724.1 L86.3 724.5 L87.0 724.9 L87.7 725.4 L88.4 726.1 L88.9 726.6 L89.4 727.3 L90.0 728.1 L90.4 728.9 L90.8 729.7 L91.1 730.5 L91.4 731.3 L91.7 732.4 L91.9 733.3 L92.1 734.3 L92.2 735.3 L92.4 736.5 L92.4 737.7 L92.5 738.8 L92.5 739.7 L92.6 740.9 L92.6 742.1 L92.6 743.3 L92.6 744.5 L92.7 745.7 L92.7 746.9 L92.8 748.1 L92.9 749.3 L93.0 750.1 L93.1 751.3 L93.2 752.5 L93.3 753.7 L93.3 754.5 L93.4 755.7 L93.5 756.9 L93.5 758.1 L93.5 759.3 L93.4 760.5 L93.3 761.7 L93.2 762.5 L93.1 763.7 L92.9 764.6 L92.6 765.7 L92.4 766.5 L92.1 767.5 L91.7 768.5 L91.4 769.3 L91.0 770.1 L90.5 770.9 L90.1 771.5 L89.7 772.1 L89.1 772.9 L88.5 773.5 L87.9 774.1 L87.3 774.6 L86.5 775.2 L85.7 775.7 L85.0 776.1 L84.1 776.5 L83.3 776.8 L82.5 777.1 L81.3 777.3 M81.7 776.1 L80.5 776.2 L79.3 776.2 L78.5 776.1 L77.3 775.7 L76.5 775.3 L75.8 774.9 L75.2 774.5 L74.5 773.9 L73.9 773.3 L73.3 772.7 L72.8 772.1 L72.3 771.3 L71.8 770.5 L71.3 769.7 L70.9 768.9 L70.6 768.1 L70.3 767.3 L70.0 766.5 L69.7 765.5 L69.5 764.5 L69.3 763.7 L69.1 762.5 L68.9 761.3 L68.9 760.5 L68.8 759.3 L68.8 758.1 L68.8 756.9 L68.9 755.7 L69.0 754.9 L69.1 753.7 L69.3 752.5 L69.5 751.7 L69.7 750.6 L69.9 749.7 L70.1 748.9 L70.4 747.7 L70.6 746.9 L70.9 745.9 L71.2 744.9 L71.4 744.1 L71.7 742.9 L71.8 742.1 L72.1 740.9 L72.2 740.1 L72.4 738.9 L72.6 738.1 L72.8 736.9 L72.9 736.1 L73.2 734.9 L73.4 734.1 L73.7 732.9 L74.0 732.1 L74.3 731.3 L74.6 730.5 L75.0 729.7 L75.5 728.9 L76.1 728.1 L76.5 727.6 L77.2 726.9 L77.7 726.4 L78.5 725.8 L79.3 725.4 L80.1 725.1 L80.9 724.8 L82.1 724.7 L83.3 724.7 L84.3 724.9 L85.3 725.3 L86.1 725.7 L86.7 726.1 L87.3 726.6 L88.1 727.3 L88.5 727.8 L89.0 728.5 L89.5 729.3 L89.9 730.1 L90.2 730.9 L90.5 731.7 L90.8 732.9 L91.0 733.7 L91.2 734.9 L91.3 735.7 L91.4 736.9 L91.5 738.1 L91.5 739.3 L91.5 740.5 L91.5 741.7 L91.5 742.9 L91.5 744.1 L91.6 745.3 L91.7 746.5 L91.8 747.3 L91.9 748.5 L92.1 749.7 L92.2 750.5 L92.3 751.7 L92.5 752.9 L92.6 753.7 L92.7 754.9 L92.8 756.1 L92.9 757.3 L92.9 758.5 L92.9 759.7 L92.8 760.9 L92.7 762.1 L92.5 763.3 L92.4 764.1 L92.1 765.2 L91.9 766.1 L91.6 766.9 L91.3 767.7 L90.9 768.6 L90.5 769.4 L90.1 770.1 L89.6 770.9 L89.0 771.7 L88.5 772.2 L87.9 772.9 L87.3 773.4 L86.5 774.0 L85.8 774.5 L85.1 774.9 L84.3 775.3 L83.3 775.7 L82.5 775.9 L81.7 776.1 M82.5 775.0 L81.3 775.2 L80.1 775.2 L78.9 775.1 L78.0 774.9 L77.0 774.5 L76.2 774.1 L75.6 773.7 L74.9 773.1 L74.2 772.5 L73.7 771.9 L73.2 771.3 L72.7 770.5 L72.2 769.7 L71.7 768.9 L71.4 768.1 L71.0 767.3 L70.7 766.5 L70.5 765.7 L70.1 764.5 L70.0 763.7 L69.7 762.5 L69.6 761.7 L69.5 760.5 L69.4 759.3 L69.4 758.1 L69.4 756.9 L69.5 755.7 L69.7 754.5 L69.8 753.7 L70.0 752.5 L70.1 751.7 L70.4 750.5 L70.6 749.7 L70.9 748.6 L71.1 747.7 L71.4 746.9 L71.7 745.8 L71.9 744.9 L72.2 744.1 L72.5 742.9 L72.6 742.1 L72.9 740.9 L73.1 740.1 L73.3 738.9 L73.4 738.1 L73.6 736.9 L73.8 736.1 L74.0 734.9 L74.3 734.1 L74.5 733.3 L74.9 732.1 L75.2 731.3 L75.6 730.5 L76.1 729.7 L76.5 729.1 L77.0 728.5 L77.7 727.8 L78.3 727.3 L78.9 726.8 L79.7 726.4 L80.5 726.1 L81.7 725.8 L82.9 725.8 L84.1 726.0 L84.9 726.3 L85.7 726.7 L86.5 727.2 L87.0 727.7 L87.7 728.4 L88.1 728.9 L88.6 729.7 L89.0 730.5 L89.4 731.3 L89.7 732.1 L90.0 733.3 L90.2 734.1 L90.4 735.3 L90.5 736.5 L90.5 737.3 L90.6 738.5 L90.6 739.7 L90.5 740.9 L90.5 742.1 L90.6 743.3 L90.6 744.5 L90.7 745.7 L90.8 746.9 L91.0 747.7 L91.2 748.9 L91.3 749.7 L91.5 750.9 L91.7 752.0 L91.8 752.9 L92.0 754.1 L92.1 754.9 L92.2 756.1 L92.3 757.3 L92.3 758.5 L92.3 759.7 L92.2 760.9 L92.1 762.1 L92.0 762.9 L91.8 764.1 L91.6 764.9 L91.3 765.9 L90.9 766.9 L90.6 767.7 L90.2 768.5 L89.8 769.3 L89.3 770.0 L88.9 770.6 L88.3 771.3 L87.7 771.9 L87.1 772.5 L86.5 773.0 L85.7 773.5 L84.9 774.0 L84.1 774.4 L83.3 774.7 L82.5 775.0 M82.1 774.1 L80.9 774.3 L79.7 774.3 L78.5 774.1 L77.7 773.9 L76.9 773.5 L76.1 773.0 L75.4 772.5 L74.9 772.1 L74.2 771.3 L73.7 770.7 L73.2 770.1 L72.7 769.3 L72.3 768.5 L71.9 767.7 L71.5 766.9 L71.2 766.1 L70.9 765.0 L70.7 764.1 L70.5 763.3 L70.3 762.1 L70.1 760.9 L70.1 760.1 L70.0 758.9 L70.0 757.7 L70.0 756.5 L70.1 755.7 L70.2 754.5 L70.4 753.3 L70.6 752.5 L70.8 751.3 L71.0 750.5 L71.3 749.5 L71.6 748.5 L71.8 747.7 L72.1 746.8 L72.4 745.7 L72.7 744.9 L72.9 744.1 L73.2 742.9 L73.4 742.1 L73.7 740.9 L73.8 740.1 L74.0 738.9 L74.2 738.1 L74.4 736.9 L74.6 736.1 L74.9 734.9 L75.1 734.1 L75.3 733.3 L75.7 732.4 L76.1 731.5 L76.5 730.8 L76.9 730.1 L77.6 729.3 L78.1 728.7 L78.8 728.1 L79.5 727.7 L80.3 727.3 L81.3 727.0 L82.1 726.9 L83.0 726.9 L84.1 727.1 L84.9 727.5 L85.7 727.9 L86.4 728.5 L86.9 729.0 L87.5 729.7 L88.0 730.5 L88.4 731.3 L88.8 732.1 L89.0 732.9 L89.3 733.9 L89.5 734.9 L89.6 736.1 L89.7 737.2 L89.7 738.1 L89.7 739.3 L89.7 740.5 L89.7 741.3 L89.7 742.5 L89.7 743.3 L89.8 744.5 L89.9 745.7 L90.1 746.9 L90.2 747.7 L90.5 748.9 L90.6 749.7 L90.9 750.9 L91.0 751.7 L91.3 752.9 L91.4 753.7 L91.6 754.9 L91.7 756.1 L91.8 756.9 L91.8 758.1 L91.8 759.3 L91.8 760.5 L91.7 761.3 L91.5 762.5 L91.3 763.7 L91.1 764.5 L90.9 765.3 L90.5 766.4 L90.1 767.3 L89.7 768.1 L89.3 768.8 L88.9 769.5 L88.4 770.1 L87.7 770.9 L87.3 771.3 L86.5 772.0 L85.8 772.5 L85.2 772.9 L84.4 773.3 L83.5 773.7 L82.5 774.0 M81.7 773.4 L80.5 773.5 L79.3 773.4 L78.5 773.2 L77.5 772.9 L76.7 772.5 L76.1 772.1 L75.3 771.4 L74.8 770.9 L74.1 770.1 L73.7 769.6 L73.2 768.9 L72.8 768.1 L72.4 767.3 L72.0 766.5 L71.7 765.6 L71.4 764.5 L71.1 763.7 L70.9 762.5 L70.8 761.7 L70.6 760.5 L70.6 759.3 L70.5 758.1 L70.6 756.9 L70.7 755.7 L70.8 754.5 L70.9 753.7 L71.1 752.5 L71.3 751.7 L71.6 750.5 L71.9 749.7 L72.1 748.9 L72.5 747.7 L72.7 746.9 L73.0 746.1 L73.3 745.1 L73.6 744.1 L73.8 743.3 L74.1 742.3 L74.3 741.3 L74.5 740.5 L74.7 739.3 L74.9 738.4 L75.1 737.3 L75.3 736.4 L75.6 735.3 L75.8 734.5 L76.1 733.6 L76.5 732.6 L76.9 731.8 L77.3 731.1 L77.8 730.5 L78.5 729.7 L78.9 729.3 L79.7 728.7 L80.5 728.3 L81.3 728.1 L82.5 727.9 L83.6 728.1 L84.5 728.4 L85.3 728.9 L85.9 729.3 L86.5 729.9 L86.9 730.5 L87.4 731.3 L87.8 732.1 L88.2 732.9 L88.5 734.1 L88.7 734.9 L88.8 736.1 L88.9 737.2 L88.9 738.1 L88.9 739.3 L88.9 740.5 L88.9 741.3 L88.9 742.5 L88.9 743.3 L89.0 744.5 L89.1 745.7 L89.3 746.6 L89.5 747.7 L89.7 748.5 L90.0 749.7 L90.2 750.5 L90.5 751.7 L90.6 752.5 L90.9 753.7 L91.0 754.5 L91.2 755.7 L91.3 756.9 L91.3 757.7 L91.3 758.9 L91.3 760.1 L91.2 760.9 L91.1 762.1 L90.9 763.3 L90.7 764.1 L90.5 764.9 L90.1 766.0 L89.7 766.9 L89.3 767.7 L88.9 768.3 L88.5 768.9 L87.9 769.7 L87.3 770.3 L86.7 770.9 L86.1 771.4 L85.3 771.9 L84.5 772.4 L83.7 772.8 L82.9 773.1 L82.1 773.3 M81.7 772.6 L80.5 772.7 L79.3 772.6 L78.5 772.4 L77.6 772.1 L76.8 771.7 L76.1 771.2 L75.3 770.5 L74.9 770.1 L74.3 769.3 L73.7 768.5 L73.3 767.8 L72.9 767.1 L72.5 766.2 L72.2 765.3 L71.9 764.5 L71.7 763.7 L71.4 762.5 L71.3 761.7 L71.1 760.5 L71.1 759.3 L71.0 758.1 L71.1 756.9 L71.2 755.7 L71.3 754.7 L71.5 753.7 L71.7 752.5 L71.9 751.7 L72.1 750.9 L72.4 749.7 L72.7 748.9 L73.0 748.1 L73.3 747.1 L73.6 746.1 L73.9 745.3 L74.2 744.5 L74.5 743.5 L74.8 742.5 L75.0 741.7 L75.2 740.5 L75.4 739.7 L75.6 738.5 L75.8 737.7 L76.1 736.5 L76.3 735.7 L76.5 734.9 L76.9 733.8 L77.3 732.9 L77.7 732.1 L78.1 731.5 L78.6 730.9 L79.3 730.2 L80.1 729.7 L80.9 729.3 L81.7 729.1 L82.9 729.1 L83.8 729.3 L84.7 729.7 L85.3 730.1 L86.1 730.9 L86.5 731.5 L86.9 732.2 L87.3 733.1 L87.6 734.1 L87.8 734.9 L88.0 736.1 L88.1 737.1 L88.1 738.1 L88.1 739.3 L88.1 740.5 L88.1 741.7 L88.1 742.9 L88.2 744.1 L88.4 745.3 L88.5 746.1 L88.7 747.3 L88.9 748.1 L89.3 749.3 L89.5 750.1 L89.7 751.0 L90.0 752.1 L90.2 752.9 L90.4 754.1 L90.6 754.9 L90.7 756.1 L90.8 757.3 L90.9 758.5 L90.9 759.7 L90.8 760.9 L90.6 762.1 L90.5 762.9 L90.2 764.1 L89.9 764.9 L89.6 765.7 L89.3 766.5 L88.9 767.3 L88.4 768.1 L87.8 768.9 L87.3 769.4 L86.6 770.1 L86.1 770.5 L85.3 771.1 L84.5 771.6 L83.7 772.0 L82.9 772.3 L82.1 772.5 M82.1 771.7 L80.9 771.9 L79.7 771.9 L78.7 771.7 L77.7 771.3 L76.9 770.9 L76.3 770.5 L75.7 770.0 L75.1 769.3 L74.5 768.6 L74.1 768.0 L73.7 767.3 L73.2 766.5 L72.9 765.7 L72.5 764.6 L72.2 763.7 L72.0 762.9 L71.8 761.7 L71.7 760.9 L71.6 759.7 L71.5 758.5 L71.5 757.3 L71.6 756.1 L71.7 755.3 L71.9 754.1 L72.1 753.0 L72.3 752.1 L72.5 751.3 L72.9 750.1 L73.1 749.3 L73.4 748.5 L73.7 747.7 L74.1 746.6 L74.4 745.7 L74.7 744.9 L75.0 744.1 L75.3 743.2 L75.6 742.1 L75.8 741.3 L76.1 740.1 L76.3 739.3 L76.5 738.2 L76.7 737.3 L76.9 736.4 L77.2 735.3 L77.5 734.5 L77.9 733.7 L78.3 732.9 L78.9 732.1 L79.3 731.6 L80.1 730.9 L80.9 730.5 L81.7 730.2 L82.9 730.2 L83.8 730.5 L84.5 730.9 L85.3 731.6 L85.7 732.1 L86.2 732.9 L86.6 733.7 L86.9 734.7 L87.1 735.7 L87.3 736.9 L87.3 737.7 L87.3 738.9 L87.3 740.1 L87.3 741.3 L87.3 742.5 L87.4 743.7 L87.6 744.9 L87.7 745.7 L88.0 746.9 L88.2 747.7 L88.5 748.8 L88.8 749.7 L89.0 750.5 L89.3 751.5 L89.6 752.5 L89.8 753.3 L90.0 754.5 L90.1 755.3 L90.3 756.5 L90.4 757.7 L90.4 758.9 L90.4 760.1 L90.3 761.3 L90.1 762.4 L89.9 763.3 L89.7 764.1 L89.3 765.2 L88.9 766.1 L88.5 766.8 L88.1 767.5 L87.6 768.1 L86.9 768.9 L86.5 769.3 L85.7 770.0 L85.0 770.5 L84.3 770.9 L83.4 771.3 L82.5 771.6 M82.1 771.0 L80.9 771.2 L79.7 771.2 L78.5 770.9 L77.7 770.6 L76.9 770.1 L76.4 769.7 L75.7 769.1 L75.2 768.5 L74.6 767.7 L74.1 767.0 L73.7 766.2 L73.3 765.3 L73.0 764.5 L72.7 763.7 L72.5 762.8 L72.3 761.7 L72.1 760.5 L72.0 759.7 L72.0 758.5 L72.0 757.3 L72.1 756.1 L72.2 755.3 L72.4 754.1 L72.5 753.3 L72.8 752.1 L73.1 751.3 L73.3 750.5 L73.7 749.3 L74.0 748.5 L74.3 747.7 L74.6 746.9 L75.0 746.1 L75.3 745.2 L75.7 744.2 L76.0 743.3 L76.3 742.5 L76.5 741.7 L76.8 740.5 L77.0 739.7 L77.3 738.5 L77.4 737.7 L77.7 736.7 L78.0 735.7 L78.3 734.9 L78.7 734.1 L79.2 733.3 L79.7 732.7 L80.4 732.1 L81.1 731.7 L82.1 731.5 L83.3 731.6 L84.1 732.0 L84.6 732.5 L85.3 733.3 L85.7 734.1 L86.0 734.9 L86.2 735.7 L86.4 736.9 L86.5 738.1 L86.5 738.9 L86.5 740.1 L86.5 741.3 L86.5 742.5 L86.6 743.7 L86.8 744.9 L87.0 745.7 L87.3 746.9 L87.5 747.7 L87.8 748.5 L88.1 749.5 L88.4 750.5 L88.7 751.3 L88.9 752.1 L89.3 753.3 L89.4 754.1 L89.7 755.3 L89.8 756.1 L89.9 757.3 L90.0 758.5 L90.0 759.7 L89.9 760.9 L89.7 762.1 L89.5 762.9 L89.3 763.7 L88.9 764.8 L88.5 765.7 L88.1 766.5 L87.7 767.1 L87.2 767.7 L86.5 768.5 L86.1 768.9 L85.3 769.5 L84.5 770.0 L83.7 770.4 L82.9 770.8 L82.1 771.0 M82.5 770.2 L81.3 770.4 L80.1 770.5 L78.9 770.3 L78.1 770.0 L77.3 769.6 L76.5 769.0 L76.0 768.5 L75.3 767.7 L74.9 767.2 L74.5 766.5 L74.0 765.7 L73.7 764.9 L73.3 763.9 L73.0 762.9 L72.8 762.1 L72.6 760.9 L72.5 759.7 L72.5 758.9 L72.5 757.7 L72.5 756.9 L72.6 755.7 L72.8 754.5 L72.9 753.7 L73.2 752.5 L73.5 751.7 L73.7 750.9 L74.1 749.8 L74.4 748.9 L74.8 748.1 L75.1 747.3 L75.5 746.5 L75.8 745.7 L76.2 744.9 L76.5 744.1 L76.9 743.0 L77.2 742.1 L77.5 741.3 L77.7 740.4 L78.0 739.3 L78.2 738.5 L78.5 737.3 L78.8 736.5 L79.1 735.7 L79.5 734.9 L80.0 734.1 L80.5 733.6 L81.3 733.1 L82.5 732.9 L83.5 733.3 L84.1 733.8 L84.6 734.5 L85.0 735.3 L85.3 736.3 L85.5 737.3 L85.6 738.5 L85.6 739.7 L85.6 740.9 L85.7 742.1 L85.7 742.9 L85.9 744.1 L86.1 745.1 L86.4 746.1 L86.6 746.9 L86.9 747.8 L87.3 748.9 L87.6 749.7 L87.9 750.5 L88.1 751.3 L88.5 752.4 L88.8 753.3 L89.0 754.1 L89.2 755.3 L89.3 756.1 L89.5 757.3 L89.5 758.5 L89.5 759.7 L89.4 760.9 L89.3 761.7 L89.0 762.9 L88.8 763.7 L88.5 764.5 L88.1 765.4 L87.7 766.1 L87.1 766.9 L86.5 767.6 L86.0 768.1 L85.3 768.7 L84.5 769.3 L83.7 769.7 L82.9 770.0 M81.3 769.7 L80.1 769.8 L79.3 769.7 L78.2 769.3 L77.4 768.9 L76.9 768.5 L76.1 767.8 L75.7 767.3 L75.1 766.5 L74.6 765.7 L74.2 764.9 L73.9 764.1 L73.6 763.3 L73.3 762.1 L73.2 761.3 L73.0 760.1 L72.9 758.9 L72.9 757.7 L73.0 756.5 L73.1 755.3 L73.3 754.3 L73.5 753.3 L73.7 752.5 L74.1 751.3 L74.4 750.5 L74.7 749.7 L75.0 748.9 L75.4 748.1 L75.8 747.3 L76.2 746.5 L76.6 745.7 L77.0 744.9 L77.3 744.1 L77.7 743.3 L78.1 742.3 L78.5 741.3 L78.7 740.5 L79.0 739.7 L79.3 738.6 L79.6 737.7 L79.9 736.9 L80.4 736.1 L80.9 735.4 L81.7 734.9 L82.5 734.9 L83.2 735.3 L83.7 735.9 L84.1 736.9 L84.3 737.7 L84.4 738.9 L84.5 739.7 L84.6 740.9 L84.7 742.1 L84.8 743.3 L85.0 744.1 L85.3 745.2 L85.6 746.1 L85.9 746.9 L86.2 747.7 L86.5 748.6 L86.9 749.6 L87.3 750.5 L87.6 751.3 L87.9 752.1 L88.1 752.9 L88.5 754.1 L88.7 754.9 L88.9 756.1 L89.0 756.9 L89.1 758.1 L89.1 759.3 L89.0 760.5 L88.9 761.4 L88.7 762.5 L88.4 763.3 L88.1 764.2 L87.7 765.0 L87.3 765.7 L86.7 766.5 L86.1 767.2 L85.6 767.7 L84.9 768.3 L84.1 768.8 L83.3 769.2 L82.5 769.5 L81.6 769.7 M81.7 769.0 L80.5 769.1 L79.3 769.0 L78.5 768.7 L77.7 768.3 L76.9 767.7 L76.4 767.3 L75.8 766.5 L75.3 765.8 L74.9 765.1 L74.5 764.3 L74.1 763.3 L73.9 762.5 L73.7 761.7 L73.5 760.5 L73.4 759.3 L73.4 758.1 L73.4 756.9 L73.5 755.7 L73.7 754.6 L73.9 753.7 L74.1 752.9 L74.5 751.7 L74.8 750.9 L75.1 750.1 L75.5 749.3 L75.9 748.5 L76.3 747.7 L76.7 746.9 L77.2 746.1 L77.7 745.3 L78.1 744.6 L78.5 743.9 L78.9 743.2 L79.3 742.4 L79.7 741.7 L80.1 740.9 L80.5 740.1 L81.0 739.3 L81.7 738.7 L82.5 739.2 L82.8 740.1 L83.1 740.9 L83.3 741.9 L83.6 742.9 L83.8 743.7 L84.1 744.5 L84.5 745.6 L84.9 746.5 L85.2 747.3 L85.6 748.1 L86.0 748.9 L86.3 749.7 L86.7 750.5 L87.0 751.3 L87.3 752.1 L87.7 753.2 L88.0 754.1 L88.2 754.9 L88.4 756.1 L88.5 756.9 L88.6 758.1 L88.7 759.3 L88.6 760.5 L88.5 761.3 L88.2 762.5 L87.9 763.3 L87.6 764.1 L87.2 764.9 L86.6 765.7 L86.1 766.4 L85.6 766.9 L84.9 767.5 L84.1 768.0 L83.3 768.5 L82.5 768.8 L81.7 769.0 M82.1 768.2 L80.9 768.4 L79.7 768.4 L78.8 768.1 L77.9 767.7 L77.3 767.3 L76.5 766.5 L76.1 766.0 L75.6 765.3 L75.2 764.5 L74.8 763.7 L74.5 762.9 L74.2 761.7 L74.0 760.9 L73.9 759.7 L73.8 758.5 L73.8 757.3 L73.9 756.1 L74.1 755.0 L74.3 754.1 L74.5 753.3 L74.9 752.1 L75.2 751.3 L75.5 750.5 L75.9 749.7 L76.3 748.9 L76.8 748.1 L77.3 747.3 L77.7 746.7 L78.2 746.1 L78.8 745.3 L79.3 744.7 L80.0 744.1 L80.6 743.7 L81.7 743.6 L82.3 744.1 L82.9 744.8 L83.3 745.5 L83.7 746.1 L84.1 746.9 L84.6 747.7 L85.0 748.5 L85.4 749.3 L85.8 750.1 L86.2 750.9 L86.6 751.7 L86.9 752.5 L87.3 753.6 L87.6 754.5 L87.8 755.3 L88.0 756.5 L88.1 757.3 L88.2 758.5 L88.2 759.7 L88.1 760.5 L87.9 761.7 L87.7 762.5 L87.3 763.5 L86.9 764.3 L86.5 764.9 L85.9 765.7 L85.3 766.4 L84.7 766.9 L84.1 767.3 L83.3 767.7 L82.4 768.1 M80.9 767.7 L80.1 767.7 L78.9 767.4 L78.1 767.0 L77.4 766.5 L76.9 766.1 L76.3 765.3 L75.7 764.5 L75.3 763.7 L75.0 762.9 L74.8 762.1 L74.5 761.0 L74.4 760.1 L74.3 758.9 L74.3 757.7 L74.3 756.5 L74.5 755.3 L74.7 754.5 L74.9 753.6 L75.3 752.5 L75.6 751.7 L75.9 750.9 L76.4 750.1 L76.8 749.3 L77.3 748.6 L77.7 748.0 L78.3 747.3 L78.9 746.7 L79.7 746.1 L80.5 745.7 L80.9 745.7 L82.1 746.1 L82.6 746.5 L83.3 747.3 L83.7 747.8 L84.2 748.5 L84.7 749.3 L85.1 750.1 L85.6 750.9 L86.0 751.7 L86.3 752.5 L86.7 753.3 L86.9 754.1 L87.3 755.3 L87.5 756.1 L87.7 757.3 L87.7 758.1 L87.7 759.3 L87.7 760.1 L87.5 761.3 L87.3 762.1 L86.9 763.1 L86.5 763.9 L86.1 764.5 L85.5 765.3 L84.9 765.9 L84.2 766.5 L83.5 766.9 L82.7 767.3 L81.7 767.6 L80.9 767.7 M81.3 767.0 L80.1 767.0 L79.3 766.8 L78.5 766.5 L77.7 766.0 L77.0 765.3 L76.5 764.7 L76.1 764.0 L75.7 763.2 L75.3 762.2 L75.1 761.3 L74.9 760.5 L74.7 759.3 L74.7 758.1 L74.8 756.9 L74.9 755.8 L75.1 754.9 L75.3 754.0 L75.7 752.9 L76.0 752.1 L76.4 751.3 L76.8 750.5 L77.3 749.8 L77.7 749.2 L78.4 748.5 L78.9 748.0 L79.7 747.5 L80.5 747.2 L81.3 747.3 L82.2 747.7 L82.9 748.3 L83.4 748.9 L84.1 749.7 L84.5 750.3 L84.9 751.0 L85.3 751.7 L85.7 752.5 L86.1 753.4 L86.5 754.4 L86.8 755.3 L87.0 756.1 L87.2 757.3 L87.2 758.5 L87.2 759.7 L87.0 760.9 L86.8 761.7 L86.5 762.6 L86.1 763.4 L85.7 764.1 L85.0 764.9 L84.5 765.4 L83.7 766.0 L82.9 766.5 L82.1 766.8 L81.3 767.0 M81.7 766.2 L80.5 766.3 L79.3 766.1 L78.5 765.7 L77.9 765.3 L77.3 764.7 L76.8 764.1 L76.3 763.3 L76.0 762.5 L75.7 761.7 L75.4 760.5 L75.3 759.7 L75.2 758.5 L75.2 757.3 L75.3 756.4 L75.5 755.3 L75.7 754.4 L76.1 753.3 L76.4 752.5 L76.8 751.7 L77.3 750.9 L77.7 750.4 L78.3 749.7 L78.9 749.2 L79.7 748.7 L80.9 748.5 L82.0 748.9 L82.6 749.3 L83.3 750.0 L83.7 750.5 L84.3 751.3 L84.8 752.1 L85.2 752.9 L85.6 753.7 L85.9 754.5 L86.2 755.3 L86.5 756.4 L86.6 757.3 L86.7 758.5 L86.7 759.7 L86.5 760.8 L86.2 761.7 L85.9 762.5 L85.5 763.3 L84.9 764.1 L84.5 764.5 L83.7 765.2 L82.9 765.7 L82.1 766.1 M81.7 765.4 L80.5 765.5 L79.3 765.3 L78.5 764.9 L78.0 764.5 L77.3 763.7 L76.9 763.1 L76.5 762.4 L76.1 761.3 L75.9 760.5 L75.7 759.3 L75.7 758.5 L75.7 757.3 L75.8 756.5 L76.0 755.3 L76.2 754.5 L76.5 753.7 L76.9 752.9 L77.3 752.1 L77.9 751.3 L78.5 750.7 L79.2 750.1 L80.1 749.7 L80.8 749.7 L81.7 749.9 L82.5 750.4 L83.0 750.9 L83.7 751.7 L84.1 752.2 L84.5 752.9 L85.0 753.7 L85.3 754.5 L85.7 755.6 L85.9 756.5 L86.1 757.4 L86.2 758.5 L86.1 759.7 L86.0 760.5 L85.7 761.5 L85.3 762.4 L84.9 763.0 L84.4 763.7 L83.7 764.4 L82.9 764.9 L82.1 765.3 M81.7 764.6 L80.5 764.7 L79.4 764.5 L78.7 764.1 L78.1 763.6 L77.5 762.9 L77.0 762.1 L76.7 761.3 L76.5 760.5 L76.3 759.3 L76.2 758.1 L76.3 756.9 L76.5 755.7 L76.7 754.9 L77.0 754.1 L77.4 753.3 L77.9 752.5 L78.5 751.8 L79.1 751.3 L80.0 750.9 L80.9 750.8 L81.7 751.1 L82.5 751.6 L83.0 752.1 L83.7 752.9 L84.1 753.5 L84.5 754.2 L84.9 755.1 L85.2 756.1 L85.4 756.9 L85.6 758.1 L85.5 759.3 L85.3 760.5 L85.1 761.3 L84.7 762.1 L84.2 762.9 L83.7 763.4 L82.9 764.0 L82.1 764.5 M81.7 763.7 L80.5 763.9 L79.7 763.7 L78.9 763.3 L78.1 762.5 L77.7 761.9 L77.3 761.1 L77.0 760.1 L76.8 759.3 L76.8 758.1 L76.9 756.9 L77.0 756.1 L77.3 755.1 L77.7 754.2 L78.1 753.5 L78.6 752.9 L79.3 752.3 L80.1 752.0 L81.3 752.1 L82.1 752.5 L82.6 752.9 L83.3 753.7 L83.7 754.3 L84.1 755.0 L84.5 756.0 L84.7 756.9 L84.9 758.1 L84.9 758.9 L84.8 759.7 L84.5 760.8 L84.1 761.7 L83.7 762.2 L83.1 762.9 L82.5 763.3 L81.7 763.7 M81.7 762.7 L80.5 762.9 L79.3 762.5 L78.8 762.1 L78.2 761.3 L77.8 760.5 L77.6 759.7 L77.4 758.5 L77.5 757.3 L77.7 756.2 L78.0 755.3 L78.5 754.5 L78.9 753.9 L79.7 753.3 L80.5 753.1 L81.4 753.3 L82.1 753.7 L82.8 754.5 L83.3 755.2 L83.7 756.1 L84.0 756.9 L84.1 757.7 L84.1 758.9 L84.0 759.7 L83.7 760.6 L83.3 761.3 L82.6 762.1 L82.1 762.5 M81.7 761.4 L80.5 761.7 L79.6 761.3 L78.9 760.6 L78.5 759.8 L78.3 758.9 L78.3 757.7 L78.5 756.5 L78.9 755.7 L79.3 755.1 L80.1 754.6 L81.3 754.7 L82.1 755.3 L82.5 755.8 L82.9 756.6 L83.2 757.7 L83.2 758.9 L82.9 760.0 L82.5 760.7 L81.8 761.3" fill="none" stroke="#5a5a5a" stroke-width="0.45" stroke-linejoin="round" clip-path="url(#q0)"/>
<circle cx="88" cy="707.5" r="0.5" fill="#666"/>
<circle cx="93.5" cy="713" r="0.5" fill="#666"/>
<circle cx="95.7" cy="716.3" r="0.5" fill="#666"/>
<circle cx="97.9" cy="719.6" r="0.5" fill="#666"/>
<circle cx="100" cy="711.9" r="0.5" fill="#666"/>
<circle cx="101.2" cy="718.5" r="0.5" fill="#666"/>
<circle cx="103.4" cy="728.3" r="0.5" fill="#666"/>
<circle cx="105.5" cy="729.4" r="0.5" fill="#666"/>
<circle cx="106.6" cy="736" r="0.5" fill="#666"/>
<circle cx="108.8" cy="740.4" r="0.5" fill="#666"/>
<circle cx="111" cy="743.6" r="0.5" fill="#666"/>
<circle cx="113.2" cy="749.1" r="0.5" fill="#666"/>
<circle cx="116.5" cy="744.7" r="0.5" fill="#666"/>
<circle cx="118.7" cy="752.4" r="0.5" fill="#666"/>
<circle cx="124.2" cy="733.8" r="0.5" fill="#666"/>
<circle cx="129.6" cy="748" r="0.5" fill="#666"/>
<circle cx="132.9" cy="747.4" r="0.5" fill="#666"/>
<circle cx="139.5" cy="725" r="0.5" fill="#666"/>
<circle cx="138.4" cy="756.8" r="0.5" fill="#666"/>
<circle cx="140.6" cy="757.9" r="0.5" fill="#666"/>
<circle cx="116.5" cy="766.6" r="0.5" fill="#666"/>
<circle cx="111" cy="779.8" r="0.5" fill="#666"/>
<circle cx="106.6" cy="773.2" r="0.5" fill="#666"/>
<circle cx="100" cy="777.6" r="0.5" fill="#666"/>
<circle cx="95.7" cy="782" r="0.5" fill="#666"/>
<circle cx="104.4" cy="755.7" r="0.5" fill="#666"/>
<circle cx="85" cy="716" r="0.5" fill="#666"/>
<circle cx="91" cy="722" r="0.5" fill="#666"/>
<circle cx="99" cy="760" r="0.5" fill="#666"/>
<circle cx="102" cy="765" r="0.5" fill="#666"/>
<circle cx="109" cy="752" r="0.5" fill="#666"/>
<circle cx="97" cy="790" r="0.5" fill="#666"/>
<circle cx="91" cy="792" r="0.5" fill="#666"/>
<rect x="32.5" y="678.9" width="143.8" height="147.9" fill="none" stroke="#b4b4b4" stroke-width="1.1"/>
<line x1="28.4" y1="817.7" x2="32" y2="817.7" stroke="#1a1a1a" stroke-width="1.1"/>
<line x1="28.4" y1="768.6" x2="32" y2="768.6" stroke="#1a1a1a" stroke-width="1.1"/>
<line x1="28.4" y1="727.7" x2="32" y2="727.7" stroke="#1a1a1a" stroke-width="1.1"/>
<line x1="28.4" y1="693.2" x2="32" y2="693.2" stroke="#1a1a1a" stroke-width="1.1"/>
<line x1="30.1" y1="756.29" x2="32" y2="756.29" stroke="#1a1a1a" stroke-width="0.8"/>
<line x1="30.1" y1="749.09" x2="32" y2="749.09" stroke="#1a1a1a" stroke-width="0.8"/>
<line x1="30.1" y1="743.98" x2="32" y2="743.98" stroke="#1a1a1a" stroke-width="0.8"/>
<line x1="30.1" y1="740.01" x2="32" y2="740.01" stroke="#1a1a1a" stroke-width="0.8"/>
<line x1="30.1" y1="736.77" x2="32" y2="736.77" stroke="#1a1a1a" stroke-width="0.8"/>
<line x1="30.1" y1="734.04" x2="32" y2="734.04" stroke="#1a1a1a" stroke-width="0.8"/>
<line x1="30.1" y1="731.66" x2="32" y2="731.66" stroke="#1a1a1a" stroke-width="0.8"/>
<line x1="30.1" y1="729.57" x2="32" y2="729.57" stroke="#1a1a1a" stroke-width="0.8"/>
<line x1="30.1" y1="717.31" x2="32" y2="717.31" stroke="#1a1a1a" stroke-width="0.8"/>
<line x1="30.1" y1="711.24" x2="32" y2="711.24" stroke="#1a1a1a" stroke-width="0.8"/>
<line x1="30.1" y1="706.93" x2="32" y2="706.93" stroke="#1a1a1a" stroke-width="0.8"/>
<line x1="30.1" y1="703.59" x2="32" y2="703.59" stroke="#1a1a1a" stroke-width="0.8"/>
<line x1="30.1" y1="700.85" x2="32" y2="700.85" stroke="#1a1a1a" stroke-width="0.8"/>
<line x1="30.1" y1="698.54" x2="32" y2="698.54" stroke="#1a1a1a" stroke-width="0.8"/>
<line x1="30.1" y1="696.54" x2="32" y2="696.54" stroke="#1a1a1a" stroke-width="0.8"/>
<line x1="30.1" y1="694.78" x2="32" y2="694.78" stroke="#1a1a1a" stroke-width="0.8"/>
<line x1="30.1" y1="682.81" x2="32" y2="682.81" stroke="#1a1a1a" stroke-width="0.8"/>
<line x1="30.1" y1="771.39" x2="32" y2="771.39" stroke="#1a1a1a" stroke-width="0.8"/>
<line x1="30.1" y1="774.18" x2="32" y2="774.18" stroke="#1a1a1a" stroke-width="0.8"/>
<line x1="30.1" y1="776.97" x2="32" y2="776.97" stroke="#1a1a1a" stroke-width="0.8"/>
<line x1="30.1" y1="779.76" x2="32" y2="779.76" stroke="#1a1a1a" stroke-width="0.8"/>
<line x1="30.1" y1="782.54" x2="32" y2="782.54" stroke="#1a1a1a" stroke-width="0.8"/>
<line x1="30.1" y1="785.33" x2="32" y2="785.33" stroke="#1a1a1a" stroke-width="0.8"/>
<line x1="30.1" y1="788.12" x2="32" y2="788.12" stroke="#1a1a1a" stroke-width="0.8"/>
<line x1="30.1" y1="815.03" x2="32" y2="815.03" stroke="#1a1a1a" stroke-width="0.8"/>
<line x1="30.1" y1="812.37" x2="32" y2="812.37" stroke="#1a1a1a" stroke-width="0.8"/>
<line x1="30.1" y1="809.7" x2="32" y2="809.7" stroke="#1a1a1a" stroke-width="0.8"/>
<line x1="30.1" y1="807.03" x2="32" y2="807.03" stroke="#1a1a1a" stroke-width="0.8"/>
<line x1="30.1" y1="804.37" x2="32" y2="804.37" stroke="#1a1a1a" stroke-width="0.8"/>
<line x1="30.1" y1="801.7" x2="32" y2="801.7" stroke="#1a1a1a" stroke-width="0.8"/>
<line x1="30.1" y1="799.03" x2="32" y2="799.03" stroke="#1a1a1a" stroke-width="0.8"/>
<line x1="28.4" y1="797.47" x2="32" y2="797.47" stroke="#1a1a1a" stroke-width="0.9"/>
<line x1="28.4" y1="796.71" x2="32" y2="796.71" stroke="#1a1a1a" stroke-width="0.9"/>
<line x1="28.4" y1="795.96" x2="32" y2="795.96" stroke="#1a1a1a" stroke-width="0.9"/>
<line x1="28.4" y1="795.21" x2="32" y2="795.21" stroke="#1a1a1a" stroke-width="0.9"/>
<line x1="28.4" y1="794.45" x2="32" y2="794.45" stroke="#1a1a1a" stroke-width="0.9"/>
<line x1="28.4" y1="793.7" x2="32" y2="793.7" stroke="#1a1a1a" stroke-width="0.9"/>
<line x1="28.4" y1="792.95" x2="32" y2="792.95" stroke="#1a1a1a" stroke-width="0.9"/>
<line x1="28.4" y1="792.19" x2="32" y2="792.19" stroke="#1a1a1a" stroke-width="0.9"/>
<line x1="28.4" y1="791.44" x2="32" y2="791.44" stroke="#1a1a1a" stroke-width="0.9"/>
<line x1="28.4" y1="790.69" x2="32" y2="790.69" stroke="#1a1a1a" stroke-width="0.9"/>
<line x1="28.4" y1="789.94" x2="32" y2="789.94" stroke="#1a1a1a" stroke-width="0.9"/>
<line x1="41" y1="827.3" x2="41" y2="830.9" stroke="#1a1a1a" stroke-width="1.1"/>
<line x1="88.7" y1="827.3" x2="88.7" y2="830.9" stroke="#1a1a1a" stroke-width="1.1"/>
<line x1="128.1" y1="827.3" x2="128.1" y2="830.9" stroke="#1a1a1a" stroke-width="1.1"/>
<line x1="164.7" y1="827.3" x2="164.7" y2="830.9" stroke="#1a1a1a" stroke-width="1.1"/>
<line x1="100.56" y1="827.3" x2="100.56" y2="829.2" stroke="#1a1a1a" stroke-width="0.8"/>
<line x1="107.5" y1="827.3" x2="107.5" y2="829.2" stroke="#1a1a1a" stroke-width="0.8"/>
<line x1="112.42" y1="827.3" x2="112.42" y2="829.2" stroke="#1a1a1a" stroke-width="0.8"/>
<line x1="116.24" y1="827.3" x2="116.24" y2="829.2" stroke="#1a1a1a" stroke-width="0.8"/>
<line x1="119.36" y1="827.3" x2="119.36" y2="829.2" stroke="#1a1a1a" stroke-width="0.8"/>
<line x1="122" y1="827.3" x2="122" y2="829.2" stroke="#1a1a1a" stroke-width="0.8"/>
<line x1="124.28" y1="827.3" x2="124.28" y2="829.2" stroke="#1a1a1a" stroke-width="0.8"/>
<line x1="126.3" y1="827.3" x2="126.3" y2="829.2" stroke="#1a1a1a" stroke-width="0.8"/>
<line x1="139.12" y1="827.3" x2="139.12" y2="829.2" stroke="#1a1a1a" stroke-width="0.8"/>
<line x1="145.56" y1="827.3" x2="145.56" y2="829.2" stroke="#1a1a1a" stroke-width="0.8"/>
<line x1="150.14" y1="827.3" x2="150.14" y2="829.2" stroke="#1a1a1a" stroke-width="0.8"/>
<line x1="153.68" y1="827.3" x2="153.68" y2="829.2" stroke="#1a1a1a" stroke-width="0.8"/>
<line x1="156.58" y1="827.3" x2="156.58" y2="829.2" stroke="#1a1a1a" stroke-width="0.8"/>
<line x1="159.03" y1="827.3" x2="159.03" y2="829.2" stroke="#1a1a1a" stroke-width="0.8"/>
<line x1="161.15" y1="827.3" x2="161.15" y2="829.2" stroke="#1a1a1a" stroke-width="0.8"/>
<line x1="163.03" y1="827.3" x2="163.03" y2="829.2" stroke="#1a1a1a" stroke-width="0.8"/>
<line x1="86.07" y1="827.3" x2="86.07" y2="829.2" stroke="#1a1a1a" stroke-width="0.8"/>
<line x1="83.43" y1="827.3" x2="83.43" y2="829.2" stroke="#1a1a1a" stroke-width="0.8"/>
<line x1="80.8" y1="827.3" x2="80.8" y2="829.2" stroke="#1a1a1a" stroke-width="0.8"/>
<line x1="78.17" y1="827.3" x2="78.17" y2="829.2" stroke="#1a1a1a" stroke-width="0.8"/>
<line x1="75.53" y1="827.3" x2="75.53" y2="829.2" stroke="#1a1a1a" stroke-width="0.8"/>
<line x1="72.9" y1="827.3" x2="72.9" y2="829.2" stroke="#1a1a1a" stroke-width="0.8"/>
<line x1="70.27" y1="827.3" x2="70.27" y2="829.2" stroke="#1a1a1a" stroke-width="0.8"/>
<line x1="43.67" y1="827.3" x2="43.67" y2="829.2" stroke="#1a1a1a" stroke-width="0.8"/>
<line x1="46.33" y1="827.3" x2="46.33" y2="829.2" stroke="#1a1a1a" stroke-width="0.8"/>
<line x1="49" y1="827.3" x2="49" y2="829.2" stroke="#1a1a1a" stroke-width="0.8"/>
<line x1="51.67" y1="827.3" x2="51.67" y2="829.2" stroke="#1a1a1a" stroke-width="0.8"/>
<line x1="54.33" y1="827.3" x2="54.33" y2="829.2" stroke="#1a1a1a" stroke-width="0.8"/>
<line x1="57" y1="827.3" x2="57" y2="829.2" stroke="#1a1a1a" stroke-width="0.8"/>
<line x1="59.67" y1="827.3" x2="59.67" y2="829.2" stroke="#1a1a1a" stroke-width="0.8"/>
<line x1="61.45" y1="827.3" x2="61.45" y2="830.9" stroke="#1a1a1a" stroke-width="0.9"/>
<line x1="62.16" y1="827.3" x2="62.16" y2="830.9" stroke="#1a1a1a" stroke-width="0.9"/>
<line x1="62.87" y1="827.3" x2="62.87" y2="830.9" stroke="#1a1a1a" stroke-width="0.9"/>
<line x1="63.58" y1="827.3" x2="63.58" y2="830.9" stroke="#1a1a1a" stroke-width="0.9"/>
<line x1="64.29" y1="827.3" x2="64.29" y2="830.9" stroke="#1a1a1a" stroke-width="0.9"/>
<line x1="65" y1="827.3" x2="65" y2="830.9" stroke="#1a1a1a" stroke-width="0.9"/>
<line x1="65.71" y1="827.3" x2="65.71" y2="830.9" stroke="#1a1a1a" stroke-width="0.9"/>
<line x1="66.42" y1="827.3" x2="66.42" y2="830.9" stroke="#1a1a1a" stroke-width="0.9"/>
<line x1="67.13" y1="827.3" x2="67.13" y2="830.9" stroke="#1a1a1a" stroke-width="0.9"/>
<line x1="67.84" y1="827.3" x2="67.84" y2="830.9" stroke="#1a1a1a" stroke-width="0.9"/>
<line x1="68.56" y1="827.3" x2="68.56" y2="830.9" stroke="#1a1a1a" stroke-width="0.9"/>
<text x="16.51" y="696" font-size="6.2" fill="#3a3a3a" textLength="6.01" lengthAdjust="spacingAndGlyphs">10</text>
<text x="22.44" y="692.6" font-size="5.2" fill="#3a3a3a" textLength="3.7" lengthAdjust="spacingAndGlyphs">5</text>
<text x="16.51" y="730.5" font-size="6.2" fill="#3a3a3a" textLength="6.01" lengthAdjust="spacingAndGlyphs">10</text>
<text x="22.58" y="727.1" font-size="5.2" fill="#3a3a3a" textLength="3.49" lengthAdjust="spacingAndGlyphs">4</text>
<text x="16.51" y="771.4" font-size="6.2" fill="#3a3a3a" textLength="6.01" lengthAdjust="spacingAndGlyphs">10</text>
<text x="22.44" y="768" font-size="5.2" fill="#3a3a3a" textLength="3.78" lengthAdjust="spacingAndGlyphs">3</text>
<text x="20.72" y="795.9" font-size="6" fill="#3a3a3a" textLength="2.34" lengthAdjust="spacingAndGlyphs">0</text>
<text x="13.2" y="820.5" font-size="6.2" fill="#3a3a3a" textLength="3.62" lengthAdjust="spacingAndGlyphs">−</text>
<text x="16.51" y="820.5" font-size="6.2" fill="#3a3a3a" textLength="6.01" lengthAdjust="spacingAndGlyphs">10</text>
<text x="22.44" y="817.1" font-size="5.2" fill="#3a3a3a" textLength="3.78" lengthAdjust="spacingAndGlyphs">3</text>
<text x="88.4" y="838.8" font-size="6.2" fill="#3a3a3a" textLength="6.12" lengthAdjust="spacingAndGlyphs">10</text>
<text x="94.46" y="835.3" font-size="5.2" fill="#3a3a3a" textLength="3.54" lengthAdjust="spacingAndGlyphs">3</text>
<text x="127.8" y="838.8" font-size="6.2" fill="#3a3a3a" textLength="6.12" lengthAdjust="spacingAndGlyphs">10</text>
<text x="133.99" y="835.3" font-size="5.2" fill="#3a3a3a" textLength="3.27" lengthAdjust="spacingAndGlyphs">4</text>
<text x="164.4" y="838.8" font-size="6.2" fill="#3a3a3a" textLength="6.12" lengthAdjust="spacingAndGlyphs">10</text>
<text x="170.46" y="835.3" font-size="5.2" fill="#3a3a3a" textLength="3.47" lengthAdjust="spacingAndGlyphs">5</text>
<text x="66.02" y="838.6" font-size="6" fill="#3a3a3a" textLength="2.34" lengthAdjust="spacingAndGlyphs">0</text>
<text x="38.12" y="838.8" font-size="6.2" fill="#3a3a3a" textLength="3.38" lengthAdjust="spacingAndGlyphs">−</text>
<text x="41.1" y="838.8" font-size="6.2" fill="#3a3a3a" textLength="6.12" lengthAdjust="spacingAndGlyphs">10</text>
<text x="47.16" y="835.3" font-size="5.2" fill="#3a3a3a" textLength="3.54" lengthAdjust="spacingAndGlyphs">3</text>
<line x1="96.3" y1="678.9" x2="96.3" y2="826.8" stroke="#444" stroke-width="1.4"/>
<line x1="32.5" y1="755.8" x2="176.3" y2="755.8" stroke="#444" stroke-width="1.4"/>
<text x="38.61" y="693.1" font-size="9.2" fill="#222" textLength="24.91" lengthAdjust="spacingAndGlyphs">42.2%</text>
<text x="149.28" y="693.1" font-size="9.2" fill="#222" textLength="20.03" lengthAdjust="spacingAndGlyphs">5.6%</text>
<text x="38.61" y="821.6" font-size="9.2" fill="#222" textLength="24.91" lengthAdjust="spacingAndGlyphs">48.8%</text>
<text x="149.28" y="821.6" font-size="9.2" fill="#222" textLength="20.03" lengthAdjust="spacingAndGlyphs">3.3%</text>
<text x="76.34" y="672.3" font-size="11" font-weight="bold" fill="#111" textLength="34.3" lengthAdjust="spacingAndGlyphs">CD11c</text>
<text x="110.05" y="667.2" font-size="8" font-weight="bold" fill="#111" textLength="4.67" lengthAdjust="spacingAndGlyphs">+</text>
<text x="117.02" y="672.3" font-size="11" font-weight="bold" fill="#111" textLength="20.09" lengthAdjust="spacingAndGlyphs">Mφ</text>
<clipPath id="q180"><rect x="212.5" y="678.9" width="143.8" height="147.9"/></clipPath>
<path d="M262.1 800.2 L260.9 800.4 L259.7 800.5 L258.5 800.5 L257.3 800.3 L256.3 800.1 L255.3 799.8 L254.5 799.5 L253.7 799.2 L252.9 798.8 L252.1 798.3 L251.3 797.8 L250.6 797.3 L250.1 796.9 L249.3 796.3 L248.7 795.7 L248.1 795.1 L247.5 794.5 L246.9 793.8 L246.5 793.3 L245.9 792.5 L245.3 791.7 L244.9 791.1 L244.5 790.5 L244.0 789.7 L243.6 788.9 L243.2 788.1 L242.8 787.3 L242.4 786.5 L242.1 785.7 L241.7 784.6 L241.4 783.7 L241.2 782.9 L240.9 782.0 L240.6 780.9 L240.5 780.1 L240.3 778.9 L240.1 777.8 L240.0 776.9 L239.9 775.7 L239.8 774.5 L239.8 773.3 L239.8 772.1 L239.8 770.9 L239.8 769.7 L239.8 768.5 L239.9 767.3 L239.9 766.1 L240.0 764.9 L240.1 763.7 L240.1 762.6 L240.1 761.7 L240.2 760.5 L240.3 759.3 L240.4 758.1 L240.5 757.1 L240.6 756.1 L240.8 754.9 L240.9 754.1 L241.2 752.9 L241.3 752.1 L241.6 750.9 L241.8 750.1 L242.1 749.2 L242.5 748.1 L242.7 747.3 L243.0 746.5 L243.3 745.5 L243.6 744.5 L243.7 743.7 L243.9 742.5 L244.0 741.3 L244.0 740.1 L244.1 739.1 L244.2 738.1 L244.4 736.9 L244.6 736.1 L244.9 735.0 L245.3 734.1 L245.7 733.3 L246.1 732.6 L246.5 732.0 L247.1 731.3 L247.7 730.6 L248.2 730.1 L248.9 729.5 L249.7 729.0 L250.5 728.5 L251.2 728.1 L252.1 727.7 L252.9 727.4 L253.7 727.1 L254.6 726.9 L255.7 726.7 L256.9 726.6 L258.1 726.5 L259.3 726.6 L260.5 726.7 L261.4 726.9 L262.5 727.2 L263.3 727.4 L264.1 727.8 L264.9 728.2 L265.7 728.6 L266.5 729.1 L267.3 729.7 L267.7 730.1 L268.5 730.8 L268.9 731.3 L269.5 732.1 L270.1 732.9 L270.5 733.7 L270.9 734.5 L271.2 735.3 L271.4 736.1 L271.7 737.2 L271.9 738.1 L272.2 738.9 L272.6 739.7 L273.1 740.5 L273.7 741.1 L274.5 741.6 L275.3 742.0 L276.1 742.2 L276.9 742.5 L278.1 742.8 L278.9 743.0 L280.1 743.2 L280.9 743.4 L282.1 743.6 L282.9 743.8 L284.1 744.0 L284.9 744.2 L286.0 744.5 L286.9 744.7 L287.7 744.9 L288.9 745.3 L289.7 745.5 L290.6 745.7 L291.7 745.9 L292.5 746.1 L293.7 746.4 L294.5 746.5 L295.7 746.7 L296.7 746.9 L297.7 747.1 L298.7 747.3 L299.7 747.5 L300.5 747.7 L301.7 748.0 L302.5 748.3 L303.3 748.5 L304.3 748.9 L305.3 749.3 L306.1 749.7 L306.9 750.1 L307.5 750.5 L308.1 750.9 L308.9 751.5 L309.6 752.1 L310.1 752.7 L310.6 753.3 L311.1 754.1 L311.5 754.9 L311.8 755.7 L312.0 756.9 L312.1 758.1 L311.9 759.3 L311.7 760.1 L311.3 761.2 L310.9 762.1 L310.6 762.9 L310.3 763.7 L309.9 764.5 L309.6 765.3 L309.3 766.3 L309.0 767.3 L308.8 768.1 L308.5 769.1 L308.2 770.1 L307.9 770.9 L307.7 771.7 L307.3 772.6 L306.9 773.5 L306.5 774.3 L306.1 775.0 L305.7 775.7 L305.1 776.5 L304.5 777.3 L304.1 777.8 L303.5 778.5 L302.9 779.1 L302.2 779.7 L301.7 780.2 L300.9 780.8 L300.2 781.3 L299.6 781.7 L298.9 782.2 L298.1 782.6 L297.3 783.0 L296.5 783.4 L295.7 783.7 L294.6 784.1 L293.7 784.4 L292.9 784.6 L291.7 784.8 L290.9 784.9 L289.7 785.1 L288.5 785.1 L287.3 785.1 L286.1 785.0 L285.1 784.9 L284.1 784.7 L283.2 784.5 L282.1 784.2 L281.3 783.9 L280.5 783.6 L279.7 783.2 L278.9 782.8 L278.1 782.4 L277.3 782.0 L276.5 781.6 L275.7 781.2 L274.5 780.9 L273.7 781.4 L273.3 782.2 L273.0 783.3 L272.8 784.1 L272.6 785.3 L272.4 786.1 L272.2 787.3 L272.0 788.1 L271.7 789.3 L271.5 790.1 L271.2 790.9 L270.9 791.7 L270.5 792.6 L270.1 793.4 L269.7 794.1 L269.2 794.9 L268.7 795.7 L268.1 796.4 L267.6 796.9 L266.9 797.6 L266.3 798.1 L265.7 798.5 L264.9 799.0 L264.1 799.5 L263.3 799.8 L262.3 800.1 M260.9 797.7 L259.7 797.9 L258.5 797.9 L257.3 797.8 L256.5 797.6 L255.5 797.3 L254.5 796.9 L253.7 796.6 L252.9 796.2 L252.2 795.7 L251.6 795.3 L250.9 794.8 L250.1 794.1 L249.6 793.7 L248.9 793.0 L248.4 792.5 L247.8 791.7 L247.3 791.1 L246.8 790.5 L246.3 789.7 L245.8 788.9 L245.3 788.1 L244.9 787.3 L244.5 786.5 L244.1 785.7 L243.8 784.9 L243.5 784.1 L243.2 783.3 L242.9 782.2 L242.7 781.3 L242.5 780.5 L242.2 779.3 L242.1 778.3 L242.0 777.3 L241.9 776.1 L241.8 774.9 L241.8 773.7 L241.8 772.5 L241.8 771.3 L241.9 770.1 L242.0 768.9 L242.1 768.1 L242.2 766.9 L242.4 765.7 L242.5 764.5 L242.6 763.7 L242.7 762.5 L242.8 761.3 L242.9 760.2 L243.0 759.3 L243.2 758.1 L243.3 757.1 L243.5 756.1 L243.7 754.9 L243.9 754.1 L244.1 753.2 L244.4 752.1 L244.6 751.3 L244.9 750.4 L245.3 749.3 L245.6 748.5 L245.9 747.7 L246.2 746.9 L246.5 745.9 L246.8 744.9 L246.9 744.1 L247.1 742.9 L247.1 741.7 L247.1 740.5 L247.2 739.3 L247.3 738.1 L247.4 737.3 L247.7 736.3 L248.1 735.3 L248.4 734.5 L248.9 733.8 L249.3 733.2 L249.9 732.5 L250.5 731.9 L251.3 731.3 L251.9 730.9 L252.6 730.5 L253.5 730.1 L254.5 729.7 L255.3 729.5 L256.5 729.3 L257.3 729.2 L258.5 729.2 L259.5 729.3 L260.5 729.5 L261.4 729.7 L262.5 730.1 L263.3 730.5 L264.1 730.9 L264.7 731.3 L265.3 731.8 L266.1 732.5 L266.5 733.0 L267.0 733.7 L267.5 734.5 L267.9 735.3 L268.2 736.1 L268.5 737.1 L268.7 738.1 L268.9 739.0 L269.2 740.1 L269.4 740.9 L269.9 741.7 L270.5 742.5 L271.0 742.9 L271.7 743.3 L272.5 743.8 L273.3 744.1 L274.5 744.5 L275.3 744.7 L276.1 744.9 L277.3 745.3 L278.1 745.5 L279.0 745.7 L280.1 746.0 L280.9 746.3 L281.7 746.5 L282.7 746.9 L283.7 747.3 L284.5 747.6 L285.3 748.0 L286.1 748.3 L286.9 748.5 L288.1 748.8 L288.9 748.9 L290.1 749.1 L291.3 749.2 L292.5 749.2 L293.4 749.3 L294.5 749.4 L295.7 749.5 L296.9 749.6 L297.7 749.7 L298.9 750.0 L299.7 750.1 L300.9 750.5 L301.7 750.7 L302.5 751.0 L303.3 751.3 L304.1 751.7 L304.9 752.2 L305.7 752.8 L306.3 753.3 L306.9 753.9 L307.4 754.5 L307.9 755.3 L308.2 756.1 L308.5 757.3 L308.5 758.1 L308.5 759.0 L308.3 760.1 L308.1 761.0 L307.8 762.1 L307.5 762.9 L307.3 763.8 L307.0 764.9 L306.8 765.7 L306.6 766.9 L306.4 767.7 L306.1 768.8 L305.9 769.7 L305.6 770.5 L305.3 771.4 L304.9 772.4 L304.5 773.3 L304.1 774.0 L303.7 774.7 L303.3 775.3 L302.7 776.1 L302.1 776.8 L301.6 777.3 L300.9 778.0 L300.4 778.5 L299.7 779.0 L298.9 779.6 L298.2 780.1 L297.5 780.5 L296.8 780.9 L296.0 781.3 L295.0 781.7 L294.1 782.0 L293.3 782.3 L292.4 782.5 L291.3 782.7 L290.1 782.9 L289.3 782.9 L288.1 783.0 L286.9 782.9 L286.1 782.8 L284.9 782.6 L284.1 782.4 L283.0 782.1 L282.1 781.8 L281.3 781.4 L280.5 781.0 L279.7 780.5 L279.1 780.1 L278.5 779.7 L277.7 779.0 L277.2 778.5 L276.5 777.8 L276.1 777.3 L275.5 776.5 L274.9 775.7 L274.5 774.9 L274.1 774.1 L273.8 773.3 L273.5 772.5 L273.3 771.4 L273.2 770.5 L273.1 769.3 L273.1 768.1 L273.3 767.1 L273.5 766.1 L273.8 765.3 L274.1 764.5 L274.5 763.7 L275.0 762.9 L275.5 762.1 L276.1 761.3 L276.5 760.8 L277.1 760.1 L277.7 759.3 L278.1 758.8 L278.6 758.1 L279.2 757.3 L279.7 756.5 L280.0 755.7 L280.1 754.9 L279.7 754.2 L278.9 753.9 L277.7 753.8 L276.5 753.9 L275.4 754.1 L274.5 754.4 L273.7 754.8 L272.9 755.3 L272.4 755.7 L271.8 756.5 L271.4 757.3 L271.1 758.1 L270.9 758.9 L270.7 760.1 L270.6 761.3 L270.5 762.1 L270.3 763.3 L270.1 764.5 L270.0 765.3 L269.8 766.5 L269.7 767.3 L269.6 768.5 L269.6 769.7 L269.7 770.8 L269.8 771.7 L270.0 772.9 L270.1 773.7 L270.3 774.9 L270.4 776.1 L270.5 776.9 L270.6 778.1 L270.6 779.3 L270.7 780.5 L270.7 781.7 L270.6 782.9 L270.5 784.1 L270.4 784.9 L270.2 786.1 L270.1 786.9 L269.8 788.1 L269.6 788.9 L269.3 789.7 L268.9 790.7 L268.5 791.5 L268.1 792.3 L267.7 792.9 L267.1 793.7 L266.5 794.5 L266.1 794.9 L265.3 795.6 L264.7 796.1 L264.0 796.5 L263.3 796.9 L262.4 797.3 L261.3 797.6 M260.1 796.2 L258.9 796.3 L257.7 796.2 L256.9 796.1 L255.7 795.8 L254.9 795.5 L254.1 795.2 L253.3 794.7 L252.5 794.3 L251.7 793.7 L251.2 793.3 L250.5 792.7 L249.8 792.1 L249.3 791.5 L248.7 790.9 L248.1 790.1 L247.7 789.6 L247.2 788.9 L246.7 788.1 L246.3 787.3 L245.8 786.5 L245.4 785.7 L245.1 784.9 L244.8 784.1 L244.5 783.3 L244.1 782.1 L243.9 781.3 L243.7 780.5 L243.5 779.3 L243.3 778.3 L243.2 777.3 L243.1 776.1 L243.0 774.9 L243.0 773.7 L243.1 772.5 L243.2 771.3 L243.3 770.1 L243.4 769.3 L243.6 768.1 L243.7 767.1 L243.9 766.1 L244.0 764.9 L244.2 764.1 L244.3 762.9 L244.5 761.7 L244.6 760.9 L244.8 759.7 L244.9 758.7 L245.1 757.7 L245.3 756.5 L245.5 755.7 L245.7 754.7 L246.0 753.7 L246.2 752.9 L246.5 752.0 L246.9 750.9 L247.2 750.1 L247.5 749.3 L247.9 748.5 L248.2 747.7 L248.5 746.9 L248.9 745.8 L249.2 744.9 L249.3 744.1 L249.4 742.9 L249.4 741.7 L249.4 740.5 L249.4 739.3 L249.5 738.1 L249.7 737.2 L250.1 736.1 L250.5 735.3 L250.9 734.6 L251.3 734.1 L252.1 733.3 L252.6 732.9 L253.3 732.4 L254.1 732.0 L254.9 731.7 L256.1 731.3 L256.9 731.2 L258.1 731.1 L259.3 731.2 L260.1 731.4 L261.2 731.7 L262.1 732.1 L262.8 732.5 L263.4 732.9 L264.1 733.5 L264.7 734.1 L265.2 734.9 L265.7 735.7 L266.0 736.5 L266.3 737.3 L266.5 738.4 L266.7 739.3 L266.8 740.5 L267.0 741.3 L267.3 742.1 L267.8 742.9 L268.4 743.7 L268.9 744.1 L269.7 744.7 L270.5 745.1 L271.3 745.5 L272.1 745.9 L272.9 746.2 L273.7 746.6 L274.5 746.9 L275.5 747.3 L276.2 747.7 L276.9 748.1 L277.6 748.9 L277.3 750.0 L276.7 750.5 L276.0 750.9 L275.1 751.3 L274.3 751.7 L273.5 752.1 L272.7 752.5 L272.1 752.9 L271.3 753.5 L270.6 754.1 L270.1 754.7 L269.7 755.3 L269.3 756.1 L268.9 757.3 L268.7 758.1 L268.5 759.3 L268.4 760.1 L268.2 761.3 L268.1 762.1 L267.9 763.3 L267.7 764.2 L267.5 765.3 L267.4 766.5 L267.4 767.7 L267.4 768.9 L267.6 770.1 L267.7 770.9 L267.9 772.1 L268.1 772.9 L268.4 774.1 L268.6 774.9 L268.8 776.1 L268.9 776.9 L269.1 778.1 L269.2 779.3 L269.3 780.5 L269.3 781.3 L269.3 782.2 L269.3 783.3 L269.1 784.5 L269.0 785.7 L268.8 786.5 L268.5 787.7 L268.3 788.5 L268.0 789.3 L267.6 790.1 L267.2 790.9 L266.7 791.7 L266.1 792.5 L265.7 793.0 L265.1 793.7 L264.5 794.2 L263.7 794.8 L262.9 795.2 L262.1 795.6 L261.3 795.9 L260.4 796.1 M291.3 781.4 L290.1 781.5 L288.9 781.6 L287.7 781.6 L286.5 781.5 L285.5 781.3 L284.5 781.1 L283.7 780.8 L282.9 780.5 L282.0 780.1 L281.3 779.7 L280.5 779.2 L279.7 778.6 L279.1 778.1 L278.5 777.5 L277.9 776.9 L277.3 776.1 L276.9 775.5 L276.5 774.7 L276.1 773.9 L275.8 772.9 L275.5 772.1 L275.3 770.9 L275.3 770.1 L275.3 768.9 L275.3 768.1 L275.6 766.9 L275.8 766.1 L276.1 765.2 L276.5 764.3 L276.9 763.5 L277.3 762.8 L277.8 762.1 L278.3 761.3 L278.9 760.6 L279.3 760.1 L280.0 759.3 L280.5 758.7 L281.1 758.1 L281.7 757.4 L282.2 756.9 L282.9 756.2 L283.4 755.7 L284.1 755.0 L284.6 754.5 L285.3 753.9 L286.1 753.3 L286.8 752.9 L287.6 752.5 L288.5 752.1 L289.3 751.9 L290.2 751.7 L291.3 751.5 L292.5 751.4 L293.7 751.3 L294.9 751.3 L296.1 751.4 L297.3 751.5 L298.5 751.7 L299.3 751.9 L300.1 752.1 L301.2 752.5 L302.1 752.9 L302.9 753.3 L303.5 753.7 L304.1 754.2 L304.8 754.9 L305.3 755.6 L305.7 756.3 L306.0 757.3 L306.2 758.1 L306.2 759.3 L306.1 760.3 L306.0 761.3 L305.7 762.5 L305.6 763.3 L305.4 764.5 L305.2 765.3 L305.0 766.5 L304.9 767.3 L304.6 768.5 L304.4 769.3 L304.1 770.5 L303.8 771.3 L303.5 772.1 L303.1 772.9 L302.6 773.7 L302.1 774.5 L301.7 775.1 L301.2 775.7 L300.5 776.5 L300.1 776.9 L299.3 777.6 L298.7 778.1 L298.1 778.5 L297.3 779.1 L296.5 779.5 L295.7 779.9 L294.9 780.3 L294.1 780.6 L293.2 780.9 L292.1 781.2 L291.3 781.4 M259.7 794.9 L258.5 795.0 L257.3 794.9 L256.5 794.8 L255.5 794.5 L254.5 794.1 L253.7 793.7 L253.0 793.3 L252.4 792.9 L251.7 792.4 L250.9 791.7 L250.4 791.3 L249.7 790.5 L249.3 790.1 L248.7 789.3 L248.1 788.5 L247.7 787.9 L247.3 787.3 L246.9 786.5 L246.4 785.7 L246.1 784.9 L245.7 784.0 L245.3 782.9 L245.0 782.1 L244.8 781.3 L244.5 780.1 L244.4 779.3 L244.2 778.1 L244.1 777.3 L244.0 776.1 L244.0 774.9 L244.0 773.7 L244.1 772.5 L244.1 771.7 L244.3 770.5 L244.5 769.3 L244.6 768.5 L244.8 767.3 L245.0 766.5 L245.2 765.3 L245.4 764.5 L245.6 763.3 L245.7 762.5 L245.9 761.3 L246.1 760.3 L246.3 759.3 L246.5 758.1 L246.7 757.3 L246.9 756.3 L247.1 755.3 L247.4 754.5 L247.7 753.5 L248.1 752.5 L248.4 751.7 L248.7 750.9 L249.1 750.1 L249.4 749.3 L249.8 748.5 L250.2 747.7 L250.6 746.9 L250.9 746.1 L251.3 744.9 L251.4 744.1 L251.5 742.9 L251.5 741.7 L251.4 740.5 L251.4 739.3 L251.5 738.1 L251.7 737.3 L252.1 736.4 L252.5 735.7 L253.1 734.9 L253.7 734.4 L254.5 733.8 L255.3 733.4 L256.1 733.2 L257.3 732.9 L258.5 732.9 L259.7 733.1 L260.5 733.4 L261.3 733.7 L262.1 734.3 L262.8 734.9 L263.3 735.5 L263.7 736.1 L264.1 736.9 L264.4 738.1 L264.6 738.9 L264.7 740.1 L264.8 741.3 L265.0 742.1 L265.3 743.0 L265.7 743.7 L266.3 744.5 L266.9 745.1 L267.7 745.7 L268.2 746.1 L268.9 746.6 L269.7 747.1 L270.4 747.7 L270.9 748.2 L271.4 748.9 L271.3 750.0 L270.9 750.6 L270.3 751.3 L269.7 752.0 L269.3 752.5 L268.7 753.3 L268.2 754.1 L267.8 754.9 L267.5 755.7 L267.3 756.5 L267.1 757.7 L266.9 758.9 L266.8 759.7 L266.6 760.9 L266.5 761.8 L266.3 762.9 L266.1 764.1 L266.0 764.9 L265.9 766.1 L265.9 767.3 L266.0 768.5 L266.1 769.3 L266.4 770.5 L266.6 771.3 L266.9 772.5 L267.1 773.3 L267.3 774.2 L267.6 775.3 L267.7 776.1 L268.0 777.3 L268.1 778.2 L268.2 779.3 L268.3 780.5 L268.3 781.7 L268.3 782.9 L268.2 784.1 L268.1 784.9 L267.9 786.1 L267.7 786.9 L267.3 788.1 L267.0 788.9 L266.6 789.7 L266.1 790.5 L265.7 791.2 L265.3 791.7 L264.6 792.5 L264.1 792.9 L263.3 793.6 L262.5 794.0 L261.7 794.4 L260.9 794.7 L260.0 794.9 M289.7 780.5 L288.5 780.5 L287.5 780.5 L286.5 780.4 L285.3 780.1 L284.5 779.9 L283.7 779.6 L282.9 779.3 L282.1 778.9 L281.3 778.4 L280.5 777.8 L279.9 777.3 L279.3 776.6 L278.8 776.1 L278.3 775.3 L277.8 774.5 L277.4 773.7 L277.1 772.9 L276.9 772.1 L276.6 770.9 L276.6 769.7 L276.6 768.5 L276.8 767.3 L277.0 766.5 L277.3 765.6 L277.7 764.6 L278.1 763.8 L278.5 763.2 L278.9 762.5 L279.5 761.7 L280.1 761.0 L280.5 760.5 L281.2 759.7 L281.7 759.2 L282.5 758.5 L282.9 758.1 L283.7 757.4 L284.3 756.9 L284.9 756.4 L285.7 755.8 L286.5 755.3 L287.1 754.9 L287.9 754.5 L288.7 754.1 L289.7 753.7 L290.5 753.4 L291.3 753.2 L292.5 753.0 L293.3 752.9 L294.5 752.8 L295.7 752.8 L296.6 752.9 L297.7 753.1 L298.8 753.3 L299.7 753.6 L300.5 753.9 L301.3 754.3 L302.1 754.8 L302.6 755.3 L303.3 756.0 L303.7 756.6 L304.1 757.6 L304.3 758.5 L304.4 759.7 L304.4 760.9 L304.3 762.1 L304.2 763.3 L304.1 764.1 L303.9 765.3 L303.8 766.5 L303.7 767.3 L303.5 768.5 L303.3 769.3 L302.9 770.5 L302.6 771.3 L302.3 772.1 L301.8 772.9 L301.4 773.7 L300.9 774.4 L300.5 774.9 L299.8 775.7 L299.3 776.2 L298.5 776.9 L298.0 777.3 L297.3 777.8 L296.5 778.4 L295.7 778.8 L294.9 779.2 L294.1 779.5 L293.3 779.8 L292.2 780.1 L291.3 780.3 L290.1 780.5 M260.5 793.7 L259.3 794.0 L258.1 794.0 L256.9 793.9 L256.1 793.7 L255.0 793.3 L254.1 792.9 L253.4 792.5 L252.7 792.1 L252.1 791.6 L251.3 791.0 L250.8 790.5 L250.1 789.8 L249.7 789.3 L249.0 788.5 L248.5 787.8 L248.1 787.1 L247.7 786.5 L247.3 785.7 L246.9 784.9 L246.5 784.0 L246.1 783.0 L245.8 782.1 L245.6 781.3 L245.3 780.2 L245.1 779.3 L244.9 778.1 L244.9 777.3 L244.8 776.1 L244.8 774.9 L244.8 773.7 L244.9 772.5 L245.0 771.7 L245.2 770.5 L245.3 769.7 L245.5 768.5 L245.7 767.7 L246.0 766.5 L246.2 765.7 L246.5 764.5 L246.7 763.7 L246.9 762.6 L247.1 761.7 L247.3 760.6 L247.5 759.7 L247.7 758.7 L247.9 757.7 L248.1 756.9 L248.5 755.7 L248.7 754.9 L249.0 754.1 L249.3 753.3 L249.7 752.3 L250.1 751.5 L250.5 750.7 L250.9 749.9 L251.3 749.2 L251.7 748.5 L252.2 747.7 L252.6 746.9 L253.0 746.1 L253.4 745.3 L253.7 744.1 L253.7 743.3 L253.7 742.4 L253.6 741.3 L253.5 740.1 L253.5 738.9 L253.7 737.9 L254.1 737.0 L254.5 736.4 L255.2 735.7 L255.9 735.3 L256.9 734.9 L257.7 734.8 L258.9 734.9 L259.7 735.1 L260.5 735.6 L261.2 736.1 L261.7 736.7 L262.1 737.5 L262.4 738.5 L262.5 739.3 L262.6 740.5 L262.6 741.7 L262.8 742.9 L263.1 743.7 L263.6 744.5 L264.1 745.1 L264.6 745.7 L265.3 746.3 L265.9 746.9 L266.5 747.4 L267.1 748.1 L267.6 748.9 L267.8 749.7 L267.7 750.5 L267.3 751.6 L266.9 752.5 L266.6 753.3 L266.3 754.1 L266.1 754.9 L265.8 756.1 L265.7 756.9 L265.6 758.1 L265.4 759.3 L265.3 760.5 L265.2 761.3 L265.0 762.5 L264.9 763.3 L264.8 764.5 L264.7 765.7 L264.7 766.9 L264.9 768.1 L265.0 768.9 L265.3 770.1 L265.5 770.9 L265.7 771.7 L266.1 772.9 L266.3 773.7 L266.5 774.5 L266.8 775.7 L267.0 776.5 L267.2 777.7 L267.3 778.5 L267.5 779.7 L267.5 780.9 L267.6 782.1 L267.5 783.3 L267.3 784.5 L267.2 785.3 L266.9 786.5 L266.7 787.3 L266.4 788.1 L266.0 788.9 L265.5 789.7 L265.0 790.5 L264.5 791.1 L264.0 791.7 L263.3 792.3 L262.5 792.9 L261.7 793.3 L260.9 793.6 M291.7 779.3 L290.5 779.6 L289.3 779.7 L288.1 779.7 L286.9 779.5 L285.7 779.3 L284.9 779.1 L284.1 778.8 L283.3 778.4 L282.5 778.0 L281.7 777.5 L281.0 776.9 L280.5 776.5 L279.8 775.7 L279.3 775.1 L278.9 774.4 L278.5 773.7 L278.1 772.7 L277.8 771.7 L277.7 770.9 L277.6 769.7 L277.6 768.5 L277.8 767.7 L278.0 766.5 L278.3 765.7 L278.6 764.9 L279.1 764.1 L279.5 763.3 L280.1 762.5 L280.5 761.9 L281.0 761.3 L281.7 760.6 L282.2 760.1 L282.9 759.4 L283.5 758.9 L284.1 758.4 L284.9 757.8 L285.6 757.3 L286.2 756.9 L286.9 756.5 L287.7 756.0 L288.5 755.6 L289.3 755.2 L290.2 754.9 L291.3 754.6 L292.1 754.4 L293.3 754.2 L294.5 754.1 L295.7 754.1 L296.9 754.3 L298.0 754.5 L298.9 754.8 L299.7 755.1 L300.5 755.6 L301.1 756.1 L301.7 756.7 L302.1 757.3 L302.5 758.1 L302.8 759.3 L303.0 760.1 L303.0 761.3 L303.0 762.5 L303.0 763.7 L302.9 764.9 L302.9 765.7 L302.7 766.9 L302.6 768.1 L302.4 768.9 L302.1 770.0 L301.8 770.9 L301.4 771.7 L301.0 772.5 L300.6 773.3 L300.1 774.0 L299.7 774.5 L299.0 775.3 L298.5 775.8 L297.7 776.5 L297.1 776.9 L296.5 777.3 L295.7 777.8 L294.9 778.2 L294.1 778.6 L293.3 778.9 L292.1 779.3 M258.5 741.7 L257.7 741.7 L257.0 740.9 L256.7 740.1 L256.8 738.9 L257.3 738.2 L258.1 738.0 L258.9 738.4 L259.3 739.3 L259.3 740.0 L259.0 740.9 L258.5 741.7 M259.7 793.0 L258.5 793.1 L257.3 793.1 L256.5 792.9 L255.3 792.6 L254.5 792.2 L253.7 791.8 L252.9 791.3 L252.4 790.9 L251.7 790.4 L251.0 789.7 L250.5 789.2 L249.9 788.5 L249.3 787.7 L248.9 787.2 L248.5 786.5 L248.0 785.7 L247.6 784.9 L247.2 784.1 L246.9 783.3 L246.5 782.2 L246.2 781.3 L246.0 780.5 L245.8 779.3 L245.6 778.5 L245.5 777.3 L245.4 776.1 L245.4 774.9 L245.5 773.7 L245.6 772.5 L245.7 771.7 L245.9 770.5 L246.1 769.7 L246.4 768.5 L246.6 767.7 L246.9 766.6 L247.2 765.7 L247.4 764.9 L247.7 763.8 L247.9 762.9 L248.1 762.1 L248.4 760.9 L248.6 760.1 L248.9 758.9 L249.1 758.1 L249.3 757.3 L249.7 756.1 L250.0 755.3 L250.3 754.5 L250.6 753.7 L251.0 752.9 L251.4 752.1 L251.9 751.3 L252.4 750.5 L252.9 749.7 L253.3 749.2 L253.8 748.5 L254.5 747.7 L254.9 747.2 L255.5 746.5 L256.1 745.8 L256.6 745.3 L257.3 744.6 L258.0 744.1 L258.7 744.1 L259.4 744.5 L260.1 745.0 L260.9 745.5 L261.6 746.1 L262.2 746.5 L262.9 747.1 L263.6 747.7 L264.1 748.3 L264.6 748.9 L264.9 749.7 L265.1 750.9 L264.9 752.1 L264.8 752.9 L264.6 754.1 L264.5 754.9 L264.3 756.1 L264.3 757.3 L264.2 758.5 L264.1 759.7 L264.0 760.5 L263.9 761.7 L263.7 762.9 L263.7 763.7 L263.6 764.9 L263.6 766.1 L263.7 766.9 L263.9 768.1 L264.1 768.9 L264.5 770.1 L264.7 770.9 L265.0 771.7 L265.3 772.8 L265.6 773.7 L265.8 774.5 L266.1 775.6 L266.3 776.5 L266.5 777.5 L266.7 778.5 L266.8 779.7 L266.9 780.9 L266.9 782.1 L266.8 783.3 L266.6 784.5 L266.5 785.3 L266.1 786.5 L265.9 787.3 L265.5 788.1 L265.1 788.9 L264.6 789.7 L264.1 790.3 L263.6 790.9 L262.9 791.5 L262.1 792.1 L261.3 792.5 L260.5 792.8 L259.7 793.0 M291.7 778.6 L290.5 778.8 L289.3 778.9 L288.1 778.9 L286.9 778.8 L285.7 778.5 L284.9 778.2 L284.1 777.9 L283.3 777.5 L282.5 777.0 L281.8 776.5 L281.3 776.1 L280.6 775.3 L280.1 774.7 L279.7 774.1 L279.3 773.3 L278.9 772.3 L278.6 771.3 L278.5 770.3 L278.5 769.3 L278.5 768.5 L278.7 767.3 L278.9 766.5 L279.3 765.5 L279.7 764.6 L280.1 763.9 L280.5 763.3 L281.1 762.5 L281.7 761.8 L282.1 761.3 L282.9 760.5 L283.4 760.1 L284.1 759.5 L284.8 758.9 L285.4 758.5 L286.1 758.0 L286.9 757.5 L287.7 757.1 L288.5 756.7 L289.3 756.4 L290.1 756.1 L291.3 755.7 L292.1 755.5 L293.3 755.3 L294.1 755.3 L295.3 755.3 L296.1 755.4 L297.3 755.6 L298.1 755.9 L298.9 756.3 L299.7 756.8 L300.2 757.3 L300.9 758.1 L301.3 758.9 L301.5 759.7 L301.7 760.5 L301.9 761.7 L301.9 762.9 L302.0 764.1 L302.0 765.3 L301.9 766.5 L301.8 767.7 L301.6 768.5 L301.3 769.7 L301.1 770.5 L300.7 771.3 L300.3 772.1 L299.9 772.9 L299.3 773.7 L298.9 774.2 L298.3 774.9 L297.7 775.5 L296.9 776.1 L296.4 776.5 L295.7 777.0 L294.9 777.4 L294.1 777.8 L293.3 778.1 L292.1 778.5 M259.7 792.2 L258.5 792.3 L257.3 792.3 L256.4 792.1 L255.3 791.8 L254.5 791.4 L253.7 791.0 L252.9 790.5 L252.4 790.1 L251.7 789.5 L251.1 788.9 L250.5 788.3 L250.0 787.7 L249.4 786.9 L248.9 786.1 L248.5 785.4 L248.1 784.6 L247.7 783.7 L247.4 782.9 L247.1 782.1 L246.8 781.3 L246.5 780.1 L246.4 779.3 L246.2 778.1 L246.1 777.3 L246.0 776.1 L246.0 774.9 L246.1 773.9 L246.2 772.9 L246.4 771.7 L246.5 770.9 L246.8 769.7 L247.0 768.9 L247.3 768.1 L247.7 766.9 L247.9 766.1 L248.2 765.3 L248.5 764.5 L248.9 763.3 L249.1 762.5 L249.3 761.7 L249.7 760.5 L249.9 759.7 L250.1 758.9 L250.5 757.7 L250.7 756.9 L251.1 756.1 L251.4 755.3 L251.8 754.5 L252.2 753.7 L252.7 752.9 L253.2 752.1 L253.7 751.4 L254.1 750.9 L254.9 750.1 L255.3 749.7 L256.1 749.1 L256.9 748.6 L257.7 748.3 L258.9 748.2 L260.1 748.4 L260.9 748.8 L261.5 749.3 L262.1 750.0 L262.5 750.8 L262.7 751.7 L262.8 752.9 L262.8 754.1 L262.9 755.3 L262.9 756.5 L262.9 757.7 L262.9 758.9 L262.8 760.1 L262.7 761.3 L262.6 762.5 L262.5 763.7 L262.5 764.9 L262.7 766.1 L262.9 767.3 L263.1 768.1 L263.3 768.9 L263.7 770.1 L264.0 770.9 L264.3 771.7 L264.5 772.5 L264.9 773.6 L265.2 774.5 L265.4 775.3 L265.7 776.5 L265.9 777.3 L266.1 778.5 L266.2 779.3 L266.3 780.5 L266.3 781.7 L266.2 782.9 L266.1 783.8 L265.9 784.9 L265.7 785.7 L265.3 786.9 L264.9 787.7 L264.5 788.5 L264.1 789.1 L263.6 789.7 L262.9 790.5 L262.4 790.9 L261.7 791.4 L260.9 791.8 L259.9 792.1 M290.1 778.1 L288.9 778.2 L287.7 778.1 L286.9 778.0 L285.7 777.7 L284.9 777.5 L284.1 777.1 L283.3 776.7 L282.5 776.1 L282.0 775.7 L281.3 775.0 L280.9 774.5 L280.4 773.7 L280.0 772.9 L279.7 772.1 L279.4 770.9 L279.3 770.1 L279.3 768.9 L279.3 768.1 L279.6 766.9 L279.9 766.1 L280.2 765.3 L280.6 764.5 L281.1 763.7 L281.7 762.9 L282.1 762.4 L282.7 761.7 L283.3 761.1 L284.0 760.5 L284.5 760.1 L285.3 759.5 L286.1 759.0 L286.9 758.5 L287.6 758.1 L288.4 757.7 L289.3 757.3 L290.1 757.0 L290.9 756.8 L292.1 756.5 L292.9 756.4 L294.1 756.3 L295.3 756.4 L296.1 756.5 L297.3 756.9 L298.1 757.3 L298.7 757.7 L299.3 758.3 L299.8 758.9 L300.2 759.7 L300.5 760.5 L300.8 761.7 L300.9 762.5 L301.1 763.7 L301.1 764.9 L301.1 766.1 L301.0 767.3 L300.9 768.2 L300.7 769.3 L300.4 770.1 L300.1 770.9 L299.7 771.8 L299.3 772.5 L298.7 773.3 L298.1 774.1 L297.7 774.5 L296.9 775.3 L296.3 775.7 L295.7 776.1 L294.9 776.6 L294.1 777.0 L293.3 777.4 L292.4 777.7 L291.3 778.0 L290.5 778.1 M259.7 791.4 L258.5 791.6 L257.3 791.6 L256.1 791.3 L255.3 791.1 L254.5 790.7 L253.7 790.3 L252.9 789.7 L252.4 789.3 L251.7 788.7 L251.1 788.1 L250.5 787.4 L250.1 786.9 L249.6 786.1 L249.1 785.3 L248.6 784.5 L248.3 783.7 L247.9 782.9 L247.6 782.1 L247.3 781.1 L247.1 780.1 L246.9 779.3 L246.7 778.1 L246.6 776.9 L246.6 775.7 L246.6 774.5 L246.7 773.3 L246.9 772.3 L247.1 771.3 L247.3 770.5 L247.6 769.3 L247.9 768.5 L248.2 767.7 L248.5 766.9 L248.9 765.9 L249.3 764.9 L249.6 764.1 L249.9 763.3 L250.2 762.5 L250.5 761.7 L250.9 760.5 L251.2 759.7 L251.4 758.9 L251.7 758.1 L252.1 757.1 L252.5 756.3 L252.9 755.5 L253.3 754.9 L253.8 754.1 L254.5 753.3 L254.9 752.9 L255.7 752.2 L256.5 751.7 L257.3 751.4 L258.1 751.3 L258.9 751.4 L259.7 751.9 L260.2 752.5 L260.6 753.3 L260.9 754.3 L261.1 755.3 L261.3 756.4 L261.4 757.3 L261.5 758.5 L261.5 759.7 L261.4 760.9 L261.4 762.1 L261.4 763.3 L261.4 764.5 L261.6 765.7 L261.8 766.5 L262.1 767.6 L262.4 768.5 L262.7 769.3 L263.0 770.1 L263.3 770.9 L263.7 771.9 L264.1 772.9 L264.3 773.7 L264.6 774.5 L264.9 775.5 L265.1 776.5 L265.3 777.3 L265.5 778.5 L265.7 779.7 L265.7 780.5 L265.7 781.7 L265.7 782.5 L265.5 783.7 L265.3 784.9 L265.1 785.7 L264.8 786.5 L264.4 787.3 L264.0 788.1 L263.4 788.9 L262.9 789.5 L262.2 790.1 L261.7 790.5 L260.9 791.0 L260.0 791.3 M291.3 777.3 L290.1 777.5 L288.9 777.6 L287.7 777.5 L286.6 777.3 L285.7 777.0 L284.9 776.7 L284.1 776.3 L283.3 775.8 L282.6 775.3 L282.1 774.8 L281.5 774.1 L281.0 773.3 L280.6 772.5 L280.3 771.7 L280.1 770.9 L280.0 769.7 L280.0 768.5 L280.1 767.7 L280.4 766.5 L280.8 765.7 L281.2 764.9 L281.6 764.1 L282.1 763.4 L282.5 762.9 L283.3 762.1 L283.7 761.7 L284.5 761.0 L285.1 760.5 L285.7 760.1 L286.5 759.5 L287.3 759.1 L288.1 758.7 L288.9 758.3 L289.7 758.0 L290.8 757.7 L291.7 757.5 L292.9 757.3 L294.1 757.3 L295.3 757.5 L296.2 757.7 L297.1 758.1 L297.7 758.5 L298.5 759.2 L298.9 759.8 L299.3 760.5 L299.7 761.5 L300.0 762.5 L300.1 763.3 L300.3 764.5 L300.4 765.7 L300.3 766.9 L300.2 768.1 L300.0 768.9 L299.7 770.1 L299.4 770.9 L299.0 771.7 L298.5 772.5 L298.1 773.1 L297.6 773.7 L296.9 774.4 L296.3 774.9 L295.7 775.4 L294.9 775.9 L294.1 776.3 L293.3 776.7 L292.5 777.0 L291.4 777.3 M258.5 790.9 L257.4 790.9 L256.5 790.8 L255.6 790.5 L254.6 790.1 L253.9 789.7 L253.3 789.3 L252.5 788.7 L251.9 788.1 L251.3 787.5 L250.8 786.9 L250.2 786.1 L249.7 785.4 L249.3 784.7 L248.9 783.9 L248.5 783.0 L248.1 782.1 L247.9 781.3 L247.6 780.5 L247.4 779.3 L247.3 778.5 L247.1 777.3 L247.1 776.1 L247.1 774.9 L247.2 773.7 L247.3 772.9 L247.6 771.7 L247.8 770.9 L248.1 769.9 L248.5 768.9 L248.8 768.1 L249.1 767.3 L249.5 766.5 L249.9 765.7 L250.3 764.9 L250.7 764.1 L251.1 763.3 L251.5 762.5 L251.8 761.7 L252.1 760.9 L252.5 760.0 L252.9 759.1 L253.3 758.3 L253.7 757.5 L254.1 756.9 L254.7 756.1 L255.3 755.5 L256.1 755.0 L256.9 754.8 L257.8 754.9 L258.5 755.3 L259.1 756.1 L259.4 756.9 L259.7 757.9 L259.9 758.9 L260.0 760.1 L260.0 761.3 L260.1 762.5 L260.1 763.3 L260.3 764.5 L260.5 765.3 L260.9 766.5 L261.2 767.3 L261.5 768.1 L261.8 768.9 L262.2 769.7 L262.5 770.5 L262.9 771.4 L263.3 772.4 L263.6 773.3 L263.9 774.1 L264.2 774.9 L264.5 776.0 L264.7 776.9 L264.9 777.7 L265.1 778.9 L265.2 780.1 L265.2 781.3 L265.2 782.5 L265.0 783.7 L264.8 784.5 L264.5 785.7 L264.2 786.5 L263.8 787.3 L263.3 788.0 L262.9 788.5 L262.2 789.3 L261.7 789.7 L260.9 790.2 L260.1 790.6 L258.9 790.9 M290.1 776.9 L288.9 777.0 L288.0 776.9 L286.9 776.7 L286.1 776.5 L285.1 776.1 L284.3 775.7 L283.7 775.3 L282.9 774.6 L282.4 774.1 L281.8 773.3 L281.3 772.5 L281.0 771.7 L280.8 770.9 L280.6 769.7 L280.7 768.5 L280.9 767.3 L281.1 766.5 L281.5 765.7 L281.9 764.9 L282.4 764.1 L282.9 763.4 L283.4 762.9 L284.1 762.1 L284.6 761.7 L285.3 761.1 L286.1 760.6 L286.9 760.1 L287.6 759.7 L288.4 759.3 L289.3 759.0 L290.1 758.7 L290.9 758.5 L292.1 758.3 L293.3 758.2 L294.5 758.3 L295.3 758.5 L296.3 758.9 L296.9 759.3 L297.7 760.0 L298.1 760.5 L298.6 761.3 L298.9 762.1 L299.3 763.3 L299.5 764.1 L299.6 765.3 L299.7 766.5 L299.6 767.7 L299.4 768.9 L299.2 769.7 L298.9 770.5 L298.5 771.3 L298.0 772.1 L297.5 772.9 L296.9 773.5 L296.3 774.1 L295.7 774.6 L294.9 775.2 L294.1 775.7 L293.3 776.1 L292.5 776.4 L291.7 776.6 L290.5 776.9 M259.3 790.1 L258.1 790.3 L256.9 790.2 L256.1 790.0 L255.1 789.7 L254.3 789.3 L253.7 788.9 L252.9 788.3 L252.2 787.7 L251.7 787.2 L251.1 786.5 L250.5 785.7 L250.1 785.1 L249.7 784.5 L249.3 783.7 L248.9 782.8 L248.5 781.8 L248.2 780.9 L248.0 780.1 L247.8 778.9 L247.7 778.1 L247.6 776.9 L247.6 775.7 L247.6 774.5 L247.7 773.7 L248.0 772.5 L248.2 771.7 L248.5 770.6 L248.8 769.7 L249.2 768.9 L249.5 768.1 L249.9 767.3 L250.4 766.5 L250.9 765.7 L251.3 765.0 L251.7 764.4 L252.2 763.7 L252.7 762.9 L253.3 762.1 L253.7 761.4 L254.1 760.9 L254.7 760.1 L255.3 759.5 L256.1 759.1 L257.1 759.3 L257.7 760.1 L258.0 760.9 L258.2 761.7 L258.5 762.6 L258.8 763.7 L259.1 764.5 L259.4 765.3 L259.8 766.1 L260.1 766.9 L260.5 767.7 L260.9 768.5 L261.3 769.3 L261.7 770.1 L262.1 771.0 L262.5 771.9 L262.9 772.8 L263.3 773.7 L263.6 774.5 L263.8 775.3 L264.1 776.3 L264.3 777.3 L264.5 778.2 L264.7 779.3 L264.7 780.5 L264.7 781.7 L264.6 782.9 L264.5 783.7 L264.2 784.9 L263.9 785.7 L263.5 786.5 L263.1 787.3 L262.5 788.1 L262.1 788.5 L261.3 789.2 L260.5 789.7 L259.7 790.0 M291.3 776.1 L290.1 776.3 L288.9 776.4 L287.7 776.3 L286.9 776.1 L285.7 775.7 L284.9 775.3 L284.2 774.9 L283.7 774.5 L282.9 773.7 L282.5 773.2 L282.1 772.5 L281.7 771.7 L281.4 770.5 L281.3 769.7 L281.3 768.7 L281.4 767.7 L281.7 766.8 L282.1 765.8 L282.5 765.0 L282.9 764.4 L283.4 763.7 L284.1 763.0 L284.6 762.5 L285.3 761.9 L286.1 761.3 L286.7 760.9 L287.4 760.5 L288.3 760.1 L289.3 759.7 L290.1 759.4 L290.9 759.2 L292.1 759.1 L293.3 759.1 L294.5 759.3 L295.3 759.5 L296.1 760.0 L296.8 760.5 L297.3 761.0 L297.8 761.7 L298.2 762.5 L298.5 763.4 L298.8 764.5 L298.9 765.3 L299.0 766.5 L298.9 767.7 L298.8 768.5 L298.5 769.7 L298.2 770.5 L297.8 771.3 L297.3 772.1 L296.9 772.7 L296.3 773.3 L295.7 773.9 L294.9 774.5 L294.3 774.9 L293.6 775.3 L292.7 775.7 L291.7 776.0 M290.5 775.7 L289.3 775.8 L288.1 775.8 L287.3 775.6 L286.3 775.3 L285.4 774.9 L284.7 774.5 L284.1 774.0 L283.4 773.3 L282.9 772.6 L282.5 771.9 L282.1 770.9 L282.0 770.1 L281.9 768.9 L282.1 767.7 L282.3 766.9 L282.6 766.1 L283.0 765.3 L283.5 764.5 L284.1 763.8 L284.6 763.3 L285.3 762.6 L286.0 762.1 L286.6 761.7 L287.3 761.3 L288.1 760.8 L288.9 760.5 L290.1 760.1 L290.9 760.0 L292.1 759.8 L293.3 759.9 L294.2 760.1 L295.2 760.5 L295.8 760.9 L296.5 761.5 L297.0 762.1 L297.5 762.9 L297.8 763.7 L298.1 764.7 L298.3 765.7 L298.4 766.9 L298.3 768.1 L298.1 769.0 L297.7 770.1 L297.4 770.9 L296.9 771.7 L296.5 772.2 L295.9 772.9 L295.3 773.5 L294.5 774.1 L293.9 774.5 L293.2 774.9 L292.2 775.3 L291.3 775.6 L290.5 775.7 M259.7 789.3 L258.5 789.6 L257.3 789.7 L256.1 789.5 L255.3 789.2 L254.5 788.8 L253.7 788.3 L252.9 787.7 L252.5 787.3 L251.7 786.5 L251.3 786.0 L250.8 785.3 L250.2 784.5 L249.8 783.7 L249.4 782.9 L249.1 782.1 L248.8 781.3 L248.5 780.2 L248.3 779.3 L248.1 778.1 L248.1 777.3 L248.0 776.1 L248.1 774.9 L248.2 774.1 L248.4 772.9 L248.6 772.1 L248.9 771.1 L249.3 770.1 L249.7 769.3 L250.1 768.5 L250.5 767.8 L250.9 767.2 L251.4 766.5 L252.0 765.7 L252.5 765.2 L253.2 764.5 L253.7 764.1 L254.5 763.6 L255.7 763.3 L256.7 763.7 L257.3 764.3 L257.8 764.9 L258.4 765.7 L258.9 766.5 L259.3 767.1 L259.7 767.8 L260.1 768.5 L260.6 769.3 L261.0 770.1 L261.5 770.9 L261.9 771.7 L262.2 772.5 L262.6 773.3 L262.9 774.1 L263.3 775.2 L263.6 776.1 L263.8 776.9 L264.0 778.1 L264.2 778.9 L264.3 780.1 L264.3 781.3 L264.2 782.5 L264.1 783.3 L263.8 784.5 L263.5 785.3 L263.2 786.1 L262.7 786.9 L262.1 787.7 L261.7 788.1 L260.9 788.7 L260.1 789.2 M291.3 775.0 L290.1 775.2 L288.9 775.3 L287.7 775.1 L286.9 774.9 L285.9 774.5 L285.2 774.1 L284.5 773.6 L283.9 772.9 L283.3 772.1 L282.9 771.3 L282.7 770.5 L282.5 769.3 L282.6 768.1 L282.9 766.9 L283.2 766.1 L283.7 765.3 L284.1 764.7 L284.6 764.1 L285.3 763.4 L285.9 762.9 L286.5 762.4 L287.3 761.9 L288.1 761.5 L288.9 761.2 L289.7 760.9 L290.9 760.7 L292.1 760.6 L293.3 760.7 L294.1 760.9 L294.9 761.3 L295.7 761.9 L296.3 762.5 L296.8 763.3 L297.2 764.1 L297.5 764.9 L297.7 766.1 L297.7 766.9 L297.7 767.7 L297.5 768.9 L297.3 769.7 L296.9 770.6 L296.5 771.3 L295.9 772.1 L295.3 772.8 L294.7 773.3 L294.1 773.7 L293.3 774.2 L292.5 774.6 L291.7 774.9 M258.9 789.0 L257.7 789.1 L256.5 789.0 L255.7 788.8 L254.9 788.4 L254.1 788.0 L253.3 787.4 L252.7 786.9 L252.1 786.3 L251.6 785.7 L251.0 784.9 L250.5 784.1 L250.1 783.4 L249.7 782.5 L249.4 781.7 L249.1 780.9 L248.9 780.1 L248.7 778.9 L248.5 777.7 L248.5 776.9 L248.5 775.7 L248.5 774.9 L248.7 773.7 L248.9 772.9 L249.3 771.7 L249.6 770.9 L249.9 770.1 L250.4 769.3 L250.9 768.5 L251.3 767.9 L251.8 767.3 L252.5 766.6 L253.1 766.1 L253.8 765.7 L254.9 765.3 L256.1 765.5 L256.9 765.9 L257.6 766.5 L258.1 767.0 L258.7 767.7 L259.3 768.5 L259.7 769.0 L260.1 769.7 L260.6 770.5 L261.1 771.3 L261.5 772.1 L261.9 772.9 L262.3 773.7 L262.6 774.5 L262.9 775.4 L263.2 776.5 L263.4 777.3 L263.7 778.5 L263.8 779.3 L263.8 780.5 L263.8 781.7 L263.7 782.8 L263.5 783.7 L263.3 784.5 L262.9 785.5 L262.5 786.2 L262.0 786.9 L261.3 787.7 L260.8 788.1 L260.1 788.5 L259.1 788.9 M290.9 774.5 L289.7 774.7 L288.5 774.7 L287.6 774.5 L286.5 774.1 L285.7 773.7 L285.1 773.3 L284.5 772.7 L284.0 772.1 L283.6 771.3 L283.3 770.5 L283.1 769.3 L283.2 768.1 L283.4 767.3 L283.7 766.5 L284.1 765.7 L284.6 764.9 L285.3 764.2 L285.8 763.7 L286.5 763.1 L287.3 762.6 L288.1 762.2 L288.9 761.8 L289.7 761.6 L290.9 761.3 L291.7 761.3 L292.5 761.3 L293.7 761.6 L294.5 762.0 L295.2 762.5 L295.7 763.0 L296.2 763.7 L296.6 764.5 L296.9 765.5 L297.1 766.5 L297.1 767.7 L296.9 768.9 L296.6 769.7 L296.3 770.5 L295.8 771.3 L295.3 772.0 L294.8 772.5 L294.1 773.1 L293.3 773.6 L292.5 774.0 L291.7 774.3 L290.9 774.5 M258.1 788.5 L257.0 788.5 L256.1 788.3 L255.3 788.0 L254.5 787.6 L253.7 787.1 L253.0 786.5 L252.5 786.0 L251.8 785.3 L251.3 784.6 L250.9 783.9 L250.5 783.2 L250.1 782.4 L249.7 781.4 L249.4 780.5 L249.2 779.7 L249.0 778.5 L248.9 777.3 L248.9 776.5 L248.9 775.7 L249.1 774.5 L249.3 773.3 L249.5 772.5 L249.8 771.7 L250.2 770.9 L250.6 770.1 L251.1 769.3 L251.7 768.5 L252.1 768.1 L252.9 767.4 L253.7 767.0 L254.5 766.7 L255.7 766.7 L256.5 767.0 L257.3 767.5 L258.0 768.1 L258.5 768.6 L259.1 769.3 L259.7 770.1 L260.1 770.7 L260.5 771.3 L261.0 772.1 L261.4 772.9 L261.8 773.7 L262.1 774.5 L262.5 775.5 L262.8 776.5 L263.0 777.3 L263.3 778.5 L263.4 779.3 L263.4 780.5 L263.4 781.7 L263.3 782.5 L263.0 783.7 L262.8 784.5 L262.4 785.3 L262.0 786.1 L261.3 786.9 L260.9 787.3 L260.1 787.9 L259.3 788.2 L258.2 788.5 M290.1 774.1 L288.9 774.1 L288.1 774.0 L287.0 773.7 L286.2 773.3 L285.6 772.9 L284.9 772.2 L284.5 771.7 L284.1 770.9 L283.8 769.7 L283.8 768.5 L284.0 767.3 L284.3 766.5 L284.8 765.7 L285.3 765.0 L285.7 764.5 L286.5 763.8 L287.2 763.3 L287.9 762.9 L288.8 762.5 L289.7 762.2 L290.5 762.0 L291.7 762.0 L292.6 762.1 L293.7 762.5 L294.4 762.9 L294.9 763.3 L295.6 764.1 L296.0 764.9 L296.3 765.7 L296.5 766.9 L296.4 768.1 L296.2 769.3 L295.8 770.1 L295.4 770.9 L294.9 771.6 L294.4 772.1 L293.7 772.7 L292.9 773.2 L292.1 773.6 L291.3 773.9 L290.2 774.1 M258.9 787.8 L257.7 788.0 L256.5 787.9 L255.7 787.6 L254.9 787.3 L254.1 786.8 L253.3 786.2 L252.8 785.7 L252.1 784.9 L251.7 784.4 L251.2 783.7 L250.8 782.9 L250.4 782.1 L250.1 781.3 L249.7 780.1 L249.6 779.3 L249.4 778.1 L249.3 776.9 L249.4 775.7 L249.5 774.5 L249.7 773.6 L250.0 772.5 L250.4 771.7 L250.8 770.9 L251.3 770.1 L251.7 769.6 L252.4 768.9 L252.9 768.5 L253.7 768.0 L254.9 767.7 L256.1 767.9 L256.9 768.3 L257.7 768.8 L258.2 769.3 L258.9 770.0 L259.3 770.5 L259.9 771.3 L260.4 772.1 L260.9 772.9 L261.3 773.7 L261.7 774.5 L262.0 775.3 L262.3 776.1 L262.5 776.9 L262.8 778.1 L262.9 778.9 L263.0 780.1 L263.0 781.3 L262.9 782.1 L262.7 783.3 L262.4 784.1 L262.1 784.9 L261.6 785.7 L261.0 786.5 L260.5 786.9 L259.7 787.4 L258.9 787.8 M290.9 773.4 L289.7 773.6 L288.5 773.5 L287.6 773.3 L286.7 772.9 L286.1 772.5 L285.3 771.7 L284.9 771.1 L284.5 770.1 L284.4 769.3 L284.4 768.1 L284.6 767.3 L285.0 766.5 L285.5 765.7 L286.1 765.0 L286.6 764.5 L287.3 764.0 L288.1 763.5 L288.9 763.1 L289.7 762.9 L290.9 762.7 L292.1 762.7 L292.9 762.9 L293.7 763.3 L294.5 764.0 L294.9 764.5 L295.4 765.3 L295.7 766.2 L295.8 767.3 L295.7 768.5 L295.5 769.3 L295.2 770.1 L294.7 770.9 L294.1 771.6 L293.5 772.1 L292.9 772.6 L292.1 773.0 L291.3 773.3 M258.1 787.4 L256.9 787.4 L256.1 787.2 L255.2 786.9 L254.5 786.5 L253.7 785.9 L253.0 785.3 L252.5 784.8 L252.0 784.1 L251.5 783.3 L251.0 782.5 L250.7 781.7 L250.4 780.9 L250.1 779.9 L249.9 778.9 L249.8 777.7 L249.7 776.5 L249.8 775.3 L250.0 774.1 L250.3 773.3 L250.6 772.5 L251.0 771.7 L251.5 770.9 L252.1 770.1 L252.5 769.7 L253.3 769.1 L254.1 768.8 L255.3 768.6 L256.3 768.9 L257.1 769.3 L257.7 769.7 L258.5 770.4 L258.9 770.9 L259.6 771.7 L260.1 772.5 L260.5 773.1 L260.9 773.9 L261.3 774.7 L261.7 775.7 L262.0 776.5 L262.2 777.3 L262.4 778.5 L262.5 779.3 L262.6 780.5 L262.5 781.7 L262.4 782.5 L262.1 783.6 L261.7 784.5 L261.3 785.3 L260.9 785.8 L260.1 786.5 L259.5 786.9 L258.5 787.3 M290.1 772.9 L288.9 772.9 L288.1 772.8 L287.3 772.5 L286.5 772.0 L285.8 771.3 L285.4 770.5 L285.1 769.7 L285.0 768.5 L285.3 767.3 L285.7 766.5 L286.1 765.9 L286.6 765.3 L287.3 764.7 L288.1 764.2 L288.9 763.8 L289.7 763.5 L290.9 763.4 L292.1 763.5 L292.9 763.8 L293.7 764.3 L294.3 764.9 L294.8 765.7 L295.0 766.5 L295.2 767.7 L295.0 768.9 L294.7 769.7 L294.2 770.5 L293.7 771.1 L293.1 771.7 L292.5 772.1 L291.7 772.5 L290.5 772.9 M258.9 786.6 L257.7 786.9 L256.5 786.8 L255.5 786.5 L254.7 786.1 L254.1 785.7 L253.3 785.0 L252.8 784.5 L252.2 783.7 L251.7 782.9 L251.3 782.1 L250.9 781.3 L250.7 780.5 L250.5 779.7 L250.2 778.5 L250.1 777.3 L250.2 776.1 L250.3 774.9 L250.5 774.1 L250.9 773.0 L251.3 772.2 L251.7 771.5 L252.2 770.9 L252.9 770.3 L253.7 769.8 L254.5 769.5 L255.7 769.5 L256.5 769.8 L257.3 770.2 L258.1 770.8 L258.6 771.3 L259.3 772.1 L259.7 772.7 L260.1 773.3 L260.5 774.1 L260.9 774.9 L261.3 775.8 L261.7 776.9 L261.9 777.7 L262.1 778.9 L262.2 779.7 L262.2 780.9 L262.1 781.7 L261.8 782.9 L261.6 783.7 L261.2 784.5 L260.6 785.3 L260.1 785.8 L259.3 786.4 M290.9 772.1 L289.7 772.3 L288.5 772.2 L287.7 771.9 L286.9 771.4 L286.4 770.9 L286.0 770.1 L285.7 768.9 L285.9 767.7 L286.2 766.9 L286.8 766.1 L287.3 765.5 L288.1 764.9 L288.9 764.5 L289.7 764.2 L290.9 764.1 L291.3 764.1 L292.5 764.5 L293.2 764.9 L293.7 765.4 L294.1 766.1 L294.4 767.3 L294.4 768.5 L294.1 769.4 L293.7 770.1 L293.0 770.9 L292.5 771.4 L291.7 771.8 L290.9 772.1 M258.5 786.1 L257.3 786.3 L256.1 786.2 L255.3 785.8 L254.5 785.4 L253.9 784.9 L253.3 784.4 L252.7 783.7 L252.2 782.9 L251.7 782.1 L251.4 781.3 L251.1 780.5 L250.9 779.7 L250.6 778.5 L250.6 777.3 L250.6 776.1 L250.8 774.9 L251.0 774.1 L251.3 773.3 L251.7 772.5 L252.3 771.7 L252.9 771.1 L253.7 770.6 L254.5 770.3 L255.7 770.3 L256.5 770.5 L257.3 771.0 L258.1 771.6 L258.6 772.1 L259.3 772.9 L259.7 773.5 L260.1 774.2 L260.5 775.0 L260.9 775.9 L261.3 776.9 L261.5 777.7 L261.7 778.9 L261.8 779.7 L261.7 780.9 L261.7 781.7 L261.4 782.9 L261.1 783.7 L260.6 784.5 L260.1 785.1 L259.4 785.7 L258.6 786.1 M290.9 771.4 L289.7 771.6 L288.5 771.4 L287.7 771.0 L287.2 770.5 L286.7 769.7 L286.5 768.5 L286.9 767.3 L287.3 766.6 L287.8 766.1 L288.5 765.5 L289.3 765.2 L290.5 764.9 L291.7 765.1 L292.5 765.5 L293.1 766.1 L293.5 766.9 L293.6 768.1 L293.3 769.3 L292.9 770.0 L292.4 770.5 L291.7 771.0 L290.9 771.4 M257.7 785.7 L256.5 785.7 L255.7 785.5 L254.9 785.1 L254.1 784.5 L253.7 784.1 L253.0 783.3 L252.5 782.6 L252.1 781.9 L251.7 781.0 L251.4 780.1 L251.2 779.3 L251.0 778.1 L251.0 776.9 L251.1 775.7 L251.3 774.8 L251.7 773.7 L252.1 773.0 L252.5 772.4 L253.2 771.7 L253.9 771.3 L254.9 771.0 L256.1 771.1 L256.9 771.5 L257.7 772.0 L258.3 772.5 L258.9 773.2 L259.3 773.8 L259.8 774.5 L260.2 775.3 L260.5 776.1 L260.9 777.1 L261.1 778.1 L261.3 779.2 L261.3 780.1 L261.3 781.0 L261.1 782.1 L260.9 782.9 L260.5 783.7 L259.9 784.5 L259.3 785.1 L258.5 785.5 L257.7 785.7 M290.5 770.6 L289.3 770.7 L288.5 770.4 L287.8 769.7 L287.5 768.9 L287.7 767.7 L288.1 767.0 L288.7 766.5 L289.3 766.1 L290.5 765.9 L291.5 766.1 L292.1 766.5 L292.6 767.3 L292.6 768.5 L292.3 769.3 L291.7 770.0 L290.9 770.5 M258.1 785.0 L256.9 785.2 L255.7 784.9 L254.9 784.5 L254.4 784.1 L253.7 783.5 L253.2 782.9 L252.7 782.1 L252.3 781.3 L252.0 780.5 L251.7 779.7 L251.5 778.5 L251.4 777.3 L251.5 776.1 L251.7 775.2 L252.1 774.1 L252.5 773.4 L252.9 772.9 L253.7 772.2 L254.5 771.8 L255.7 771.8 L256.7 772.1 L257.4 772.5 L258.1 773.1 L258.7 773.7 L259.2 774.5 L259.7 775.3 L260.1 776.1 L260.4 776.9 L260.6 777.7 L260.8 778.9 L260.9 779.7 L260.9 780.5 L260.7 781.7 L260.5 782.5 L260.1 783.4 L259.5 784.1 L258.9 784.6 L258.1 785.0 M290.5 769.1 L289.3 768.9 L289.2 768.1 L289.7 767.5 L290.9 767.7 L291.0 768.5 L290.5 769.1 M257.7 784.5 L256.5 784.5 L255.7 784.3 L254.9 783.9 L254.2 783.3 L253.7 782.8 L253.2 782.1 L252.8 781.3 L252.4 780.5 L252.1 779.5 L251.9 778.5 L251.9 777.3 L252.0 776.1 L252.2 775.3 L252.5 774.5 L253.0 773.7 L253.7 773.0 L254.5 772.6 L255.3 772.5 L256.1 772.6 L256.9 772.9 L257.7 773.5 L258.3 774.1 L258.9 774.8 L259.3 775.5 L259.7 776.3 L260.1 777.3 L260.3 778.1 L260.4 779.3 L260.4 780.5 L260.2 781.7 L259.9 782.5 L259.5 783.3 L258.9 783.9 L258.1 784.4 M257.7 783.8 L256.5 783.9 L255.7 783.7 L254.9 783.2 L254.1 782.5 L253.7 782.0 L253.3 781.3 L252.9 780.5 L252.5 779.3 L252.4 778.5 L252.3 777.3 L252.5 776.2 L252.8 775.3 L253.2 774.5 L253.7 773.9 L254.5 773.4 L255.3 773.2 L256.1 773.3 L257.0 773.7 L257.7 774.2 L258.3 774.9 L258.9 775.7 L259.3 776.5 L259.6 777.3 L259.8 778.1 L260.0 779.3 L259.9 780.5 L259.7 781.7 L259.3 782.5 L258.9 783.0 L258.1 783.7 M257.7 783.1 L256.5 783.2 L255.5 782.9 L254.9 782.5 L254.2 781.7 L253.7 781.0 L253.3 780.2 L253.0 779.3 L252.9 778.5 L252.9 777.3 L253.0 776.5 L253.3 775.6 L253.7 774.9 L254.5 774.3 L255.3 774.0 L256.2 774.1 L257.0 774.5 L257.7 775.1 L258.2 775.7 L258.7 776.5 L259.0 777.3 L259.3 778.1 L259.5 779.3 L259.4 780.5 L259.2 781.3 L258.8 782.1 L258.1 782.8 M257.7 782.2 L256.5 782.4 L255.5 782.1 L254.9 781.6 L254.3 780.9 L253.9 780.1 L253.6 779.3 L253.4 778.1 L253.6 776.9 L253.9 776.1 L254.5 775.3 L255.3 774.9 L256.0 774.9 L256.9 775.3 L257.4 775.7 L258.0 776.5 L258.4 777.3 L258.7 778.1 L258.9 779.3 L258.8 780.5 L258.5 781.3 L257.8 782.1 M256.9 781.4 L255.8 781.3 L255.3 780.9 L254.7 780.1 L254.3 779.3 L254.2 778.1 L254.4 776.9 L254.9 776.2 L255.7 775.9 L256.5 776.1 L257.3 776.8 L257.7 777.4 L258.1 778.5 L258.2 779.3 L258.1 780.1 L257.7 780.9 L256.9 781.4" fill="none" stroke="#5a5a5a" stroke-width="0.45" stroke-linejoin="round" clip-path="url(#q180)"/>
<circle cx="268" cy="712" r="0.5" fill="#666"/>
<circle cx="272" cy="718" r="0.5" fill="#666"/>
<circle cx="254" cy="722" r="0.5" fill="#666"/>
<circle cx="276" cy="726" r="0.5" fill="#666"/>
<circle cx="312" cy="735" r="0.5" fill="#666"/>
<circle cx="306" cy="738" r="0.5" fill="#666"/>
<circle cx="315" cy="763" r="0.5" fill="#666"/>
<circle cx="322" cy="757" r="0.5" fill="#666"/>
<circle cx="327" cy="740" r="0.5" fill="#666"/>
<circle cx="335" cy="732" r="0.5" fill="#666"/>
<circle cx="308" cy="775" r="0.5" fill="#666"/>
<circle cx="311" cy="779" r="0.5" fill="#666"/>
<circle cx="304" cy="786" r="0.5" fill="#666"/>
<circle cx="276" cy="794" r="0.5" fill="#666"/>
<circle cx="279" cy="798" r="0.5" fill="#666"/>
<circle cx="266" cy="803" r="0.5" fill="#666"/>
<circle cx="292" cy="788" r="0.5" fill="#666"/>
<circle cx="249" cy="752" r="0.5" fill="#666"/>
<circle cx="280" cy="735" r="0.5" fill="#666"/>
<circle cx="284" cy="738" r="0.5" fill="#666"/>
<circle cx="263" cy="728" r="0.5" fill="#666"/>
<circle cx="307" cy="762" r="0.5" fill="#666"/>
<rect x="212.5" y="678.9" width="143.8" height="147.9" fill="none" stroke="#b4b4b4" stroke-width="1.1"/>
<line x1="208.4" y1="817.7" x2="212" y2="817.7" stroke="#1a1a1a" stroke-width="1.1"/>
<line x1="208.4" y1="768.6" x2="212" y2="768.6" stroke="#1a1a1a" stroke-width="1.1"/>
<line x1="208.4" y1="727.7" x2="212" y2="727.7" stroke="#1a1a1a" stroke-width="1.1"/>
<line x1="208.4" y1="693.2" x2="212" y2="693.2" stroke="#1a1a1a" stroke-width="1.1"/>
<line x1="210.1" y1="756.29" x2="212" y2="756.29" stroke="#1a1a1a" stroke-width="0.8"/>
<line x1="210.1" y1="749.09" x2="212" y2="749.09" stroke="#1a1a1a" stroke-width="0.8"/>
<line x1="210.1" y1="743.98" x2="212" y2="743.98" stroke="#1a1a1a" stroke-width="0.8"/>
<line x1="210.1" y1="740.01" x2="212" y2="740.01" stroke="#1a1a1a" stroke-width="0.8"/>
<line x1="210.1" y1="736.77" x2="212" y2="736.77" stroke="#1a1a1a" stroke-width="0.8"/>
<line x1="210.1" y1="734.04" x2="212" y2="734.04" stroke="#1a1a1a" stroke-width="0.8"/>
<line x1="210.1" y1="731.66" x2="212" y2="731.66" stroke="#1a1a1a" stroke-width="0.8"/>
<line x1="210.1" y1="729.57" x2="212" y2="729.57" stroke="#1a1a1a" stroke-width="0.8"/>
<line x1="210.1" y1="717.31" x2="212" y2="717.31" stroke="#1a1a1a" stroke-width="0.8"/>
<line x1="210.1" y1="711.24" x2="212" y2="711.24" stroke="#1a1a1a" stroke-width="0.8"/>
<line x1="210.1" y1="706.93" x2="212" y2="706.93" stroke="#1a1a1a" stroke-width="0.8"/>
<line x1="210.1" y1="703.59" x2="212" y2="703.59" stroke="#1a1a1a" stroke-width="0.8"/>
<line x1="210.1" y1="700.85" x2="212" y2="700.85" stroke="#1a1a1a" stroke-width="0.8"/>
<line x1="210.1" y1="698.54" x2="212" y2="698.54" stroke="#1a1a1a" stroke-width="0.8"/>
<line x1="210.1" y1="696.54" x2="212" y2="696.54" stroke="#1a1a1a" stroke-width="0.8"/>
<line x1="210.1" y1="694.78" x2="212" y2="694.78" stroke="#1a1a1a" stroke-width="0.8"/>
<line x1="210.1" y1="682.81" x2="212" y2="682.81" stroke="#1a1a1a" stroke-width="0.8"/>
<line x1="210.1" y1="771.39" x2="212" y2="771.39" stroke="#1a1a1a" stroke-width="0.8"/>
<line x1="210.1" y1="774.18" x2="212" y2="774.18" stroke="#1a1a1a" stroke-width="0.8"/>
<line x1="210.1" y1="776.97" x2="212" y2="776.97" stroke="#1a1a1a" stroke-width="0.8"/>
<line x1="210.1" y1="779.76" x2="212" y2="779.76" stroke="#1a1a1a" stroke-width="0.8"/>
<line x1="210.1" y1="782.54" x2="212" y2="782.54" stroke="#1a1a1a" stroke-width="0.8"/>
<line x1="210.1" y1="785.33" x2="212" y2="785.33" stroke="#1a1a1a" stroke-width="0.8"/>
<line x1="210.1" y1="788.12" x2="212" y2="788.12" stroke="#1a1a1a" stroke-width="0.8"/>
<line x1="210.1" y1="815.03" x2="212" y2="815.03" stroke="#1a1a1a" stroke-width="0.8"/>
<line x1="210.1" y1="812.37" x2="212" y2="812.37" stroke="#1a1a1a" stroke-width="0.8"/>
<line x1="210.1" y1="809.7" x2="212" y2="809.7" stroke="#1a1a1a" stroke-width="0.8"/>
<line x1="210.1" y1="807.03" x2="212" y2="807.03" stroke="#1a1a1a" stroke-width="0.8"/>
<line x1="210.1" y1="804.37" x2="212" y2="804.37" stroke="#1a1a1a" stroke-width="0.8"/>
<line x1="210.1" y1="801.7" x2="212" y2="801.7" stroke="#1a1a1a" stroke-width="0.8"/>
<line x1="210.1" y1="799.03" x2="212" y2="799.03" stroke="#1a1a1a" stroke-width="0.8"/>
<line x1="208.4" y1="797.47" x2="212" y2="797.47" stroke="#1a1a1a" stroke-width="0.9"/>
<line x1="208.4" y1="796.71" x2="212" y2="796.71" stroke="#1a1a1a" stroke-width="0.9"/>
<line x1="208.4" y1="795.96" x2="212" y2="795.96" stroke="#1a1a1a" stroke-width="0.9"/>
<line x1="208.4" y1="795.21" x2="212" y2="795.21" stroke="#1a1a1a" stroke-width="0.9"/>
<line x1="208.4" y1="794.45" x2="212" y2="794.45" stroke="#1a1a1a" stroke-width="0.9"/>
<line x1="208.4" y1="793.7" x2="212" y2="793.7" stroke="#1a1a1a" stroke-width="0.9"/>
<line x1="208.4" y1="792.95" x2="212" y2="792.95" stroke="#1a1a1a" stroke-width="0.9"/>
<line x1="208.4" y1="792.19" x2="212" y2="792.19" stroke="#1a1a1a" stroke-width="0.9"/>
<line x1="208.4" y1="791.44" x2="212" y2="791.44" stroke="#1a1a1a" stroke-width="0.9"/>
<line x1="208.4" y1="790.69" x2="212" y2="790.69" stroke="#1a1a1a" stroke-width="0.9"/>
<line x1="208.4" y1="789.94" x2="212" y2="789.94" stroke="#1a1a1a" stroke-width="0.9"/>
<line x1="221" y1="827.3" x2="221" y2="830.9" stroke="#1a1a1a" stroke-width="1.1"/>
<line x1="268.7" y1="827.3" x2="268.7" y2="830.9" stroke="#1a1a1a" stroke-width="1.1"/>
<line x1="308.1" y1="827.3" x2="308.1" y2="830.9" stroke="#1a1a1a" stroke-width="1.1"/>
<line x1="344.7" y1="827.3" x2="344.7" y2="830.9" stroke="#1a1a1a" stroke-width="1.1"/>
<line x1="280.56" y1="827.3" x2="280.56" y2="829.2" stroke="#1a1a1a" stroke-width="0.8"/>
<line x1="287.5" y1="827.3" x2="287.5" y2="829.2" stroke="#1a1a1a" stroke-width="0.8"/>
<line x1="292.42" y1="827.3" x2="292.42" y2="829.2" stroke="#1a1a1a" stroke-width="0.8"/>
<line x1="296.24" y1="827.3" x2="296.24" y2="829.2" stroke="#1a1a1a" stroke-width="0.8"/>
<line x1="299.36" y1="827.3" x2="299.36" y2="829.2" stroke="#1a1a1a" stroke-width="0.8"/>
<line x1="302" y1="827.3" x2="302" y2="829.2" stroke="#1a1a1a" stroke-width="0.8"/>
<line x1="304.28" y1="827.3" x2="304.28" y2="829.2" stroke="#1a1a1a" stroke-width="0.8"/>
<line x1="306.3" y1="827.3" x2="306.3" y2="829.2" stroke="#1a1a1a" stroke-width="0.8"/>
<line x1="319.12" y1="827.3" x2="319.12" y2="829.2" stroke="#1a1a1a" stroke-width="0.8"/>
<line x1="325.56" y1="827.3" x2="325.56" y2="829.2" stroke="#1a1a1a" stroke-width="0.8"/>
<line x1="330.14" y1="827.3" x2="330.14" y2="829.2" stroke="#1a1a1a" stroke-width="0.8"/>
<line x1="333.68" y1="827.3" x2="333.68" y2="829.2" stroke="#1a1a1a" stroke-width="0.8"/>
<line x1="336.58" y1="827.3" x2="336.58" y2="829.2" stroke="#1a1a1a" stroke-width="0.8"/>
<line x1="339.03" y1="827.3" x2="339.03" y2="829.2" stroke="#1a1a1a" stroke-width="0.8"/>
<line x1="341.15" y1="827.3" x2="341.15" y2="829.2" stroke="#1a1a1a" stroke-width="0.8"/>
<line x1="343.03" y1="827.3" x2="343.03" y2="829.2" stroke="#1a1a1a" stroke-width="0.8"/>
<line x1="266.07" y1="827.3" x2="266.07" y2="829.2" stroke="#1a1a1a" stroke-width="0.8"/>
<line x1="263.43" y1="827.3" x2="263.43" y2="829.2" stroke="#1a1a1a" stroke-width="0.8"/>
<line x1="260.8" y1="827.3" x2="260.8" y2="829.2" stroke="#1a1a1a" stroke-width="0.8"/>
<line x1="258.17" y1="827.3" x2="258.17" y2="829.2" stroke="#1a1a1a" stroke-width="0.8"/>
<line x1="255.53" y1="827.3" x2="255.53" y2="829.2" stroke="#1a1a1a" stroke-width="0.8"/>
<line x1="252.9" y1="827.3" x2="252.9" y2="829.2" stroke="#1a1a1a" stroke-width="0.8"/>
<line x1="250.27" y1="827.3" x2="250.27" y2="829.2" stroke="#1a1a1a" stroke-width="0.8"/>
<line x1="223.67" y1="827.3" x2="223.67" y2="829.2" stroke="#1a1a1a" stroke-width="0.8"/>
<line x1="226.33" y1="827.3" x2="226.33" y2="829.2" stroke="#1a1a1a" stroke-width="0.8"/>
<line x1="229" y1="827.3" x2="229" y2="829.2" stroke="#1a1a1a" stroke-width="0.8"/>
<line x1="231.67" y1="827.3" x2="231.67" y2="829.2" stroke="#1a1a1a" stroke-width="0.8"/>
<line x1="234.33" y1="827.3" x2="234.33" y2="829.2" stroke="#1a1a1a" stroke-width="0.8"/>
<line x1="237" y1="827.3" x2="237" y2="829.2" stroke="#1a1a1a" stroke-width="0.8"/>
<line x1="239.67" y1="827.3" x2="239.67" y2="829.2" stroke="#1a1a1a" stroke-width="0.8"/>
<line x1="241.44" y1="827.3" x2="241.44" y2="830.9" stroke="#1a1a1a" stroke-width="0.9"/>
<line x1="242.16" y1="827.3" x2="242.16" y2="830.9" stroke="#1a1a1a" stroke-width="0.9"/>
<line x1="242.87" y1="827.3" x2="242.87" y2="830.9" stroke="#1a1a1a" stroke-width="0.9"/>
<line x1="243.58" y1="827.3" x2="243.58" y2="830.9" stroke="#1a1a1a" stroke-width="0.9"/>
<line x1="244.29" y1="827.3" x2="244.29" y2="830.9" stroke="#1a1a1a" stroke-width="0.9"/>
<line x1="245" y1="827.3" x2="245" y2="830.9" stroke="#1a1a1a" stroke-width="0.9"/>
<line x1="245.71" y1="827.3" x2="245.71" y2="830.9" stroke="#1a1a1a" stroke-width="0.9"/>
<line x1="246.42" y1="827.3" x2="246.42" y2="830.9" stroke="#1a1a1a" stroke-width="0.9"/>
<line x1="247.13" y1="827.3" x2="247.13" y2="830.9" stroke="#1a1a1a" stroke-width="0.9"/>
<line x1="247.84" y1="827.3" x2="247.84" y2="830.9" stroke="#1a1a1a" stroke-width="0.9"/>
<line x1="248.56" y1="827.3" x2="248.56" y2="830.9" stroke="#1a1a1a" stroke-width="0.9"/>
<text x="196.51" y="696" font-size="6.2" fill="#3a3a3a" textLength="6.01" lengthAdjust="spacingAndGlyphs">10</text>
<text x="202.44" y="692.6" font-size="5.2" fill="#3a3a3a" textLength="3.7" lengthAdjust="spacingAndGlyphs">5</text>
<text x="196.51" y="730.5" font-size="6.2" fill="#3a3a3a" textLength="6.01" lengthAdjust="spacingAndGlyphs">10</text>
<text x="202.58" y="727.1" font-size="5.2" fill="#3a3a3a" textLength="3.49" lengthAdjust="spacingAndGlyphs">4</text>
<text x="196.51" y="771.4" font-size="6.2" fill="#3a3a3a" textLength="6.01" lengthAdjust="spacingAndGlyphs">10</text>
<text x="202.44" y="768" font-size="5.2" fill="#3a3a3a" textLength="3.78" lengthAdjust="spacingAndGlyphs">3</text>
<text x="200.72" y="795.9" font-size="6" fill="#3a3a3a" textLength="2.34" lengthAdjust="spacingAndGlyphs">0</text>
<text x="193.2" y="820.5" font-size="6.2" fill="#3a3a3a" textLength="3.62" lengthAdjust="spacingAndGlyphs">−</text>
<text x="196.51" y="820.5" font-size="6.2" fill="#3a3a3a" textLength="6.01" lengthAdjust="spacingAndGlyphs">10</text>
<text x="202.44" y="817.1" font-size="5.2" fill="#3a3a3a" textLength="3.78" lengthAdjust="spacingAndGlyphs">3</text>
<text x="268.4" y="838.8" font-size="6.2" fill="#3a3a3a" textLength="6.12" lengthAdjust="spacingAndGlyphs">10</text>
<text x="274.46" y="835.3" font-size="5.2" fill="#3a3a3a" textLength="3.54" lengthAdjust="spacingAndGlyphs">3</text>
<text x="307.8" y="838.8" font-size="6.2" fill="#3a3a3a" textLength="6.12" lengthAdjust="spacingAndGlyphs">10</text>
<text x="313.99" y="835.3" font-size="5.2" fill="#3a3a3a" textLength="3.27" lengthAdjust="spacingAndGlyphs">4</text>
<text x="344.4" y="838.8" font-size="6.2" fill="#3a3a3a" textLength="6.12" lengthAdjust="spacingAndGlyphs">10</text>
<text x="350.46" y="835.3" font-size="5.2" fill="#3a3a3a" textLength="3.47" lengthAdjust="spacingAndGlyphs">5</text>
<text x="246.02" y="838.6" font-size="6" fill="#3a3a3a" textLength="2.34" lengthAdjust="spacingAndGlyphs">0</text>
<text x="218.12" y="838.8" font-size="6.2" fill="#3a3a3a" textLength="3.38" lengthAdjust="spacingAndGlyphs">−</text>
<text x="221.1" y="838.8" font-size="6.2" fill="#3a3a3a" textLength="6.12" lengthAdjust="spacingAndGlyphs">10</text>
<text x="227.16" y="835.3" font-size="5.2" fill="#3a3a3a" textLength="3.54" lengthAdjust="spacingAndGlyphs">3</text>
<line x1="276.3" y1="678.9" x2="276.3" y2="826.8" stroke="#444" stroke-width="1.4"/>
<line x1="212.5" y1="755.8" x2="356.3" y2="755.8" stroke="#444" stroke-width="1.4"/>
<text x="217.87" y="693.1" font-size="9.2" fill="#222" textLength="20.03" lengthAdjust="spacingAndGlyphs">7.3%</text>
<text x="329.78" y="693.1" font-size="9.2" fill="#222" textLength="20.03" lengthAdjust="spacingAndGlyphs">5.8%</text>
<text x="217.97" y="821.6" font-size="9.2" fill="#222" textLength="24.91" lengthAdjust="spacingAndGlyphs">50.7%</text>
<text x="324.91" y="821.6" font-size="9.2" fill="#222" textLength="24.91" lengthAdjust="spacingAndGlyphs">36.1%</text>
<text x="251.75" y="672.3" font-size="11" font-weight="bold" fill="#111" textLength="33.89" lengthAdjust="spacingAndGlyphs">CD11c</text>
<line x1="285.9" y1="665.4" x2="289.6" y2="665.4" stroke="#111" stroke-width="1.3"/>
<text x="293.12" y="672.3" font-size="11" font-weight="bold" fill="#111" textLength="19.88" lengthAdjust="spacingAndGlyphs">Mφ</text>
<path d="M34.4 608.5 L56.3 607.4 L59.6 603.4 L62.8 594 L64.4 592 L67.2 595.8 L70.5 603.4 L76 607.1 L86.9 608.3 L95 608.2 L105.2 606.5 L112 603.1 L117 597.2 L121.3 587 L125.5 576.9 L128 566.7 L129.7 554.8 L130.6 544.7 L132.3 532.8 L134 517.5 L135.7 502.3 L137.4 487 L138.7 478.6 L139.9 474.3 L141.6 481.9 L143.3 495.5 L145 514.2 L146.7 536.2 L148.4 560 L150.1 580.3 L151.8 597.2 L154.3 605.7 L157.7 608.2 L170.1 608.5 L176.3 608.5 L176.3 608.8 L34.4 608.8 Z" fill="#9b9b9b" stroke="#333" stroke-width="0.9" stroke-linejoin="round"/>
<rect x="32.5" y="460.5" width="143.8" height="148.3" fill="none" stroke="#b4b4b4" stroke-width="1.1"/>
<line x1="41" y1="609.3" x2="41" y2="612.9" stroke="#1a1a1a" stroke-width="1.1"/>
<line x1="88.7" y1="609.3" x2="88.7" y2="612.9" stroke="#1a1a1a" stroke-width="1.1"/>
<line x1="128.1" y1="609.3" x2="128.1" y2="612.9" stroke="#1a1a1a" stroke-width="1.1"/>
<line x1="162.9" y1="609.3" x2="162.9" y2="612.9" stroke="#1a1a1a" stroke-width="1.1"/>
<line x1="100.56" y1="609.3" x2="100.56" y2="611.2" stroke="#1a1a1a" stroke-width="0.8"/>
<line x1="107.5" y1="609.3" x2="107.5" y2="611.2" stroke="#1a1a1a" stroke-width="0.8"/>
<line x1="112.42" y1="609.3" x2="112.42" y2="611.2" stroke="#1a1a1a" stroke-width="0.8"/>
<line x1="116.24" y1="609.3" x2="116.24" y2="611.2" stroke="#1a1a1a" stroke-width="0.8"/>
<line x1="119.36" y1="609.3" x2="119.36" y2="611.2" stroke="#1a1a1a" stroke-width="0.8"/>
<line x1="122" y1="609.3" x2="122" y2="611.2" stroke="#1a1a1a" stroke-width="0.8"/>
<line x1="124.28" y1="609.3" x2="124.28" y2="611.2" stroke="#1a1a1a" stroke-width="0.8"/>
<line x1="126.3" y1="609.3" x2="126.3" y2="611.2" stroke="#1a1a1a" stroke-width="0.8"/>
<line x1="138.58" y1="609.3" x2="138.58" y2="611.2" stroke="#1a1a1a" stroke-width="0.8"/>
<line x1="144.7" y1="609.3" x2="144.7" y2="611.2" stroke="#1a1a1a" stroke-width="0.8"/>
<line x1="149.05" y1="609.3" x2="149.05" y2="611.2" stroke="#1a1a1a" stroke-width="0.8"/>
<line x1="152.42" y1="609.3" x2="152.42" y2="611.2" stroke="#1a1a1a" stroke-width="0.8"/>
<line x1="155.18" y1="609.3" x2="155.18" y2="611.2" stroke="#1a1a1a" stroke-width="0.8"/>
<line x1="157.51" y1="609.3" x2="157.51" y2="611.2" stroke="#1a1a1a" stroke-width="0.8"/>
<line x1="159.53" y1="609.3" x2="159.53" y2="611.2" stroke="#1a1a1a" stroke-width="0.8"/>
<line x1="161.31" y1="609.3" x2="161.31" y2="611.2" stroke="#1a1a1a" stroke-width="0.8"/>
<line x1="173.38" y1="609.3" x2="173.38" y2="611.2" stroke="#1a1a1a" stroke-width="0.8"/>
<line x1="86.07" y1="609.3" x2="86.07" y2="611.2" stroke="#1a1a1a" stroke-width="0.8"/>
<line x1="83.43" y1="609.3" x2="83.43" y2="611.2" stroke="#1a1a1a" stroke-width="0.8"/>
<line x1="80.8" y1="609.3" x2="80.8" y2="611.2" stroke="#1a1a1a" stroke-width="0.8"/>
<line x1="78.17" y1="609.3" x2="78.17" y2="611.2" stroke="#1a1a1a" stroke-width="0.8"/>
<line x1="75.53" y1="609.3" x2="75.53" y2="611.2" stroke="#1a1a1a" stroke-width="0.8"/>
<line x1="72.9" y1="609.3" x2="72.9" y2="611.2" stroke="#1a1a1a" stroke-width="0.8"/>
<line x1="70.27" y1="609.3" x2="70.27" y2="611.2" stroke="#1a1a1a" stroke-width="0.8"/>
<line x1="43.67" y1="609.3" x2="43.67" y2="611.2" stroke="#1a1a1a" stroke-width="0.8"/>
<line x1="46.33" y1="609.3" x2="46.33" y2="611.2" stroke="#1a1a1a" stroke-width="0.8"/>
<line x1="49" y1="609.3" x2="49" y2="611.2" stroke="#1a1a1a" stroke-width="0.8"/>
<line x1="51.67" y1="609.3" x2="51.67" y2="611.2" stroke="#1a1a1a" stroke-width="0.8"/>
<line x1="54.33" y1="609.3" x2="54.33" y2="611.2" stroke="#1a1a1a" stroke-width="0.8"/>
<line x1="57" y1="609.3" x2="57" y2="611.2" stroke="#1a1a1a" stroke-width="0.8"/>
<line x1="59.67" y1="609.3" x2="59.67" y2="611.2" stroke="#1a1a1a" stroke-width="0.8"/>
<line x1="61.45" y1="609.3" x2="61.45" y2="612.9" stroke="#1a1a1a" stroke-width="0.9"/>
<line x1="62.16" y1="609.3" x2="62.16" y2="612.9" stroke="#1a1a1a" stroke-width="0.9"/>
<line x1="62.87" y1="609.3" x2="62.87" y2="612.9" stroke="#1a1a1a" stroke-width="0.9"/>
<line x1="63.58" y1="609.3" x2="63.58" y2="612.9" stroke="#1a1a1a" stroke-width="0.9"/>
<line x1="64.29" y1="609.3" x2="64.29" y2="612.9" stroke="#1a1a1a" stroke-width="0.9"/>
<line x1="65" y1="609.3" x2="65" y2="612.9" stroke="#1a1a1a" stroke-width="0.9"/>
<line x1="65.71" y1="609.3" x2="65.71" y2="612.9" stroke="#1a1a1a" stroke-width="0.9"/>
<line x1="66.42" y1="609.3" x2="66.42" y2="612.9" stroke="#1a1a1a" stroke-width="0.9"/>
<line x1="67.13" y1="609.3" x2="67.13" y2="612.9" stroke="#1a1a1a" stroke-width="0.9"/>
<line x1="67.84" y1="609.3" x2="67.84" y2="612.9" stroke="#1a1a1a" stroke-width="0.9"/>
<line x1="68.56" y1="609.3" x2="68.56" y2="612.9" stroke="#1a1a1a" stroke-width="0.9"/>
<text x="88.4" y="620.8" font-size="6.2" fill="#3a3a3a" textLength="6.12" lengthAdjust="spacingAndGlyphs">10</text>
<text x="94.46" y="617.3" font-size="5.2" fill="#3a3a3a" textLength="3.54" lengthAdjust="spacingAndGlyphs">3</text>
<text x="127.8" y="620.8" font-size="6.2" fill="#3a3a3a" textLength="6.12" lengthAdjust="spacingAndGlyphs">10</text>
<text x="133.99" y="617.3" font-size="5.2" fill="#3a3a3a" textLength="3.27" lengthAdjust="spacingAndGlyphs">4</text>
<text x="162.6" y="620.8" font-size="6.2" fill="#3a3a3a" textLength="6.12" lengthAdjust="spacingAndGlyphs">10</text>
<text x="168.66" y="617.3" font-size="5.2" fill="#3a3a3a" textLength="3.47" lengthAdjust="spacingAndGlyphs">5</text>
<text x="66.02" y="620.6" font-size="6" fill="#3a3a3a" textLength="2.34" lengthAdjust="spacingAndGlyphs">0</text>
<text x="38.12" y="620.8" font-size="6.2" fill="#3a3a3a" textLength="3.38" lengthAdjust="spacingAndGlyphs">−</text>
<text x="41.1" y="620.8" font-size="6.2" fill="#3a3a3a" textLength="6.12" lengthAdjust="spacingAndGlyphs">10</text>
<text x="47.16" y="617.3" font-size="5.2" fill="#3a3a3a" textLength="3.54" lengthAdjust="spacingAndGlyphs">3</text>
<line x1="28.4" y1="607.6" x2="32" y2="607.6" stroke="#222" stroke-width="1"/>
<text x="22.9" y="609.5" font-size="5.4" fill="#3a3a3a" textLength="3" lengthAdjust="spacingAndGlyphs">0</text>
<line x1="28.4" y1="571.3" x2="32" y2="571.3" stroke="#222" stroke-width="1"/>
<text x="16.9" y="573.2" font-size="5.4" fill="#3a3a3a" textLength="9.01" lengthAdjust="spacingAndGlyphs">100</text>
<line x1="28.4" y1="534.8" x2="32" y2="534.8" stroke="#222" stroke-width="1"/>
<text x="16.9" y="536.7" font-size="5.4" fill="#3a3a3a" textLength="9.01" lengthAdjust="spacingAndGlyphs">200</text>
<line x1="28.4" y1="498.3" x2="32" y2="498.3" stroke="#222" stroke-width="1"/>
<text x="16.9" y="500.2" font-size="5.4" fill="#3a3a3a" textLength="9.01" lengthAdjust="spacingAndGlyphs">300</text>
<line x1="28.4" y1="462" x2="32" y2="462" stroke="#222" stroke-width="1"/>
<text x="16.9" y="463.9" font-size="5.4" fill="#3a3a3a" textLength="9.01" lengthAdjust="spacingAndGlyphs">400</text>
<line x1="30.3" y1="600.34" x2="32" y2="600.34" stroke="#222" stroke-width="0.8"/>
<line x1="30.3" y1="593.08" x2="32" y2="593.08" stroke="#222" stroke-width="0.8"/>
<line x1="30.3" y1="585.82" x2="32" y2="585.82" stroke="#222" stroke-width="0.8"/>
<line x1="30.3" y1="578.56" x2="32" y2="578.56" stroke="#222" stroke-width="0.8"/>
<line x1="30.3" y1="564.04" x2="32" y2="564.04" stroke="#222" stroke-width="0.8"/>
<line x1="30.3" y1="556.78" x2="32" y2="556.78" stroke="#222" stroke-width="0.8"/>
<line x1="30.3" y1="549.52" x2="32" y2="549.52" stroke="#222" stroke-width="0.8"/>
<line x1="30.3" y1="542.26" x2="32" y2="542.26" stroke="#222" stroke-width="0.8"/>
<line x1="30.3" y1="527.74" x2="32" y2="527.74" stroke="#222" stroke-width="0.8"/>
<line x1="30.3" y1="520.48" x2="32" y2="520.48" stroke="#222" stroke-width="0.8"/>
<line x1="30.3" y1="513.22" x2="32" y2="513.22" stroke="#222" stroke-width="0.8"/>
<line x1="30.3" y1="505.96" x2="32" y2="505.96" stroke="#222" stroke-width="0.8"/>
<line x1="30.3" y1="491.44" x2="32" y2="491.44" stroke="#222" stroke-width="0.8"/>
<line x1="30.3" y1="484.18" x2="32" y2="484.18" stroke="#222" stroke-width="0.8"/>
<line x1="30.3" y1="476.92" x2="32" y2="476.92" stroke="#222" stroke-width="0.8"/>
<line x1="30.3" y1="469.66" x2="32" y2="469.66" stroke="#222" stroke-width="0.8"/>
<line x1="47.5" y1="503.8" x2="88.7" y2="503.8" stroke="#555" stroke-width="1.3"/>
<line x1="47.5" y1="500.7" x2="47.5" y2="506.9" stroke="#555" stroke-width="1.3"/>
<line x1="88.7" y1="500.7" x2="88.7" y2="506.9" stroke="#555" stroke-width="1.3"/>
<line x1="97.4" y1="503.8" x2="162.5" y2="503.8" stroke="#555" stroke-width="1.3"/>
<line x1="97.4" y1="500.7" x2="97.4" y2="506.9" stroke="#555" stroke-width="1.3"/>
<line x1="162.5" y1="500.7" x2="162.5" y2="506.9" stroke="#555" stroke-width="1.3"/>
<text x="53.41" y="496.1" font-size="10.8" fill="#222" textLength="26.33" lengthAdjust="spacingAndGlyphs">6.2%</text>
<text x="102.87" y="496.1" font-size="10.8" fill="#222" textLength="32.27" lengthAdjust="spacingAndGlyphs">93.2%</text>
<text x="32.75" y="442.4" font-size="11.3" font-weight="bold" fill="#111" textLength="64.7" lengthAdjust="spacingAndGlyphs">GM-CSF Mφ</text>
<text x="32.68" y="454.6" font-size="10.2" fill="#333" textLength="125.11" lengthAdjust="spacingAndGlyphs">Gated on singlet viable DR</text>
<text x="157.44" y="450.4" font-size="6.2" fill="#333" textLength="3.14" lengthAdjust="spacingAndGlyphs">+</text>
<text x="161.6" y="454.6" font-size="10.2" fill="#333" textLength="22.59" lengthAdjust="spacingAndGlyphs">cells</text>
<path d="M212.5 608.3 L225 608.2 L231.5 607.3 L235.2 605 L237.4 599.6 L239 588.8 L240.1 575.9 L241.1 560.9 L242 546.9 L242.7 536.1 L243.5 531.6 L244.6 531 L246 531.8 L246.7 537.2 L247.6 548 L248.9 563 L250.3 577 L251.9 588.8 L254 597.4 L257.3 603.9 L261.6 606.6 L268 607.6 L275 608.2 L283.8 607 L289 603 L293.4 598.6 L297.8 591.6 L301.3 582.8 L303.9 572.3 L305.7 560 L307.5 546 L309.2 530.2 L311 514.4 L312.7 498.6 L314.5 484.6 L316.2 475.8 L317.5 469.6 L318.9 479.3 L321 489.8 L322.4 493.3 L323.2 509.1 L325 533.7 L326.8 558.2 L328.5 581 L330.3 598.6 L332 606.5 L335.5 608.2 L356.3 608.5 L356.3 608.8 L212.5 608.8 Z" fill="#9b9b9b" stroke="#333" stroke-width="0.9" stroke-linejoin="round"/>
<rect x="212.5" y="460.5" width="143.8" height="148.3" fill="none" stroke="#b4b4b4" stroke-width="1.1"/>
<line x1="221" y1="609.3" x2="221" y2="612.9" stroke="#1a1a1a" stroke-width="1.1"/>
<line x1="268.7" y1="609.3" x2="268.7" y2="612.9" stroke="#1a1a1a" stroke-width="1.1"/>
<line x1="308.1" y1="609.3" x2="308.1" y2="612.9" stroke="#1a1a1a" stroke-width="1.1"/>
<line x1="342.9" y1="609.3" x2="342.9" y2="612.9" stroke="#1a1a1a" stroke-width="1.1"/>
<line x1="280.56" y1="609.3" x2="280.56" y2="611.2" stroke="#1a1a1a" stroke-width="0.8"/>
<line x1="287.5" y1="609.3" x2="287.5" y2="611.2" stroke="#1a1a1a" stroke-width="0.8"/>
<line x1="292.42" y1="609.3" x2="292.42" y2="611.2" stroke="#1a1a1a" stroke-width="0.8"/>
<line x1="296.24" y1="609.3" x2="296.24" y2="611.2" stroke="#1a1a1a" stroke-width="0.8"/>
<line x1="299.36" y1="609.3" x2="299.36" y2="611.2" stroke="#1a1a1a" stroke-width="0.8"/>
<line x1="302" y1="609.3" x2="302" y2="611.2" stroke="#1a1a1a" stroke-width="0.8"/>
<line x1="304.28" y1="609.3" x2="304.28" y2="611.2" stroke="#1a1a1a" stroke-width="0.8"/>
<line x1="306.3" y1="609.3" x2="306.3" y2="611.2" stroke="#1a1a1a" stroke-width="0.8"/>
<line x1="318.58" y1="609.3" x2="318.58" y2="611.2" stroke="#1a1a1a" stroke-width="0.8"/>
<line x1="324.7" y1="609.3" x2="324.7" y2="611.2" stroke="#1a1a1a" stroke-width="0.8"/>
<line x1="329.05" y1="609.3" x2="329.05" y2="611.2" stroke="#1a1a1a" stroke-width="0.8"/>
<line x1="332.42" y1="609.3" x2="332.42" y2="611.2" stroke="#1a1a1a" stroke-width="0.8"/>
<line x1="335.18" y1="609.3" x2="335.18" y2="611.2" stroke="#1a1a1a" stroke-width="0.8"/>
<line x1="337.51" y1="609.3" x2="337.51" y2="611.2" stroke="#1a1a1a" stroke-width="0.8"/>
<line x1="339.53" y1="609.3" x2="339.53" y2="611.2" stroke="#1a1a1a" stroke-width="0.8"/>
<line x1="341.31" y1="609.3" x2="341.31" y2="611.2" stroke="#1a1a1a" stroke-width="0.8"/>
<line x1="353.38" y1="609.3" x2="353.38" y2="611.2" stroke="#1a1a1a" stroke-width="0.8"/>
<line x1="266.07" y1="609.3" x2="266.07" y2="611.2" stroke="#1a1a1a" stroke-width="0.8"/>
<line x1="263.43" y1="609.3" x2="263.43" y2="611.2" stroke="#1a1a1a" stroke-width="0.8"/>
<line x1="260.8" y1="609.3" x2="260.8" y2="611.2" stroke="#1a1a1a" stroke-width="0.8"/>
<line x1="258.17" y1="609.3" x2="258.17" y2="611.2" stroke="#1a1a1a" stroke-width="0.8"/>
<line x1="255.53" y1="609.3" x2="255.53" y2="611.2" stroke="#1a1a1a" stroke-width="0.8"/>
<line x1="252.9" y1="609.3" x2="252.9" y2="611.2" stroke="#1a1a1a" stroke-width="0.8"/>
<line x1="250.27" y1="609.3" x2="250.27" y2="611.2" stroke="#1a1a1a" stroke-width="0.8"/>
<line x1="223.67" y1="609.3" x2="223.67" y2="611.2" stroke="#1a1a1a" stroke-width="0.8"/>
<line x1="226.33" y1="609.3" x2="226.33" y2="611.2" stroke="#1a1a1a" stroke-width="0.8"/>
<line x1="229" y1="609.3" x2="229" y2="611.2" stroke="#1a1a1a" stroke-width="0.8"/>
<line x1="231.67" y1="609.3" x2="231.67" y2="611.2" stroke="#1a1a1a" stroke-width="0.8"/>
<line x1="234.33" y1="609.3" x2="234.33" y2="611.2" stroke="#1a1a1a" stroke-width="0.8"/>
<line x1="237" y1="609.3" x2="237" y2="611.2" stroke="#1a1a1a" stroke-width="0.8"/>
<line x1="239.67" y1="609.3" x2="239.67" y2="611.2" stroke="#1a1a1a" stroke-width="0.8"/>
<line x1="241.44" y1="609.3" x2="241.44" y2="612.9" stroke="#1a1a1a" stroke-width="0.9"/>
<line x1="242.16" y1="609.3" x2="242.16" y2="612.9" stroke="#1a1a1a" stroke-width="0.9"/>
<line x1="242.87" y1="609.3" x2="242.87" y2="612.9" stroke="#1a1a1a" stroke-width="0.9"/>
<line x1="243.58" y1="609.3" x2="243.58" y2="612.9" stroke="#1a1a1a" stroke-width="0.9"/>
<line x1="244.29" y1="609.3" x2="244.29" y2="612.9" stroke="#1a1a1a" stroke-width="0.9"/>
<line x1="245" y1="609.3" x2="245" y2="612.9" stroke="#1a1a1a" stroke-width="0.9"/>
<line x1="245.71" y1="609.3" x2="245.71" y2="612.9" stroke="#1a1a1a" stroke-width="0.9"/>
<line x1="246.42" y1="609.3" x2="246.42" y2="612.9" stroke="#1a1a1a" stroke-width="0.9"/>
<line x1="247.13" y1="609.3" x2="247.13" y2="612.9" stroke="#1a1a1a" stroke-width="0.9"/>
<line x1="247.84" y1="609.3" x2="247.84" y2="612.9" stroke="#1a1a1a" stroke-width="0.9"/>
<line x1="248.56" y1="609.3" x2="248.56" y2="612.9" stroke="#1a1a1a" stroke-width="0.9"/>
<text x="268.4" y="620.8" font-size="6.2" fill="#3a3a3a" textLength="6.12" lengthAdjust="spacingAndGlyphs">10</text>
<text x="274.46" y="617.3" font-size="5.2" fill="#3a3a3a" textLength="3.54" lengthAdjust="spacingAndGlyphs">3</text>
<text x="307.8" y="620.8" font-size="6.2" fill="#3a3a3a" textLength="6.12" lengthAdjust="spacingAndGlyphs">10</text>
<text x="313.99" y="617.3" font-size="5.2" fill="#3a3a3a" textLength="3.27" lengthAdjust="spacingAndGlyphs">4</text>
<text x="342.6" y="620.8" font-size="6.2" fill="#3a3a3a" textLength="6.12" lengthAdjust="spacingAndGlyphs">10</text>
<text x="348.66" y="617.3" font-size="5.2" fill="#3a3a3a" textLength="3.47" lengthAdjust="spacingAndGlyphs">5</text>
<text x="246.02" y="620.6" font-size="6" fill="#3a3a3a" textLength="2.34" lengthAdjust="spacingAndGlyphs">0</text>
<text x="218.12" y="620.8" font-size="6.2" fill="#3a3a3a" textLength="3.38" lengthAdjust="spacingAndGlyphs">−</text>
<text x="221.1" y="620.8" font-size="6.2" fill="#3a3a3a" textLength="6.12" lengthAdjust="spacingAndGlyphs">10</text>
<text x="227.16" y="617.3" font-size="5.2" fill="#3a3a3a" textLength="3.54" lengthAdjust="spacingAndGlyphs">3</text>
<line x1="208.4" y1="608.1" x2="212" y2="608.1" stroke="#222" stroke-width="1"/>
<text x="202.9" y="610" font-size="5.4" fill="#3a3a3a" textLength="3" lengthAdjust="spacingAndGlyphs">0</text>
<line x1="208.4" y1="583.4" x2="212" y2="583.4" stroke="#222" stroke-width="1"/>
<text x="199.9" y="585.3" font-size="5.4" fill="#3a3a3a" textLength="6.01" lengthAdjust="spacingAndGlyphs">50</text>
<line x1="208.4" y1="558.7" x2="212" y2="558.7" stroke="#222" stroke-width="1"/>
<text x="196.9" y="560.6" font-size="5.4" fill="#3a3a3a" textLength="9.01" lengthAdjust="spacingAndGlyphs">100</text>
<line x1="208.4" y1="534" x2="212" y2="534" stroke="#222" stroke-width="1"/>
<text x="196.9" y="535.9" font-size="5.4" fill="#3a3a3a" textLength="9.01" lengthAdjust="spacingAndGlyphs">150</text>
<line x1="208.4" y1="509.3" x2="212" y2="509.3" stroke="#222" stroke-width="1"/>
<text x="196.9" y="511.2" font-size="5.4" fill="#3a3a3a" textLength="9.01" lengthAdjust="spacingAndGlyphs">200</text>
<line x1="208.4" y1="484.6" x2="212" y2="484.6" stroke="#222" stroke-width="1"/>
<text x="196.9" y="486.5" font-size="5.4" fill="#3a3a3a" textLength="9.01" lengthAdjust="spacingAndGlyphs">250</text>
<line x1="210.3" y1="603.16" x2="212" y2="603.16" stroke="#222" stroke-width="0.8"/>
<line x1="210.3" y1="598.22" x2="212" y2="598.22" stroke="#222" stroke-width="0.8"/>
<line x1="210.3" y1="593.28" x2="212" y2="593.28" stroke="#222" stroke-width="0.8"/>
<line x1="210.3" y1="588.34" x2="212" y2="588.34" stroke="#222" stroke-width="0.8"/>
<line x1="210.3" y1="578.46" x2="212" y2="578.46" stroke="#222" stroke-width="0.8"/>
<line x1="210.3" y1="573.52" x2="212" y2="573.52" stroke="#222" stroke-width="0.8"/>
<line x1="210.3" y1="568.58" x2="212" y2="568.58" stroke="#222" stroke-width="0.8"/>
<line x1="210.3" y1="563.64" x2="212" y2="563.64" stroke="#222" stroke-width="0.8"/>
<line x1="210.3" y1="553.76" x2="212" y2="553.76" stroke="#222" stroke-width="0.8"/>
<line x1="210.3" y1="548.82" x2="212" y2="548.82" stroke="#222" stroke-width="0.8"/>
<line x1="210.3" y1="543.88" x2="212" y2="543.88" stroke="#222" stroke-width="0.8"/>
<line x1="210.3" y1="538.94" x2="212" y2="538.94" stroke="#222" stroke-width="0.8"/>
<line x1="210.3" y1="529.06" x2="212" y2="529.06" stroke="#222" stroke-width="0.8"/>
<line x1="210.3" y1="524.12" x2="212" y2="524.12" stroke="#222" stroke-width="0.8"/>
<line x1="210.3" y1="519.18" x2="212" y2="519.18" stroke="#222" stroke-width="0.8"/>
<line x1="210.3" y1="514.24" x2="212" y2="514.24" stroke="#222" stroke-width="0.8"/>
<line x1="210.3" y1="504.36" x2="212" y2="504.36" stroke="#222" stroke-width="0.8"/>
<line x1="210.3" y1="499.42" x2="212" y2="499.42" stroke="#222" stroke-width="0.8"/>
<line x1="210.3" y1="494.48" x2="212" y2="494.48" stroke="#222" stroke-width="0.8"/>
<line x1="210.3" y1="489.54" x2="212" y2="489.54" stroke="#222" stroke-width="0.8"/>
<line x1="210.3" y1="479.66" x2="212" y2="479.66" stroke="#222" stroke-width="0.8"/>
<line x1="210.3" y1="474.72" x2="212" y2="474.72" stroke="#222" stroke-width="0.8"/>
<line x1="210.3" y1="469.78" x2="212" y2="469.78" stroke="#222" stroke-width="0.8"/>
<line x1="210.3" y1="464.84" x2="212" y2="464.84" stroke="#222" stroke-width="0.8"/>
<line x1="227.5" y1="503.8" x2="268.7" y2="503.8" stroke="#555" stroke-width="1.3"/>
<line x1="227.5" y1="500.7" x2="227.5" y2="506.9" stroke="#555" stroke-width="1.3"/>
<line x1="268.7" y1="500.7" x2="268.7" y2="506.9" stroke="#555" stroke-width="1.3"/>
<line x1="277.4" y1="503.8" x2="342.5" y2="503.8" stroke="#555" stroke-width="1.3"/>
<line x1="277.4" y1="500.7" x2="277.4" y2="506.9" stroke="#555" stroke-width="1.3"/>
<line x1="342.5" y1="500.7" x2="342.5" y2="506.9" stroke="#555" stroke-width="1.3"/>
<text x="233.03" y="496.1" font-size="10.8" fill="#222" textLength="31.71" lengthAdjust="spacingAndGlyphs">23.1%</text>
<text x="279.42" y="496.1" font-size="10.8" fill="#222" textLength="32.22" lengthAdjust="spacingAndGlyphs">76.4%</text>
<text x="211.67" y="441.9" font-size="11.3" font-weight="bold" fill="#111" textLength="99.26" lengthAdjust="spacingAndGlyphs">Bx-SN GM-CSF Mφ</text>
<text x="211.89" y="454.6" font-size="10.2" fill="#333" textLength="124.71" lengthAdjust="spacingAndGlyphs">Gated on singlet viable DR</text>
<text x="336.24" y="450.4" font-size="6.2" fill="#333" textLength="3.14" lengthAdjust="spacingAndGlyphs">+</text>
<text x="340.39" y="454.6" font-size="10.2" fill="#333" textLength="23.01" lengthAdjust="spacingAndGlyphs">cells</text>
<line x1="425.6" y1="238.4" x2="425.6" y2="386.2" stroke="#111" stroke-width="1.9"/>
<line x1="420.3" y1="239.2" x2="425.6" y2="239.2" stroke="#111" stroke-width="1.9"/>
<text x="397.41" y="243.2" font-size="11.2" font-weight="bold" fill="#111" textLength="17.75" lengthAdjust="spacingAndGlyphs">100</text>
<line x1="420.3" y1="268.44" x2="425.6" y2="268.44" stroke="#111" stroke-width="1.9"/>
<text x="403.3" y="272.44" font-size="11.2" font-weight="bold" fill="#111" textLength="11.83" lengthAdjust="spacingAndGlyphs">80</text>
<line x1="420.3" y1="297.68" x2="425.6" y2="297.68" stroke="#111" stroke-width="1.9"/>
<text x="403.3" y="301.68" font-size="11.2" font-weight="bold" fill="#111" textLength="11.83" lengthAdjust="spacingAndGlyphs">60</text>
<line x1="420.3" y1="326.92" x2="425.6" y2="326.92" stroke="#111" stroke-width="1.9"/>
<text x="403.3" y="330.92" font-size="11.2" font-weight="bold" fill="#111" textLength="11.83" lengthAdjust="spacingAndGlyphs">40</text>
<line x1="420.3" y1="356.16" x2="425.6" y2="356.16" stroke="#111" stroke-width="1.9"/>
<text x="403.3" y="360.16" font-size="11.2" font-weight="bold" fill="#111" textLength="11.83" lengthAdjust="spacingAndGlyphs">20</text>
<line x1="420.3" y1="385.4" x2="425.6" y2="385.4" stroke="#111" stroke-width="1.9"/>
<text x="409.24" y="389.4" font-size="11.2" font-weight="bold" fill="#111" textLength="5.92" lengthAdjust="spacingAndGlyphs">0</text>
<line x1="425.6" y1="385.4" x2="685" y2="385.4" stroke="#111" stroke-width="1.9"/>
<line x1="468.6" y1="385.4" x2="468.6" y2="390.3" stroke="#111" stroke-width="1.9"/>
<line x1="554.8" y1="385.4" x2="554.8" y2="390.3" stroke="#111" stroke-width="1.9"/>
<line x1="641.9" y1="385.4" x2="641.9" y2="390.3" stroke="#111" stroke-width="1.9"/>
<line x1="511.7" y1="236.5" x2="511.7" y2="385.4" stroke="#111" stroke-width="2.1" stroke-dasharray="7.4 3.2"/>
<line x1="597.6" y1="236.5" x2="597.6" y2="385.4" stroke="#111" stroke-width="2.1" stroke-dasharray="7.4 3.2"/>
<line x1="683" y1="236.5" x2="683" y2="385.4" stroke="#111" stroke-width="2.1" stroke-dasharray="7.4 3.2"/>
<circle cx="485.2" cy="314.2" r="2.65" fill="#f4f4f4" stroke="#a3a3a3" stroke-width="1.9"/>
<circle cx="485.2" cy="326.5" r="2.65" fill="#f4f4f4" stroke="#a3a3a3" stroke-width="1.9"/>
<circle cx="485.2" cy="329.7" r="2.65" fill="#f4f4f4" stroke="#a3a3a3" stroke-width="1.9"/>
<circle cx="485.2" cy="332.2" r="2.65" fill="#f4f4f4" stroke="#a3a3a3" stroke-width="1.9"/>
<circle cx="485.2" cy="341.2" r="2.65" fill="#f4f4f4" stroke="#a3a3a3" stroke-width="1.9"/>
<circle cx="485.2" cy="344.5" r="2.65" fill="#f4f4f4" stroke="#a3a3a3" stroke-width="1.9"/>
<circle cx="485.2" cy="346.9" r="2.65" fill="#f4f4f4" stroke="#a3a3a3" stroke-width="1.9"/>
<circle cx="485.2" cy="349.4" r="2.65" fill="#f4f4f4" stroke="#a3a3a3" stroke-width="1.9"/>
<circle cx="485.2" cy="364.6" r="2.65" fill="#f4f4f4" stroke="#a3a3a3" stroke-width="1.9"/>
<circle cx="485.2" cy="373.9" r="2.65" fill="#f4f4f4" stroke="#a3a3a3" stroke-width="1.9"/>
<circle cx="485.2" cy="376.4" r="2.65" fill="#f4f4f4" stroke="#a3a3a3" stroke-width="1.9"/>
<circle cx="485.2" cy="378.8" r="2.65" fill="#f4f4f4" stroke="#a3a3a3" stroke-width="1.9"/>
<circle cx="485.2" cy="381.3" r="2.65" fill="#f4f4f4" stroke="#a3a3a3" stroke-width="1.9"/>
<circle cx="485.2" cy="382.9" r="2.65" fill="#f4f4f4" stroke="#a3a3a3" stroke-width="1.9"/>
<circle cx="485.2" cy="334" r="2.65" fill="#f4f4f4" stroke="#a3a3a3" stroke-width="1.9"/>
<circle cx="485.2" cy="347" r="2.65" fill="#f4f4f4" stroke="#a3a3a3" stroke-width="1.9"/>
<line x1="452.6" y1="294.2" x2="485.2" y2="326.5" stroke="#111" stroke-width="1.25"/>
<line x1="452.6" y1="297" x2="485.2" y2="341.2" stroke="#111" stroke-width="1.25"/>
<line x1="452.6" y1="300.3" x2="485.2" y2="314.2" stroke="#111" stroke-width="1.25"/>
<line x1="452.6" y1="302.7" x2="485.2" y2="346.9" stroke="#111" stroke-width="1.25"/>
<line x1="452.6" y1="312.9" x2="485.2" y2="329.7" stroke="#111" stroke-width="1.25"/>
<line x1="452.6" y1="315.8" x2="485.2" y2="334" stroke="#111" stroke-width="1.25"/>
<line x1="452.6" y1="319.1" x2="485.2" y2="344.5" stroke="#111" stroke-width="1.25"/>
<line x1="452.6" y1="321.6" x2="485.2" y2="332.2" stroke="#111" stroke-width="1.25"/>
<line x1="452.6" y1="324" x2="485.2" y2="349.4" stroke="#111" stroke-width="1.25"/>
<line x1="452.6" y1="326.5" x2="485.2" y2="347" stroke="#111" stroke-width="1.25"/>
<line x1="452.6" y1="343.3" x2="485.2" y2="364.6" stroke="#111" stroke-width="1.25"/>
<line x1="452.6" y1="350.2" x2="485.2" y2="376.4" stroke="#111" stroke-width="1.25"/>
<line x1="452.6" y1="357.2" x2="485.2" y2="373.9" stroke="#111" stroke-width="1.25"/>
<line x1="452.6" y1="378" x2="485.2" y2="378.8" stroke="#111" stroke-width="1.25"/>
<line x1="452.6" y1="380" x2="485.2" y2="382.9" stroke="#111" stroke-width="1.25"/>
<line x1="452.6" y1="381.3" x2="485.2" y2="381.3" stroke="#111" stroke-width="1.25"/>
<circle cx="452.6" cy="294.2" r="3.4" fill="#111"/>
<circle cx="452.6" cy="297" r="3.4" fill="#111"/>
<circle cx="452.6" cy="300.3" r="3.4" fill="#111"/>
<circle cx="452.6" cy="302.7" r="3.4" fill="#111"/>
<circle cx="452.6" cy="312.9" r="3.4" fill="#111"/>
<circle cx="452.6" cy="315.8" r="3.4" fill="#111"/>
<circle cx="452.6" cy="319.1" r="3.4" fill="#111"/>
<circle cx="452.6" cy="321.6" r="3.4" fill="#111"/>
<circle cx="452.6" cy="324" r="3.4" fill="#111"/>
<circle cx="452.6" cy="326.5" r="3.4" fill="#111"/>
<circle cx="452.6" cy="343.3" r="3.4" fill="#111"/>
<circle cx="452.6" cy="350.2" r="3.4" fill="#111"/>
<circle cx="452.6" cy="357.2" r="3.4" fill="#111"/>
<circle cx="452.6" cy="378" r="3.4" fill="#111"/>
<circle cx="452.6" cy="380" r="3.4" fill="#111"/>
<circle cx="452.6" cy="381.3" r="3.4" fill="#111"/>
<circle cx="571" cy="268.5" r="2.65" fill="#f4f4f4" stroke="#a3a3a3" stroke-width="1.9"/>
<circle cx="571" cy="279.8" r="2.65" fill="#f4f4f4" stroke="#a3a3a3" stroke-width="1.9"/>
<circle cx="571" cy="301.1" r="2.65" fill="#f4f4f4" stroke="#a3a3a3" stroke-width="1.9"/>
<circle cx="571" cy="315.8" r="2.65" fill="#f4f4f4" stroke="#a3a3a3" stroke-width="1.9"/>
<circle cx="571" cy="318.3" r="2.65" fill="#f4f4f4" stroke="#a3a3a3" stroke-width="1.9"/>
<circle cx="571" cy="321.5" r="2.65" fill="#f4f4f4" stroke="#a3a3a3" stroke-width="1.9"/>
<circle cx="571" cy="324.6" r="2.65" fill="#f4f4f4" stroke="#a3a3a3" stroke-width="1.9"/>
<circle cx="571" cy="327.1" r="2.65" fill="#f4f4f4" stroke="#a3a3a3" stroke-width="1.9"/>
<circle cx="571" cy="329.9" r="2.65" fill="#f4f4f4" stroke="#a3a3a3" stroke-width="1.9"/>
<circle cx="571" cy="333" r="2.65" fill="#f4f4f4" stroke="#a3a3a3" stroke-width="1.9"/>
<circle cx="571" cy="336.2" r="2.65" fill="#f4f4f4" stroke="#a3a3a3" stroke-width="1.9"/>
<circle cx="571" cy="338.9" r="2.65" fill="#f4f4f4" stroke="#a3a3a3" stroke-width="1.9"/>
<line x1="539" y1="257.3" x2="571" y2="279.8" stroke="#111" stroke-width="1.25"/>
<line x1="539" y1="285.7" x2="571" y2="268.5" stroke="#111" stroke-width="1.25"/>
<line x1="539" y1="301.1" x2="571" y2="315.8" stroke="#111" stroke-width="1.25"/>
<line x1="539" y1="320.4" x2="571" y2="301.1" stroke="#111" stroke-width="1.25"/>
<line x1="539" y1="323.6" x2="571" y2="318.3" stroke="#111" stroke-width="1.25"/>
<line x1="539" y1="326.7" x2="571" y2="321.5" stroke="#111" stroke-width="1.25"/>
<line x1="539" y1="329.9" x2="571" y2="315.8" stroke="#111" stroke-width="1.25"/>
<line x1="539" y1="333" x2="571" y2="324.6" stroke="#111" stroke-width="1.25"/>
<line x1="539" y1="336.2" x2="571" y2="327.1" stroke="#111" stroke-width="1.25"/>
<line x1="539" y1="339.3" x2="571" y2="329.9" stroke="#111" stroke-width="1.25"/>
<line x1="539" y1="342.5" x2="571" y2="333" stroke="#111" stroke-width="1.25"/>
<line x1="539" y1="345.6" x2="571" y2="336.2" stroke="#111" stroke-width="1.25"/>
<line x1="539" y1="348.8" x2="571" y2="338.9" stroke="#111" stroke-width="1.25"/>
<line x1="539" y1="352" x2="571" y2="333" stroke="#111" stroke-width="1.25"/>
<line x1="539" y1="354" x2="571" y2="336.2" stroke="#111" stroke-width="1.25"/>
<circle cx="539" cy="257.3" r="3.4" fill="#111"/>
<circle cx="539" cy="285.7" r="3.4" fill="#111"/>
<circle cx="539" cy="301.1" r="3.4" fill="#111"/>
<circle cx="539" cy="320.4" r="3.4" fill="#111"/>
<circle cx="539" cy="323.6" r="3.4" fill="#111"/>
<circle cx="539" cy="326.7" r="3.4" fill="#111"/>
<circle cx="539" cy="329.9" r="3.4" fill="#111"/>
<circle cx="539" cy="333" r="3.4" fill="#111"/>
<circle cx="539" cy="336.2" r="3.4" fill="#111"/>
<circle cx="539" cy="339.3" r="3.4" fill="#111"/>
<circle cx="539" cy="342.5" r="3.4" fill="#111"/>
<circle cx="539" cy="345.6" r="3.4" fill="#111"/>
<circle cx="539" cy="348.8" r="3.4" fill="#111"/>
<circle cx="539" cy="352" r="3.4" fill="#111"/>
<circle cx="539" cy="354" r="3.4" fill="#111"/>
<circle cx="657.4" cy="293.7" r="2.65" fill="#f4f4f4" stroke="#a3a3a3" stroke-width="1.9"/>
<circle cx="657.4" cy="305.3" r="2.65" fill="#f4f4f4" stroke="#a3a3a3" stroke-width="1.9"/>
<circle cx="657.4" cy="307.8" r="2.65" fill="#f4f4f4" stroke="#a3a3a3" stroke-width="1.9"/>
<circle cx="657.4" cy="313.7" r="2.65" fill="#f4f4f4" stroke="#a3a3a3" stroke-width="1.9"/>
<circle cx="657.4" cy="328.4" r="2.65" fill="#f4f4f4" stroke="#a3a3a3" stroke-width="1.9"/>
<circle cx="657.4" cy="336.2" r="2.65" fill="#f4f4f4" stroke="#a3a3a3" stroke-width="1.9"/>
<circle cx="657.4" cy="343.5" r="2.65" fill="#f4f4f4" stroke="#a3a3a3" stroke-width="1.9"/>
<circle cx="657.4" cy="349.8" r="2.65" fill="#f4f4f4" stroke="#a3a3a3" stroke-width="1.9"/>
<circle cx="657.4" cy="354.1" r="2.65" fill="#f4f4f4" stroke="#a3a3a3" stroke-width="1.9"/>
<circle cx="657.4" cy="356.2" r="2.65" fill="#f4f4f4" stroke="#a3a3a3" stroke-width="1.9"/>
<circle cx="657.4" cy="359.3" r="2.65" fill="#f4f4f4" stroke="#a3a3a3" stroke-width="1.9"/>
<circle cx="657.4" cy="362.5" r="2.65" fill="#f4f4f4" stroke="#a3a3a3" stroke-width="1.9"/>
<circle cx="657.4" cy="366.7" r="2.65" fill="#f4f4f4" stroke="#a3a3a3" stroke-width="1.9"/>
<line x1="625.5" y1="283.2" x2="657.4" y2="293.7" stroke="#111" stroke-width="1.25"/>
<line x1="625.5" y1="324.2" x2="657.4" y2="305.3" stroke="#111" stroke-width="1.25"/>
<line x1="625.5" y1="327.1" x2="657.4" y2="307.8" stroke="#111" stroke-width="1.25"/>
<line x1="625.5" y1="329.9" x2="657.4" y2="313.7" stroke="#111" stroke-width="1.25"/>
<line x1="625.5" y1="344.2" x2="657.4" y2="336.2" stroke="#111" stroke-width="1.25"/>
<line x1="625.5" y1="349.4" x2="657.4" y2="328.4" stroke="#111" stroke-width="1.25"/>
<line x1="625.5" y1="358.3" x2="657.4" y2="343.5" stroke="#111" stroke-width="1.25"/>
<line x1="625.5" y1="360.8" x2="657.4" y2="354.1" stroke="#111" stroke-width="1.25"/>
<line x1="625.5" y1="363.5" x2="657.4" y2="349.8" stroke="#111" stroke-width="1.25"/>
<line x1="625.5" y1="366.2" x2="657.4" y2="356.2" stroke="#111" stroke-width="1.25"/>
<line x1="625.5" y1="368.8" x2="657.4" y2="359.3" stroke="#111" stroke-width="1.25"/>
<line x1="625.5" y1="373.6" x2="657.4" y2="362.5" stroke="#111" stroke-width="1.25"/>
<line x1="625.5" y1="377.2" x2="657.4" y2="366.7" stroke="#111" stroke-width="1.25"/>
<circle cx="625.5" cy="283.2" r="3.4" fill="#111"/>
<circle cx="625.5" cy="324.2" r="3.4" fill="#111"/>
<circle cx="625.5" cy="327.1" r="3.4" fill="#111"/>
<circle cx="625.5" cy="329.9" r="3.4" fill="#111"/>
<circle cx="625.5" cy="344.2" r="3.4" fill="#111"/>
<circle cx="625.5" cy="349.4" r="3.4" fill="#111"/>
<circle cx="625.5" cy="358.3" r="3.4" fill="#111"/>
<circle cx="625.5" cy="360.8" r="3.4" fill="#111"/>
<circle cx="625.5" cy="363.5" r="3.4" fill="#111"/>
<circle cx="625.5" cy="366.2" r="3.4" fill="#111"/>
<circle cx="625.5" cy="368.8" r="3.4" fill="#111"/>
<circle cx="625.5" cy="373.6" r="3.4" fill="#111"/>
<circle cx="625.5" cy="377.2" r="3.4" fill="#111"/>
<text x="442.42" y="406" font-size="11.9" font-weight="bold" fill="#111" textLength="35.05" lengthAdjust="spacingAndGlyphs">CD11c</text>
<text x="477.02" y="402.4" font-size="8.6" font-weight="bold" fill="#111" textLength="17.56" lengthAdjust="spacingAndGlyphs">high</text>
<text x="530.62" y="406" font-size="11.9" font-weight="bold" fill="#111" textLength="35.26" lengthAdjust="spacingAndGlyphs">CD11c</text>
<text x="565.87" y="402.4" font-size="8.6" font-weight="bold" fill="#111" textLength="14.33" lengthAdjust="spacingAndGlyphs">dim</text>
<text x="622.43" y="406" font-size="11.9" font-weight="bold" fill="#111" textLength="34.34" lengthAdjust="spacingAndGlyphs">CD11c</text>
<line x1="657" y1="399" x2="661.9" y2="399" stroke="#111" stroke-width="1.2"/>
<text transform="translate(391.7 352.7) rotate(-90)" x="-0.31" y="0" font-size="12.2" font-weight="bold" fill="#111" textLength="82.52" lengthAdjust="spacingAndGlyphs">%Mφ subsets</text>
<line x1="431.9" y1="217.5" x2="448.4" y2="217.5" stroke="#111" stroke-width="1.3"/>
<circle cx="440.1" cy="217.5" r="3.5" fill="#111"/>
<line x1="431.9" y1="233.4" x2="448.4" y2="233.4" stroke="#111" stroke-width="1.3"/>
<circle cx="440.1" cy="233.4" r="2.7" fill="#f4f4f4" stroke="#a3a3a3" stroke-width="1.7"/>
<text x="452.72" y="221.5" font-size="11.5" fill="#111" textLength="56.46" lengthAdjust="spacingAndGlyphs">18 h Basal</text>
<text x="452.73" y="237.2" font-size="11.5" fill="#111" textLength="48.71" lengthAdjust="spacingAndGlyphs">18 h LPS</text>
<text x="455.9" y="256.3" font-size="14.23" font-weight="bold" fill="#111" textLength="5.98" lengthAdjust="spacingAndGlyphs">*</text>
<text x="462.48" y="256.3" font-size="14.23" font-weight="bold" fill="#111" textLength="5.98" lengthAdjust="spacingAndGlyphs">*</text>
<text x="469.06" y="256.3" font-size="14.23" font-weight="bold" fill="#111" textLength="5.98" lengthAdjust="spacingAndGlyphs">*</text>
<text x="639.8" y="253" font-size="13.42" font-weight="bold" fill="#111" textLength="5.16" lengthAdjust="spacingAndGlyphs">*</text>
<line x1="426" y1="456.22" x2="426" y2="608" stroke="#111" stroke-width="1.9"/>
<line x1="420.3" y1="457.02" x2="426" y2="457.02" stroke="#111" stroke-width="1.9"/>
<text x="403.6" y="461.02" font-size="11.2" font-weight="bold" fill="#111" textLength="11.83" lengthAdjust="spacingAndGlyphs">60</text>
<line x1="420.3" y1="507.08" x2="426" y2="507.08" stroke="#111" stroke-width="1.9"/>
<text x="403.6" y="511.08" font-size="11.2" font-weight="bold" fill="#111" textLength="11.83" lengthAdjust="spacingAndGlyphs">40</text>
<line x1="420.3" y1="557.14" x2="426" y2="557.14" stroke="#111" stroke-width="1.9"/>
<text x="403.6" y="561.14" font-size="11.2" font-weight="bold" fill="#111" textLength="11.83" lengthAdjust="spacingAndGlyphs">20</text>
<line x1="420.3" y1="607.2" x2="426" y2="607.2" stroke="#111" stroke-width="1.9"/>
<text x="409.54" y="611.2" font-size="11.2" font-weight="bold" fill="#111" textLength="5.92" lengthAdjust="spacingAndGlyphs">0</text>
<line x1="422" y1="482.05" x2="426" y2="482.05" stroke="#111" stroke-width="1.9"/>
<line x1="422" y1="532.11" x2="426" y2="532.11" stroke="#111" stroke-width="1.9"/>
<line x1="422" y1="582.17" x2="426" y2="582.17" stroke="#111" stroke-width="1.9"/>
<line x1="426" y1="607.2" x2="650.3" y2="607.2" stroke="#111" stroke-width="1.9"/>
<line x1="481.6" y1="607.2" x2="481.6" y2="612.5" stroke="#111" stroke-width="1.9"/>
<line x1="594.1" y1="607.2" x2="594.1" y2="612.5" stroke="#111" stroke-width="1.9"/>
<line x1="481.6" y1="572.7" x2="594.1" y2="561.9" stroke="#111" stroke-width="1.25"/>
<line x1="481.6" y1="574.7" x2="594.1" y2="539.8" stroke="#111" stroke-width="1.25"/>
<line x1="481.6" y1="576.7" x2="594.1" y2="522.2" stroke="#111" stroke-width="1.25"/>
<line x1="481.6" y1="578.7" x2="594.1" y2="507.3" stroke="#111" stroke-width="1.25"/>
<line x1="481.6" y1="580.4" x2="594.1" y2="481.9" stroke="#111" stroke-width="1.25"/>
<line x1="481.6" y1="582.2" x2="594.1" y2="550" stroke="#111" stroke-width="1.25"/>
<line x1="481.6" y1="583.9" x2="594.1" y2="567.2" stroke="#111" stroke-width="1.25"/>
<line x1="481.6" y1="585.9" x2="594.1" y2="573.2" stroke="#111" stroke-width="1.25"/>
<line x1="481.6" y1="587.9" x2="594.1" y2="570.2" stroke="#111" stroke-width="1.25"/>
<line x1="481.6" y1="589.7" x2="594.1" y2="576.2" stroke="#111" stroke-width="1.25"/>
<line x1="481.6" y1="591.7" x2="594.1" y2="578.1" stroke="#111" stroke-width="1.25"/>
<line x1="481.6" y1="593.7" x2="594.1" y2="580.1" stroke="#111" stroke-width="1.25"/>
<line x1="481.6" y1="598.2" x2="594.1" y2="601" stroke="#111" stroke-width="1.25"/>
<circle cx="481.6" cy="572.7" r="2.7" fill="#111"/>
<circle cx="481.6" cy="574.7" r="2.7" fill="#111"/>
<circle cx="481.6" cy="576.7" r="2.7" fill="#111"/>
<circle cx="481.6" cy="578.7" r="2.7" fill="#111"/>
<circle cx="481.6" cy="580.4" r="2.7" fill="#111"/>
<circle cx="481.6" cy="582.2" r="2.7" fill="#111"/>
<circle cx="481.6" cy="583.9" r="2.7" fill="#111"/>
<circle cx="481.6" cy="585.9" r="2.7" fill="#111"/>
<circle cx="481.6" cy="587.9" r="2.7" fill="#111"/>
<circle cx="481.6" cy="589.7" r="2.7" fill="#111"/>
<circle cx="481.6" cy="591.7" r="2.7" fill="#111"/>
<circle cx="481.6" cy="593.7" r="2.7" fill="#111"/>
<circle cx="481.6" cy="598.2" r="2.7" fill="#111"/>
<rect x="591.3" y="479.1" width="5.6" height="5.6" fill="#111"/>
<rect x="591.3" y="504.5" width="5.6" height="5.6" fill="#111"/>
<rect x="591.3" y="519.4" width="5.6" height="5.6" fill="#111"/>
<rect x="591.3" y="537" width="5.6" height="5.6" fill="#111"/>
<rect x="591.3" y="547.2" width="5.6" height="5.6" fill="#111"/>
<rect x="591.3" y="559.1" width="5.6" height="5.6" fill="#111"/>
<rect x="591.3" y="564.4" width="5.6" height="5.6" fill="#111"/>
<rect x="591.3" y="567.4" width="5.6" height="5.6" fill="#111"/>
<rect x="591.3" y="570.4" width="5.6" height="5.6" fill="#111"/>
<rect x="591.3" y="573.4" width="5.6" height="5.6" fill="#111"/>
<rect x="591.3" y="575.3" width="5.6" height="5.6" fill="#111"/>
<rect x="591.3" y="577.3" width="5.6" height="5.6" fill="#111"/>
<rect x="591.3" y="598.2" width="5.6" height="5.6" fill="#111"/>
<text x="466.53" y="625.8" font-size="11.4" font-weight="bold" fill="#111" textLength="31.42" lengthAdjust="spacingAndGlyphs">Basal</text>
<text x="576.21" y="625.8" font-size="11.4" font-weight="bold" fill="#111" textLength="35.93" lengthAdjust="spacingAndGlyphs">Bx-SN</text>
<text transform="translate(394.1 572.8) rotate(-90)" x="-0.31" y="0" font-size="12.2" font-weight="bold" fill="#111" textLength="52.91" lengthAdjust="spacingAndGlyphs">% CD11c</text>
<line x1="387.2" y1="518.3" x2="387.2" y2="512.9" stroke="#111" stroke-width="1.4"/>
<text transform="translate(394.1 508.2) rotate(-90)" x="-0.76" y="0" font-size="12.2" font-weight="bold" fill="#111" textLength="18.03" lengthAdjust="spacingAndGlyphs">Mφ</text>
<text x="526.05" y="470.1" font-size="16.11" font-weight="bold" fill="#111" textLength="6.79" lengthAdjust="spacingAndGlyphs">*</text>
<text x="535.13" y="470.1" font-size="16.11" font-weight="bold" fill="#111" textLength="6.79" lengthAdjust="spacingAndGlyphs">*</text>
<line x1="426.1" y1="672.5" x2="426.1" y2="827.7" stroke="#111" stroke-width="1.9"/>
<line x1="420.8" y1="673.3" x2="426.1" y2="673.3" stroke="#111" stroke-width="1.9"/>
<text x="397.41" y="677.3" font-size="11.2" font-weight="bold" fill="#111" textLength="17.75" lengthAdjust="spacingAndGlyphs">100</text>
<line x1="420.8" y1="704.02" x2="426.1" y2="704.02" stroke="#111" stroke-width="1.9"/>
<text x="403.3" y="708.02" font-size="11.2" font-weight="bold" fill="#111" textLength="11.83" lengthAdjust="spacingAndGlyphs">80</text>
<line x1="420.8" y1="734.74" x2="426.1" y2="734.74" stroke="#111" stroke-width="1.9"/>
<text x="403.3" y="738.74" font-size="11.2" font-weight="bold" fill="#111" textLength="11.83" lengthAdjust="spacingAndGlyphs">60</text>
<line x1="420.8" y1="765.46" x2="426.1" y2="765.46" stroke="#111" stroke-width="1.9"/>
<text x="403.3" y="769.46" font-size="11.2" font-weight="bold" fill="#111" textLength="11.83" lengthAdjust="spacingAndGlyphs">40</text>
<line x1="420.8" y1="796.18" x2="426.1" y2="796.18" stroke="#111" stroke-width="1.9"/>
<text x="403.3" y="800.18" font-size="11.2" font-weight="bold" fill="#111" textLength="11.83" lengthAdjust="spacingAndGlyphs">20</text>
<line x1="420.8" y1="826.9" x2="426.1" y2="826.9" stroke="#111" stroke-width="1.9"/>
<text x="409.24" y="830.9" font-size="11.2" font-weight="bold" fill="#111" textLength="5.92" lengthAdjust="spacingAndGlyphs">0</text>
<line x1="426.1" y1="826.9" x2="656.2" y2="826.9" stroke="#111" stroke-width="1.9"/>
<line x1="483" y1="826.9" x2="483" y2="831.9" stroke="#111" stroke-width="1.9"/>
<line x1="599.3" y1="826.9" x2="599.3" y2="831.9" stroke="#111" stroke-width="1.9"/>
<line x1="539.7" y1="667.7" x2="539.7" y2="826.9" stroke="#111" stroke-width="2.1" stroke-dasharray="7.4 3.2"/>
<line x1="654.5" y1="667.7" x2="654.5" y2="826.9" stroke="#111" stroke-width="2.1" stroke-dasharray="7.4 3.2"/>
<circle cx="506" cy="783.5" r="2.65" fill="#f4f4f4" stroke="#a3a3a3" stroke-width="1.9"/>
<circle cx="506" cy="790.8" r="2.65" fill="#f4f4f4" stroke="#a3a3a3" stroke-width="1.9"/>
<circle cx="506" cy="800.4" r="2.65" fill="#f4f4f4" stroke="#a3a3a3" stroke-width="1.9"/>
<circle cx="506" cy="802.8" r="2.65" fill="#f4f4f4" stroke="#a3a3a3" stroke-width="1.9"/>
<circle cx="506" cy="806.4" r="2.65" fill="#f4f4f4" stroke="#a3a3a3" stroke-width="1.9"/>
<circle cx="506" cy="812.4" r="2.65" fill="#f4f4f4" stroke="#a3a3a3" stroke-width="1.9"/>
<circle cx="506" cy="818.4" r="2.65" fill="#f4f4f4" stroke="#a3a3a3" stroke-width="1.9"/>
<circle cx="506" cy="821.3" r="2.65" fill="#f4f4f4" stroke="#a3a3a3" stroke-width="1.9"/>
<line x1="461.9" y1="680.6" x2="506" y2="790.8" stroke="#111" stroke-width="1.25"/>
<line x1="461.9" y1="682" x2="506" y2="802.8" stroke="#111" stroke-width="1.25"/>
<line x1="461.9" y1="694.5" x2="506" y2="783.5" stroke="#111" stroke-width="1.25"/>
<line x1="461.9" y1="733.5" x2="506" y2="800.4" stroke="#111" stroke-width="1.25"/>
<line x1="461.9" y1="753" x2="506" y2="806.4" stroke="#111" stroke-width="1.25"/>
<line x1="461.9" y1="754.7" x2="506" y2="812.4" stroke="#111" stroke-width="1.25"/>
<line x1="461.9" y1="762.4" x2="506" y2="806.4" stroke="#111" stroke-width="1.25"/>
<line x1="461.9" y1="781.9" x2="506" y2="818.4" stroke="#111" stroke-width="1.25"/>
<line x1="461.9" y1="786" x2="506" y2="821.3" stroke="#111" stroke-width="1.25"/>
<line x1="461.9" y1="797.7" x2="506" y2="821.3" stroke="#111" stroke-width="1.25"/>
<line x1="461.9" y1="811.7" x2="506" y2="818.4" stroke="#111" stroke-width="1.25"/>
<circle cx="461.9" cy="680.6" r="2.65" fill="#111"/>
<circle cx="461.9" cy="682" r="2.65" fill="#111"/>
<circle cx="461.9" cy="694.5" r="2.65" fill="#111"/>
<circle cx="461.9" cy="733.5" r="2.65" fill="#111"/>
<circle cx="461.9" cy="753" r="2.65" fill="#111"/>
<circle cx="461.9" cy="754.7" r="2.65" fill="#111"/>
<circle cx="461.9" cy="762.4" r="2.65" fill="#111"/>
<circle cx="461.9" cy="781.9" r="2.65" fill="#111"/>
<circle cx="461.9" cy="786" r="2.65" fill="#111"/>
<circle cx="461.9" cy="797.7" r="2.65" fill="#111"/>
<circle cx="461.9" cy="811.7" r="2.65" fill="#111"/>
<circle cx="620.9" cy="692.5" r="2.65" fill="#f4f4f4" stroke="#a3a3a3" stroke-width="1.9"/>
<circle cx="620.9" cy="761.8" r="2.65" fill="#f4f4f4" stroke="#a3a3a3" stroke-width="1.9"/>
<circle cx="620.9" cy="766.1" r="2.65" fill="#f4f4f4" stroke="#a3a3a3" stroke-width="1.9"/>
<circle cx="620.9" cy="777.5" r="2.65" fill="#f4f4f4" stroke="#a3a3a3" stroke-width="1.9"/>
<circle cx="620.9" cy="783.3" r="2.65" fill="#f4f4f4" stroke="#a3a3a3" stroke-width="1.9"/>
<circle cx="620.9" cy="785.8" r="2.65" fill="#f4f4f4" stroke="#a3a3a3" stroke-width="1.9"/>
<circle cx="620.9" cy="798.9" r="2.65" fill="#f4f4f4" stroke="#a3a3a3" stroke-width="1.9"/>
<circle cx="620.9" cy="802.7" r="2.65" fill="#f4f4f4" stroke="#a3a3a3" stroke-width="1.9"/>
<circle cx="620.9" cy="806.5" r="2.65" fill="#f4f4f4" stroke="#a3a3a3" stroke-width="1.9"/>
<line x1="577.5" y1="782.5" x2="620.9" y2="783.3" stroke="#111" stroke-width="1.25"/>
<line x1="577.5" y1="807.8" x2="620.9" y2="692.5" stroke="#111" stroke-width="1.25"/>
<line x1="577.5" y1="810.3" x2="620.9" y2="761.8" stroke="#111" stroke-width="1.25"/>
<line x1="577.5" y1="812.8" x2="620.9" y2="766.1" stroke="#111" stroke-width="1.25"/>
<line x1="577.5" y1="815.3" x2="620.9" y2="777.5" stroke="#111" stroke-width="1.25"/>
<line x1="577.5" y1="817.9" x2="620.9" y2="785.8" stroke="#111" stroke-width="1.25"/>
<line x1="577.5" y1="820.4" x2="620.9" y2="798.9" stroke="#111" stroke-width="1.25"/>
<line x1="577.5" y1="822.1" x2="620.9" y2="802.7" stroke="#111" stroke-width="1.25"/>
<line x1="577.5" y1="822.1" x2="620.9" y2="806.5" stroke="#111" stroke-width="1.25"/>
<line x1="577.5" y1="812.8" x2="620.9" y2="783.3" stroke="#111" stroke-width="1.25"/>
<circle cx="577.5" cy="782.5" r="2.65" fill="#111"/>
<circle cx="577.5" cy="807.8" r="2.65" fill="#111"/>
<circle cx="577.5" cy="810.3" r="2.65" fill="#111"/>
<circle cx="577.5" cy="812.8" r="2.65" fill="#111"/>
<circle cx="577.5" cy="815.3" r="2.65" fill="#111"/>
<circle cx="577.5" cy="817.9" r="2.65" fill="#111"/>
<circle cx="577.5" cy="820.4" r="2.65" fill="#111"/>
<circle cx="577.5" cy="822.1" r="2.65" fill="#111"/>
<text x="469.02" y="845.9" font-size="11.4" font-weight="bold" fill="#111" textLength="28.27" lengthAdjust="spacingAndGlyphs">IL-1β</text>
<text x="585.31" y="845.9" font-size="11.4" font-weight="bold" fill="#111" textLength="28.18" lengthAdjust="spacingAndGlyphs">IL-10</text>
<text transform="translate(386.8 832) rotate(-90)" x="-0.31" y="0" font-size="12.2" font-weight="bold" fill="#111" textLength="165.51" lengthAdjust="spacingAndGlyphs">% of intracellular cytokines</text>
<line x1="441" y1="652.3" x2="458.5" y2="652.3" stroke="#111" stroke-width="1.1"/>
<circle cx="449.5" cy="652.3" r="2.6" fill="#111"/>
<line x1="564.1" y1="652.1" x2="580.5" y2="652.1" stroke="#111" stroke-width="1.1"/>
<circle cx="572.5" cy="652.1" r="2.5" fill="#f4f4f4" stroke="#a3a3a3" stroke-width="1.7"/>
<text x="467.16" y="656.8" font-size="12" fill="#111" textLength="38.15" lengthAdjust="spacingAndGlyphs">CD11c</text>
<text x="505.22" y="652.2" font-size="9" fill="#111" textLength="6.77" lengthAdjust="spacingAndGlyphs">+</text>
<text x="589.56" y="657.2" font-size="12" fill="#111" textLength="38.35" lengthAdjust="spacingAndGlyphs">CD11c</text>
<line x1="628.6" y1="650.2" x2="634.8" y2="650.2" stroke="#111" stroke-width="1.2"/>
<text x="479.1" y="676.75" font-size="15.3" font-weight="bold" fill="#111" textLength="6.44" lengthAdjust="spacingAndGlyphs">*</text>
<text x="486.35" y="676.75" font-size="15.3" font-weight="bold" fill="#111" textLength="6.44" lengthAdjust="spacingAndGlyphs">*</text>
<text x="493.61" y="676.75" font-size="15.3" font-weight="bold" fill="#111" textLength="6.44" lengthAdjust="spacingAndGlyphs">*</text>
<text x="593.8" y="676.4" font-size="14.23" font-weight="bold" fill="#111" textLength="5.98" lengthAdjust="spacingAndGlyphs">*</text>
<text x="601.36" y="676.4" font-size="14.23" font-weight="bold" fill="#111" textLength="5.98" lengthAdjust="spacingAndGlyphs">*</text>
<path d="M5.1 162.6 L5.1 192.7 L38.3 192.7" fill="none" stroke="#111" stroke-width="1.8" stroke-linejoin="miter"/>
<path d="M0.9 168.6 L5.1 162.2 L9.3 168.6" fill="none" stroke="#111" stroke-width="1.8" stroke-linejoin="miter"/>
<path d="M31.7 188.4 L38.7 192.7 L31.7 197" fill="none" stroke="#111" stroke-width="1.8" stroke-linejoin="miter"/>
<text x="46.08" y="195" font-size="10.6" fill="#111" textLength="38.01" lengthAdjust="spacingAndGlyphs">HLA-DR</text>
<text transform="translate(8.8 154.1) rotate(-90)" x="-0.54" y="0" font-size="10.6" fill="#111" textLength="31.25" lengthAdjust="spacingAndGlyphs">CD11c</text>
<path d="M5.2 378.3 L5.2 407.8 L38.2 407.8" fill="none" stroke="#111" stroke-width="1.8" stroke-linejoin="miter"/>
<path d="M1 384.3 L5.2 377.9 L9.4 384.3" fill="none" stroke="#111" stroke-width="1.8" stroke-linejoin="miter"/>
<path d="M31.6 403.5 L38.6 407.8 L31.6 412.1" fill="none" stroke="#111" stroke-width="1.8" stroke-linejoin="miter"/>
<text x="46.19" y="410.4" font-size="10.6" fill="#111" textLength="37.7" lengthAdjust="spacingAndGlyphs">HLA-DR</text>
<text transform="translate(8.6 369.2) rotate(-90)" x="-0.54" y="0" font-size="10.6" fill="#111" textLength="30.84" lengthAdjust="spacingAndGlyphs">CD11c</text>
<path d="M5.3 603.5 L5.3 635.2 L40.5 635.2" fill="none" stroke="#111" stroke-width="1.8" stroke-linejoin="miter"/>
<path d="M1.1 609.5 L5.3 603.1 L9.5 609.5" fill="none" stroke="#111" stroke-width="1.8" stroke-linejoin="miter"/>
<path d="M33.9 630.9 L40.9 635.2 L33.9 639.5" fill="none" stroke="#111" stroke-width="1.8" stroke-linejoin="miter"/>
<text x="48.01" y="638.5" font-size="10.6" fill="#111" textLength="33.82" lengthAdjust="spacingAndGlyphs">CD11c</text>
<text transform="translate(8.8 597.8) rotate(-90)" x="-0.95" y="0" font-size="10.6" fill="#111" textLength="48.1" lengthAdjust="spacingAndGlyphs">Numbers</text>
<path d="M5.6 819 L5.6 850.2 L41 850.2" fill="none" stroke="#111" stroke-width="1.8" stroke-linejoin="miter"/>
<path d="M1.4 825 L5.6 818.6 L9.8 825" fill="none" stroke="#111" stroke-width="1.8" stroke-linejoin="miter"/>
<path d="M34.4 845.9 L41.4 850.2 L34.4 854.5" fill="none" stroke="#111" stroke-width="1.8" stroke-linejoin="miter"/>
<text x="48.89" y="853.7" font-size="10.6" fill="#111" textLength="25.75" lengthAdjust="spacingAndGlyphs">IL-10</text>
<text transform="translate(9.6 806.8) rotate(-90)" x="-1.03" y="0" font-size="10.6" fill="#111" textLength="26.48" lengthAdjust="spacingAndGlyphs">IL-1β</text>
<text x="0.5" y="7.5" font-size="14" font-weight="bold" fill="#111">a</text>
<text x="0.5" y="224" font-size="14" font-weight="bold" fill="#111">b</text>
<text x="0.5" y="437" font-size="14" font-weight="bold" fill="#111">c</text>
<text x="0.5" y="667.1" font-size="14" font-weight="bold" fill="#111">d</text>
</svg></body></html>
